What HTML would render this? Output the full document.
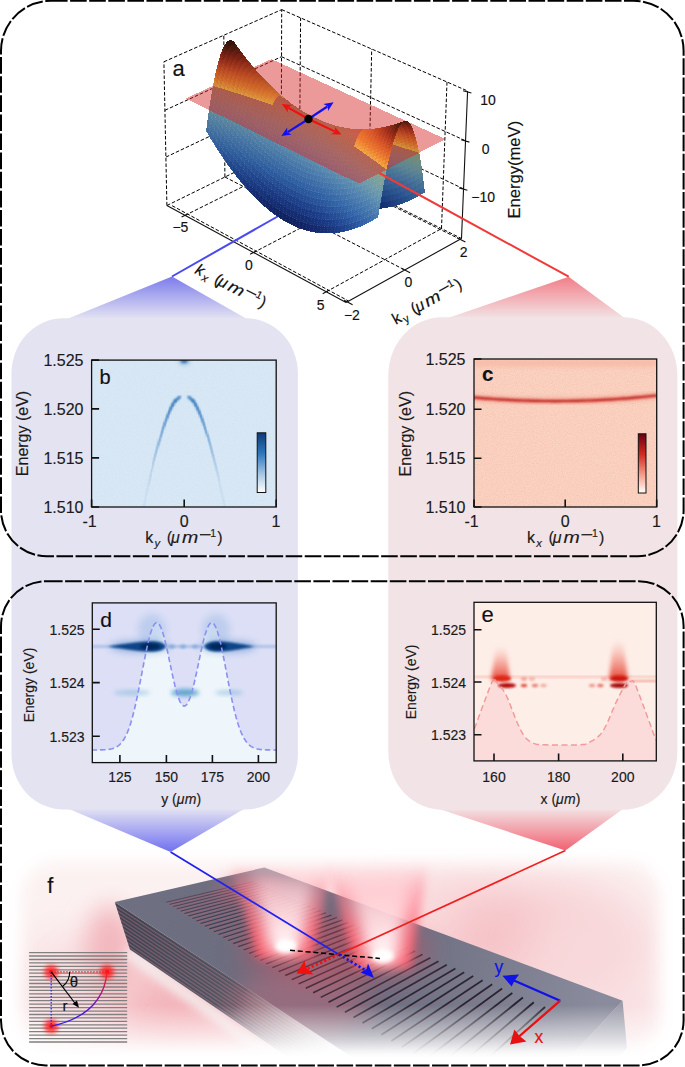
<!DOCTYPE html><html><head><meta charset="utf-8"><style>html,body{margin:0;padding:0;background:#fff;font-family:"Liberation Sans",sans-serif;}svg{display:block}</style></head><body>
<svg width="685" height="1067" viewBox="0 0 685 1067" style="font-family:&quot;Liberation Sans&quot;,sans-serif">
<defs>
<linearGradient id="gfunB1" x1="0" y1="276" x2="0" y2="319" gradientUnits="userSpaceOnUse">
 <stop offset="0" stop-color="#7a7aec"/><stop offset="1" stop-color="#e4e3f2"/></linearGradient>
<linearGradient id="gfunB2" x1="0" y1="852" x2="0" y2="808" gradientUnits="userSpaceOnUse">
 <stop offset="0" stop-color="#7070f0"/><stop offset="1" stop-color="#e4e3f2"/></linearGradient>
<linearGradient id="gfunR1" x1="0" y1="276" x2="0" y2="319" gradientUnits="userSpaceOnUse">
 <stop offset="0" stop-color="#f27c86"/><stop offset="1" stop-color="#f2e4e6"/></linearGradient>
<linearGradient id="gfunR2" x1="0" y1="851" x2="0" y2="808" gradientUnits="userSpaceOnUse">
 <stop offset="0" stop-color="#f26070"/><stop offset="1" stop-color="#f2e4e6"/></linearGradient>
<filter id="fb25" x="-50%" y="-50%" width="200%" height="200%"><feGaussianBlur stdDeviation="25"/></filter><filter id="fb12" x="-50%" y="-50%" width="200%" height="200%"><feGaussianBlur stdDeviation="12"/></filter><filter id="fb8" x="-50%" y="-50%" width="200%" height="200%"><feGaussianBlur stdDeviation="8"/></filter><filter id="fb4" x="-50%" y="-50%" width="200%" height="200%"><feGaussianBlur stdDeviation="4"/></filter><filter id="fb2" x="-50%" y="-50%" width="200%" height="200%"><feGaussianBlur stdDeviation="2"/></filter><filter id="fb1" x="-50%" y="-50%" width="200%" height="200%"><feGaussianBlur stdDeviation="0.8"/></filter><mask id="mf" maskUnits="userSpaceOnUse" x="0" y="820" width="685" height="247"><rect x="0" y="820" width="685" height="247" fill="#000"/><rect x="22" y="862" width="638" height="192" rx="34" fill="#fff" filter="url(#fb8)"/></mask><linearGradient id="gtop" gradientUnits="userSpaceOnUse" x1="150" y1="880" x2="600" y2="1010"><stop offset="0" stop-color="#6e6f80"/><stop offset="0.5" stop-color="#6a6b7e"/><stop offset="1" stop-color="#8a8b9c"/></linearGradient><linearGradient id="gfade" gradientUnits="userSpaceOnUse" x1="0" y1="1005" x2="0" y2="1058"><stop offset="0" stop-color="#fff" stop-opacity="0"/><stop offset="1" stop-color="#fff" stop-opacity="1"/></linearGradient><linearGradient id="gfadeL" gradientUnits="userSpaceOnUse" x1="120" y1="940" x2="330" y2="1060"><stop offset="0" stop-color="#fff" stop-opacity="0"/><stop offset="0.55" stop-color="#fff" stop-opacity="0.1"/><stop offset="1" stop-color="#fff" stop-opacity="0.95"/></linearGradient><linearGradient id="gbeamO" x1="0" y1="0" x2="0" y2="1"><stop offset="0" stop-color="#ffb0b8" stop-opacity="0.0"/><stop offset="0.3" stop-color="#ff8090" stop-opacity="0.5"/><stop offset="0.7" stop-color="#ff6070" stop-opacity="0.85"/><stop offset="1" stop-color="#ff5868" stop-opacity="0.95"/></linearGradient><linearGradient id="gbeamI" x1="0" y1="0" x2="0" y2="1"><stop offset="0" stop-color="#fff0f2" stop-opacity="0.15"/><stop offset="0.35" stop-color="#ffe0e4" stop-opacity="0.75"/><stop offset="0.8" stop-color="#fff4f6" stop-opacity="0.95"/><stop offset="1" stop-color="#ffffff" stop-opacity="1"/></linearGradient><filter id="noise" x="0" y="0" width="100%" height="100%">
<feTurbulence type="fractalNoise" baseFrequency="0.9" numOctaves="2" seed="3" result="t"/>
<feColorMatrix in="t" type="matrix" values="0 0 0 0 0  0 0 0 0 0  0 0 0 0 0  0 0 0 -1.2 0.75" result="a"/>
<feComposite in="SourceGraphic" in2="a" operator="in"/></filter><filter id="bl1" x="-50%" y="-50%" width="200%" height="200%"><feGaussianBlur stdDeviation="1.2"/></filter><filter id="bl2" x="-50%" y="-50%" width="200%" height="200%"><feGaussianBlur stdDeviation="2.2"/></filter><filter id="bl3" x="-50%" y="-50%" width="200%" height="200%"><feGaussianBlur stdDeviation="3.5"/></filter><filter id="bl5" x="-50%" y="-50%" width="200%" height="200%"><feGaussianBlur stdDeviation="5"/></filter><clipPath id="cpb"><rect x="91.6" y="360.1" width="184.6" height="146.9"/></clipPath><clipPath id="cpc"><rect x="474" y="359" width="182.7" height="148"/></clipPath><clipPath id="cpd"><rect x="92.3" y="602.9" width="183.9" height="159.7"/></clipPath><clipPath id="cpe"><rect x="474" y="602.3" width="182.3" height="158.6"/></clipPath><linearGradient id="cbB" x1="0" y1="0" x2="0" y2="1"><stop offset="0" stop-color="#0b3a78"/><stop offset="0.35" stop-color="#2f78bd"/><stop offset="0.7" stop-color="#a8c8e6"/><stop offset="1" stop-color="#ffffff"/></linearGradient><linearGradient id="cbR" x1="0" y1="0" x2="0" y2="1"><stop offset="0" stop-color="#6b0010"/><stop offset="0.35" stop-color="#d22a22"/><stop offset="0.7" stop-color="#f5a08a"/><stop offset="1" stop-color="#ffffff"/></linearGradient><linearGradient id="gplume" x1="0" y1="0" x2="0" y2="1"><stop offset="0" stop-color="#f8a090" stop-opacity="0"/><stop offset="0.5" stop-color="#f07060" stop-opacity="0.55"/><stop offset="1" stop-color="#e03020" stop-opacity="0.9"/></linearGradient></defs>
<g mask="url(#mf)"><rect x="0" y="840" width="685" height="227" fill="#fcf1f1"/><ellipse cx="180" cy="1010" rx="110" ry="55" fill="#f3b4ba" filter="url(#fb25)"/><ellipse cx="490" cy="935" rx="120" ry="50" fill="#f5c0c5" filter="url(#fb25)"/><ellipse cx="590" cy="950" rx="70" ry="60" fill="#f8d8da" filter="url(#fb25)"/><ellipse cx="380" cy="915" rx="90" ry="30" fill="#fae0e2" filter="url(#fb25)"/><ellipse cx="70" cy="990" rx="60" ry="50" fill="#f8dcdf" filter="url(#fb25)"/><ellipse cx="110" cy="950" rx="25" ry="45" fill="#f2b8be" filter="url(#fb12)"/><ellipse cx="620" cy="1030" rx="50" ry="30" fill="#f8d8dc" filter="url(#fb25)"/><path d="M121,955 L131,948 L305,1068 L285,1073 Z" fill="#f4eeee" opacity="0.85" filter="url(#fb4)"/><polygon points="114.8,901.9 402.0,1090.0 336.6,1090.0 130.0,949.5" fill="#50505f"/><path d="M116.2,906.4L376.2,1077.4M117.7,911.0L377.7,1082.5M119.1,915.5L379.1,1087.7M120.6,920.0L380.6,1092.8M122.0,924.6L382.0,1098.0M123.5,929.1L383.5,1103.1M124.9,933.6L384.9,1108.3M126.4,938.2L386.4,1113.4M127.8,942.7L387.8,1118.6M129.3,947.2L389.3,1123.7" stroke="#a06070" stroke-width="0.9" fill="none" opacity="0.6"/><path d="M115.6,904.4L375.6,1075.3M117.0,908.9L377.0,1080.5M118.5,913.5L378.5,1085.6M119.9,918.0L379.9,1090.8M121.4,922.5L381.4,1095.9M122.8,927.1L382.8,1101.1M124.3,931.6L384.3,1106.2M125.7,936.1L385.7,1111.4M127.2,940.7L387.2,1116.5M128.6,945.2L388.6,1121.7" stroke="#383844" stroke-width="1.0" fill="none" opacity="0.7"/><polygon points="622.6,1000.7 627.0,1048.0 590.0,1090.0 540.0,1090.0" fill="#9c9cab"/><polygon points="114.8,901.9 264.3,867.5 622.6,1000.7 540.0,1090.0 402.0,1090.0" fill="url(#gtop)"/><ellipse cx="300" cy="1005" rx="70" ry="35" fill="#e07080" opacity="0.35" filter="url(#fb12)"/><line x1="166.1" y1="903.5" x2="253.4" y2="882.8" stroke="#d85868" stroke-width="0.63" opacity="0.55"/><line x1="166.1" y1="902.3" x2="253.4" y2="881.6" stroke="rgb(80,62,82)" stroke-width="0.90" opacity="0.9"/><line x1="169.6" y1="905.6" x2="257.3" y2="884.5" stroke="#d85868" stroke-width="0.65" opacity="0.54"/><line x1="169.6" y1="904.4" x2="257.3" y2="883.3" stroke="rgb(78,61,80)" stroke-width="0.92" opacity="0.9"/><line x1="173.2" y1="907.9" x2="261.2" y2="886.2" stroke="#d85868" stroke-width="0.66" opacity="0.53"/><line x1="173.2" y1="906.6" x2="261.2" y2="885.0" stroke="rgb(77,60,79)" stroke-width="0.95" opacity="0.9"/><line x1="176.8" y1="910.2" x2="265.3" y2="888.0" stroke="#d85868" stroke-width="0.68" opacity="0.52"/><line x1="176.8" y1="908.9" x2="265.3" y2="886.7" stroke="rgb(76,59,78)" stroke-width="0.97" opacity="0.9"/><line x1="180.6" y1="912.5" x2="269.4" y2="889.8" stroke="#d85868" stroke-width="0.69" opacity="0.50"/><line x1="180.6" y1="911.2" x2="269.4" y2="888.5" stroke="rgb(74,58,77)" stroke-width="0.99" opacity="0.9"/><line x1="184.4" y1="914.9" x2="273.6" y2="891.6" stroke="#d85868" stroke-width="0.71" opacity="0.49"/><line x1="184.4" y1="913.5" x2="273.6" y2="890.3" stroke="rgb(73,57,76)" stroke-width="1.01" opacity="0.9"/><line x1="188.3" y1="917.3" x2="277.8" y2="893.5" stroke="#d85868" stroke-width="0.73" opacity="0.48"/><line x1="188.3" y1="916.0" x2="277.8" y2="892.1" stroke="rgb(72,56,75)" stroke-width="1.04" opacity="0.9"/><line x1="192.3" y1="919.8" x2="282.2" y2="895.4" stroke="#d85868" stroke-width="0.74" opacity="0.47"/><line x1="192.3" y1="918.4" x2="282.2" y2="894.0" stroke="rgb(71,56,74)" stroke-width="1.06" opacity="0.9"/><line x1="196.4" y1="922.3" x2="286.7" y2="897.3" stroke="#d85868" stroke-width="0.76" opacity="0.46"/><line x1="196.4" y1="920.9" x2="286.7" y2="895.9" stroke="rgb(70,55,73)" stroke-width="1.08" opacity="0.9"/><line x1="200.6" y1="925.0" x2="291.2" y2="899.3" stroke="#d85868" stroke-width="0.77" opacity="0.45"/><line x1="200.6" y1="923.5" x2="291.2" y2="897.9" stroke="rgb(68,54,72)" stroke-width="1.10" opacity="0.9"/><line x1="204.9" y1="927.6" x2="295.9" y2="901.3" stroke="#d85868" stroke-width="0.79" opacity="0.44"/><line x1="204.9" y1="926.2" x2="295.9" y2="899.9" stroke="rgb(67,53,71)" stroke-width="1.13" opacity="0.9"/><line x1="209.3" y1="930.4" x2="300.6" y2="903.4" stroke="#d85868" stroke-width="0.80" opacity="0.42"/><line x1="209.3" y1="928.9" x2="300.6" y2="901.9" stroke="rgb(66,52,70)" stroke-width="1.15" opacity="0.9"/><line x1="213.9" y1="933.2" x2="305.5" y2="905.5" stroke="#d85868" stroke-width="0.82" opacity="0.41"/><line x1="213.9" y1="931.7" x2="305.5" y2="904.0" stroke="rgb(65,51,69)" stroke-width="1.17" opacity="0.9"/><line x1="218.5" y1="936.1" x2="310.4" y2="907.7" stroke="#d85868" stroke-width="0.84" opacity="0.40"/><line x1="218.5" y1="934.5" x2="310.4" y2="906.1" stroke="rgb(63,51,68)" stroke-width="1.20" opacity="0.9"/><line x1="223.3" y1="939.0" x2="315.5" y2="909.9" stroke="#d85868" stroke-width="0.85" opacity="0.39"/><line x1="223.3" y1="937.5" x2="315.5" y2="908.3" stroke="rgb(62,50,67)" stroke-width="1.22" opacity="0.9"/><line x1="228.1" y1="942.1" x2="320.7" y2="912.1" stroke="#d85868" stroke-width="0.87" opacity="0.38"/><line x1="228.1" y1="940.5" x2="320.7" y2="910.5" stroke="rgb(61,49,65)" stroke-width="1.24" opacity="0.9"/><line x1="233.2" y1="945.2" x2="325.9" y2="914.4" stroke="#d85868" stroke-width="0.88" opacity="0.37"/><line x1="233.2" y1="943.6" x2="325.9" y2="912.8" stroke="rgb(60,48,64)" stroke-width="1.26" opacity="0.9"/><line x1="238.3" y1="948.4" x2="331.4" y2="916.8" stroke="#d85868" stroke-width="0.90" opacity="0.36"/><line x1="238.3" y1="946.7" x2="331.4" y2="915.1" stroke="rgb(58,47,63)" stroke-width="1.29" opacity="0.9"/><line x1="243.6" y1="951.7" x2="336.9" y2="919.2" stroke="#d85868" stroke-width="0.92" opacity="0.35"/><line x1="243.6" y1="950.0" x2="336.9" y2="917.5" stroke="rgb(57,46,62)" stroke-width="1.31" opacity="0.9"/><line x1="249.1" y1="955.1" x2="342.6" y2="921.7" stroke="#d85868" stroke-width="0.93" opacity="0.33"/><line x1="249.1" y1="953.3" x2="342.6" y2="919.9" stroke="rgb(56,46,61)" stroke-width="1.33" opacity="0.9"/><line x1="254.6" y1="958.5" x2="348.4" y2="924.2" stroke="#d85868" stroke-width="0.95" opacity="0.32"/><line x1="254.6" y1="956.8" x2="348.4" y2="922.4" stroke="rgb(55,45,60)" stroke-width="1.35" opacity="0.9"/><line x1="260.4" y1="962.1" x2="354.3" y2="926.8" stroke="#d85868" stroke-width="0.96" opacity="0.31"/><line x1="260.4" y1="960.3" x2="354.3" y2="925.0" stroke="rgb(53,44,59)" stroke-width="1.38" opacity="0.9"/><line x1="266.3" y1="965.8" x2="360.4" y2="929.4" stroke="#d85868" stroke-width="0.98" opacity="0.30"/><line x1="266.3" y1="963.9" x2="360.4" y2="927.6" stroke="rgb(52,43,58)" stroke-width="1.40" opacity="0.9"/><line x1="272.4" y1="969.5" x2="366.6" y2="932.1" stroke="#d85868" stroke-width="1.00" opacity="0.29"/><line x1="272.4" y1="967.7" x2="366.6" y2="930.3" stroke="rgb(51,42,57)" stroke-width="1.42" opacity="0.9"/><line x1="278.7" y1="973.4" x2="373.0" y2="934.9" stroke="#d85868" stroke-width="1.01" opacity="0.28"/><line x1="278.7" y1="971.6" x2="373.0" y2="933.0" stroke="rgb(50,41,56)" stroke-width="1.45" opacity="0.9"/><line x1="285.2" y1="977.4" x2="379.6" y2="937.8" stroke="#d85868" stroke-width="1.03" opacity="0.27"/><line x1="285.2" y1="975.5" x2="379.6" y2="935.9" stroke="rgb(48,40,55)" stroke-width="1.47" opacity="0.9"/><line x1="291.8" y1="981.6" x2="386.3" y2="940.7" stroke="#d85868" stroke-width="1.04" opacity="0.25"/><line x1="291.8" y1="979.6" x2="386.3" y2="938.7" stroke="rgb(47,40,54)" stroke-width="1.49" opacity="0.9"/><line x1="298.7" y1="985.8" x2="393.2" y2="943.7" stroke="#d85868" stroke-width="1.06" opacity="0.24"/><line x1="298.7" y1="983.9" x2="393.2" y2="941.7" stroke="rgb(46,39,53)" stroke-width="1.51" opacity="0.9"/><line x1="305.8" y1="990.2" x2="400.2" y2="946.7" stroke="#d85868" stroke-width="1.08" opacity="0.23"/><line x1="305.8" y1="988.2" x2="400.2" y2="944.7" stroke="rgb(45,38,52)" stroke-width="1.54" opacity="0.9"/><line x1="313.1" y1="994.8" x2="407.5" y2="949.9" stroke="#d85868" stroke-width="1.09" opacity="0.22"/><line x1="313.1" y1="992.7" x2="407.5" y2="947.9" stroke="rgb(43,37,51)" stroke-width="1.56" opacity="0.9"/><line x1="320.7" y1="999.4" x2="414.9" y2="953.1" stroke="#d85868" stroke-width="1.11" opacity="0.21"/><line x1="320.7" y1="997.4" x2="414.9" y2="951.1" stroke="rgb(42,36,49)" stroke-width="1.58" opacity="0.9"/><line x1="328.5" y1="1004.3" x2="422.6" y2="956.4" stroke="#d85868" stroke-width="1.12" opacity="0.20"/><line x1="328.5" y1="1002.2" x2="422.6" y2="954.4" stroke="rgb(41,35,48)" stroke-width="1.60" opacity="0.9"/><line x1="336.6" y1="1009.3" x2="430.4" y2="959.9" stroke="#d85868" stroke-width="1.14" opacity="0.19"/><line x1="336.6" y1="1007.1" x2="430.4" y2="957.7" stroke="rgb(40,35,47)" stroke-width="1.63" opacity="0.9"/><line x1="344.9" y1="1014.4" x2="438.5" y2="963.4" stroke="#d85868" stroke-width="1.15" opacity="0.17"/><line x1="344.9" y1="1012.3" x2="438.5" y2="961.2" stroke="rgb(38,34,46)" stroke-width="1.65" opacity="0.9"/><line x1="353.5" y1="1019.8" x2="446.8" y2="967.0" stroke="#d85868" stroke-width="1.17" opacity="0.16"/><line x1="353.5" y1="1017.6" x2="446.8" y2="964.8" stroke="rgb(37,33,45)" stroke-width="1.67" opacity="0.9"/><line x1="362.5" y1="1025.3" x2="455.4" y2="970.7" stroke="#d85868" stroke-width="1.19" opacity="0.15"/><line x1="362.5" y1="1023.1" x2="455.4" y2="968.5" stroke="rgb(36,32,44)" stroke-width="1.70" opacity="0.9"/><line x1="371.8" y1="1031.0" x2="464.2" y2="974.5" stroke="#d85868" stroke-width="1.20" opacity="0.14"/><line x1="371.8" y1="1028.8" x2="464.2" y2="972.2" stroke="rgb(35,31,43)" stroke-width="1.72" opacity="0.9"/><line x1="381.4" y1="1037.0" x2="473.2" y2="978.4" stroke="#d85868" stroke-width="1.22" opacity="0.13"/><line x1="381.4" y1="1034.7" x2="473.2" y2="976.1" stroke="rgb(33,30,42)" stroke-width="1.74" opacity="0.9"/><line x1="391.4" y1="1043.2" x2="482.6" y2="982.4" stroke="#d85868" stroke-width="1.23" opacity="0.12"/><line x1="391.4" y1="1040.9" x2="482.6" y2="980.2" stroke="rgb(32,30,41)" stroke-width="1.76" opacity="0.9"/><line x1="401.8" y1="1049.6" x2="492.2" y2="986.6" stroke="#d85868" stroke-width="1.25" opacity="0.11"/><line x1="401.8" y1="1047.3" x2="492.2" y2="984.3" stroke="rgb(31,29,40)" stroke-width="1.79" opacity="0.9"/><line x1="412.5" y1="1056.2" x2="502.1" y2="990.9" stroke="#d85868" stroke-width="1.27" opacity="0.10"/><line x1="412.5" y1="1053.9" x2="502.1" y2="988.5" stroke="rgb(30,28,39)" stroke-width="1.81" opacity="0.9"/><line x1="423.7" y1="1063.2" x2="512.3" y2="995.3" stroke="#d85868" stroke-width="1.28" opacity="0.08"/><line x1="423.7" y1="1060.8" x2="512.3" y2="992.9" stroke="rgb(28,27,38)" stroke-width="1.83" opacity="0.9"/><line x1="435.4" y1="1070.4" x2="522.9" y2="999.9" stroke="#d85868" stroke-width="1.30" opacity="0.07"/><line x1="435.4" y1="1067.9" x2="522.9" y2="997.5" stroke="rgb(27,26,37)" stroke-width="1.85" opacity="0.9"/><line x1="447.5" y1="1077.9" x2="533.8" y2="1004.6" stroke="#d85868" stroke-width="1.31" opacity="0.06"/><line x1="447.5" y1="1075.4" x2="533.8" y2="1002.2" stroke="rgb(26,25,36)" stroke-width="1.88" opacity="0.9"/><line x1="460.2" y1="1085.7" x2="545.0" y2="1009.5" stroke="#d85868" stroke-width="1.33" opacity="0.05"/><line x1="460.2" y1="1083.2" x2="545.0" y2="1007.0" stroke="rgb(25,25,35)" stroke-width="1.90" opacity="0.9"/><ellipse cx="335" cy="950" rx="95" ry="32" fill="#ff4050" opacity="0.30" filter="url(#fb12)"/><ellipse cx="252" cy="888" rx="36" ry="14" fill="#e86878" opacity="0.35" filter="url(#fb8)"/><path d="M258,958 L312,958 L334,858 L228,858 Z" fill="url(#gbeamO)" filter="url(#fb4)"/><path d="M356,968 L410,968 L430,856 L324,856 Z" fill="url(#gbeamO)" filter="url(#fb4)"/><path d="M270,953 L300,953 L318,866 L248,866 Z" fill="url(#gbeamI)" filter="url(#fb8)"/><path d="M368,963 L398,963 L414,864 L344,864 Z" fill="url(#gbeamI)" filter="url(#fb8)"/><ellipse cx="286" cy="946" rx="11" ry="7" fill="#ffffff" filter="url(#fb2)"/><ellipse cx="383" cy="956" rx="11" ry="7" fill="#ffffff" filter="url(#fb2)"/><rect x="0" y="1000" width="685" height="67" fill="url(#gfade)"/><polygon points="114.8,901.9 402.0,1090.0 336.6,1090.0 130.0,949.5" fill="url(#gfadeL)"/></g>
<line x1="170.6" y1="852" x2="338.8" y2="954.4" stroke="#2020f0" stroke-width="1.7"/>
<line x1="565.4" y1="850.6" x2="338.8" y2="954.4" stroke="#f02020" stroke-width="1.7"/>
<line x1="290" y1="950.2" x2="379.9" y2="958.5" stroke="#000" stroke-width="1.5" stroke-dasharray="5 2.8"/>
<line x1="338.8" y1="954.4" x2="308" y2="968.5" stroke="#f01010" stroke-width="2.6" stroke-dasharray="2.2 2.4"/>
<path d="M296.4,973.6 L304.5,960.5 L306,967.5 L313.5,974.5 Z" fill="#f01010"/>
<line x1="338.8" y1="954.4" x2="365" y2="970" stroke="#1010f0" stroke-width="2.6" stroke-dasharray="2.2 2.4"/>
<path d="M374,978 L360.5,972.5 L366.5,969 L368,963.5 Z" fill="#1010f0"/>
<line x1="560.2" y1="1000.7" x2="514" y2="980.5" stroke="#1010e8" stroke-width="2.3"/>
<path d="M502.5,975.7 L519,974.6 L514.5,980.8 L511.6,986.6 Z" fill="#1010e8"/>
<line x1="560.2" y1="1000.7" x2="519" y2="1036.5" stroke="#e81010" stroke-width="2.3"/>
<path d="M510,1044.6 L514.4,1029.6 L519.5,1036 L526.4,1041.6 Z" fill="#e81010"/>
<text x="494.5" y="972.5" font-size="17.5" fill="#1010e8" stroke="#1010e8" stroke-width="0.15">y</text>
<text x="534.5" y="1043" font-size="17.5" fill="#e81010" stroke="#e81010" stroke-width="0.15">x</text>
<text x="47.3" y="892.7" font-size="22" fill="#111" stroke="#111" stroke-width="0.15">f</text>
<path d="M29.1,952.6H127.2M29.1,956.0H127.2M29.1,959.5H127.2M29.1,962.9H127.2M29.1,966.4H127.2M29.1,969.8H127.2M29.1,973.2H127.2M29.1,976.7H127.2M29.1,980.1H127.2M29.1,983.5H127.2M29.1,987.0H127.2M29.1,990.4H127.2M29.1,993.9H127.2M29.1,997.3H127.2M29.1,1000.7H127.2M29.1,1004.2H127.2M29.1,1007.6H127.2M29.1,1011.1H127.2M29.1,1014.5H127.2M29.1,1017.9H127.2M29.1,1021.4H127.2M29.1,1024.8H127.2M29.1,1028.2H127.2M29.1,1031.7H127.2M29.1,1035.1H127.2M29.1,1038.6H127.2M29.1,1042.0H127.2" stroke="#808080" stroke-width="1.3" fill="none"/>
<circle cx="51.2" cy="971.9" r="7" fill="#ff2020" opacity="0.85" filter="url(#fb2)"/>
<circle cx="51.2" cy="971.9" r="2" fill="#ff1010"/>
<circle cx="107.1" cy="971.9" r="7" fill="#ff2020" opacity="0.85" filter="url(#fb2)"/>
<circle cx="107.1" cy="971.9" r="2" fill="#ff1010"/>
<circle cx="51.2" cy="1026.2" r="7" fill="#ff2020" opacity="0.85" filter="url(#fb2)"/>
<circle cx="51.2" cy="1026.2" r="2" fill="#ff1010"/>
<line x1="51.2" y1="971.9" x2="107.1" y2="971.9" stroke="#ff2020" stroke-width="1.2" stroke-dasharray="1.5 1.5"/>
<line x1="51.2" y1="971.9" x2="51.2" y2="1026.2" stroke="#2020ff" stroke-width="1.2" stroke-dasharray="1.5 1.5"/>
<defs><linearGradient id="gcur" x1="51" y1="1026" x2="107" y2="972" gradientUnits="userSpaceOnUse"><stop offset="0" stop-color="#2020ff"/><stop offset="0.55" stop-color="#6010d0"/><stop offset="1" stop-color="#ff2020"/></linearGradient></defs>
<path d="M51.2,1026.2 C80,1020 104,1005 107.1,971.9" stroke="url(#gcur)" stroke-width="1.3" fill="none"/>
<line x1="51.2" y1="971.9" x2="76" y2="1004.5" stroke="#000" stroke-width="1.2"/>
<path d="M79,1007.8 L72.5,1004 L77,1000.5 Z" fill="#000"/>
<path d="M69.7,971.9 A18.5,18.5 0 0 1 62.5,986.5" stroke="#000" stroke-width="1.1" fill="none"/>
<text x="69.8" y="987" font-size="15" fill="#111" stroke="#111" stroke-width="0.15">θ</text>
<text x="62.5" y="1011" font-size="15" fill="#111" stroke="#111" stroke-width="0.15">r</text>
<path d="M172,276.5 L67,319 L247,319 Z" fill="url(#gfunB1)"/>
<path d="M170.6,852 L69,809 L244,809 Z" fill="url(#gfunB2)"/>
<path d="M568.7,276.7 L445,319 L626,319 Z" fill="url(#gfunR1)"/>
<path d="M565.4,850.6 L439,809 L623,809 Z" fill="url(#gfunR2)"/>
<path d="M63.5,318.2 L245.89999999999998,318.2 A52,55 0 0 1 297.9,373.2 L297.9,754.5 A52,55 0 0 1 245.89999999999998,809.5 L63.5,809.5 A52,55 0 0 1 11.5,754.5 L11.5,373.2 A52,55 0 0 1 63.5,318.2 Z" fill="#e4e3f2"/>
<path d="M442.3,317.2 L623.4,317.2 A54,58 0 0 1 677.4,375.2 L677.4,751.7 A54,58 0 0 1 623.4,809.7 L442.3,809.7 A54,58 0 0 1 388.3,751.7 L388.3,375.2 A54,58 0 0 1 442.3,317.2 Z" fill="#f2e4e6"/>
<g clip-path="url(#cpb)">
<rect x="91.6" y="360.1" width="184.6" height="146.89999999999998" fill="#d9e8f5"/>
<rect x="91.6" y="360.1" width="184.6" height="146.89999999999998" fill="#c4dcf0" filter="url(#noise)" opacity="0.6"/>
<line x1="179.7" y1="397.0" x2="175.2" y2="400.9" stroke="#2a72bb" stroke-width="2.60" stroke-opacity="0.95" stroke-linecap="round" filter="url(#bl1)"/>
<line x1="175.2" y1="400.9" x2="172.7" y2="404.8" stroke="#2a72bb" stroke-width="2.57" stroke-opacity="0.90" stroke-linecap="round" filter="url(#bl1)"/>
<line x1="172.7" y1="404.8" x2="170.7" y2="408.7" stroke="#2a72bb" stroke-width="2.54" stroke-opacity="0.85" stroke-linecap="round" filter="url(#bl1)"/>
<line x1="170.7" y1="408.7" x2="169.0" y2="412.6" stroke="#2a72bb" stroke-width="2.52" stroke-opacity="0.80" stroke-linecap="round" filter="url(#bl1)"/>
<line x1="169.0" y1="412.6" x2="167.4" y2="416.5" stroke="#2a72bb" stroke-width="2.49" stroke-opacity="0.75" stroke-linecap="round" filter="url(#bl1)"/>
<line x1="167.4" y1="416.5" x2="165.9" y2="420.4" stroke="#2a72bb" stroke-width="2.46" stroke-opacity="0.70" stroke-linecap="round" filter="url(#bl1)"/>
<line x1="165.9" y1="420.4" x2="164.5" y2="424.3" stroke="#2a72bb" stroke-width="2.43" stroke-opacity="0.66" stroke-linecap="round" filter="url(#bl1)"/>
<line x1="164.5" y1="424.3" x2="163.2" y2="428.2" stroke="#2a72bb" stroke-width="2.41" stroke-opacity="0.61" stroke-linecap="round" filter="url(#bl1)"/>
<line x1="163.2" y1="428.2" x2="162.0" y2="432.1" stroke="#2a72bb" stroke-width="2.38" stroke-opacity="0.57" stroke-linecap="round" filter="url(#bl1)"/>
<line x1="162.0" y1="432.1" x2="160.8" y2="436.0" stroke="#2a72bb" stroke-width="2.35" stroke-opacity="0.52" stroke-linecap="round" filter="url(#bl1)"/>
<line x1="160.8" y1="436.0" x2="159.6" y2="439.9" stroke="#2a72bb" stroke-width="2.32" stroke-opacity="0.48" stroke-linecap="round" filter="url(#bl1)"/>
<line x1="159.6" y1="439.9" x2="158.5" y2="443.8" stroke="#2a72bb" stroke-width="2.30" stroke-opacity="0.44" stroke-linecap="round" filter="url(#bl1)"/>
<line x1="158.5" y1="443.8" x2="157.4" y2="447.7" stroke="#2a72bb" stroke-width="2.27" stroke-opacity="0.40" stroke-linecap="round" filter="url(#bl1)"/>
<line x1="157.4" y1="447.7" x2="156.4" y2="451.6" stroke="#2a72bb" stroke-width="2.24" stroke-opacity="0.37" stroke-linecap="round" filter="url(#bl1)"/>
<line x1="156.4" y1="451.6" x2="155.4" y2="455.4" stroke="#2a72bb" stroke-width="2.21" stroke-opacity="0.33" stroke-linecap="round" filter="url(#bl1)"/>
<line x1="155.4" y1="455.4" x2="154.4" y2="459.3" stroke="#2a72bb" stroke-width="2.19" stroke-opacity="0.30" stroke-linecap="round" filter="url(#bl1)"/>
<line x1="154.4" y1="459.3" x2="153.4" y2="463.2" stroke="#2a72bb" stroke-width="2.16" stroke-opacity="0.26" stroke-linecap="round" filter="url(#bl1)"/>
<line x1="153.4" y1="463.2" x2="152.5" y2="467.1" stroke="#2a72bb" stroke-width="2.13" stroke-opacity="0.23" stroke-linecap="round" filter="url(#bl1)"/>
<line x1="152.5" y1="467.1" x2="151.5" y2="471.0" stroke="#2a72bb" stroke-width="2.10" stroke-opacity="0.20" stroke-linecap="round" filter="url(#bl1)"/>
<line x1="151.5" y1="471.0" x2="150.6" y2="474.9" stroke="#2a72bb" stroke-width="2.08" stroke-opacity="0.17" stroke-linecap="round" filter="url(#bl1)"/>
<line x1="150.6" y1="474.9" x2="149.7" y2="478.8" stroke="#2a72bb" stroke-width="2.05" stroke-opacity="0.15" stroke-linecap="round" filter="url(#bl1)"/>
<line x1="149.7" y1="478.8" x2="148.9" y2="482.7" stroke="#2a72bb" stroke-width="2.02" stroke-opacity="0.12" stroke-linecap="round" filter="url(#bl1)"/>
<line x1="148.9" y1="482.7" x2="148.0" y2="486.6" stroke="#2a72bb" stroke-width="1.99" stroke-opacity="0.10" stroke-linecap="round" filter="url(#bl1)"/>
<line x1="148.0" y1="486.6" x2="147.1" y2="490.5" stroke="#2a72bb" stroke-width="1.97" stroke-opacity="0.08" stroke-linecap="round" filter="url(#bl1)"/>
<line x1="147.1" y1="490.5" x2="146.3" y2="494.4" stroke="#2a72bb" stroke-width="1.94" stroke-opacity="0.08" stroke-linecap="round" filter="url(#bl1)"/>
<line x1="146.3" y1="494.4" x2="145.5" y2="498.3" stroke="#2a72bb" stroke-width="1.91" stroke-opacity="0.08" stroke-linecap="round" filter="url(#bl1)"/>
<line x1="145.5" y1="498.3" x2="144.7" y2="502.2" stroke="#2a72bb" stroke-width="1.88" stroke-opacity="0.08" stroke-linecap="round" filter="url(#bl1)"/>
<line x1="144.7" y1="502.2" x2="143.9" y2="506.1" stroke="#2a72bb" stroke-width="1.86" stroke-opacity="0.08" stroke-linecap="round" filter="url(#bl1)"/>
<line x1="143.9" y1="506.1" x2="143.1" y2="510.0" stroke="#2a72bb" stroke-width="1.83" stroke-opacity="0.08" stroke-linecap="round" filter="url(#bl1)"/>
<line x1="188.7" y1="397.0" x2="193.2" y2="400.9" stroke="#2a72bb" stroke-width="2.60" stroke-opacity="0.95" stroke-linecap="round" filter="url(#bl1)"/>
<line x1="193.2" y1="400.9" x2="195.7" y2="404.8" stroke="#2a72bb" stroke-width="2.57" stroke-opacity="0.90" stroke-linecap="round" filter="url(#bl1)"/>
<line x1="195.7" y1="404.8" x2="197.7" y2="408.7" stroke="#2a72bb" stroke-width="2.54" stroke-opacity="0.85" stroke-linecap="round" filter="url(#bl1)"/>
<line x1="197.7" y1="408.7" x2="199.4" y2="412.6" stroke="#2a72bb" stroke-width="2.52" stroke-opacity="0.80" stroke-linecap="round" filter="url(#bl1)"/>
<line x1="199.4" y1="412.6" x2="201.0" y2="416.5" stroke="#2a72bb" stroke-width="2.49" stroke-opacity="0.75" stroke-linecap="round" filter="url(#bl1)"/>
<line x1="201.0" y1="416.5" x2="202.5" y2="420.4" stroke="#2a72bb" stroke-width="2.46" stroke-opacity="0.70" stroke-linecap="round" filter="url(#bl1)"/>
<line x1="202.5" y1="420.4" x2="203.9" y2="424.3" stroke="#2a72bb" stroke-width="2.43" stroke-opacity="0.66" stroke-linecap="round" filter="url(#bl1)"/>
<line x1="203.9" y1="424.3" x2="205.2" y2="428.2" stroke="#2a72bb" stroke-width="2.41" stroke-opacity="0.61" stroke-linecap="round" filter="url(#bl1)"/>
<line x1="205.2" y1="428.2" x2="206.4" y2="432.1" stroke="#2a72bb" stroke-width="2.38" stroke-opacity="0.57" stroke-linecap="round" filter="url(#bl1)"/>
<line x1="206.4" y1="432.1" x2="207.6" y2="436.0" stroke="#2a72bb" stroke-width="2.35" stroke-opacity="0.52" stroke-linecap="round" filter="url(#bl1)"/>
<line x1="207.6" y1="436.0" x2="208.8" y2="439.9" stroke="#2a72bb" stroke-width="2.32" stroke-opacity="0.48" stroke-linecap="round" filter="url(#bl1)"/>
<line x1="208.8" y1="439.9" x2="209.9" y2="443.8" stroke="#2a72bb" stroke-width="2.30" stroke-opacity="0.44" stroke-linecap="round" filter="url(#bl1)"/>
<line x1="209.9" y1="443.8" x2="211.0" y2="447.7" stroke="#2a72bb" stroke-width="2.27" stroke-opacity="0.40" stroke-linecap="round" filter="url(#bl1)"/>
<line x1="211.0" y1="447.7" x2="212.0" y2="451.6" stroke="#2a72bb" stroke-width="2.24" stroke-opacity="0.37" stroke-linecap="round" filter="url(#bl1)"/>
<line x1="212.0" y1="451.6" x2="213.0" y2="455.4" stroke="#2a72bb" stroke-width="2.21" stroke-opacity="0.33" stroke-linecap="round" filter="url(#bl1)"/>
<line x1="213.0" y1="455.4" x2="214.0" y2="459.3" stroke="#2a72bb" stroke-width="2.19" stroke-opacity="0.30" stroke-linecap="round" filter="url(#bl1)"/>
<line x1="214.0" y1="459.3" x2="215.0" y2="463.2" stroke="#2a72bb" stroke-width="2.16" stroke-opacity="0.26" stroke-linecap="round" filter="url(#bl1)"/>
<line x1="215.0" y1="463.2" x2="215.9" y2="467.1" stroke="#2a72bb" stroke-width="2.13" stroke-opacity="0.23" stroke-linecap="round" filter="url(#bl1)"/>
<line x1="215.9" y1="467.1" x2="216.9" y2="471.0" stroke="#2a72bb" stroke-width="2.10" stroke-opacity="0.20" stroke-linecap="round" filter="url(#bl1)"/>
<line x1="216.9" y1="471.0" x2="217.8" y2="474.9" stroke="#2a72bb" stroke-width="2.08" stroke-opacity="0.17" stroke-linecap="round" filter="url(#bl1)"/>
<line x1="217.8" y1="474.9" x2="218.7" y2="478.8" stroke="#2a72bb" stroke-width="2.05" stroke-opacity="0.15" stroke-linecap="round" filter="url(#bl1)"/>
<line x1="218.7" y1="478.8" x2="219.5" y2="482.7" stroke="#2a72bb" stroke-width="2.02" stroke-opacity="0.12" stroke-linecap="round" filter="url(#bl1)"/>
<line x1="219.5" y1="482.7" x2="220.4" y2="486.6" stroke="#2a72bb" stroke-width="1.99" stroke-opacity="0.10" stroke-linecap="round" filter="url(#bl1)"/>
<line x1="220.4" y1="486.6" x2="221.3" y2="490.5" stroke="#2a72bb" stroke-width="1.97" stroke-opacity="0.08" stroke-linecap="round" filter="url(#bl1)"/>
<line x1="221.3" y1="490.5" x2="222.1" y2="494.4" stroke="#2a72bb" stroke-width="1.94" stroke-opacity="0.08" stroke-linecap="round" filter="url(#bl1)"/>
<line x1="222.1" y1="494.4" x2="222.9" y2="498.3" stroke="#2a72bb" stroke-width="1.91" stroke-opacity="0.08" stroke-linecap="round" filter="url(#bl1)"/>
<line x1="222.9" y1="498.3" x2="223.7" y2="502.2" stroke="#2a72bb" stroke-width="1.88" stroke-opacity="0.08" stroke-linecap="round" filter="url(#bl1)"/>
<line x1="223.7" y1="502.2" x2="224.5" y2="506.1" stroke="#2a72bb" stroke-width="1.86" stroke-opacity="0.08" stroke-linecap="round" filter="url(#bl1)"/>
<line x1="224.5" y1="506.1" x2="225.3" y2="510.0" stroke="#2a72bb" stroke-width="1.83" stroke-opacity="0.08" stroke-linecap="round" filter="url(#bl1)"/>
<ellipse cx="184.2" cy="361" rx="6" ry="4" fill="#5a98d0" opacity="0.5" filter="url(#bl2)"/><ellipse cx="184.2" cy="361" rx="3.5" ry="2" fill="#2a70b0" opacity="0.85" filter="url(#bl1)"/>
</g>
<rect x="91.6" y="360.1" width="184.6" height="146.89999999999998" fill="none" stroke="#111" stroke-width="1.3"/>
<path d="M91.6,408.9h7.5M91.6,457.9h7.5M184.2,507.0v-7.5M91.6,360.1h7.5M91.6,507.0h7.5M91.6,507.0v-7.5M276.2,507.0v-7.5" stroke="#111" stroke-width="1.6" fill="none"/>
<rect x="257.2" y="432.8" width="8.6" height="59.7" fill="url(#cbB)" stroke="#111" stroke-width="1"/>
<text x="83.5" y="365.7" font-size="16" text-anchor="end" fill="#1a1a1a" stroke="#1a1a1a" stroke-width="0.15">1.525</text>
<text x="83.5" y="414.5" font-size="16" text-anchor="end" fill="#1a1a1a" stroke="#1a1a1a" stroke-width="0.15">1.520</text>
<text x="83.5" y="463.5" font-size="16" text-anchor="end" fill="#1a1a1a" stroke="#1a1a1a" stroke-width="0.15">1.515</text>
<text x="83.5" y="512.6" font-size="16" text-anchor="end" fill="#1a1a1a" stroke="#1a1a1a" stroke-width="0.15">1.510</text>
<text x="89.5" y="527.3" font-size="16" text-anchor="middle" fill="#1a1a1a" stroke="#1a1a1a" stroke-width="0.15">-1</text>
<text x="184.2" y="527.3" font-size="16" text-anchor="middle" fill="#1a1a1a" stroke="#1a1a1a" stroke-width="0.15">0</text>
<text x="276.0" y="527.3" font-size="16" text-anchor="middle" fill="#1a1a1a" stroke="#1a1a1a" stroke-width="0.15">1</text>
<text x="99.6" y="384.3" font-size="20" fill="#111" stroke="#111" stroke-width="0.15">b</text>
<text transform="translate(28.3,433.5) rotate(-90)" font-size="16" text-anchor="middle" fill="#1a1a1a" stroke="#1a1a1a" stroke-width="0.15">Energy (eV)</text>
<g transform="translate(146.3,543.3)" fill="#1a1a1a" stroke="#1a1a1a" stroke-width="0.15"><text x="-1.00" y="0" font-size="16">k</text><text x="8.30" y="3.40" font-size="11.20" font-style="italic">y</text><text x="20.40" y="0" font-size="16">(</text><text x="24.80" y="0" font-size="16" font-style="italic">μ</text><text transform="translate(35.60,0) scale(1.22,1)" font-size="16" font-style="italic">m</text><rect x="53.70" y="-9.20" width="10.60" height="1.15"/><text x="64.00" y="-6.40" font-size="10.50">1</text><text x="71.00" y="0" font-size="16">)</text></g>
<g clip-path="url(#cpc)">
<rect x="474.0" y="359.0" width="182.70000000000005" height="148.0" fill="#fbd3c2"/>
<rect x="474.0" y="359.0" width="182.70000000000005" height="148.0" fill="#f2b09c" filter="url(#noise)" opacity="0.7"/>
<rect x="474.0" y="359.0" width="182.70000000000005" height="8" fill="#f6b7a2" filter="url(#bl2)" opacity="0.7"/>
<polyline points="469.0,397.1 473.9,397.5 478.9,397.9 483.8,398.3 488.8,398.7 493.7,399.0 498.6,399.3 503.6,399.6 508.5,399.9 513.5,400.1 518.4,400.3 523.4,400.5 528.3,400.7 533.2,400.8 538.2,400.9 543.1,401.0 548.1,401.0 553.0,401.1 557.9,401.1 562.9,401.0 567.8,401.0 572.8,400.9 577.7,400.8 582.6,400.6 587.6,400.5 592.5,400.3 597.5,400.1 602.4,399.8 607.3,399.6 612.3,399.3 617.2,399.0 622.2,398.6 627.1,398.3 632.1,397.9 637.0,397.4 641.9,397.0 646.9,396.5 651.8,396.0 656.8,395.5 661.7,394.9" fill="none" stroke="#e86050" stroke-width="5" opacity="0.5" filter="url(#bl2)"/>
<polyline points="469.0,397.1 473.9,397.5 478.9,397.9 483.8,398.3 488.8,398.7 493.7,399.0 498.6,399.3 503.6,399.6 508.5,399.9 513.5,400.1 518.4,400.3 523.4,400.5 528.3,400.7 533.2,400.8 538.2,400.9 543.1,401.0 548.1,401.0 553.0,401.1 557.9,401.1 562.9,401.0 567.8,401.0 572.8,400.9 577.7,400.8 582.6,400.6 587.6,400.5 592.5,400.3 597.5,400.1 602.4,399.8 607.3,399.6 612.3,399.3 617.2,399.0 622.2,398.6 627.1,398.3 632.1,397.9 637.0,397.4 641.9,397.0 646.9,396.5 651.8,396.0 656.8,395.5 661.7,394.9" fill="none" stroke="#b81818" stroke-width="2.2" opacity="0.95" filter="url(#bl1)"/>
</g>
<rect x="474.0" y="359.0" width="182.70000000000005" height="148.0" fill="none" stroke="#111" stroke-width="1.3"/>
<path d="M474.0,409.3h7.5M474.0,458.3h7.5M565.2,507.0v-7.5M474.0,359.0h7.5M474.0,507.0h7.5M474.0,507.0v-7.5M656.7,507.0v-7.5" stroke="#111" stroke-width="1.6" fill="none"/>
<rect x="638.3" y="433.8" width="7.7" height="59.2" fill="url(#cbR)" stroke="#111" stroke-width="1"/>
<text x="465.5" y="364.6" font-size="16" text-anchor="end" fill="#1a1a1a" stroke="#1a1a1a" stroke-width="0.15">1.525</text>
<text x="465.5" y="414.9" font-size="16" text-anchor="end" fill="#1a1a1a" stroke="#1a1a1a" stroke-width="0.15">1.520</text>
<text x="465.5" y="463.9" font-size="16" text-anchor="end" fill="#1a1a1a" stroke="#1a1a1a" stroke-width="0.15">1.515</text>
<text x="465.5" y="512.6" font-size="16" text-anchor="end" fill="#1a1a1a" stroke="#1a1a1a" stroke-width="0.15">1.510</text>
<text x="471.5" y="527.3" font-size="16" text-anchor="middle" fill="#1a1a1a" stroke="#1a1a1a" stroke-width="0.15">-1</text>
<text x="565.2" y="527.3" font-size="16" text-anchor="middle" fill="#1a1a1a" stroke="#1a1a1a" stroke-width="0.15">0</text>
<text x="656.5" y="527.3" font-size="16" text-anchor="middle" fill="#1a1a1a" stroke="#1a1a1a" stroke-width="0.15">1</text>
<text x="482" y="381.4" font-size="20.5" font-weight="bold" fill="#111" stroke="#111" stroke-width="0.15">c</text>
<text transform="translate(410.5,433.7) rotate(-90)" font-size="16" text-anchor="middle" fill="#1a1a1a" stroke="#1a1a1a" stroke-width="0.15">Energy (eV)</text>
<g transform="translate(528.0,543.3)" fill="#1a1a1a" stroke="#1a1a1a" stroke-width="0.15"><text x="-1.00" y="0" font-size="16">k</text><text x="8.30" y="3.40" font-size="11.20" font-style="italic">x</text><text x="20.40" y="0" font-size="16">(</text><text x="24.80" y="0" font-size="16" font-style="italic">μ</text><text transform="translate(35.60,0) scale(1.22,1)" font-size="16" font-style="italic">m</text><rect x="53.70" y="-9.20" width="10.60" height="1.15"/><text x="64.00" y="-6.40" font-size="10.50">1</text><text x="71.00" y="0" font-size="16">)</text></g>
<g clip-path="url(#cpd)">
<rect x="92.3" y="602.9" width="183.89999999999998" height="159.70000000000005" fill="#dcdff6"/>
<polygon points="83.1,750.0 84.8,750.0 86.5,750.0 88.2,750.0 89.9,750.0 91.6,750.0 93.3,750.0 95.0,750.0 96.7,750.0 98.4,750.0 100.1,749.9 101.8,749.9 103.5,749.8 105.2,749.7 106.9,749.6 108.6,749.4 110.3,749.1 112.0,748.7 113.7,748.2 115.4,747.5 117.1,746.6 118.8,745.4 120.5,743.8 122.2,741.8 123.9,739.3 125.6,736.3 127.3,732.6 129.0,728.3 130.7,723.2 132.4,717.3 134.1,710.7 135.8,703.4 137.5,695.5 139.2,687.1 140.9,678.3 142.6,669.4 144.3,660.6 146.0,652.1 147.7,644.2 149.4,637.3 151.1,631.4 152.8,627.0 154.5,624.0 156.2,622.6 157.9,623.0 159.6,625.0 161.3,628.5 163.0,633.4 164.7,639.6 166.4,646.6 168.1,654.3 169.8,662.4 171.5,670.5 173.2,678.3 174.9,685.5 176.6,691.9 178.3,697.3 180.0,701.6 181.7,704.5 183.4,705.9 185.1,705.9 186.8,704.5 188.5,701.6 190.2,697.3 191.9,691.9 193.6,685.5 195.3,678.3 197.0,670.5 198.7,662.4 200.4,654.3 202.1,646.6 203.8,639.6 205.5,633.4 207.2,628.5 208.9,625.0 210.6,623.0 212.3,622.6 214.0,624.0 215.7,627.0 217.4,631.4 219.1,637.3 220.8,644.2 222.5,652.1 224.2,660.6 225.9,669.4 227.6,678.3 229.3,687.1 231.0,695.5 232.7,703.4 234.4,710.7 236.1,717.3 237.8,723.2 239.5,728.3 241.2,732.6 242.9,736.3 244.6,739.3 246.3,741.8 248.0,743.8 249.7,745.4 251.4,746.6 253.1,747.5 254.8,748.2 256.5,748.7 258.2,749.1 259.9,749.4 261.6,749.6 263.3,749.7 265.0,749.8 266.7,749.9 268.4,749.9 270.1,750.0 271.8,750.0 273.5,750.0 275.2,750.0 276.9,750.0 278.6,750.0 280.3,750.0 282.0,750.0 283.7,750.0 285.4,750.0 281.2,767.6 87.3,767.6" fill="#eef5fb"/>
<ellipse cx="152" cy="630" rx="14" ry="16" fill="#9ab8e4" opacity="0.45" filter="url(#bl3)"/>
<ellipse cx="216" cy="630" rx="14" ry="16" fill="#9ab8e4" opacity="0.45" filter="url(#bl3)"/>
<rect x="92" y="645" width="185" height="3" fill="#7aa0d8" opacity="0.45" filter="url(#bl1)"/>
<ellipse cx="140" cy="646.5" rx="30" ry="6" fill="#3a78c0" opacity="0.45" filter="url(#bl3)"/>
<ellipse cx="228" cy="646.5" rx="28" ry="6" fill="#3a78c0" opacity="0.45" filter="url(#bl3)"/>
<path d="M108,646.5 C125,644 140,641.5 152,641.3 C160,641.3 164.5,643.5 165.5,646.5 C164.5,649.5 160,651.7 152,651.7 C140,651.5 125,649 108,646.5 Z" fill="#0b4488" filter="url(#bl1)"/>
<ellipse cx="150" cy="646.5" rx="10" ry="3.3" fill="#05285c" filter="url(#bl1)"/>
<path d="M254,646.5 C240,644 228,641.5 217,641.3 C210,641.3 205.5,643.5 204.5,646.5 C205.5,649.5 210,651.7 217,651.7 C228,651.5 240,649 254,646.5 Z" fill="#0b4488" filter="url(#bl1)"/>
<ellipse cx="218" cy="646.5" rx="9" ry="3.3" fill="#05285c" filter="url(#bl1)"/>
<ellipse cx="172" cy="646.5" rx="3" ry="2" fill="#7aa6d6" opacity="0.7" filter="url(#bl1)"/>
<ellipse cx="183" cy="646.5" rx="3" ry="2" fill="#7aa6d6" opacity="0.7" filter="url(#bl1)"/>
<ellipse cx="195" cy="646.5" rx="3" ry="2" fill="#7aa6d6" opacity="0.7" filter="url(#bl1)"/>
<ellipse cx="185" cy="692.7" rx="14" ry="3.6" fill="#4a9cc8" opacity="0.85" filter="url(#bl2)"/>
<ellipse cx="132" cy="692.7" rx="18" ry="2.6" fill="#6aaed0" opacity="0.45" filter="url(#bl2)"/>
<ellipse cx="229" cy="692.7" rx="14" ry="2.6" fill="#6aaed0" opacity="0.45" filter="url(#bl2)"/>
<polyline points="83.1,750.0 84.8,750.0 86.5,750.0 88.2,750.0 89.9,750.0 91.6,750.0 93.3,750.0 95.0,750.0 96.7,750.0 98.4,750.0 100.1,749.9 101.8,749.9 103.5,749.8 105.2,749.7 106.9,749.6 108.6,749.4 110.3,749.1 112.0,748.7 113.7,748.2 115.4,747.5 117.1,746.6 118.8,745.4 120.5,743.8 122.2,741.8 123.9,739.3 125.6,736.3 127.3,732.6 129.0,728.3 130.7,723.2 132.4,717.3 134.1,710.7 135.8,703.4 137.5,695.5 139.2,687.1 140.9,678.3 142.6,669.4 144.3,660.6 146.0,652.1 147.7,644.2 149.4,637.3 151.1,631.4 152.8,627.0 154.5,624.0 156.2,622.6 157.9,623.0 159.6,625.0 161.3,628.5 163.0,633.4 164.7,639.6 166.4,646.6 168.1,654.3 169.8,662.4 171.5,670.5 173.2,678.3 174.9,685.5 176.6,691.9 178.3,697.3 180.0,701.6 181.7,704.5 183.4,705.9 185.1,705.9 186.8,704.5 188.5,701.6 190.2,697.3 191.9,691.9 193.6,685.5 195.3,678.3 197.0,670.5 198.7,662.4 200.4,654.3 202.1,646.6 203.8,639.6 205.5,633.4 207.2,628.5 208.9,625.0 210.6,623.0 212.3,622.6 214.0,624.0 215.7,627.0 217.4,631.4 219.1,637.3 220.8,644.2 222.5,652.1 224.2,660.6 225.9,669.4 227.6,678.3 229.3,687.1 231.0,695.5 232.7,703.4 234.4,710.7 236.1,717.3 237.8,723.2 239.5,728.3 241.2,732.6 242.9,736.3 244.6,739.3 246.3,741.8 248.0,743.8 249.7,745.4 251.4,746.6 253.1,747.5 254.8,748.2 256.5,748.7 258.2,749.1 259.9,749.4 261.6,749.6 263.3,749.7 265.0,749.8 266.7,749.9 268.4,749.9 270.1,750.0 271.8,750.0 273.5,750.0 275.2,750.0 276.9,750.0 278.6,750.0 280.3,750.0 282.0,750.0 283.7,750.0 285.4,750.0" fill="none" stroke="#8c90f0" stroke-width="1.6" stroke-dasharray="5.5 3"/>
</g>
<rect x="92.3" y="602.9" width="183.89999999999998" height="159.70000000000005" fill="none" stroke="#111" stroke-width="1.3"/>
<path d="M92.3,629.2h7.5M92.3,682.6h7.5M92.3,736.2h7.5M119.9,762.6v-7.5M166.4,762.6v-7.5M212.4,762.6v-7.5M258.4,762.6v-7.5" stroke="#111" stroke-width="1.6" fill="none"/>
<text x="84.6" y="634.8" font-size="14" text-anchor="end" fill="#1a1a1a" stroke="#1a1a1a" stroke-width="0.15">1.525</text>
<text x="84.6" y="688.2" font-size="14" text-anchor="end" fill="#1a1a1a" stroke="#1a1a1a" stroke-width="0.15">1.524</text>
<text x="84.6" y="741.8" font-size="14" text-anchor="end" fill="#1a1a1a" stroke="#1a1a1a" stroke-width="0.15">1.523</text>
<text x="119.9" y="782.1" font-size="14" text-anchor="middle" fill="#1a1a1a" stroke="#1a1a1a" stroke-width="0.15">125</text>
<text x="166.4" y="782.1" font-size="14" text-anchor="middle" fill="#1a1a1a" stroke="#1a1a1a" stroke-width="0.15">150</text>
<text x="212.4" y="782.1" font-size="14" text-anchor="middle" fill="#1a1a1a" stroke="#1a1a1a" stroke-width="0.15">175</text>
<text x="258.4" y="782.1" font-size="14" text-anchor="middle" fill="#1a1a1a" stroke="#1a1a1a" stroke-width="0.15">200</text>
<text x="100.2" y="626.8" font-size="21" fill="#111" stroke="#111" stroke-width="0.15">d</text>
<text transform="translate(33.6,685) rotate(-90)" font-size="14" text-anchor="middle" fill="#1a1a1a" stroke="#1a1a1a" stroke-width="0.15">Energy (eV)</text>
<text x="161.2" y="804.4" font-size="14" fill="#1a1a1a" stroke="#1a1a1a" stroke-width="0.15">y (<tspan font-style="italic">μ</tspan><tspan font-style="italic" dx="0.3">m</tspan>)</text>
<g clip-path="url(#cpe)">
<rect x="474.0" y="602.3" width="182.29999999999995" height="158.60000000000002" fill="#fdeee8"/>
<polygon points="470.0,737.0 470.2,736.7 470.4,736.6 470.6,736.6 470.9,736.3 471.3,735.7 471.9,734.5 472.8,732.5 474.0,729.6 475.7,725.2 477.9,719.3 480.4,712.5 483.1,705.1 485.8,697.9 488.3,691.2 490.5,685.6 492.2,681.6 493.3,679.2 494.0,677.9 494.4,677.5 494.6,677.8 494.8,678.5 495.0,679.5 495.3,680.6 496.0,681.6 496.9,682.5 498.0,683.7 499.2,685.0 500.5,686.6 501.9,688.3 503.3,690.3 504.7,692.6 506.0,695.0 507.4,697.9 508.8,701.2 510.3,704.9 511.7,708.7 513.2,712.6 514.6,716.3 516.0,719.7 517.2,722.6 518.3,725.1 519.4,727.3 520.3,729.3 521.2,731.1 522.2,732.8 523.1,734.3 524.0,735.7 525.0,737.0 526.0,738.2 527.1,739.3 528.1,740.2 529.2,741.0 530.3,741.7 531.4,742.3 532.6,742.9 533.8,743.4 534.9,743.8 535.9,744.1 536.8,744.4 537.8,744.5 539.0,744.6 540.5,744.7 542.4,744.7 545.0,744.8 548.4,744.9 552.7,745.0 557.5,745.0 562.6,745.1 567.7,745.1 572.4,745.0 576.7,744.9 580.0,744.8 582.4,744.6 584.2,744.5 585.4,744.3 586.4,744.1 587.1,743.8 587.9,743.3 588.8,742.8 590.0,742.0 591.5,741.2 593.0,740.3 594.6,739.3 596.2,738.2 597.9,736.9 599.6,735.3 601.3,733.4 603.0,731.0 604.7,728.0 606.5,724.4 608.4,720.4 610.2,716.2 612.0,711.8 613.8,707.7 615.4,703.8 617.0,700.4 618.5,697.4 619.9,694.5 621.3,691.8 622.6,689.3 623.9,687.0 625.0,685.0 626.1,683.4 627.0,682.0 627.8,681.1 628.4,680.6 628.9,680.4 629.4,680.5 629.8,680.8 630.1,681.1 630.5,681.4 631.0,681.6 631.4,681.6 631.8,681.3 632.1,681.0 632.5,680.7 632.9,680.7 633.4,681.2 634.1,682.2 635.0,684.0 636.2,686.7 637.6,690.4 639.2,694.6 641.0,699.3 642.7,704.1 644.5,708.8 646.1,713.2 647.5,717.0 648.8,720.4 649.9,723.6 651.0,726.6 652.0,729.5 653.0,732.2 654.0,734.7 654.9,736.9 655.8,739.0 656.7,740.8 657.6,742.4 658.6,743.7 659.4,744.9 660.2,745.9 660.9,746.7 661.5,747.4 662.0,748.0 662,770 470,770" fill="#fbdcda"/>
<rect x="474" y="676" width="183" height="1.6" fill="#f4a898" opacity="0.7" filter="url(#bl1)"/>
<path d="M491,680 L510,680 L506,646 L496,646 Z" fill="url(#gplume)" filter="url(#bl2)"/>
<path d="M609,680 L628,680 L623,640 L613,640 Z" fill="url(#gplume)" filter="url(#bl2)"/>
<ellipse cx="502" cy="678.5" rx="9" ry="3" fill="#e02818" filter="url(#bl1)"/>
<ellipse cx="507" cy="685.5" rx="9" ry="2.6" fill="#b81010" filter="url(#bl1)"/>
<ellipse cx="619" cy="678.5" rx="9" ry="3" fill="#d01810" filter="url(#bl1)"/>
<ellipse cx="619" cy="685.5" rx="9" ry="2.6" fill="#a80808" filter="url(#bl1)"/>
<ellipse cx="524" cy="685.5" rx="3.2" ry="1.8" fill="#e03a2a" opacity="0.85" filter="url(#bl1)"/>
<ellipse cx="535" cy="685.5" rx="3.2" ry="1.8" fill="#e03a2a" opacity="0.6" filter="url(#bl1)"/>
<ellipse cx="543.5" cy="685.5" rx="3.2" ry="1.8" fill="#e03a2a" opacity="0.35" filter="url(#bl1)"/>
<ellipse cx="524" cy="679" rx="3.2" ry="1.8" fill="#e03a2a" opacity="0.4" filter="url(#bl1)"/>
<ellipse cx="532" cy="679" rx="3.2" ry="1.8" fill="#e03a2a" opacity="0.3" filter="url(#bl1)"/>
<ellipse cx="592" cy="685.5" rx="3.2" ry="1.8" fill="#e03a2a" opacity="0.45" filter="url(#bl1)"/>
<ellipse cx="600.4" cy="685.5" rx="3.2" ry="1.8" fill="#e03a2a" opacity="0.65" filter="url(#bl1)"/>
<ellipse cx="604" cy="679" rx="3.2" ry="1.8" fill="#e03a2a" opacity="0.3" filter="url(#bl1)"/>
<rect x="630" y="680" width="26" height="2" fill="#f08878" opacity="0.7" filter="url(#bl1)"/>
<polyline points="470.0,737.0 470.2,736.7 470.4,736.6 470.6,736.6 470.9,736.3 471.3,735.7 471.9,734.5 472.8,732.5 474.0,729.6 475.7,725.2 477.9,719.3 480.4,712.5 483.1,705.1 485.8,697.9 488.3,691.2 490.5,685.6 492.2,681.6 493.3,679.2 494.0,677.9 494.4,677.5 494.6,677.8 494.8,678.5 495.0,679.5 495.3,680.6 496.0,681.6 496.9,682.5 498.0,683.7 499.2,685.0 500.5,686.6 501.9,688.3 503.3,690.3 504.7,692.6 506.0,695.0 507.4,697.9 508.8,701.2 510.3,704.9 511.7,708.7 513.2,712.6 514.6,716.3 516.0,719.7 517.2,722.6 518.3,725.1 519.4,727.3 520.3,729.3 521.2,731.1 522.2,732.8 523.1,734.3 524.0,735.7 525.0,737.0 526.0,738.2 527.1,739.3 528.1,740.2 529.2,741.0 530.3,741.7 531.4,742.3 532.6,742.9 533.8,743.4 534.9,743.8 535.9,744.1 536.8,744.4 537.8,744.5 539.0,744.6 540.5,744.7 542.4,744.7 545.0,744.8 548.4,744.9 552.7,745.0 557.5,745.0 562.6,745.1 567.7,745.1 572.4,745.0 576.7,744.9 580.0,744.8 582.4,744.6 584.2,744.5 585.4,744.3 586.4,744.1 587.1,743.8 587.9,743.3 588.8,742.8 590.0,742.0 591.5,741.2 593.0,740.3 594.6,739.3 596.2,738.2 597.9,736.9 599.6,735.3 601.3,733.4 603.0,731.0 604.7,728.0 606.5,724.4 608.4,720.4 610.2,716.2 612.0,711.8 613.8,707.7 615.4,703.8 617.0,700.4 618.5,697.4 619.9,694.5 621.3,691.8 622.6,689.3 623.9,687.0 625.0,685.0 626.1,683.4 627.0,682.0 627.8,681.1 628.4,680.6 628.9,680.4 629.4,680.5 629.8,680.8 630.1,681.1 630.5,681.4 631.0,681.6 631.4,681.6 631.8,681.3 632.1,681.0 632.5,680.7 632.9,680.7 633.4,681.2 634.1,682.2 635.0,684.0 636.2,686.7 637.6,690.4 639.2,694.6 641.0,699.3 642.7,704.1 644.5,708.8 646.1,713.2 647.5,717.0 648.8,720.4 649.9,723.6 651.0,726.6 652.0,729.5 653.0,732.2 654.0,734.7 654.9,736.9 655.8,739.0 656.7,740.8 657.6,742.4 658.6,743.7 659.4,744.9 660.2,745.9 660.9,746.7 661.5,747.4 662.0,748.0" fill="none" stroke="#f29a98" stroke-width="1.5" stroke-dasharray="6 3.5"/>
</g>
<rect x="474.0" y="602.3" width="182.29999999999995" height="158.60000000000002" fill="none" stroke="#111" stroke-width="1.3"/>
<path d="M474.0,629.7h7.5M474.0,682.0h7.5M474.0,734.7h7.5M494.0,760.9v-7.5M558.6,760.9v-7.5M622.8,760.9v-7.5" stroke="#111" stroke-width="1.6" fill="none"/>
<text x="466" y="635.3" font-size="14" text-anchor="end" fill="#1a1a1a" stroke="#1a1a1a" stroke-width="0.15">1.525</text>
<text x="466" y="687.6" font-size="14" text-anchor="end" fill="#1a1a1a" stroke="#1a1a1a" stroke-width="0.15">1.524</text>
<text x="466" y="740.3" font-size="14" text-anchor="end" fill="#1a1a1a" stroke="#1a1a1a" stroke-width="0.15">1.523</text>
<text x="494.0" y="782.1" font-size="14" text-anchor="middle" fill="#1a1a1a" stroke="#1a1a1a" stroke-width="0.15">160</text>
<text x="558.6" y="782.1" font-size="14" text-anchor="middle" fill="#1a1a1a" stroke="#1a1a1a" stroke-width="0.15">180</text>
<text x="622.8" y="782.1" font-size="14" text-anchor="middle" fill="#1a1a1a" stroke="#1a1a1a" stroke-width="0.15">200</text>
<text x="481.6" y="622.4" font-size="22" fill="#111" stroke="#111" stroke-width="0.15">e</text>
<text transform="translate(416.1,681.9) rotate(-90)" font-size="14" text-anchor="middle" fill="#1a1a1a" stroke="#1a1a1a" stroke-width="0.15">Energy (eV)</text>
<text x="540.5" y="804.4" font-size="14" fill="#1a1a1a" stroke="#1a1a1a" stroke-width="0.15">x (<tspan font-style="italic">μ</tspan><tspan font-style="italic" dx="0.3">m</tspan>)</text>
<path d="M51.0,0.8 L633.6,0.8 A50,50 0 0 1 683.6,50.8 L683.6,510.29999999999995 A46,46 0 0 1 637.6,556.3 L47.0,556.3 A46,46 0 0 1 1.0,510.29999999999995 L1.0,50.8 A50,50 0 0 1 51.0,0.8 Z" fill="none" stroke="#000" stroke-width="2" stroke-dasharray="16.6 2.5"/>
<path d="M46.0,581.2 L638.6,581.2 A45,45 0 0 1 683.6,626.2 L683.6,1020.4000000000001 A45,45 0 0 1 638.6,1065.4 L46.0,1065.4 A45,45 0 0 1 1.0,1020.4000000000001 L1.0,626.2 A45,45 0 0 1 46.0,581.2 Z" fill="none" stroke="#000" stroke-width="2" stroke-dasharray="16.6 2.5"/>
<path d="M163.9,61.8L281.7,9.6M166.9,205.5L163.9,61.8M281.2,149.4L281.7,9.6M165.9,157.1L281.4,102.3M164.9,110.3L281.5,56.7M224.9,177.0L223.8,35.2M281.7,9.6L467.6,91.0M281.4,102.3L463.6,188.9M281.5,56.7L465.6,140.8M299.5,158.5L300.6,17.8M368.6,192.6L371.7,49.0M441.5,228.6L447.0,82.0M166.9,205.5L281.2,149.4M281.2,149.4L461.5,238.5M185.0,215.4L299.5,158.5M253.6,252.5L368.6,192.6M326.2,291.8L441.5,228.6M224.9,177.0L404.8,270.0M279.8,150.1L460.1,239.3M172.1,205.7L348.7,301.1" fill="none" stroke="#000" stroke-width="1.0" stroke-dasharray="3.6 1.9"/>
<path d="M166.9,205.5L346.1,302.6M346.1,302.6L461.5,238.5M461.5,238.5L467.6,91.0M181.6,217.1L186.8,214.5M250.1,254.3L255.4,251.6M322.7,293.7L328.0,290.8M344.2,300.3L352.6,304.8M401.8,268.4L410.1,272.7M457.0,237.8L465.4,241.9M459.1,187.9L467.4,190.2M461.1,139.8L469.4,142.1M463.1,90.7L471.4,93.0" fill="none" stroke="#111" stroke-width="1.1"/>
<text x="180.4" y="231.5" font-size="14" text-anchor="middle" fill="#111" stroke="#111" stroke-width="0.15">−5</text>
<text x="249" y="269.5" font-size="14" text-anchor="middle" fill="#111" stroke="#111" stroke-width="0.15">0</text>
<text x="320.6" y="309.5" font-size="14" text-anchor="middle" fill="#111" stroke="#111" stroke-width="0.15">5</text>
<text x="351.9" y="320.2" font-size="14" text-anchor="middle" fill="#111" stroke="#111" stroke-width="0.15">−2</text>
<text x="408.4" y="287.4" font-size="14" text-anchor="middle" fill="#111" stroke="#111" stroke-width="0.15">0</text>
<text x="463.6" y="256.7" font-size="14" text-anchor="middle" fill="#111" stroke="#111" stroke-width="0.15">2</text>
<text x="488" y="105.30000000000001" font-size="14" text-anchor="middle" fill="#111" stroke="#111" stroke-width="0.15">10</text>
<text x="485.6" y="153.8" font-size="14" text-anchor="middle" fill="#111" stroke="#111" stroke-width="0.15">0</text>
<text x="483.2" y="201.6" font-size="14" text-anchor="middle" fill="#111" stroke="#111" stroke-width="0.15">−10</text>
<g transform="translate(195.0,273.5) rotate(27)" fill="#111" stroke="#111" stroke-width="0.15"><text x="-1.00" y="0" font-size="16" font-style="italic">k</text><text x="8.30" y="3.40" font-size="11.20" font-style="italic">x</text><text x="20.40" y="0" font-size="16">(</text><text x="24.80" y="0" font-size="16" font-style="italic">μ</text><text transform="translate(35.60,0) scale(1.22,1)" font-size="16" font-style="italic">m</text><rect x="53.70" y="-9.20" width="10.60" height="1.15"/><text x="64.00" y="-6.40" font-size="10.50">1</text><text x="71.00" y="0" font-size="16">)</text></g>
<g transform="translate(396.5,324.5) rotate(-29)" fill="#111" stroke="#111" stroke-width="0.15"><text x="-1.00" y="0" font-size="16">k</text><text x="8.30" y="3.40" font-size="11.20">y</text><text x="20.40" y="0" font-size="16">(</text><text x="24.80" y="0" font-size="16" font-style="italic">μ</text><text transform="translate(35.60,0) scale(1.22,1)" font-size="16" font-style="italic">m</text><rect x="53.70" y="-9.20" width="10.60" height="1.15"/><text x="64.00" y="-6.40" font-size="10.50">1</text><text x="71.00" y="0" font-size="16">)</text></g>
<text transform="translate(519.5,169.7) rotate(-90)" font-size="16.6" text-anchor="middle" fill="#111" stroke="#111" stroke-width="0.15">Energy(meV)</text>
<text x="172.6" y="75.5" font-size="22" fill="#111" stroke="#111" stroke-width="0.15">a</text>
<line x1="172" y1="276.5" x2="282" y2="214" stroke="#4a4af0" stroke-width="2"/>
<g shape-rendering="crispEdges">
<path d="M251.6,103.8L254.9,109.2L255.7,114.5L252.5,109.1Z" fill="#375c85"/>
<path d="M254.9,109.2L258.1,114.4L259.0,119.8L255.7,114.5Z" fill="#325884"/>
<path d="M258.1,114.4L261.4,119.5L262.2,125.0L259.0,119.8Z" fill="#2d5383"/>
<path d="M250.8,98.7L254.0,104.1L254.9,109.2L251.6,103.8Z" fill="#3e6487"/>
<path d="M261.4,119.5L264.6,124.4L265.5,129.9L262.2,125.0Z" fill="#294f82"/>
<path d="M254.0,104.1L257.3,109.2L258.1,114.4L254.9,109.2Z" fill="#395f86"/>
<path d="M264.6,124.4L267.9,129.2L268.7,134.8L265.5,129.9Z" fill="#254a80"/>
<path d="M257.3,109.2L260.5,114.2L261.4,119.5L258.1,114.4Z" fill="#355b85"/>
<path d="M249.9,93.9L253.2,99.1L254.0,104.1L250.8,98.7Z" fill="#466b85"/>
<path d="M267.9,129.2L271.1,133.8L272.0,139.5L268.7,134.8Z" fill="#22457d"/>
<path d="M260.5,114.2L263.8,119.1L264.6,124.4L261.4,119.5Z" fill="#305684"/>
<path d="M253.2,99.1L256.4,104.2L257.3,109.2L254.0,104.1Z" fill="#416687"/>
<path d="M271.1,133.8L274.4,138.3L275.2,144.0L272.0,139.5Z" fill="#1f4179"/>
<path d="M263.8,119.1L267.0,123.8L267.9,129.2L264.6,124.4Z" fill="#2c5284"/>
<path d="M256.4,104.2L259.7,109.2L260.5,114.2L257.3,109.2Z" fill="#3c6287"/>
<path d="M249.1,89.2L252.3,94.4L253.2,99.1L249.9,93.9Z" fill="#4e7182"/>
<path d="M274.4,138.3L277.7,142.7L278.5,148.4L275.2,144.0Z" fill="#1d3c76"/>
<path d="M267.0,123.8L270.3,128.4L271.1,133.8L267.9,129.2Z" fill="#284e83"/>
<path d="M259.7,109.2L262.9,114.0L263.8,119.1L260.5,114.2Z" fill="#385e86"/>
<path d="M252.3,94.4L255.6,99.5L256.4,104.2L253.2,99.1Z" fill="#496d84"/>
<path d="M277.7,142.7L280.9,146.8L281.8,152.6L278.5,148.4Z" fill="#1a3873"/>
<path d="M270.3,128.4L273.6,132.9L274.4,138.3L271.1,133.8Z" fill="#254a81"/>
<path d="M262.9,114.0L266.2,118.7L267.0,123.8L263.8,119.1Z" fill="#345a86"/>
<path d="M255.6,99.5L258.8,104.4L259.7,109.2L256.4,104.2Z" fill="#446986"/>
<path d="M248.2,84.7L251.4,89.9L252.3,94.4L249.1,89.2Z" fill="#56767e"/>
<path d="M273.6,132.9L276.8,137.1L277.7,142.7L274.4,138.3Z" fill="#22467d"/>
<path d="M266.2,118.7L269.5,123.2L270.3,128.4L267.0,123.8Z" fill="#305685"/>
<path d="M280.9,146.8L284.2,150.9L285.0,156.7L281.8,152.6Z" fill="#183470"/>
<path d="M258.8,104.4L262.1,109.1L262.9,114.0L259.7,109.2Z" fill="#3f6588"/>
<path d="M251.4,89.9L254.7,94.9L255.6,99.5L252.3,94.4Z" fill="#517482"/>
<path d="M262.1,109.1L265.3,113.7L266.2,118.7L262.9,114.0Z" fill="#3b6187"/>
<path d="M269.5,123.2L272.7,127.6L273.6,132.9L270.3,128.4Z" fill="#2c5284"/>
<path d="M254.7,94.9L258.0,99.7L258.8,104.4L255.6,99.5Z" fill="#4c7084"/>
<path d="M276.8,137.1L280.1,141.3L280.9,146.8L277.7,142.7Z" fill="#20427a"/>
<path d="M247.3,80.5L250.6,85.6L251.4,89.9L248.2,84.7Z" fill="#5b7877"/>
<path d="M284.2,150.9L287.5,154.8L288.3,160.6L285.0,156.7Z" fill="#16316d"/>
<path d="M258.0,99.7L261.2,104.4L262.1,109.1L258.8,104.4Z" fill="#476c86"/>
<path d="M250.6,85.6L253.8,90.5L254.7,94.9L251.4,89.9Z" fill="#57777d"/>
<path d="M265.3,113.7L268.6,118.2L269.5,123.2L266.2,118.7Z" fill="#375d87"/>
<path d="M272.7,127.6L276.0,131.8L276.8,137.1L273.6,132.9Z" fill="#284f84"/>
<path d="M280.1,141.3L283.4,145.3L284.2,150.9L280.9,146.8Z" fill="#1e3e78"/>
<path d="M287.5,154.8L290.8,158.5L291.6,164.4L288.3,160.6Z" fill="#152e6a"/>
<path d="M246.4,76.4L249.7,81.5L250.6,85.6L247.3,80.5Z" fill="#62786e"/>
<path d="M253.8,90.5L257.1,95.3L258.0,99.7L254.7,94.9Z" fill="#537682"/>
<path d="M261.2,104.4L264.5,109.0L265.3,113.7L262.1,109.1Z" fill="#426888"/>
<path d="M268.6,118.2L271.9,122.6L272.7,127.6L269.5,123.2Z" fill="#335a86"/>
<path d="M276.0,131.8L279.3,135.9L280.1,141.3L276.8,137.1Z" fill="#264b82"/>
<path d="M283.4,145.3L286.7,149.1L287.5,154.8L284.2,150.9Z" fill="#1c3b75"/>
<path d="M290.8,158.5L294.1,162.1L294.9,168.0L291.6,164.4Z" fill="#142b66"/>
<path d="M249.7,81.5L253.0,86.4L253.8,90.5L250.6,85.6Z" fill="#5d7975"/>
<path d="M257.1,95.3L260.4,100.0L261.2,104.4L258.0,99.7Z" fill="#4f7284"/>
<path d="M264.5,109.0L267.8,113.4L268.6,118.2L265.3,113.7Z" fill="#3e6589"/>
<path d="M271.9,122.6L275.2,126.8L276.0,131.8L272.7,127.6Z" fill="#305786"/>
<path d="M279.3,135.9L282.6,139.9L283.4,145.3L280.1,141.3Z" fill="#23487f"/>
<path d="M245.6,72.6L248.8,77.6L249.7,81.5L246.4,76.4Z" fill="#697663"/>
<path d="M286.7,149.1L290.0,152.8L290.8,158.5L287.5,154.8Z" fill="#1a3773"/>
<path d="M253.0,86.4L256.2,91.1L257.1,95.3L253.8,90.5Z" fill="#59787b"/>
<path d="M260.4,100.0L263.6,104.5L264.5,109.0L261.2,104.4Z" fill="#4a6f85"/>
<path d="M294.1,162.1L297.4,165.5L298.2,171.5L294.9,168.0Z" fill="#132963"/>
<path d="M267.8,113.4L271.0,117.7L271.9,122.6L268.6,118.2Z" fill="#3b6188"/>
<path d="M275.2,126.8L278.4,130.8L279.3,135.9L276.0,131.8Z" fill="#2d5385"/>
<path d="M248.8,77.6L252.1,82.4L253.0,86.4L249.7,81.5Z" fill="#64786c"/>
<path d="M282.6,139.9L285.9,143.7L286.7,149.1L283.4,145.3Z" fill="#21447d"/>
<path d="M256.2,91.1L259.5,95.7L260.4,100.0L257.1,95.3Z" fill="#567780"/>
<path d="M263.6,104.5L266.9,108.9L267.8,113.4L264.5,109.0Z" fill="#466b87"/>
<path d="M290.0,152.8L293.3,156.4L294.1,162.1L290.8,158.5Z" fill="#183470"/>
<path d="M271.0,117.7L274.3,121.9L275.2,126.8L271.9,122.6Z" fill="#375e88"/>
<path d="M246.9,72.4L248.0,73.9L248.8,77.6L245.6,72.6L245.2,71.1Z" fill="#707359"/>
<path d="M252.1,82.4L255.4,87.1L256.2,91.1L253.0,86.4Z" fill="#5f7a74"/>
<path d="M297.4,165.5L300.7,168.8L301.5,174.8L298.2,171.5Z" fill="#122760"/>
<path d="M278.4,130.8L281.7,134.7L282.6,139.9L279.3,135.9Z" fill="#2a5085"/>
<path d="M259.5,95.7L262.8,100.2L263.6,104.5L260.4,100.0Z" fill="#527583"/>
<path d="M285.9,143.7L289.2,147.4L290.0,152.8L286.7,149.1Z" fill="#1f417a"/>
<path d="M266.9,108.9L270.2,113.1L271.0,117.7L267.8,113.4Z" fill="#426889"/>
<path d="M248.0,73.9L251.2,78.7L252.1,82.4L248.8,77.6Z" fill="#6b7661"/>
<path d="M274.3,121.9L277.6,125.9L278.4,130.8L275.2,126.8Z" fill="#345b87"/>
<path d="M293.3,156.4L296.6,159.8L297.4,165.5L294.1,162.1Z" fill="#16316e"/>
<path d="M255.4,87.1L258.6,91.7L259.5,95.7L256.2,91.1Z" fill="#5b7979"/>
<path d="M247.7,72.9L248.0,73.9L246.9,72.4Z" fill="#786f52"/>
<path d="M281.7,134.7L285.0,138.5L285.9,143.7L282.6,139.9Z" fill="#274d84"/>
<path d="M262.8,100.2L266.1,104.6L266.9,108.9L263.6,104.5Z" fill="#4d7185"/>
<path d="M300.7,168.8L304.0,172.0L304.8,178.0L301.5,174.8Z" fill="#11255d"/>
<path d="M251.2,78.7L254.5,83.4L255.4,87.1L252.1,82.4Z" fill="#66786a"/>
<path d="M270.2,113.1L273.5,117.3L274.3,121.9L271.0,117.7Z" fill="#3e6589"/>
<path d="M289.2,147.4L292.5,150.9L293.3,156.4L290.0,152.8Z" fill="#1e3e78"/>
<path d="M258.6,91.7L261.9,96.1L262.8,100.2L259.5,95.7Z" fill="#58787e"/>
<path d="M277.6,125.9L280.9,129.8L281.7,134.7L278.4,130.8Z" fill="#315887"/>
<path d="M249.9,74.6L250.4,75.2L251.2,78.7L248.0,73.9L247.7,72.9Z" fill="#717357"/>
<path d="M296.6,159.8L299.9,163.0L300.7,168.8L297.4,165.5Z" fill="#152f6c"/>
<path d="M266.1,104.6L269.3,108.8L270.2,113.1L266.9,108.9Z" fill="#496e87"/>
<path d="M285.0,138.5L288.3,142.1L289.2,147.4L285.9,143.7Z" fill="#254a82"/>
<path d="M254.5,83.4L257.8,87.9L258.6,91.7L255.4,87.1Z" fill="#617a72"/>
<path d="M273.5,117.3L276.8,121.2L277.6,125.9L274.3,121.9Z" fill="#3b6289"/>
<path d="M304.0,172.0L307.4,174.9L308.1,181.0L304.8,178.0Z" fill="#10235b"/>
<path d="M261.9,96.1L265.2,100.4L266.1,104.6L262.8,100.2Z" fill="#557783"/>
<path d="M292.5,150.9L295.8,154.2L296.6,159.8L293.3,156.4Z" fill="#1c3b76"/>
<path d="M250.4,75.2L253.6,79.8L254.5,83.4L251.2,78.7Z" fill="#6d7660"/>
<path d="M280.9,129.8L284.2,133.5L285.0,138.5L281.7,134.7Z" fill="#2e5586"/>
<path d="M269.3,108.8L272.6,112.8L273.5,117.3L270.2,113.1Z" fill="#466b88"/>
<path d="M250.3,74.8L250.4,75.2L249.9,74.6Z" fill="#796f52"/>
<path d="M257.8,87.9L261.1,92.3L261.9,96.1L258.6,91.7Z" fill="#5d7a77"/>
<path d="M299.9,163.0L303.2,166.1L304.0,172.0L300.7,168.8Z" fill="#152d69"/>
<path d="M288.3,142.1L291.7,145.6L292.5,150.9L289.2,147.4Z" fill="#23477f"/>
<path d="M276.8,121.2L280.1,125.1L280.9,129.8L277.6,125.9Z" fill="#385f88"/>
<path d="M265.2,100.4L268.5,104.6L269.3,108.8L266.1,104.6Z" fill="#517485"/>
<path d="M253.6,79.8L256.9,84.3L257.8,87.9L254.5,83.4Z" fill="#687867"/>
<path d="M307.4,174.9L310.7,177.8L311.5,183.9L308.1,181.0Z" fill="#102259"/>
<path d="M252.8,76.7L253.6,79.8L250.4,75.2L250.3,74.8Z" fill="#737356"/>
<path d="M295.8,154.2L299.1,157.5L299.9,163.0L296.6,159.8Z" fill="#1b3974"/>
<path d="M284.2,133.5L287.5,137.1L288.3,142.1L285.0,138.5Z" fill="#2b5286"/>
<path d="M272.6,112.8L275.9,116.8L276.8,121.2L273.5,117.3Z" fill="#42688a"/>
<path d="M261.1,92.3L264.4,96.5L265.2,100.4L261.9,96.1Z" fill="#5a797c"/>
<path d="M303.2,166.1L306.6,169.1L307.4,174.9L304.0,172.0Z" fill="#142b67"/>
<path d="M291.7,145.6L295.0,149.0L295.8,154.2L292.5,150.9Z" fill="#22457d"/>
<path d="M280.1,125.1L283.4,128.8L284.2,133.5L280.9,129.8Z" fill="#355c88"/>
<path d="M256.9,84.3L260.2,88.6L261.1,92.3L257.8,87.9Z" fill="#637a6f"/>
<path d="M268.5,104.6L271.8,108.6L272.6,112.8L269.3,108.8Z" fill="#4d7186"/>
<path d="M253.0,76.8L256.1,80.9L256.9,84.3L253.6,79.8L252.8,76.7Z" fill="#6e755e"/>
<path d="M264.4,96.5L267.6,100.7L268.5,104.6L265.2,100.4Z" fill="#577981"/>
<path d="M275.9,116.8L279.2,120.6L280.1,125.1L276.8,121.2Z" fill="#3f668a"/>
<path d="M287.5,137.1L290.8,140.6L291.7,145.6L288.3,142.1Z" fill="#295085"/>
<path d="M299.1,157.5L302.4,160.6L303.2,166.1L299.9,163.0Z" fill="#193672"/>
<path d="M310.7,177.8L314.0,180.5L314.8,186.6L311.5,183.9Z" fill="#0f2057"/>
<path d="M260.2,88.6L263.5,92.9L264.4,96.5L261.1,92.3Z" fill="#5f7b75"/>
<path d="M271.8,108.6L275.1,112.6L275.9,116.8L272.6,112.8Z" fill="#496f88"/>
<path d="M283.4,128.8L286.7,132.3L287.5,137.1L284.2,133.5Z" fill="#335a88"/>
<path d="M295.0,149.0L298.3,152.2L299.1,157.5L295.8,154.2Z" fill="#20427c"/>
<path d="M306.6,169.1L309.9,171.9L310.7,177.8L307.4,174.9Z" fill="#132a65"/>
<path d="M256.1,80.9L259.3,85.2L260.2,88.6L256.9,84.3Z" fill="#6a7865"/>
<path d="M206.1,131.0L209.3,136.6L210.1,130.3L206.9,124.9Z" fill="#416e9e"/>
<path d="M267.6,100.7L270.9,104.7L271.8,108.6L268.5,104.6Z" fill="#547784"/>
<path d="M255.4,78.5L256.1,80.9L253.0,76.8Z" fill="#757356"/>
<path d="M279.2,120.6L282.6,124.2L283.4,128.8L280.1,125.1Z" fill="#3c638a"/>
<path d="M290.8,140.6L294.2,143.9L295.0,149.0L291.7,145.6Z" fill="#274e85"/>
<path d="M302.4,160.6L305.8,163.5L306.6,169.1L303.2,166.1Z" fill="#183471"/>
<path d="M263.5,92.9L266.8,97.0L267.6,100.7L264.4,96.5Z" fill="#5c7b7a"/>
<path d="M314.0,180.5L317.4,183.0L318.2,189.1L314.8,186.6Z" fill="#0f1f55"/>
<path d="M209.3,136.6L212.6,142.0L213.4,135.7L210.1,130.3Z" fill="#3b689d"/>
<path d="M275.1,112.6L278.4,116.3L279.2,120.6L275.9,116.8Z" fill="#466c89"/>
<path d="M286.7,132.3L290.0,135.8L290.8,140.6L287.5,137.1Z" fill="#305787"/>
<path d="M259.3,85.2L262.6,89.4L263.5,92.9L260.2,88.6Z" fill="#667a6c"/>
<path d="M298.3,152.2L301.6,155.2L302.4,160.6L299.1,157.5Z" fill="#1f407a"/>
<path d="M206.9,124.9L210.1,130.3L211.0,124.3L207.7,118.9Z" fill="#4a77a0"/>
<path d="M270.9,104.7L274.2,108.6L275.1,112.6L271.8,108.6Z" fill="#517486"/>
<path d="M309.9,171.9L313.3,174.6L314.0,180.5L310.7,177.8Z" fill="#132963"/>
<path d="M256.2,79.1L258.5,82.1L259.3,85.2L256.1,80.9L255.4,78.5Z" fill="#70755c"/>
<path d="M282.6,124.2L285.9,127.8L286.7,132.3L283.4,128.8Z" fill="#39618a"/>
<path d="M212.6,142.0L215.9,147.2L216.7,140.8L213.4,135.7Z" fill="#36639c"/>
<path d="M266.8,97.0L270.1,100.9L270.9,104.7L267.6,100.7Z" fill="#5a7a7f"/>
<path d="M294.2,143.9L297.5,147.1L298.3,152.2L295.0,149.0Z" fill="#254b83"/>
<path d="M210.1,130.3L213.4,135.7L214.2,129.6L211.0,124.3Z" fill="#44719f"/>
<path d="M305.8,163.5L309.1,166.3L309.9,171.9L306.6,169.1Z" fill="#173270"/>
<path d="M278.4,116.3L281.7,120.0L282.6,124.2L279.2,120.6Z" fill="#43698a"/>
<path d="M262.6,89.4L265.9,93.5L266.8,97.0L263.5,92.9Z" fill="#627c73"/>
<path d="M317.4,183.0L320.8,185.4L321.5,191.5L318.2,189.1Z" fill="#0e1e54"/>
<path d="M290.0,135.8L293.3,139.0L294.2,143.9L290.8,140.6Z" fill="#2e5587"/>
<path d="M207.7,118.9L211.0,124.3L211.8,118.5L208.5,113.2Z" fill="#537f9d"/>
<path d="M215.9,147.2L219.1,152.3L219.9,145.9L216.7,140.8Z" fill="#305e9b"/>
<path d="M258.5,82.1L261.8,86.2L262.6,89.4L259.3,85.2Z" fill="#6c7863"/>
<path d="M274.2,108.6L277.6,112.3L278.4,116.3L275.1,112.6Z" fill="#4d7287"/>
<path d="M301.6,155.2L305.0,158.1L305.8,163.5L302.4,160.6Z" fill="#1e3e79"/>
<path d="M258.0,80.4L258.5,82.1L256.2,79.1Z" fill="#777355"/>
<path d="M213.4,135.7L216.7,140.8L217.5,134.7L214.2,129.6Z" fill="#3f6c9e"/>
<path d="M285.9,127.8L289.2,131.2L290.0,135.8L286.7,132.3Z" fill="#375e89"/>
<path d="M270.1,100.9L273.4,104.8L274.2,108.6L270.9,104.7Z" fill="#577983"/>
<path d="M313.3,174.6L316.6,177.1L317.4,183.0L314.0,180.5Z" fill="#122861"/>
<path d="M211.0,124.3L214.2,129.6L215.0,123.7L211.8,118.5Z" fill="#4d7aa0"/>
<path d="M297.5,147.1L300.8,150.1L301.6,155.2L298.3,152.2Z" fill="#244981"/>
<path d="M219.1,152.3L222.4,157.2L223.2,150.7L219.9,145.9Z" fill="#2c5898"/>
<path d="M265.9,93.5L269.2,97.4L270.1,100.9L266.8,97.0Z" fill="#5f7c78"/>
<path d="M281.7,120.0L285.0,123.5L285.9,127.8L282.6,124.2Z" fill="#40678b"/>
<path d="M208.5,113.2L211.8,118.5L212.6,113.0L209.3,107.7Z" fill="#5d869b"/>
<path d="M309.1,166.3L312.5,169.0L313.3,174.6L309.9,171.9Z" fill="#16316e"/>
<path d="M261.8,86.2L265.1,90.2L265.9,93.5L262.6,89.4Z" fill="#687a6a"/>
<path d="M216.7,140.8L219.9,145.9L220.8,139.7L217.5,134.7Z" fill="#39679d"/>
<path d="M293.3,139.0L296.7,142.2L297.5,147.1L294.2,143.9Z" fill="#2c5387"/>
<path d="M277.6,112.3L280.9,115.9L281.7,120.0L278.4,116.3Z" fill="#4a7088"/>
<path d="M259.5,81.5L260.9,83.2L261.8,86.2L258.5,82.1L258.0,80.4Z" fill="#72755b"/>
<path d="M320.8,185.4L324.1,187.6L324.9,193.8L321.5,191.5Z" fill="#0e1d53"/>
<path d="M214.2,129.6L217.5,134.7L218.3,128.8L215.0,123.7Z" fill="#4775a0"/>
<path d="M305.0,158.1L308.3,160.9L309.1,166.3L305.8,163.5Z" fill="#1c3c77"/>
<path d="M273.4,104.8L276.7,108.5L277.6,112.3L274.2,108.6Z" fill="#547885"/>
<path d="M289.2,131.2L292.5,134.4L293.3,139.0L290.0,135.8Z" fill="#355c89"/>
<path d="M222.4,157.2L225.7,162.0L226.5,155.4L223.2,150.7Z" fill="#295294"/>
<path d="M211.8,118.5L215.0,123.7L215.9,118.1L212.6,113.0Z" fill="#57819d"/>
<path d="M269.2,97.4L272.6,101.2L273.4,104.8L270.1,100.9Z" fill="#5c7b7c"/>
<path d="M209.3,107.7L212.6,113.0L213.4,107.6L210.1,102.4Z" fill="#658c96"/>
<path d="M316.6,177.1L320.0,179.5L320.8,185.4L317.4,183.0Z" fill="#122760"/>
<path d="M219.9,145.9L223.2,150.7L224.0,144.5L220.8,139.7Z" fill="#34629c"/>
<path d="M285.0,123.5L288.4,126.8L289.2,131.2L285.9,127.8Z" fill="#3e658b"/>
<path d="M300.8,150.1L304.2,153.0L305.0,158.1L301.6,155.2Z" fill="#234780"/>
<path d="M265.1,90.2L268.4,94.2L269.2,97.4L265.9,93.5Z" fill="#647c70"/>
<path d="M217.5,134.7L220.8,139.7L221.6,133.7L218.3,128.8Z" fill="#42709f"/>
<path d="M260.9,83.2L264.2,87.2L265.1,90.2L261.8,86.2Z" fill="#6e7761"/>
<path d="M280.9,115.9L284.2,119.4L285.0,123.5L281.7,120.0Z" fill="#476d8a"/>
<path d="M260.6,82.3L260.9,83.2L259.5,81.5Z" fill="#797355"/>
<path d="M215.0,123.7L218.3,128.8L219.1,123.1L215.9,118.1Z" fill="#517d9f"/>
<path d="M312.5,169.0L315.8,171.5L316.6,177.1L313.3,174.6Z" fill="#16306d"/>
<path d="M296.7,142.2L300.0,145.2L300.8,150.1L297.5,147.1Z" fill="#2a5187"/>
<path d="M225.7,162.0L228.9,166.6L229.8,160.0L226.5,155.4Z" fill="#254d90"/>
<path d="M212.6,113.0L215.9,118.1L216.7,112.7L213.4,107.6Z" fill="#60899a"/>
<path d="M276.7,108.5L280.0,112.1L280.9,115.9L277.6,112.3Z" fill="#517587"/>
<path d="M210.1,102.4L213.4,107.6L214.2,102.4L211.0,97.3Z" fill="#6c8e8c"/>
<path d="M223.2,150.7L226.5,155.4L227.3,149.1L224.0,144.5Z" fill="#305d9c"/>
<path d="M292.5,134.4L295.9,137.6L296.7,142.2L293.3,139.0Z" fill="#335a89"/>
<path d="M324.1,187.6L327.5,189.7L328.3,195.9L324.9,193.8Z" fill="#0e1d53"/>
<path d="M308.3,160.9L311.7,163.5L312.5,169.0L309.1,166.3Z" fill="#1c3a76"/>
<path d="M272.6,101.2L275.9,104.9L276.7,108.5L273.4,104.8Z" fill="#5a7b80"/>
<path d="M220.8,139.7L224.0,144.5L224.9,138.4L221.6,133.7Z" fill="#3d6b9f"/>
<path d="M268.4,94.2L271.7,97.9L272.6,101.2L269.2,97.4Z" fill="#617d76"/>
<path d="M288.4,126.8L291.7,130.1L292.5,134.4L289.2,131.2Z" fill="#3c638b"/>
<path d="M218.3,128.8L221.6,133.7L222.4,127.9L219.1,123.1Z" fill="#4b78a1"/>
<path d="M304.2,153.0L307.5,155.7L308.3,160.9L305.0,158.1Z" fill="#22457f"/>
<path d="M264.2,87.2L267.5,91.1L268.4,94.2L265.1,90.2Z" fill="#6a7968"/>
<path d="M215.9,118.1L219.1,123.1L220.0,117.6L216.7,112.7Z" fill="#5a849d"/>
<path d="M228.9,166.6L232.2,171.1L233.1,164.4L229.8,160.0Z" fill="#22488c"/>
<path d="M320.0,179.5L323.4,181.7L324.1,187.6L320.8,185.4Z" fill="#12265f"/>
<path d="M213.4,107.6L216.7,112.7L217.5,107.4L214.2,102.4Z" fill="#688d94"/>
<path d="M211.0,97.3L214.2,102.4L215.1,97.5L211.8,92.4Z" fill="#748e82"/>
<path d="M284.2,119.4L287.5,122.7L288.4,126.8L285.0,123.5Z" fill="#456b8b"/>
<path d="M262.9,83.9L263.4,84.4L264.2,87.2L260.9,83.2L260.6,82.3Z" fill="#747559"/>
<path d="M226.5,155.4L229.8,160.0L230.6,153.6L227.3,149.1Z" fill="#2c5899"/>
<path d="M300.0,145.2L303.4,148.1L304.2,153.0L300.8,150.1Z" fill="#285087"/>
<path d="M280.0,112.1L283.4,115.5L284.2,119.4L280.9,115.9Z" fill="#4e7388"/>
<path d="M315.8,171.5L319.2,173.8L320.0,179.5L316.6,177.1Z" fill="#152f6c"/>
<path d="M224.0,144.5L227.3,149.1L228.1,143.0L224.9,138.4Z" fill="#39669e"/>
<path d="M221.6,133.7L224.9,138.4L225.7,132.6L222.4,127.9Z" fill="#4673a1"/>
<path d="M275.9,104.9L279.2,108.5L280.0,112.1L276.7,108.5Z" fill="#577a84"/>
<path d="M295.9,137.6L299.2,140.5L300.0,145.2L296.7,142.2Z" fill="#315989"/>
<path d="M219.1,123.1L222.4,127.9L223.2,122.4L220.0,117.6Z" fill="#54809f"/>
<path d="M216.7,112.7L220.0,117.6L220.8,112.3L217.5,107.4Z" fill="#638c9a"/>
<path d="M271.7,97.9L275.0,101.6L275.9,104.9L272.6,101.2Z" fill="#5f7c7a"/>
<path d="M211.8,92.4L215.1,97.5L215.9,92.8L212.6,87.7Z" fill="#7c8b75"/>
<path d="M214.2,102.4L217.5,107.4L218.3,102.5L215.1,97.5Z" fill="#6e8f8b"/>
<path d="M311.7,163.5L315.1,166.0L315.8,171.5L312.5,169.0Z" fill="#1b3975"/>
<path d="M232.2,171.1L235.5,175.4L236.3,168.7L233.1,164.4Z" fill="#1f4388"/>
<path d="M267.5,91.1L270.8,94.9L271.7,97.9L268.4,94.2Z" fill="#677b6e"/>
<path d="M291.7,130.1L295.0,133.2L295.9,137.6L292.5,134.4Z" fill="#3a618b"/>
<path d="M327.5,189.7L330.9,191.7L331.7,197.8L328.3,195.9Z" fill="#0e1c52"/>
<path d="M263.4,84.4L266.7,88.3L267.5,91.1L264.2,87.2Z" fill="#70775f"/>
<path d="M229.8,160.0L233.1,164.4L233.9,158.0L230.6,153.6Z" fill="#295395"/>
<path d="M263.3,84.1L263.4,84.4L262.9,83.9Z" fill="#7a7354"/>
<path d="M307.5,155.7L310.9,158.4L311.7,163.5L308.3,160.9Z" fill="#21447e"/>
<path d="M287.5,122.7L290.9,125.9L291.7,130.1L288.4,126.8Z" fill="#42698c"/>
<path d="M227.3,149.1L230.6,153.6L231.4,147.5L228.1,143.0Z" fill="#34629d"/>
<path d="M323.4,181.7L326.8,183.8L327.5,189.7L324.1,187.6Z" fill="#11255f"/>
<path d="M224.9,138.4L228.1,143.0L229.0,137.2L225.7,132.6Z" fill="#416fa0"/>
<path d="M212.6,87.7L215.9,92.8L216.7,88.3L215.7,86.7L213.0,85.9Z" fill="#848869"/>
<path d="M283.4,115.5L286.7,118.8L287.5,122.7L284.2,119.4Z" fill="#4c7189"/>
<path d="M222.4,127.9L225.7,132.6L226.5,127.0L223.2,122.4Z" fill="#4f7ba1"/>
<path d="M215.1,97.5L218.3,102.5L219.2,97.7L215.9,92.8Z" fill="#768e7f"/>
<path d="M220.0,117.6L223.2,122.4L224.1,117.1L220.8,112.3Z" fill="#5d879c"/>
<path d="M217.5,107.4L220.8,112.3L221.6,107.3L218.3,102.5Z" fill="#6a8e91"/>
<path d="M303.4,148.1L306.7,150.8L307.5,155.7L304.2,153.0Z" fill="#274e86"/>
<path d="M279.2,108.5L282.5,111.9L283.4,115.5L280.0,112.1Z" fill="#557986"/>
<path d="M235.5,175.4L238.8,179.5L239.6,172.8L236.3,168.7Z" fill="#1d3e85"/>
<path d="M319.2,173.8L322.6,176.0L323.4,181.7L320.0,179.5Z" fill="#152e6b"/>
<path d="M275.0,101.6L278.3,105.1L279.2,108.5L275.9,104.9Z" fill="#5c7c7e"/>
<path d="M265.9,86.0L266.7,88.3L263.4,84.4L263.3,84.1Z" fill="#767658"/>
<path d="M299.2,140.5L302.6,143.4L303.4,148.1L300.0,145.2Z" fill="#2f5789"/>
<path d="M270.8,94.9L274.2,98.5L275.0,101.6L271.7,97.9Z" fill="#647d73"/>
<path d="M233.1,164.4L236.3,168.7L237.2,162.2L233.9,158.0Z" fill="#264e92"/>
<path d="M266.7,88.3L270.0,92.0L270.8,94.9L267.5,91.1Z" fill="#6d7965"/>
<path d="M215.7,86.7L216.7,88.3L217.0,87.1Z" fill="#8d8361"/>
<path d="M230.6,153.6L233.9,158.0L234.7,151.8L231.4,147.5Z" fill="#305e9c"/>
<path d="M295.0,133.2L298.4,136.1L299.2,140.5L295.9,137.6Z" fill="#385f8b"/>
<path d="M315.1,166.0L318.4,168.4L319.2,173.8L315.8,171.5Z" fill="#1a3875"/>
<path d="M215.9,92.8L219.2,97.7L220.0,93.1L216.7,88.3Z" fill="#7e8b73"/>
<path d="M228.1,143.0L231.4,147.5L232.3,141.6L229.0,137.2Z" fill="#3d6b9f"/>
<path d="M218.3,102.5L221.6,107.3L222.5,102.4L219.2,97.7Z" fill="#709089"/>
<path d="M225.7,132.6L229.0,137.2L229.8,131.5L226.5,127.0Z" fill="#4a77a2"/>
<path d="M220.8,112.3L224.1,117.1L224.9,112.0L221.6,107.3Z" fill="#658d98"/>
<path d="M223.2,122.4L226.5,127.0L227.4,121.6L224.1,117.1Z" fill="#58839e"/>
<path d="M290.9,125.9L294.2,129.0L295.0,133.2L291.7,130.1Z" fill="#40688d"/>
<path d="M330.9,191.7L334.3,193.5L335.1,199.6L331.7,197.8Z" fill="#0e1c52"/>
<path d="M310.9,158.4L314.3,160.8L315.1,166.0L311.7,163.5Z" fill="#20427d"/>
<path d="M286.7,118.8L290.0,122.0L290.9,125.9L287.5,122.7Z" fill="#496f8a"/>
<path d="M238.8,179.5L242.1,183.5L242.9,176.8L239.6,172.8Z" fill="#1a3a82"/>
<path d="M282.5,111.9L285.9,115.2L286.7,118.8L283.4,115.5Z" fill="#527788"/>
<path d="M216.7,88.3L220.0,93.1L220.9,88.8L220.4,88.2L217.0,87.1Z" fill="#868867"/>
<path d="M306.7,150.8L310.1,153.4L310.9,158.4L307.5,155.7Z" fill="#264d85"/>
<path d="M326.8,183.8L330.2,185.7L330.9,191.7L327.5,189.7Z" fill="#11255e"/>
<path d="M236.3,168.7L239.6,172.8L240.5,166.3L237.2,162.2Z" fill="#244a8e"/>
<path d="M278.3,105.1L281.7,108.5L282.5,111.9L279.2,108.5Z" fill="#5a7b81"/>
<path d="M219.2,97.7L222.5,102.4L223.3,97.8L220.0,93.1Z" fill="#788e7d"/>
<path d="M274.2,98.5L277.5,102.0L278.3,105.1L275.0,101.6Z" fill="#617e78"/>
<path d="M233.9,158.0L237.2,162.2L238.0,156.0L234.7,151.8Z" fill="#2d5a9a"/>
<path d="M221.6,107.3L224.9,112.0L225.8,107.1L222.5,102.4Z" fill="#6c8f8f"/>
<path d="M270.0,92.0L273.3,95.6L274.2,98.5L270.8,94.9Z" fill="#6a7b6b"/>
<path d="M266.4,86.3L269.1,89.4L270.0,92.0L266.7,88.3L265.9,86.0Z" fill="#72775e"/>
<path d="M302.6,143.4L305.9,146.1L306.7,150.8L303.4,148.1Z" fill="#2e5689"/>
<path d="M231.4,147.5L234.7,151.8L235.6,145.9L232.3,141.6Z" fill="#39679f"/>
<path d="M224.1,117.1L227.4,121.6L228.2,116.5L224.9,112.0Z" fill="#618a9c"/>
<path d="M229.0,137.2L232.3,141.6L233.1,135.9L229.8,131.5Z" fill="#4573a1"/>
<path d="M226.5,127.0L229.8,131.5L230.7,126.1L227.4,121.6Z" fill="#537fa0"/>
<path d="M322.6,176.0L326.0,178.1L326.8,183.8L323.4,181.7Z" fill="#152e6a"/>
<path d="M298.4,136.1L301.7,139.0L302.6,143.4L299.2,140.5Z" fill="#365e8b"/>
<path d="M220.4,88.2L220.9,88.8L221.0,88.3Z" fill="#8f8360"/>
<path d="M318.4,168.4L321.8,170.6L322.6,176.0L319.2,173.8Z" fill="#1a3774"/>
<path d="M220.0,93.1L223.3,97.8L224.2,93.4L220.9,88.8Z" fill="#808a71"/>
<path d="M294.2,129.0L297.6,131.9L298.4,136.1L295.0,133.2Z" fill="#3e668d"/>
<path d="M242.1,183.5L245.4,187.4L246.2,180.6L242.9,176.8Z" fill="#19367d"/>
<path d="M222.5,102.4L225.8,107.1L226.6,102.4L223.3,97.8Z" fill="#739186"/>
<path d="M290.0,122.0L293.4,125.1L294.2,129.0L290.9,125.9Z" fill="#476e8b"/>
<path d="M314.3,160.8L317.6,163.2L318.4,168.4L315.1,166.0Z" fill="#20417c"/>
<path d="M239.6,172.8L242.9,176.8L243.8,170.2L240.5,166.3Z" fill="#21468b"/>
<path d="M224.9,112.0L228.2,116.5L229.0,111.6L225.8,107.1Z" fill="#688e95"/>
<path d="M285.9,115.2L289.2,118.4L290.0,122.0L286.7,118.8Z" fill="#507589"/>
<path d="M334.3,193.5L337.7,195.1L338.5,201.3L335.1,199.6Z" fill="#0e1c52"/>
<path d="M237.2,162.2L240.5,166.3L241.3,160.0L238.0,156.0Z" fill="#2a5597"/>
<path d="M227.4,121.6L230.7,126.1L231.5,120.9L228.2,116.5Z" fill="#5c869e"/>
<path d="M220.9,88.8L224.2,93.4L224.9,89.5L221.0,88.3Z" fill="#878765"/>
<path d="M281.7,108.5L285.0,111.8L285.9,115.2L282.5,111.9Z" fill="#587b85"/>
<path d="M234.7,151.8L238.0,156.0L238.9,150.0L235.6,145.9Z" fill="#35639e"/>
<path d="M229.8,131.5L233.1,135.9L234.0,130.4L230.7,126.1Z" fill="#4e7ba2"/>
<path d="M268.6,87.9L269.1,89.4L266.4,86.3Z" fill="#787657"/>
<path d="M232.3,141.6L235.6,145.9L236.4,140.1L233.1,135.9Z" fill="#416fa1"/>
<path d="M277.5,102.0L280.8,105.4L281.7,108.5L278.3,105.1Z" fill="#5f7d7b"/>
<path d="M273.3,95.6L276.6,99.1L277.5,102.0L274.2,98.5Z" fill="#677d70"/>
<path d="M269.1,89.4L272.5,93.0L273.3,95.6L270.0,92.0Z" fill="#6f7963"/>
<path d="M310.1,153.4L313.5,155.9L314.3,160.8L310.9,158.4Z" fill="#254c84"/>
<path d="M330.2,185.7L333.6,187.5L334.3,193.5L330.9,191.7Z" fill="#11255e"/>
<path d="M223.3,97.8L226.6,102.4L227.4,98.0L224.2,93.4Z" fill="#7a8d7a"/>
<path d="M305.9,146.1L309.3,148.7L310.1,153.4L306.7,150.8Z" fill="#2d5589"/>
<path d="M225.8,107.1L229.0,111.6L229.9,106.9L226.6,102.4Z" fill="#6e908d"/>
<path d="M301.7,139.0L305.1,141.7L305.9,146.1L302.6,143.4Z" fill="#355d8b"/>
<path d="M326.0,178.1L329.4,180.0L330.2,185.7L326.8,183.8Z" fill="#152d6a"/>
<path d="M228.2,116.5L231.5,120.9L232.3,115.9L229.0,111.6Z" fill="#648d9b"/>
<path d="M245.4,187.4L248.7,191.1L249.5,184.2L246.2,180.6Z" fill="#173379"/>
<path d="M297.6,131.9L300.9,134.8L301.7,139.0L298.4,136.1Z" fill="#3d658c"/>
<path d="M230.7,126.1L234.0,130.4L234.8,125.2L231.5,120.9Z" fill="#57839f"/>
<path d="M242.9,176.8L246.2,180.6L247.1,174.0L243.8,170.2Z" fill="#1f4288"/>
<path d="M224.2,93.4L227.4,98.0L228.3,93.8L225.3,89.7L224.9,89.5Z" fill="#828a6e"/>
<path d="M233.1,135.9L236.4,140.1L237.3,134.6L234.0,130.4Z" fill="#4a77a3"/>
<path d="M240.5,166.3L243.8,170.2L244.6,163.9L241.3,160.0Z" fill="#285194"/>
<path d="M293.4,125.1L296.7,128.0L297.6,131.9L294.2,129.0Z" fill="#456c8c"/>
<path d="M321.8,170.6L325.2,172.6L326.0,178.1L322.6,176.0Z" fill="#193674"/>
<path d="M235.6,145.9L238.9,150.0L239.7,144.2L236.4,140.1Z" fill="#3e6ca0"/>
<path d="M238.0,156.0L241.3,160.0L242.2,154.0L238.9,150.0Z" fill="#315f9d"/>
<path d="M289.2,118.4L292.6,121.4L293.4,125.1L290.0,122.0Z" fill="#4e738a"/>
<path d="M285.0,111.8L288.4,114.9L289.2,118.4L285.9,115.2Z" fill="#567a87"/>
<path d="M269.9,88.8L271.6,90.6L272.5,93.0L269.1,89.4L268.6,87.9Z" fill="#74785c"/>
<path d="M272.5,93.0L275.8,96.5L276.6,99.1L273.3,95.6Z" fill="#6c7b69"/>
<path d="M226.6,102.4L229.9,106.9L230.7,102.4L227.4,98.0Z" fill="#759083"/>
<path d="M280.8,105.4L284.2,108.6L285.0,111.8L281.7,108.5Z" fill="#5d7d7f"/>
<path d="M276.6,99.1L280.0,102.5L280.8,105.4L277.5,102.0Z" fill="#647e76"/>
<path d="M317.6,163.2L321.0,165.3L321.8,170.6L318.4,168.4Z" fill="#1f417c"/>
<path d="M229.0,111.6L232.3,115.9L233.2,111.2L229.9,106.9Z" fill="#6b8f93"/>
<path d="M313.5,155.9L316.9,158.2L317.6,163.2L314.3,160.8Z" fill="#254b84"/>
<path d="M225.3,89.7L228.3,93.8L228.9,90.8Z" fill="#898764"/>
<path d="M337.7,195.1L341.2,196.6L341.9,202.8L338.5,201.3Z" fill="#0e1d53"/>
<path d="M231.5,120.9L234.8,125.2L235.6,120.2L232.3,115.9Z" fill="#5f8a9d"/>
<path d="M309.3,148.7L312.7,151.1L313.5,155.9L310.1,153.4Z" fill="#2c5489"/>
<path d="M234.0,130.4L237.3,134.6L238.1,129.3L234.8,125.2Z" fill="#527fa1"/>
<path d="M227.4,98.0L230.7,102.4L231.6,98.2L228.3,93.8Z" fill="#7d8d77"/>
<path d="M248.7,191.1L252.0,194.7L252.9,187.8L249.5,184.2Z" fill="#163175"/>
<path d="M333.6,187.5L337.0,189.1L337.7,195.1L334.3,193.5Z" fill="#11255e"/>
<path d="M236.4,140.1L239.7,144.2L240.6,138.6L237.3,134.6Z" fill="#4674a2"/>
<path d="M305.1,141.7L308.5,144.2L309.3,148.7L305.9,146.1Z" fill="#345c8b"/>
<path d="M246.2,180.6L249.5,184.2L250.4,177.6L247.1,174.0Z" fill="#1d3e85"/>
<path d="M238.9,150.0L242.2,154.0L243.0,148.1L239.7,144.2Z" fill="#3a68a0"/>
<path d="M243.8,170.2L247.1,174.0L247.9,167.6L244.6,163.9Z" fill="#254d91"/>
<path d="M241.3,160.0L244.6,163.9L245.5,157.8L242.2,154.0Z" fill="#2e5c9d"/>
<path d="M300.9,134.8L304.3,137.4L305.1,141.7L301.7,139.0Z" fill="#3b638c"/>
<path d="M229.9,106.9L233.2,111.2L234.0,106.7L230.7,102.4Z" fill="#71918b"/>
<path d="M271.3,89.8L271.6,90.6L269.9,88.8Z" fill="#7a7657"/>
<path d="M329.4,180.0L332.8,181.8L333.6,187.5L330.2,185.7Z" fill="#152d6a"/>
<path d="M296.7,128.0L300.1,130.8L300.9,134.8L297.6,131.9Z" fill="#436b8d"/>
<path d="M271.6,90.6L274.9,94.1L275.8,96.5L272.5,93.0Z" fill="#727962"/>
<path d="M292.6,121.4L295.9,124.3L296.7,128.0L293.4,125.1Z" fill="#4c728b"/>
<path d="M275.8,96.5L279.1,99.8L280.0,102.5L276.6,99.1Z" fill="#6a7d6e"/>
<path d="M228.3,93.8L231.6,98.2L232.4,94.1L230.2,91.2L228.9,90.8Z" fill="#848a6c"/>
<path d="M232.3,115.9L235.6,120.2L236.5,115.4L233.2,111.2Z" fill="#678f98"/>
<path d="M288.4,114.9L291.7,118.0L292.6,121.4L289.2,118.4Z" fill="#547988"/>
<path d="M280.0,102.5L283.3,105.7L284.2,108.6L280.8,105.4Z" fill="#627f79"/>
<path d="M284.2,108.6L287.5,111.8L288.4,114.9L285.0,111.8Z" fill="#5c7d82"/>
<path d="M325.2,172.6L328.6,174.5L329.4,180.0L326.0,178.1Z" fill="#193674"/>
<path d="M234.8,125.2L238.1,129.3L238.9,124.3L235.6,120.2Z" fill="#5b869f"/>
<path d="M321.0,165.3L324.4,167.4L325.2,172.6L321.8,170.6Z" fill="#1f407c"/>
<path d="M230.7,102.4L234.0,106.7L234.9,102.4L231.6,98.2Z" fill="#788f80"/>
<path d="M237.3,134.6L240.6,138.6L241.4,133.3L238.1,129.3Z" fill="#4e7ca3"/>
<path d="M239.7,144.2L243.0,148.1L243.9,142.5L240.6,138.6Z" fill="#4270a2"/>
<path d="M316.9,158.2L320.3,160.4L321.0,165.3L317.6,163.2Z" fill="#244a83"/>
<path d="M230.2,91.2L232.4,94.1L232.9,92.0Z" fill="#8b8764"/>
<path d="M252.0,194.7L255.3,198.0L256.2,191.1L252.9,187.8Z" fill="#152e72"/>
<path d="M242.2,154.0L245.5,157.8L246.3,151.9L243.0,148.1Z" fill="#37659f"/>
<path d="M233.2,111.2L236.5,115.4L237.3,110.8L234.0,106.7Z" fill="#6d9190"/>
<path d="M249.5,184.2L252.9,187.8L253.7,181.1L250.4,177.6Z" fill="#1b3b83"/>
<path d="M244.6,163.9L247.9,167.6L248.8,161.5L245.5,157.8Z" fill="#2c589a"/>
<path d="M247.1,174.0L250.4,177.6L251.2,171.2L247.9,167.6Z" fill="#23498e"/>
<path d="M312.7,151.1L316.1,153.4L316.9,158.2L313.5,155.9Z" fill="#2b5389"/>
<path d="M341.2,196.6L344.6,197.9L345.3,204.1L341.9,202.8Z" fill="#0e1d53"/>
<path d="M231.6,98.2L234.9,102.4L235.7,98.4L232.4,94.1Z" fill="#7f8d75"/>
<path d="M273.5,91.3L274.1,91.9L274.9,94.1L271.6,90.6L271.3,89.8Z" fill="#76785b"/>
<path d="M308.5,144.2L311.9,146.6L312.7,151.1L309.3,148.7Z" fill="#335b8b"/>
<path d="M235.6,120.2L238.9,124.3L239.8,119.4L236.5,115.4Z" fill="#638d9c"/>
<path d="M274.9,94.1L278.3,97.4L279.1,99.8L275.8,96.5Z" fill="#6f7b67"/>
<path d="M304.3,137.4L307.7,140.0L308.5,144.2L305.1,141.7Z" fill="#3a628d"/>
<path d="M337.0,189.1L340.4,190.6L341.2,196.6L337.7,195.1Z" fill="#11255f"/>
<path d="M279.1,99.8L282.5,103.0L283.3,105.7L280.0,102.5Z" fill="#677e72"/>
<path d="M300.1,130.8L303.5,133.5L304.3,137.4L300.9,134.8Z" fill="#426a8e"/>
<path d="M238.1,129.3L241.4,133.3L242.3,128.2L238.9,124.3Z" fill="#5783a0"/>
<path d="M283.3,105.7L286.7,108.8L287.5,111.8L284.2,108.6Z" fill="#607e7c"/>
<path d="M295.9,124.3L299.3,127.1L300.1,130.8L296.7,128.0Z" fill="#4a718c"/>
<path d="M287.5,111.8L290.9,114.8L291.7,118.0L288.4,114.9Z" fill="#5a7c85"/>
<path d="M291.7,118.0L295.1,120.8L295.9,124.3L292.6,121.4Z" fill="#527789"/>
<path d="M234.0,106.7L237.3,110.8L238.2,106.5L234.9,102.4Z" fill="#739288"/>
<path d="M332.8,181.8L336.2,183.4L337.0,189.1L333.6,187.5Z" fill="#152d6a"/>
<path d="M240.6,138.6L243.9,142.5L244.7,137.2L241.4,133.3Z" fill="#4a78a4"/>
<path d="M232.4,94.1L235.7,98.4L236.6,94.5L235.2,92.8L232.9,92.0Z" fill="#868a6a"/>
<path d="M243.0,148.1L246.3,151.9L247.2,146.3L243.9,142.5Z" fill="#3f6da1"/>
<path d="M328.6,174.5L332.1,176.3L332.8,181.8L329.4,180.0Z" fill="#193674"/>
<path d="M236.5,115.4L239.8,119.4L240.7,114.9L237.3,110.8Z" fill="#6a9095"/>
<path d="M245.5,157.8L248.8,161.5L249.6,155.6L246.3,151.9Z" fill="#33629f"/>
<path d="M247.9,167.6L251.2,171.2L252.1,165.0L248.8,161.5Z" fill="#2a5597"/>
<path d="M255.3,198.0L258.6,201.3L259.5,194.3L256.2,191.1Z" fill="#142c6f"/>
<path d="M250.4,177.6L253.7,181.1L254.6,174.7L251.2,171.2Z" fill="#21468c"/>
<path d="M252.9,187.8L256.2,191.1L257.0,184.4L253.7,181.1Z" fill="#193880"/>
<path d="M324.4,167.4L327.9,169.3L328.6,174.5L325.2,172.6Z" fill="#1f407c"/>
<path d="M234.9,102.4L238.2,106.5L239.1,102.4L235.7,98.4Z" fill="#7a8f7d"/>
<path d="M274.0,91.6L274.1,91.9L273.5,91.3Z" fill="#7c7657"/>
<path d="M238.9,124.3L242.3,128.2L243.1,123.4L239.8,119.4Z" fill="#5f8a9e"/>
<path d="M274.1,91.9L277.4,95.2L278.3,97.4L274.9,94.1Z" fill="#747a60"/>
<path d="M235.2,92.8L236.6,94.5L236.9,93.3Z" fill="#8d8663"/>
<path d="M320.3,160.4L323.7,162.4L324.4,167.4L321.0,165.3Z" fill="#244983"/>
<path d="M278.3,97.4L281.6,100.6L282.5,103.0L279.1,99.8Z" fill="#6c7d6b"/>
<path d="M316.1,153.4L319.5,155.6L320.3,160.4L316.9,158.2Z" fill="#2a5289"/>
<path d="M241.4,133.3L244.7,137.2L245.6,132.1L242.3,128.2Z" fill="#5380a2"/>
<path d="M237.3,110.8L240.7,114.9L241.5,110.5L238.2,106.5Z" fill="#70928e"/>
<path d="M282.5,103.0L285.8,106.1L286.7,108.8L283.3,105.7Z" fill="#658077"/>
<path d="M311.9,146.6L315.3,148.9L316.1,153.4L312.7,151.1Z" fill="#325a8b"/>
<path d="M235.7,98.4L239.1,102.4L239.9,98.6L236.6,94.5Z" fill="#818c72"/>
<path d="M307.7,140.0L311.1,142.4L311.9,146.6L308.5,144.2Z" fill="#39618d"/>
<path d="M286.7,108.8L290.0,111.8L290.9,114.8L287.5,111.8Z" fill="#5f7e7f"/>
<path d="M243.9,142.5L247.2,146.3L248.0,140.9L244.7,137.2Z" fill="#4775a3"/>
<path d="M303.5,133.5L306.9,136.0L307.7,140.0L304.3,137.4Z" fill="#41698e"/>
<path d="M290.9,114.8L294.2,117.6L295.1,120.8L291.7,118.0Z" fill="#597c87"/>
<path d="M344.6,197.9L348.1,199.1L348.8,205.3L345.3,204.1Z" fill="#0e1e55"/>
<path d="M299.3,127.1L302.7,129.7L303.5,133.5L300.1,130.8Z" fill="#49708d"/>
<path d="M295.1,120.8L298.4,123.6L299.3,127.1L295.9,124.3Z" fill="#51768a"/>
<path d="M246.3,151.9L249.6,155.6L250.5,149.9L247.2,146.3Z" fill="#3c6aa1"/>
<path d="M239.8,119.4L243.1,123.4L244.0,118.7L240.7,114.9Z" fill="#678f9a"/>
<path d="M276.7,93.5L277.4,95.2L274.1,91.9L274.0,91.6Z" fill="#79795a"/>
<path d="M340.4,190.6L343.9,191.9L344.6,197.9L341.2,196.6Z" fill="#122660"/>
<path d="M248.8,161.5L252.1,165.0L253.0,159.1L249.6,155.6Z" fill="#305f9e"/>
<path d="M238.2,106.5L241.5,110.5L242.4,106.4L239.1,102.4Z" fill="#769184"/>
<path d="M236.6,94.5L239.9,98.6L240.8,95.0L240.3,94.4L236.9,93.3Z" fill="#888a68"/>
<path d="M251.2,171.2L254.6,174.7L255.4,168.4L252.1,165.0Z" fill="#285195"/>
<path d="M336.2,183.4L339.7,184.9L340.4,190.6L337.0,189.1Z" fill="#152e6b"/>
<path d="M253.7,181.1L257.0,184.4L257.9,177.9L254.6,174.7Z" fill="#1f438a"/>
<path d="M242.3,128.2L245.6,132.1L246.4,127.2L243.1,123.4Z" fill="#5b87a0"/>
<path d="M256.2,191.1L259.5,194.3L260.4,187.6L257.0,184.4Z" fill="#18367d"/>
<path d="M258.6,201.3L262.0,204.4L262.8,197.4L259.5,194.3Z" fill="#142a6c"/>
<path d="M277.4,95.2L280.8,98.4L281.6,100.6L278.3,97.4Z" fill="#717b65"/>
<path d="M332.1,176.3L335.5,177.9L336.2,183.4L332.8,181.8Z" fill="#193674"/>
<path d="M244.7,137.2L248.0,140.9L248.9,135.7L245.6,132.1Z" fill="#4f7da4"/>
<path d="M240.7,114.9L244.0,118.7L244.8,114.4L241.5,110.5Z" fill="#6d9192"/>
<path d="M239.1,102.4L242.4,106.4L243.2,102.5L239.9,98.6Z" fill="#7d8f7a"/>
<path d="M327.9,169.3L331.3,171.1L332.1,176.3L328.6,174.5Z" fill="#1e407c"/>
<path d="M281.6,100.6L285.0,103.7L285.8,106.1L282.5,103.0Z" fill="#6a7e70"/>
<path d="M240.3,94.4L240.8,95.0L240.9,94.6Z" fill="#8f8663"/>
<path d="M323.7,162.4L327.1,164.3L327.9,169.3L324.4,167.4Z" fill="#244983"/>
<path d="M247.2,146.3L250.5,149.9L251.4,144.5L248.0,140.9Z" fill="#4472a3"/>
<path d="M285.8,106.1L289.2,109.1L290.0,111.8L286.7,108.8Z" fill="#63807a"/>
<path d="M319.5,155.6L322.9,157.6L323.7,162.4L320.3,160.4Z" fill="#2a5289"/>
<path d="M290.0,111.8L293.4,114.7L294.2,117.6L290.9,114.8Z" fill="#5d7e82"/>
<path d="M243.1,123.4L246.4,127.2L247.3,122.5L244.0,118.7Z" fill="#638d9d"/>
<path d="M249.6,155.6L253.0,159.1L253.8,153.4L250.5,149.9Z" fill="#3967a1"/>
<path d="M315.3,148.9L318.7,151.1L319.5,155.6L316.1,153.4Z" fill="#31598b"/>
<path d="M294.2,117.6L297.6,120.4L298.4,123.6L295.1,120.8Z" fill="#577b89"/>
<path d="M239.9,98.6L243.2,102.5L244.1,98.9L240.8,95.0Z" fill="#838c70"/>
<path d="M311.1,142.4L314.5,144.7L315.3,148.9L311.9,146.6Z" fill="#38618d"/>
<path d="M298.4,123.6L301.8,126.2L302.7,129.7L299.3,127.1Z" fill="#4f758b"/>
<path d="M241.5,110.5L244.8,114.4L245.7,110.2L242.4,106.4Z" fill="#72938b"/>
<path d="M306.9,136.0L310.3,138.4L311.1,142.4L307.7,140.0Z" fill="#40688e"/>
<path d="M302.7,129.7L306.0,132.2L306.9,136.0L303.5,133.5Z" fill="#476f8d"/>
<path d="M252.1,165.0L255.4,168.4L256.3,162.5L253.0,159.1Z" fill="#2e5c9d"/>
<path d="M245.6,132.1L248.9,135.7L249.8,130.8L246.4,127.2Z" fill="#5884a1"/>
<path d="M254.6,174.7L257.9,177.9L258.8,171.7L255.4,168.4Z" fill="#264e93"/>
<path d="M277.2,93.9L279.9,96.4L280.8,98.4L277.4,95.2L276.7,93.5Z" fill="#767a5f"/>
<path d="M240.8,95.0L244.1,98.9L244.9,95.8L240.9,94.6Z" fill="#898967"/>
<path d="M257.0,184.4L260.4,187.6L261.2,181.1L257.9,177.9Z" fill="#1e4088"/>
<path d="M348.1,199.1L351.5,200.1L352.3,206.3L348.8,205.3Z" fill="#0f1f56"/>
<path d="M259.5,194.3L262.8,197.4L263.7,190.6L260.4,187.6Z" fill="#18347a"/>
<path d="M262.0,204.4L265.3,207.3L266.2,200.3L262.8,197.4Z" fill="#132869"/>
<path d="M244.0,118.7L247.3,122.5L248.2,118.1L244.8,114.4Z" fill="#6a9097"/>
<path d="M248.0,140.9L251.4,144.5L252.2,139.3L248.9,135.7Z" fill="#4c7aa5"/>
<path d="M280.8,98.4L284.1,101.5L285.0,103.7L281.6,100.6Z" fill="#6f7d69"/>
<path d="M242.4,106.4L245.7,110.2L246.6,106.3L243.2,102.5Z" fill="#799181"/>
<path d="M343.9,191.9L347.3,193.1L348.1,199.1L344.6,197.9Z" fill="#122661"/>
<path d="M285.0,103.7L288.3,106.6L289.2,109.1L285.8,106.1Z" fill="#688074"/>
<path d="M339.7,184.9L343.1,186.2L343.9,191.9L340.4,190.6Z" fill="#152e6c"/>
<path d="M250.5,149.9L253.8,153.4L254.7,147.9L251.4,144.5Z" fill="#4170a3"/>
<path d="M246.4,127.2L249.8,130.8L250.6,126.1L247.3,122.5Z" fill="#608a9f"/>
<path d="M335.5,177.9L338.9,179.4L339.7,184.9L336.2,183.4Z" fill="#193775"/>
<path d="M289.2,109.1L292.6,111.9L293.4,114.7L290.0,111.8Z" fill="#62807d"/>
<path d="M243.2,102.5L246.6,106.3L247.4,102.6L244.1,98.9Z" fill="#808e77"/>
<path d="M253.0,159.1L256.3,162.5L257.2,156.8L253.8,153.4Z" fill="#3665a0"/>
<path d="M244.8,114.4L248.2,118.1L249.0,113.9L245.7,110.2Z" fill="#6f9290"/>
<path d="M331.3,171.1L334.7,172.7L335.5,177.9L332.1,176.3Z" fill="#1f407c"/>
<path d="M293.4,114.7L296.8,117.4L297.6,120.4L294.2,117.6Z" fill="#5c7e84"/>
<path d="M279.4,95.4L279.9,96.4L277.2,93.9Z" fill="#7b795a"/>
<path d="M327.1,164.3L330.5,166.0L331.3,171.1L327.9,169.3Z" fill="#244983"/>
<path d="M297.6,120.4L301.0,123.0L301.8,126.2L298.4,123.6Z" fill="#567a8a"/>
<path d="M255.4,168.4L258.8,171.7L259.6,165.7L256.3,162.5Z" fill="#2c599b"/>
<path d="M248.9,135.7L252.2,139.3L253.1,134.3L249.8,130.8Z" fill="#5481a3"/>
<path d="M322.9,157.6L326.3,159.5L327.1,164.3L323.7,162.4Z" fill="#295289"/>
<path d="M301.8,126.2L305.2,128.7L306.0,132.2L302.7,129.7Z" fill="#4e748c"/>
<path d="M244.1,98.9L247.4,102.6L248.3,99.2L245.5,96.1L244.9,95.8Z" fill="#868c6e"/>
<path d="M318.7,151.1L322.1,153.1L322.9,157.6L319.5,155.6Z" fill="#31598b"/>
<path d="M306.0,132.2L309.4,134.6L310.3,138.4L306.9,136.0Z" fill="#466e8e"/>
<path d="M314.5,144.7L317.9,146.8L318.7,151.1L315.3,148.9Z" fill="#38608d"/>
<path d="M310.3,138.4L313.7,140.7L314.5,144.7L311.1,142.4Z" fill="#3f678f"/>
<path d="M257.9,177.9L261.2,181.1L262.1,174.8L258.8,171.7Z" fill="#244c91"/>
<path d="M279.9,96.4L283.3,99.5L284.1,101.5L280.8,98.4Z" fill="#747c63"/>
<path d="M247.3,122.5L250.6,126.1L251.5,121.7L248.2,118.1Z" fill="#67909c"/>
<path d="M260.4,187.6L263.7,190.6L264.6,184.1L261.2,181.1Z" fill="#1c3e86"/>
<path d="M245.7,110.2L249.0,113.9L249.9,110.0L246.6,106.3Z" fill="#759388"/>
<path d="M251.4,144.5L254.7,147.9L255.6,142.7L252.2,139.3Z" fill="#4977a5"/>
<path d="M262.8,197.4L266.2,200.3L267.0,193.5L263.7,190.6Z" fill="#173277"/>
<path d="M265.3,207.3L268.6,210.1L269.5,203.1L266.2,200.3Z" fill="#122667"/>
<path d="M284.1,101.5L287.5,104.4L288.3,106.6L285.0,103.7Z" fill="#6d7e6d"/>
<path d="M245.5,96.1L248.3,99.2L248.8,97.1Z" fill="#8c8966"/>
<path d="M253.8,153.4L257.2,156.8L258.0,151.3L254.7,147.9Z" fill="#3f6da2"/>
<path d="M249.8,130.8L253.1,134.3L253.9,129.6L250.6,126.1Z" fill="#5c88a0"/>
<path d="M288.3,106.6L291.7,109.4L292.6,111.9L289.2,109.1Z" fill="#668177"/>
<path d="M246.6,106.3L249.9,110.0L250.7,106.3L247.4,102.6Z" fill="#7c907e"/>
<path d="M351.5,200.1L355.0,201.0L355.7,207.1L352.3,206.3Z" fill="#0f2058"/>
<path d="M248.2,118.1L251.5,121.7L252.3,117.5L249.0,113.9Z" fill="#6d9294"/>
<path d="M256.3,162.5L259.6,165.7L260.5,160.0L257.2,156.8Z" fill="#3463a0"/>
<path d="M292.6,111.9L295.9,114.6L296.8,117.4L293.4,114.7Z" fill="#61807f"/>
<path d="M347.3,193.1L350.8,194.2L351.5,200.1L348.1,199.1Z" fill="#122762"/>
<path d="M281.0,96.5L282.4,97.8L283.3,99.5L279.9,96.4L279.4,95.4Z" fill="#797b5e"/>
<path d="M252.2,139.3L255.6,142.7L256.4,137.7L253.1,134.3Z" fill="#517fa4"/>
<path d="M296.8,117.4L300.2,120.0L301.0,123.0L297.6,120.4Z" fill="#5b7e87"/>
<path d="M343.1,186.2L346.6,187.4L347.3,193.1L343.9,191.9Z" fill="#152f6d"/>
<path d="M258.8,171.7L262.1,174.8L263.0,168.8L259.6,165.7Z" fill="#2b5799"/>
<path d="M247.4,102.6L250.7,106.3L251.6,102.8L248.3,99.2Z" fill="#828e74"/>
<path d="M338.9,179.4L342.4,180.7L343.1,186.2L339.7,184.9Z" fill="#1a3775"/>
<path d="M301.0,123.0L304.4,125.5L305.2,128.7L301.8,126.2Z" fill="#547a8b"/>
<path d="M250.6,126.1L253.9,129.6L254.8,125.2L251.5,121.7Z" fill="#648e9e"/>
<path d="M261.2,181.1L264.6,184.1L265.4,177.8L262.1,174.8Z" fill="#23498f"/>
<path d="M249.0,113.9L252.3,117.5L253.2,113.5L249.9,110.0Z" fill="#72948d"/>
<path d="M334.7,172.7L338.2,174.1L338.9,179.4L335.5,177.9Z" fill="#1f407c"/>
<path d="M283.3,99.5L286.6,102.4L287.5,104.4L284.1,101.5Z" fill="#727d67"/>
<path d="M305.2,128.7L308.6,131.1L309.4,134.6L306.0,132.2Z" fill="#4d738d"/>
<path d="M330.5,166.0L333.9,167.7L334.7,172.7L331.3,171.1Z" fill="#244983"/>
<path d="M309.4,134.6L312.8,136.9L313.7,140.7L310.3,138.4Z" fill="#456d8f"/>
<path d="M254.7,147.9L258.0,151.3L258.9,146.0L255.6,142.7Z" fill="#4675a4"/>
<path d="M248.3,99.2L251.6,102.8L252.5,99.6L250.8,97.8L248.8,97.1Z" fill="#888b6b"/>
<path d="M263.7,190.6L267.0,193.5L267.9,187.0L264.6,184.1Z" fill="#1b3c84"/>
<path d="M326.3,159.5L329.7,161.3L330.5,166.0L327.1,164.3Z" fill="#29528a"/>
<path d="M313.7,140.7L317.1,142.8L317.9,146.8L314.5,144.7Z" fill="#3e678f"/>
<path d="M322.1,153.1L325.5,155.0L326.3,159.5L322.9,157.6Z" fill="#30598b"/>
<path d="M317.9,146.8L321.3,148.8L322.1,153.1L318.7,151.1Z" fill="#37608d"/>
<path d="M266.2,200.3L269.5,203.1L270.4,196.2L267.0,193.5Z" fill="#163075"/>
<path d="M287.5,104.4L290.9,107.2L291.7,109.4L288.3,106.6Z" fill="#6b8071"/>
<path d="M268.6,210.1L272.0,212.7L272.9,205.7L269.5,203.1Z" fill="#122565"/>
<path d="M257.2,156.8L260.5,160.0L261.4,154.4L258.0,151.3Z" fill="#3c6ba2"/>
<path d="M253.1,134.3L256.4,137.7L257.3,133.0L253.9,129.6Z" fill="#5986a2"/>
<path d="M249.9,110.0L253.2,113.5L254.1,109.8L250.7,106.3Z" fill="#789284"/>
<path d="M251.5,121.7L254.8,125.2L255.7,120.9L252.3,117.5Z" fill="#6a9198"/>
<path d="M282.1,97.3L282.4,97.8L281.0,96.5Z" fill="#7d7a5a"/>
<path d="M291.7,109.4L295.1,112.2L295.9,114.6L292.6,111.9Z" fill="#65827b"/>
<path d="M250.8,97.8L252.5,99.6L252.8,98.4Z" fill="#8e8965"/>
<path d="M259.6,165.7L263.0,168.8L263.8,163.0L260.5,160.0Z" fill="#3260a0"/>
<path d="M295.9,114.6L299.3,117.2L300.2,120.0L296.8,117.4Z" fill="#608081"/>
<path d="M250.7,106.3L254.1,109.8L254.9,106.3L251.6,102.8Z" fill="#7f907a"/>
<path d="M282.4,97.8L285.8,100.7L286.6,102.4L283.3,99.5Z" fill="#777c62"/>
<path d="M255.6,142.7L258.9,146.0L259.8,141.0L256.4,137.7Z" fill="#4e7da5"/>
<path d="M262.1,174.8L265.4,177.8L266.3,171.8L263.0,168.8Z" fill="#295498"/>
<path d="M300.2,120.0L303.6,122.5L304.4,125.5L301.0,123.0Z" fill="#5a7e89"/>
<path d="M252.3,117.5L255.7,120.9L256.5,116.9L253.2,113.5Z" fill="#709391"/>
<path d="M253.9,129.6L257.3,133.0L258.2,128.5L254.8,125.2Z" fill="#618ca0"/>
<path d="M251.6,102.8L254.9,106.3L255.8,103.1L252.5,99.6Z" fill="#848d72"/>
<path d="M355.0,201.0L358.5,201.7L359.2,207.8L355.7,207.1Z" fill="#10215a"/>
<path d="M264.6,184.1L267.9,187.0L268.8,180.6L265.4,177.8Z" fill="#22478e"/>
<path d="M304.4,125.5L307.8,127.9L308.6,131.1L305.2,128.7Z" fill="#53798b"/>
<path d="M286.6,102.4L290.0,105.2L290.9,107.2L287.5,104.4Z" fill="#707e6b"/>
<path d="M258.0,151.3L261.4,154.4L262.2,149.2L258.9,146.0Z" fill="#4473a4"/>
<path d="M350.8,194.2L354.3,195.0L355.0,201.0L351.5,200.1Z" fill="#132964"/>
<path d="M308.6,131.1L312.0,133.4L312.8,136.9L309.4,134.6Z" fill="#4c738e"/>
<path d="M267.0,193.5L270.4,196.2L271.3,189.7L267.9,187.0Z" fill="#1a3a83"/>
<path d="M346.6,187.4L350.1,188.4L350.8,194.2L347.3,193.1Z" fill="#16306e"/>
<path d="M312.8,136.9L316.3,139.0L317.1,142.8L313.7,140.7Z" fill="#456d90"/>
<path d="M342.4,180.7L345.9,181.9L346.6,187.4L343.1,186.2Z" fill="#1a3876"/>
<path d="M253.2,113.5L256.5,116.9L257.4,113.2L254.1,109.8Z" fill="#75948a"/>
<path d="M252.5,99.6L255.8,103.1L256.7,100.1L256.1,99.5L252.8,98.4Z" fill="#898b6a"/>
<path d="M269.5,203.1L272.9,205.7L273.8,198.8L270.4,196.2Z" fill="#162f74"/>
<path d="M256.4,137.7L259.8,141.0L260.6,136.2L257.3,133.0Z" fill="#5783a3"/>
<path d="M290.9,107.2L294.2,109.9L295.1,112.2L291.7,109.4Z" fill="#6a8174"/>
<path d="M317.1,142.8L320.5,144.8L321.3,148.8L317.9,146.8Z" fill="#3e668f"/>
<path d="M338.2,174.1L341.6,175.5L342.4,180.7L338.9,179.4Z" fill="#1f417d"/>
<path d="M260.5,160.0L263.8,163.0L264.7,157.5L261.4,154.4Z" fill="#3a69a2"/>
<path d="M321.3,148.8L324.7,150.7L325.5,155.0L322.1,153.1Z" fill="#37608d"/>
<path d="M333.9,167.7L337.4,169.1L338.2,174.1L334.7,172.7Z" fill="#244a84"/>
<path d="M254.8,125.2L258.2,128.5L259.0,124.2L255.7,120.9Z" fill="#68919c"/>
<path d="M325.5,155.0L328.9,156.7L329.7,161.3L326.3,159.5Z" fill="#30598c"/>
<path d="M329.7,161.3L333.2,162.9L333.9,167.7L330.5,166.0Z" fill="#29528a"/>
<path d="M272.0,212.7L275.3,215.2L276.2,208.1L272.9,205.7Z" fill="#112464"/>
<path d="M284.8,99.1L284.9,99.2L285.8,100.7L282.4,97.8L282.1,97.3Z" fill="#7b7c5d"/>
<path d="M295.1,112.2L298.5,114.7L299.3,117.2L295.9,114.6Z" fill="#64827d"/>
<path d="M263.0,168.8L266.3,171.8L267.2,166.0L263.8,163.0Z" fill="#305fa0"/>
<path d="M254.1,109.8L257.4,113.2L258.3,109.7L254.9,106.3Z" fill="#7b9280"/>
<path d="M258.9,146.0L262.2,149.2L263.1,144.1L259.8,141.0Z" fill="#4c7aa6"/>
<path d="M285.8,100.7L289.2,103.5L290.0,105.2L286.6,102.4Z" fill="#757e65"/>
<path d="M256.1,99.5L256.7,100.1L256.8,99.7Z" fill="#8f8865"/>
<path d="M299.3,117.2L302.7,119.7L303.6,122.5L300.2,120.0Z" fill="#5f8083"/>
<path d="M255.7,120.9L259.0,124.2L259.9,120.2L256.5,116.9Z" fill="#6e9395"/>
<path d="M257.3,133.0L260.6,136.2L261.5,131.7L258.2,128.5Z" fill="#5e8aa1"/>
<path d="M265.4,177.8L268.8,180.6L269.7,174.6L266.3,171.8Z" fill="#285296"/>
<path d="M254.9,106.3L258.3,109.7L259.2,106.4L255.8,103.1Z" fill="#818f77"/>
<path d="M303.6,122.5L307.0,124.8L307.8,127.9L304.4,125.5Z" fill="#597e8a"/>
<path d="M261.4,154.4L264.7,157.5L265.6,152.2L262.2,149.2Z" fill="#4271a4"/>
<path d="M267.9,187.0L271.3,189.7L272.2,183.3L268.8,180.6Z" fill="#21458c"/>
<path d="M290.0,105.2L293.4,107.9L294.2,109.9L290.9,107.2Z" fill="#6f806e"/>
<path d="M255.8,103.1L259.2,106.4L260.0,103.4L256.7,100.1Z" fill="#878d6f"/>
<path d="M307.8,127.9L311.2,130.1L312.0,133.4L308.6,131.1Z" fill="#53788c"/>
<path d="M284.9,99.2L284.9,99.2L284.8,99.1Z" fill="#807b5b"/>
<path d="M256.5,116.9L259.9,120.2L260.8,116.4L257.4,113.2Z" fill="#73958e"/>
<path d="M270.4,196.2L273.8,198.8L274.6,192.2L271.3,189.7Z" fill="#1a3881"/>
<path d="M259.8,141.0L263.1,144.1L264.0,139.3L260.6,136.2Z" fill="#5481a4"/>
<path d="M256.7,100.1L260.0,103.4L260.8,101.0L256.8,99.7Z" fill="#8b8b68"/>
<path d="M312.0,133.4L315.4,135.5L316.3,139.0L312.8,136.9Z" fill="#4b738e"/>
<path d="M258.2,128.5L261.5,131.7L262.4,127.4L259.0,124.2Z" fill="#66909f"/>
<path d="M263.8,163.0L267.2,166.0L268.1,160.4L264.7,157.5Z" fill="#3867a2"/>
<path d="M294.2,109.9L297.6,112.5L298.5,114.7L295.1,112.2Z" fill="#698277"/>
<path d="M284.9,99.2L288.3,102.0L289.2,103.5L285.8,100.7Z" fill="#797d61"/>
<path d="M272.9,205.7L276.2,208.1L277.1,201.3L273.8,198.8Z" fill="#152e72"/>
<path d="M316.3,139.0L319.7,141.0L320.5,144.8L317.1,142.8Z" fill="#446d90"/>
<path d="M358.5,201.7L362.0,202.2L362.7,208.4L359.2,207.8Z" fill="#10235c"/>
<path d="M320.5,144.8L323.9,146.7L324.7,150.7L321.3,148.8Z" fill="#3e668f"/>
<path d="M275.3,215.2L278.7,217.5L279.6,210.4L276.2,208.1Z" fill="#112363"/>
<path d="M257.4,113.2L260.8,116.4L261.6,112.9L258.3,109.7Z" fill="#799486"/>
<path d="M354.3,195.0L357.8,195.7L358.5,201.7L355.0,201.0Z" fill="#132a66"/>
<path d="M324.7,150.7L328.2,152.5L328.9,156.7L325.5,155.0Z" fill="#37608e"/>
<path d="M350.1,188.4L353.6,189.3L354.3,195.0L350.8,194.2Z" fill="#163170"/>
<path d="M328.9,156.7L332.4,158.4L333.2,162.9L329.7,161.3Z" fill="#30598c"/>
<path d="M266.3,171.8L269.7,174.6L270.6,168.7L267.2,166.0Z" fill="#2e5d9f"/>
<path d="M345.9,181.9L349.3,183.0L350.1,188.4L346.6,187.4Z" fill="#1b3977"/>
<path d="M298.5,114.7L301.9,117.2L302.7,119.7L299.3,117.2Z" fill="#63827f"/>
<path d="M341.6,175.5L345.1,176.7L345.9,181.9L342.4,180.7Z" fill="#20427e"/>
<path d="M333.2,162.9L336.6,164.4L337.4,169.1L333.9,167.7Z" fill="#2a528b"/>
<path d="M262.2,149.2L265.6,152.2L266.5,147.1L263.1,144.1Z" fill="#4a79a6"/>
<path d="M337.4,169.1L340.9,170.5L341.6,175.5L338.2,174.1Z" fill="#254a85"/>
<path d="M259.0,124.2L262.4,127.4L263.2,123.4L259.9,120.2Z" fill="#6c9299"/>
<path d="M289.2,103.5L292.5,106.2L293.4,107.9L290.0,105.2Z" fill="#737f69"/>
<path d="M260.6,136.2L264.0,139.3L264.9,134.8L261.5,131.7Z" fill="#5c88a2"/>
<path d="M258.3,109.7L261.6,112.9L262.5,109.6L259.2,106.4Z" fill="#7e917d"/>
<path d="M302.7,119.7L306.1,122.1L307.0,124.8L303.6,122.5Z" fill="#5e8085"/>
<path d="M268.8,180.6L272.2,183.3L273.0,177.2L269.7,174.6Z" fill="#275095"/>
<path d="M284.1,98.0L287.4,100.8L288.3,102.0L284.9,99.2Z" fill="#7d7d5d"/>
<path d="M264.7,157.5L268.1,160.4L268.9,155.1L265.6,152.2Z" fill="#406fa4"/>
<path d="M259.2,106.4L262.5,109.6L263.4,106.6L260.0,103.4Z" fill="#848f75"/>
<path d="M307.0,124.8L310.4,127.1L311.2,130.1L307.8,127.9Z" fill="#597e8b"/>
<path d="M293.4,107.9L296.8,110.5L297.6,112.5L294.2,109.9Z" fill="#6e8171"/>
<path d="M271.3,189.7L274.6,192.2L275.5,185.9L272.2,183.3Z" fill="#20448b"/>
<path d="M259.9,120.2L263.2,123.4L264.1,119.6L260.8,116.4Z" fill="#719492"/>
<path d="M260.0,103.4L263.4,106.6L264.3,103.8L261.6,101.3L260.8,101.0Z" fill="#898d6d"/>
<path d="M263.1,144.1L266.5,147.1L267.3,142.3L264.0,139.3Z" fill="#5280a6"/>
<path d="M261.5,131.7L264.9,134.8L265.7,130.5L262.4,127.4Z" fill="#638ea0"/>
<path d="M311.2,130.1L314.6,132.2L315.4,135.5L312.0,133.4Z" fill="#52788d"/>
<path d="M273.8,198.8L277.1,201.3L278.0,194.7L274.6,192.2Z" fill="#193780"/>
<path d="M267.2,166.0L270.6,168.7L271.4,163.1L268.1,160.4Z" fill="#3665a2"/>
<path d="M288.3,102.0L291.7,104.7L292.5,106.2L289.2,103.5Z" fill="#787f64"/>
<path d="M297.6,112.5L301.0,114.9L301.9,117.2L298.5,114.7Z" fill="#67837a"/>
<path d="M315.4,135.5L318.9,137.5L319.7,141.0L316.3,139.0Z" fill="#4b728f"/>
<path d="M260.8,116.4L264.1,119.6L265.0,116.0L261.6,112.9Z" fill="#76958b"/>
<path d="M276.2,208.1L279.6,210.4L280.5,203.6L277.1,201.3Z" fill="#152d71"/>
<path d="M283.2,97.0L286.6,99.8L287.4,100.8L284.1,98.0Z" fill="#827c5c"/>
<path d="M261.6,101.3L264.3,103.8L264.8,102.3Z" fill="#8d8b68"/>
<path d="M319.7,141.0L323.1,142.9L323.9,146.7L320.5,144.8Z" fill="#446d91"/>
<path d="M265.6,152.2L268.9,155.1L269.8,150.0L266.5,147.1Z" fill="#4877a6"/>
<path d="M269.7,174.6L273.0,177.2L273.9,171.4L270.6,168.7Z" fill="#2d5b9e"/>
<path d="M278.7,217.5L282.1,219.7L283.0,212.6L279.6,210.4Z" fill="#102262"/>
<path d="M262.4,127.4L265.7,130.5L266.6,126.4L263.2,123.4Z" fill="#6a929c"/>
<path d="M323.9,146.7L327.4,148.4L328.2,152.5L324.7,150.7Z" fill="#3e6690"/>
<path d="M301.9,117.2L305.3,119.5L306.1,122.1L302.7,119.7Z" fill="#628281"/>
<path d="M261.6,112.9L265.0,116.0L265.9,112.8L262.5,109.6Z" fill="#7c9382"/>
<path d="M264.0,139.3L267.3,142.3L268.2,137.7L264.9,134.8Z" fill="#5a86a4"/>
<path d="M292.5,106.2L295.9,108.7L296.8,110.5L293.4,107.9Z" fill="#72806c"/>
<path d="M328.2,152.5L331.6,154.1L332.4,158.4L328.9,156.7Z" fill="#37608e"/>
<path d="M332.4,158.4L335.8,159.8L336.6,164.4L333.2,162.9Z" fill="#315a8d"/>
<path d="M336.6,164.4L340.1,165.7L340.9,170.5L337.4,169.1Z" fill="#2a538b"/>
<path d="M272.2,183.3L275.5,185.9L276.4,179.8L273.0,177.2Z" fill="#264f94"/>
<path d="M362.0,202.2L365.5,202.6L366.3,208.8L362.7,208.4Z" fill="#11255f"/>
<path d="M357.8,195.7L361.3,196.3L362.0,202.2L358.5,201.7Z" fill="#142b68"/>
<path d="M340.9,170.5L344.3,171.7L345.1,176.7L341.6,175.5Z" fill="#254b86"/>
<path d="M306.1,122.1L309.5,124.3L310.4,127.1L307.0,124.8Z" fill="#5d8087"/>
<path d="M353.6,189.3L357.1,190.0L357.8,195.7L354.3,195.0Z" fill="#173272"/>
<path d="M345.1,176.7L348.6,177.7L349.3,183.0L345.9,181.9Z" fill="#20437f"/>
<path d="M349.3,183.0L352.8,183.8L353.6,189.3L350.1,188.4Z" fill="#1b3b79"/>
<path d="M262.5,109.6L265.9,112.8L266.7,109.7L263.4,106.6Z" fill="#81917a"/>
<path d="M287.4,100.8L290.8,103.4L291.7,104.7L288.3,102.0Z" fill="#7c7e60"/>
<path d="M268.1,160.4L271.4,163.1L272.3,157.8L268.9,155.1Z" fill="#3e6ea4"/>
<path d="M282.3,96.3L285.7,99.1L286.6,99.8L283.2,97.0Z" fill="#877c5b"/>
<path d="M263.2,123.4L266.6,126.4L267.5,122.6L264.1,119.6Z" fill="#6f9495"/>
<path d="M296.8,110.5L300.2,112.9L301.0,114.9L297.6,112.5Z" fill="#6c8274"/>
<path d="M263.4,106.6L266.7,109.7L267.6,106.9L264.3,103.8Z" fill="#868f72"/>
<path d="M274.6,192.2L278.0,194.7L278.9,188.3L275.5,185.9Z" fill="#1f428a"/>
<path d="M310.4,127.1L313.8,129.2L314.6,132.2L311.2,130.1Z" fill="#587d8c"/>
<path d="M266.5,147.1L269.8,150.0L270.7,145.1L267.3,142.3Z" fill="#4f7ea7"/>
<path d="M264.9,134.8L268.2,137.7L269.1,133.4L265.7,130.5Z" fill="#618ca2"/>
<path d="M264.3,103.8L267.6,106.9L268.5,104.4L267.1,103.1L264.8,102.3Z" fill="#8b8d6c"/>
<path d="M270.6,168.7L273.9,171.4L274.8,165.8L271.4,163.1Z" fill="#3564a2"/>
<path d="M264.1,119.6L267.5,122.6L268.4,119.0L265.0,116.0Z" fill="#74968f"/>
<path d="M314.6,132.2L318.0,134.2L318.9,137.5L315.4,135.5Z" fill="#52788e"/>
<path d="M277.1,201.3L280.5,203.6L281.4,196.9L278.0,194.7Z" fill="#19377f"/>
<path d="M291.7,104.7L295.1,107.2L295.9,108.7L292.5,106.2Z" fill="#778067"/>
<path d="M281.5,95.8L284.9,98.6L285.7,99.1L282.3,96.3Z" fill="#8b7d5b"/>
<path d="M301.0,114.9L304.4,117.3L305.3,119.5L301.9,117.2Z" fill="#67847c"/>
<path d="M286.6,99.8L290.0,102.5L290.8,103.4L287.4,100.8Z" fill="#807e5e"/>
<path d="M318.9,137.5L322.3,139.3L323.1,142.9L319.7,141.0Z" fill="#4b728f"/>
<path d="M279.6,210.4L283.0,212.6L283.9,205.7L280.5,203.6Z" fill="#152c70"/>
<path d="M268.9,155.1L272.3,157.8L273.2,152.7L269.8,150.0Z" fill="#4675a6"/>
<path d="M265.7,130.5L269.1,133.4L270.0,129.3L266.6,126.4Z" fill="#68929f"/>
<path d="M265.0,116.0L268.4,119.0L269.2,115.7L265.9,112.8Z" fill="#799587"/>
<path d="M273.0,177.2L276.4,179.8L277.3,173.9L273.9,171.4Z" fill="#2c599d"/>
<path d="M267.3,142.3L270.7,145.1L271.6,140.5L268.2,137.7Z" fill="#5785a5"/>
<path d="M267.1,103.1L268.5,104.4L268.8,103.6Z" fill="#8f8b67"/>
<path d="M323.1,142.9L326.6,144.6L327.4,148.4L323.9,146.7Z" fill="#446d91"/>
<path d="M305.3,119.5L308.7,121.8L309.5,124.3L306.1,122.1Z" fill="#628282"/>
<path d="M282.1,219.7L285.5,221.7L286.4,214.6L283.0,212.6Z" fill="#102261"/>
<path d="M295.9,108.7L299.3,111.2L300.2,112.9L296.8,110.5Z" fill="#71816f"/>
<path d="M280.6,95.6L284.0,98.4L284.9,98.6L281.5,95.8Z" fill="#8f7e5b"/>
<path d="M327.4,148.4L330.8,150.0L331.6,154.1L328.2,152.5Z" fill="#3e6790"/>
<path d="M265.9,112.8L269.2,115.7L270.1,112.7L266.7,109.7Z" fill="#7f937f"/>
<path d="M275.5,185.9L278.9,188.3L279.8,182.2L276.4,179.8Z" fill="#254d93"/>
<path d="M290.8,103.4L294.2,106.0L295.1,107.2L291.7,104.7Z" fill="#7b8064"/>
<path d="M331.6,154.1L335.1,155.5L335.8,159.8L332.4,158.4Z" fill="#38618f"/>
<path d="M285.7,99.1L289.1,101.7L290.0,102.5L286.6,99.8Z" fill="#857e5d"/>
<path d="M266.6,126.4L270.0,129.3L270.8,125.5L267.5,122.6Z" fill="#6d9498"/>
<path d="M271.4,163.1L274.8,165.8L275.7,160.4L272.3,157.8Z" fill="#3d6ca4"/>
<path d="M309.5,124.3L313.0,126.4L313.8,129.2L310.4,127.1Z" fill="#5d8088"/>
<path d="M335.8,159.8L339.3,161.2L340.1,165.7L336.6,164.4Z" fill="#315a8d"/>
<path d="M266.7,109.7L270.1,112.7L271.0,109.9L267.6,106.9Z" fill="#849177"/>
<path d="M268.2,137.7L271.6,140.5L272.5,136.2L269.1,133.4Z" fill="#5f8ba3"/>
<path d="M269.8,150.0L273.2,152.7L274.1,147.8L270.7,145.1Z" fill="#4e7da8"/>
<path d="M340.1,165.7L343.6,166.9L344.3,171.7L340.9,170.5Z" fill="#2b548c"/>
<path d="M300.2,112.9L303.6,115.3L304.4,117.3L301.0,114.9Z" fill="#6c8377"/>
<path d="M279.7,95.6L283.1,98.4L284.0,98.4L280.6,95.6Z" fill="#927f5c"/>
<path d="M344.3,171.7L347.8,172.7L348.6,177.7L345.1,176.7Z" fill="#264c87"/>
<path d="M278.0,194.7L281.4,196.9L282.3,190.5L278.9,188.3Z" fill="#1e418a"/>
<path d="M267.6,106.9L271.0,109.9L271.9,107.3L268.5,104.4Z" fill="#888f70"/>
<path d="M348.6,177.7L352.1,178.6L352.8,183.8L349.3,183.0Z" fill="#214480"/>
<path d="M313.8,129.2L317.2,131.1L318.0,134.2L314.6,132.2Z" fill="#587d8c"/>
<path d="M352.8,183.8L356.3,184.6L357.1,190.0L353.6,189.3Z" fill="#1c3c7a"/>
<path d="M267.5,122.6L270.8,125.5L271.7,121.9L268.4,119.0Z" fill="#729692"/>
<path d="M357.1,190.0L360.6,190.6L361.3,196.3L357.8,195.7Z" fill="#183474"/>
<path d="M361.3,196.3L364.8,196.7L365.5,202.6L362.0,202.2Z" fill="#152d6b"/>
<path d="M365.5,202.6L369.1,202.9L369.8,209.0L366.3,208.8Z" fill="#122762"/>
<path d="M273.9,171.4L277.3,173.9L278.2,168.3L274.8,165.8Z" fill="#3463a2"/>
<path d="M295.1,107.2L298.5,109.7L299.3,111.2L295.9,108.7Z" fill="#76816a"/>
<path d="M268.5,104.4L271.9,107.3L272.7,105.0L272.6,104.9L268.8,103.6Z" fill="#8c8d6a"/>
<path d="M284.9,98.6L288.2,101.2L289.1,101.7L285.7,99.1Z" fill="#897f5d"/>
<path d="M280.5,203.6L283.9,205.7L284.8,199.0L281.4,196.9Z" fill="#19367e"/>
<path d="M278.9,95.9L282.3,98.7L283.1,98.4L279.7,95.6Z" fill="#95805d"/>
<path d="M290.0,102.5L293.4,105.0L294.2,106.0L290.8,103.4Z" fill="#7f8060"/>
<path d="M318.0,134.2L321.5,136.0L322.3,139.3L318.9,137.5Z" fill="#51788e"/>
<path d="M304.4,117.3L307.9,119.5L308.7,121.8L305.3,119.5Z" fill="#66847e"/>
<path d="M269.1,133.4L272.5,136.2L273.3,132.1L270.0,129.3Z" fill="#6691a1"/>
<path d="M272.3,157.8L275.7,160.4L276.6,155.3L273.2,152.7Z" fill="#4574a6"/>
<path d="M268.4,119.0L271.7,121.9L272.6,118.6L269.2,115.7Z" fill="#77968b"/>
<path d="M270.7,145.1L274.1,147.8L275.0,143.2L271.6,140.5Z" fill="#5683a6"/>
<path d="M276.4,179.8L279.8,182.2L280.7,176.3L277.3,173.9Z" fill="#2c589c"/>
<path d="M283.0,212.6L286.4,214.6L287.3,207.7L283.9,205.7Z" fill="#142c70"/>
<path d="M322.3,139.3L325.7,141.1L326.6,144.6L323.1,142.9Z" fill="#4b7390"/>
<path d="M278.0,96.5L281.4,99.2L282.3,98.7L278.9,95.9Z" fill="#97825e"/>
<path d="M284.0,98.4L287.4,101.0L288.2,101.2L284.9,98.6Z" fill="#8d805d"/>
<path d="M272.6,104.9L272.7,105.0L272.8,104.9Z" fill="#918b67"/>
<path d="M299.3,111.2L302.8,113.5L303.6,115.3L300.2,112.9Z" fill="#708371"/>
<path d="M308.7,121.8L312.1,123.9L313.0,126.4L309.5,124.3Z" fill="#628284"/>
<path d="M269.2,115.7L272.6,118.6L273.5,115.5L270.1,112.7Z" fill="#7d9483"/>
<path d="M326.6,144.6L330.0,146.2L330.8,150.0L327.4,148.4Z" fill="#446d92"/>
<path d="M285.5,221.7L288.9,223.5L289.8,216.4L286.4,214.6Z" fill="#102261"/>
<path d="M277.1,97.2L280.5,100.0L281.4,99.2L278.0,96.5Z" fill="#988460"/>
<path d="M270.0,129.3L273.3,132.1L274.2,128.3L270.8,125.5Z" fill="#6c949b"/>
<path d="M289.1,101.7L292.5,104.3L293.4,105.0L290.0,102.5Z" fill="#83805f"/>
<path d="M294.2,106.0L297.6,108.4L298.5,109.7L295.1,107.2Z" fill="#7a8166"/>
<path d="M274.8,165.8L278.2,168.3L279.1,162.9L275.7,160.4Z" fill="#3c6ba4"/>
<path d="M278.9,188.3L282.3,190.5L283.2,184.4L279.8,182.2Z" fill="#254c93"/>
<path d="M270.1,112.7L273.5,115.5L274.4,112.7L271.0,109.9Z" fill="#82927c"/>
<path d="M330.8,150.0L334.3,151.5L335.1,155.5L331.6,154.1Z" fill="#3e6791"/>
<path d="M276.2,98.3L279.6,101.1L280.5,100.0L277.1,97.2Z" fill="#988661"/>
<path d="M313.0,126.4L316.4,128.4L317.2,131.1L313.8,129.2Z" fill="#5d8189"/>
<path d="M271.6,140.5L275.0,143.2L275.8,138.9L272.5,136.2Z" fill="#5d8aa4"/>
<path d="M273.2,152.7L276.6,155.3L277.5,150.4L274.1,147.8Z" fill="#4c7ba8"/>
<path d="M283.1,98.4L286.5,101.1L287.4,101.0L284.0,98.4Z" fill="#91815e"/>
<path d="M271.0,109.9L274.4,112.7L275.2,110.1L271.9,107.3Z" fill="#879175"/>
<path d="M335.1,155.5L338.5,156.9L339.3,161.2L335.8,159.8Z" fill="#38618f"/>
<path d="M303.6,115.3L307.0,117.5L307.9,119.5L304.4,117.3Z" fill="#6b8479"/>
<path d="M275.4,99.6L278.8,102.4L279.6,101.1L276.2,98.3Z" fill="#978863"/>
<path d="M271.9,107.3L275.2,110.1L276.1,107.8L272.7,105.0Z" fill="#8b8f6f"/>
<path d="M270.8,125.5L274.2,128.3L275.1,124.7L271.7,121.9Z" fill="#719595"/>
<path d="M281.4,196.9L284.8,199.0L285.7,192.6L282.3,190.5Z" fill="#1e4189"/>
<path d="M274.5,101.1L277.9,103.9L278.8,102.4L275.4,99.6Z" fill="#958965"/>
<path d="M339.3,161.2L342.8,162.4L343.6,166.9L340.1,165.7Z" fill="#325b8e"/>
<path d="M272.7,105.0L276.1,107.8L277.0,105.7L273.6,102.9Z" fill="#8e8e6a"/>
<path d="M273.6,102.9L277.0,105.7L277.9,103.9L274.5,101.1Z" fill="#928b67"/>
<path d="M277.3,173.9L280.7,176.3L281.6,170.6L278.2,168.3Z" fill="#3362a2"/>
<path d="M317.2,131.1L320.7,133.0L321.5,136.0L318.0,134.2Z" fill="#587d8d"/>
<path d="M288.2,101.2L291.6,103.8L292.5,104.3L289.1,101.7Z" fill="#88815f"/>
<path d="M343.6,166.9L347.1,167.9L347.8,172.7L344.3,171.7Z" fill="#2c558c"/>
<path d="M298.5,109.7L301.9,112.0L302.8,113.5L299.3,111.2Z" fill="#75826d"/>
<path d="M282.3,98.7L285.6,101.3L286.5,101.1L283.1,98.4Z" fill="#94835f"/>
<path d="M293.4,105.0L296.8,107.4L297.6,108.4L294.2,106.0Z" fill="#7e8163"/>
<path d="M347.8,172.7L351.3,173.6L352.1,178.6L348.6,177.7Z" fill="#274e88"/>
<path d="M272.5,136.2L275.8,138.9L276.7,134.8L273.3,132.1Z" fill="#6490a2"/>
<path d="M271.7,121.9L275.1,124.7L276.0,121.3L272.6,118.6Z" fill="#76978f"/>
<path d="M283.9,205.7L287.3,207.7L288.2,201.0L284.8,199.0Z" fill="#18367d"/>
<path d="M307.9,119.5L311.3,121.6L312.1,123.9L308.7,121.8Z" fill="#66847f"/>
<path d="M352.1,178.6L355.6,179.4L356.3,184.6L352.8,183.8Z" fill="#224682"/>
<path d="M275.7,160.4L279.1,162.9L280.0,157.7L276.6,155.3Z" fill="#4473a6"/>
<path d="M321.5,136.0L324.9,137.8L325.7,141.1L322.3,139.3Z" fill="#51788f"/>
<path d="M274.1,147.8L277.5,150.4L278.3,145.8L275.0,143.2Z" fill="#5482a7"/>
<path d="M356.3,184.6L359.9,185.2L360.6,190.6L357.1,190.0Z" fill="#1e3e7c"/>
<path d="M281.4,99.2L284.8,101.9L285.6,101.3L282.3,98.7Z" fill="#968561"/>
<path d="M360.6,190.6L364.1,191.1L364.8,196.7L361.3,196.3Z" fill="#193676"/>
<path d="M279.8,182.2L283.2,184.4L284.1,178.5L280.7,176.3Z" fill="#2b579b"/>
<path d="M364.8,196.7L368.4,197.0L369.1,202.9L365.5,202.6Z" fill="#152f6e"/>
<path d="M272.6,118.6L276.0,121.3L276.9,118.2L273.5,115.5Z" fill="#7b9687"/>
<path d="M287.4,101.0L290.8,103.6L291.6,103.8L288.2,101.2Z" fill="#8c825f"/>
<path d="M369.1,202.9L372.6,202.9L373.3,209.0L369.8,209.0Z" fill="#132965"/>
<path d="M286.4,214.6L289.8,216.4L290.7,209.5L287.3,207.7Z" fill="#142c70"/>
<path d="M325.7,141.1L329.2,142.7L330.0,146.2L326.6,144.6Z" fill="#4b7390"/>
<path d="M302.8,113.5L306.2,115.7L307.0,117.5L303.6,115.3Z" fill="#708474"/>
<path d="M280.5,100.0L283.9,102.7L284.8,101.9L281.4,99.2Z" fill="#978762"/>
<path d="M273.3,132.1L276.7,134.8L277.6,130.9L274.2,128.3Z" fill="#6b949e"/>
<path d="M312.1,123.9L315.6,125.8L316.4,128.4L313.0,126.4Z" fill="#618385"/>
<path d="M273.5,115.5L276.9,118.2L277.8,115.4L274.4,112.7Z" fill="#80947f"/>
<path d="M292.5,104.3L295.9,106.7L296.8,107.4L293.4,105.0Z" fill="#828261"/>
<path d="M297.6,108.4L301.1,110.7L301.9,112.0L298.5,109.7Z" fill="#798269"/>
<path d="M278.2,168.3L281.6,170.6L282.5,165.2L279.1,162.9Z" fill="#3b6aa4"/>
<path d="M288.9,223.5L292.3,225.2L293.2,218.1L289.8,216.4Z" fill="#102261"/>
<path d="M279.6,101.1L283.0,103.7L283.9,102.7L280.5,100.0Z" fill="#978864"/>
<path d="M330.0,146.2L333.5,147.7L334.3,151.5L330.8,150.0Z" fill="#456e92"/>
<path d="M282.3,190.5L285.7,192.6L286.6,186.5L283.2,184.4Z" fill="#244c92"/>
<path d="M275.0,143.2L278.3,145.8L279.2,141.4L275.8,138.9Z" fill="#5c89a5"/>
<path d="M274.4,112.7L277.8,115.4L278.6,112.8L275.2,110.1Z" fill="#859279"/>
<path d="M286.5,101.1L289.9,103.6L290.8,103.6L287.4,101.0Z" fill="#8f8360"/>
<path d="M276.6,155.3L280.0,157.7L280.8,152.9L277.5,150.4Z" fill="#4b7aa8"/>
<path d="M278.8,102.4L282.1,105.0L283.0,103.7L279.6,101.1Z" fill="#958a65"/>
<path d="M275.2,110.1L278.6,112.8L279.5,110.5L276.1,107.8Z" fill="#899173"/>
<path d="M316.4,128.4L319.8,130.2L320.7,133.0L317.2,131.1Z" fill="#5d818a"/>
<path d="M274.2,128.3L277.6,130.9L278.5,127.3L275.1,124.7Z" fill="#709597"/>
<path d="M334.3,151.5L337.7,152.8L338.5,156.9L335.1,155.5Z" fill="#3f6891"/>
<path d="M277.9,103.9L281.3,106.6L282.1,105.0L278.8,102.4Z" fill="#938c67"/>
<path d="M307.0,117.5L310.5,119.5L311.3,121.6L307.9,119.5Z" fill="#6a857b"/>
<path d="M276.1,107.8L279.5,110.5L280.4,108.4L277.0,105.7Z" fill="#8d8f6d"/>
<path d="M277.0,105.7L280.4,108.4L281.3,106.6L277.9,103.9Z" fill="#908e69"/>
<path d="M284.8,199.0L288.2,201.0L289.1,194.6L285.7,192.6Z" fill="#1e4089"/>
<path d="M291.6,103.8L295.1,106.2L295.9,106.7L292.5,104.3Z" fill="#868361"/>
<path d="M338.5,156.9L342.0,158.1L342.8,162.4L339.3,161.2Z" fill="#396290"/>
<path d="M285.6,101.3L289.0,103.9L289.9,103.6L286.5,101.1Z" fill="#928561"/>
<path d="M280.7,176.3L284.1,178.5L285.0,172.8L281.6,170.6Z" fill="#3261a2"/>
<path d="M301.9,112.0L305.3,114.2L306.2,115.7L302.8,113.5Z" fill="#74836f"/>
<path d="M275.1,124.7L278.5,127.3L279.4,123.9L276.0,121.3Z" fill="#749791"/>
<path d="M296.8,107.4L300.2,109.7L301.1,110.7L297.6,108.4Z" fill="#7d8366"/>
<path d="M320.7,133.0L324.1,134.7L324.9,137.8L321.5,136.0Z" fill="#587d8e"/>
<path d="M275.8,138.9L279.2,141.4L280.1,137.3L276.7,134.8Z" fill="#638fa3"/>
<path d="M342.8,162.4L346.3,163.4L347.1,167.9L343.6,166.9Z" fill="#335c8e"/>
<path d="M279.1,162.9L282.5,165.2L283.4,160.1L280.0,157.7Z" fill="#4372a6"/>
<path d="M277.5,150.4L280.8,152.9L281.7,148.2L278.3,145.8Z" fill="#5381a7"/>
<path d="M311.3,121.6L314.7,123.5L315.6,125.8L312.1,123.9Z" fill="#668581"/>
<path d="M284.8,101.9L288.2,104.4L289.0,103.9L285.6,101.3Z" fill="#948763"/>
<path d="M287.3,207.7L290.7,209.5L291.6,202.9L288.2,201.0Z" fill="#18357d"/>
<path d="M347.1,167.9L350.6,168.8L351.3,173.6L347.8,172.7Z" fill="#2d568d"/>
<path d="M276.0,121.3L279.4,123.9L280.3,120.8L276.9,118.2Z" fill="#79978b"/>
<path d="M290.8,103.6L294.2,106.0L295.1,106.2L291.6,103.8Z" fill="#8b8461"/>
<path d="M324.9,137.8L328.4,139.4L329.2,142.7L325.7,141.1Z" fill="#52788f"/>
<path d="M283.2,184.4L286.6,186.5L287.5,180.6L284.1,178.5Z" fill="#2b579b"/>
<path d="M351.3,173.6L354.8,174.4L355.6,179.4L352.1,178.6Z" fill="#274f8a"/>
<path d="M283.9,102.7L287.3,105.2L288.2,104.4L284.8,101.9Z" fill="#958964"/>
<path d="M276.7,134.8L280.1,137.3L281.0,133.4L277.6,130.9Z" fill="#6a94a0"/>
<path d="M355.6,179.4L359.1,180.0L359.9,185.2L356.3,184.6Z" fill="#234884"/>
<path d="M306.2,115.7L309.6,117.8L310.5,119.5L307.0,117.5Z" fill="#6f8575"/>
<path d="M276.9,118.2L280.3,120.8L281.1,118.0L277.8,115.4Z" fill="#7f9583"/>
<path d="M289.8,216.4L293.2,218.1L294.1,211.2L290.7,209.5Z" fill="#142c70"/>
<path d="M295.9,106.7L299.3,109.0L300.2,109.7L296.8,107.4Z" fill="#818364"/>
<path d="M315.6,125.8L319.0,127.7L319.8,130.2L316.4,128.4Z" fill="#618386"/>
<path d="M359.9,185.2L363.4,185.6L364.1,191.1L360.6,190.6Z" fill="#1f407e"/>
<path d="M329.2,142.7L332.7,144.1L333.5,147.7L330.0,146.2Z" fill="#4c7391"/>
<path d="M301.1,110.7L304.5,112.9L305.3,114.2L301.9,112.0Z" fill="#79836b"/>
<path d="M283.0,103.7L286.4,106.3L287.3,105.2L283.9,102.7Z" fill="#958b66"/>
<path d="M281.6,170.6L285.0,172.8L285.9,167.4L282.5,165.2Z" fill="#3a69a4"/>
<path d="M277.8,115.4L281.1,118.0L282.0,115.4L278.6,112.8Z" fill="#83947c"/>
<path d="M364.1,191.1L367.7,191.3L368.4,197.0L364.8,196.7Z" fill="#1a3978"/>
<path d="M278.3,145.8L281.7,148.2L282.6,143.8L279.2,141.4Z" fill="#5b88a6"/>
<path d="M289.9,103.6L293.3,106.0L294.2,106.0L290.8,103.6Z" fill="#8e8562"/>
<path d="M282.1,105.0L285.5,107.6L286.4,106.3L283.0,103.7Z" fill="#948c68"/>
<path d="M280.0,157.7L283.4,160.1L284.2,155.2L280.8,152.9Z" fill="#4a7aa8"/>
<path d="M285.7,192.6L289.1,194.6L290.0,188.4L286.6,186.5Z" fill="#244b92"/>
<path d="M368.4,197.0L371.9,197.1L372.6,202.9L369.1,202.9Z" fill="#163171"/>
<path d="M278.6,112.8L282.0,115.4L282.9,113.1L279.5,110.5Z" fill="#889276"/>
<path d="M277.6,130.9L281.0,133.4L281.9,129.8L278.5,127.3Z" fill="#6f959a"/>
<path d="M281.3,106.6L284.7,109.2L285.5,107.6L282.1,105.0Z" fill="#918e69"/>
<path d="M292.3,225.2L295.7,226.8L296.6,219.6L293.2,218.1Z" fill="#102262"/>
<path d="M279.5,110.5L282.9,113.1L283.8,111.0L280.4,108.4Z" fill="#8b9171"/>
<path d="M372.6,202.9L376.2,202.9L376.9,208.9L373.3,209.0Z" fill="#142b68"/>
<path d="M280.4,108.4L283.8,111.0L284.7,109.2L281.3,106.6Z" fill="#8e906c"/>
<path d="M333.5,147.7L337.0,149.0L337.7,152.8L334.3,151.5Z" fill="#456e92"/>
<path d="M319.8,130.2L323.3,131.9L324.1,134.7L320.7,133.0Z" fill="#5d818b"/>
<path d="M310.5,119.5L313.9,121.5L314.7,123.5L311.3,121.6Z" fill="#6a867c"/>
<path d="M295.1,106.2L298.5,108.5L299.3,109.0L295.9,106.7Z" fill="#858463"/>
<path d="M289.0,103.9L292.5,106.3L293.3,106.0L289.9,103.6Z" fill="#918764"/>
<path d="M337.7,152.8L341.2,154.0L342.0,158.1L338.5,156.9Z" fill="#406992"/>
<path d="M284.1,178.5L287.5,180.6L288.4,174.9L285.0,172.8Z" fill="#3161a2"/>
<path d="M278.5,127.3L281.9,129.8L282.8,126.4L279.4,123.9Z" fill="#739794"/>
<path d="M288.2,201.0L291.6,202.9L292.5,196.4L289.1,194.6Z" fill="#1d4089"/>
<path d="M279.2,141.4L282.6,143.8L283.5,139.7L280.1,137.3Z" fill="#628ea4"/>
<path d="M305.3,114.2L308.8,116.3L309.6,117.8L306.2,115.7Z" fill="#748471"/>
<path d="M300.2,109.7L303.6,111.9L304.5,112.9L301.1,110.7Z" fill="#7d8468"/>
<path d="M342.0,158.1L345.5,159.1L346.3,163.4L342.8,162.4Z" fill="#3a6390"/>
<path d="M324.1,134.7L327.6,136.3L328.4,139.4L324.9,137.8Z" fill="#587e8e"/>
<path d="M288.2,104.4L291.6,106.8L292.5,106.3L289.0,103.9Z" fill="#938965"/>
<path d="M282.5,165.2L285.9,167.4L286.8,162.3L283.4,160.1Z" fill="#4271a6"/>
<path d="M280.8,152.9L284.2,155.2L285.1,150.5L281.7,148.2Z" fill="#5281a8"/>
<path d="M279.4,123.9L282.8,126.4L283.7,123.3L280.3,120.8Z" fill="#78988e"/>
<path d="M314.7,123.5L318.2,125.4L319.0,127.7L315.6,125.8Z" fill="#668582"/>
<path d="M294.2,106.0L297.6,108.3L298.5,108.5L295.1,106.2Z" fill="#8a8663"/>
<path d="M346.3,163.4L349.8,164.3L350.6,168.8L347.1,167.9Z" fill="#345d8f"/>
<path d="M290.7,209.5L294.1,211.2L295.0,204.5L291.6,202.9Z" fill="#18367e"/>
<path d="M287.3,105.2L290.7,107.6L291.6,106.8L288.2,104.4Z" fill="#948b66"/>
<path d="M280.1,137.3L283.5,139.7L284.4,135.8L281.0,133.4Z" fill="#6994a2"/>
<path d="M286.6,186.5L290.0,188.4L290.9,182.5L287.5,180.6Z" fill="#2a569b"/>
<path d="M280.3,120.8L283.7,123.3L284.5,120.5L281.1,118.0Z" fill="#7d9786"/>
<path d="M328.4,139.4L331.9,140.8L332.7,144.1L329.2,142.7Z" fill="#52798f"/>
<path d="M350.6,168.8L354.1,169.6L354.8,174.4L351.3,173.6Z" fill="#2e578d"/>
<path d="M309.6,117.8L313.0,119.7L313.9,121.5L310.5,119.5Z" fill="#6f8577"/>
<path d="M299.3,109.0L302.8,111.2L303.6,111.9L300.2,109.7Z" fill="#818566"/>
<path d="M286.4,106.3L289.8,108.7L290.7,107.6L287.3,105.2Z" fill="#948d68"/>
<path d="M281.1,118.0L284.5,120.5L285.4,117.9L282.0,115.4Z" fill="#829580"/>
<path d="M304.5,112.9L307.9,115.0L308.8,116.3L305.3,114.2Z" fill="#78846d"/>
<path d="M319.0,127.7L322.5,129.4L323.3,131.9L319.8,130.2Z" fill="#628386"/>
<path d="M293.3,106.0L296.7,108.3L297.6,108.3L294.2,106.0Z" fill="#8d8764"/>
<path d="M281.7,148.2L285.1,150.5L286.0,146.1L282.6,143.8Z" fill="#5987a6"/>
<path d="M354.8,174.4L358.4,175.0L359.1,180.0L355.6,179.4Z" fill="#29518b"/>
<path d="M285.0,172.8L288.4,174.9L289.3,169.5L285.9,167.4Z" fill="#3969a4"/>
<path d="M293.2,218.1L296.6,219.6L297.5,212.7L294.1,211.2Z" fill="#152c70"/>
<path d="M285.5,107.6L289.0,110.0L289.8,108.7L286.4,106.3Z" fill="#928e6a"/>
<path d="M282.0,115.4L285.4,117.9L286.3,115.5L282.9,113.1Z" fill="#869379"/>
<path d="M283.4,160.1L286.8,162.3L287.7,157.3L284.2,155.2Z" fill="#4979a8"/>
<path d="M332.7,144.1L336.2,145.5L337.0,149.0L333.5,147.7Z" fill="#4c7491"/>
<path d="M284.7,109.2L288.1,111.6L289.0,110.0L285.5,107.6Z" fill="#90906c"/>
<path d="M281.0,133.4L284.4,135.8L285.3,132.2L281.9,129.8Z" fill="#6e969c"/>
<path d="M282.9,113.1L286.3,115.5L287.2,113.4L283.8,111.0Z" fill="#8a9274"/>
<path d="M283.8,111.0L287.2,113.4L288.1,111.6L284.7,109.2Z" fill="#8d916f"/>
<path d="M359.1,180.0L362.7,180.4L363.4,185.6L359.9,185.2Z" fill="#244a86"/>
<path d="M289.1,194.6L292.5,196.4L293.4,190.3L290.0,188.4Z" fill="#244b92"/>
<path d="M363.4,185.6L366.9,185.9L367.7,191.3L364.1,191.1Z" fill="#204380"/>
<path d="M295.7,226.8L299.1,228.2L300.0,221.0L296.6,219.6Z" fill="#112363"/>
<path d="M292.5,106.3L295.9,108.6L296.7,108.3L293.3,106.0Z" fill="#908965"/>
<path d="M313.9,121.5L317.3,123.3L318.2,125.4L314.7,123.5Z" fill="#6a877d"/>
<path d="M298.5,108.5L301.9,110.7L302.8,111.2L299.3,109.0Z" fill="#858665"/>
<path d="M337.0,149.0L340.4,150.2L341.2,154.0L337.7,152.8Z" fill="#466f93"/>
<path d="M323.3,131.9L326.8,133.5L327.6,136.3L324.1,134.7Z" fill="#5d828c"/>
<path d="M281.9,129.8L285.3,132.2L286.2,128.8L282.8,126.4Z" fill="#739796"/>
<path d="M367.7,191.3L371.2,191.5L371.9,197.1L368.4,197.0Z" fill="#1c3b7a"/>
<path d="M282.6,143.8L286.0,146.1L286.9,142.0L283.5,139.7Z" fill="#618da5"/>
<path d="M287.5,180.6L290.9,182.5L291.8,176.8L288.4,174.9Z" fill="#3160a2"/>
<path d="M308.8,116.3L312.2,118.2L313.0,119.7L309.6,117.8Z" fill="#748572"/>
<path d="M303.6,111.9L307.1,114.0L307.9,115.0L304.5,112.9Z" fill="#7d856a"/>
<path d="M371.9,197.1L375.5,197.0L376.2,202.9L372.6,202.9Z" fill="#183474"/>
<path d="M291.6,202.9L295.0,204.5L295.9,198.1L292.5,196.4Z" fill="#1e4089"/>
<path d="M291.6,106.8L295.0,109.1L295.9,108.6L292.5,106.3Z" fill="#928b67"/>
<path d="M341.2,154.0L344.7,155.1L345.5,159.1L342.0,158.1Z" fill="#416a92"/>
<path d="M284.2,155.2L287.7,157.3L288.5,152.7L285.1,150.5Z" fill="#5180a9"/>
<path d="M376.2,202.9L379.8,202.6L380.5,208.7L376.9,208.9Z" fill="#152e6c"/>
<path d="M285.9,167.4L289.3,169.5L290.2,164.3L286.8,162.3Z" fill="#4171a7"/>
<path d="M282.8,126.4L286.2,128.8L287.1,125.7L283.7,123.3Z" fill="#779990"/>
<path d="M327.6,136.3L331.1,137.8L331.9,140.8L328.4,139.4Z" fill="#587e8e"/>
<path d="M297.6,108.3L301.0,110.5L301.9,110.7L298.5,108.5Z" fill="#898765"/>
<path d="M318.2,125.4L321.6,127.1L322.5,129.4L319.0,127.7Z" fill="#668682"/>
<path d="M290.7,107.6L294.1,110.0L295.0,109.1L291.6,106.8Z" fill="#938d68"/>
<path d="M345.5,159.1L349.0,160.1L349.8,164.3L346.3,163.4Z" fill="#3b6491"/>
<path d="M283.5,139.7L286.9,142.0L287.8,138.1L284.4,135.8Z" fill="#6893a3"/>
<path d="M283.7,123.3L287.1,125.7L288.0,122.8L284.5,120.5Z" fill="#7c9889"/>
<path d="M294.1,211.2L297.5,212.7L298.4,206.1L295.0,204.5Z" fill="#19367e"/>
<path d="M290.0,188.4L293.4,190.3L294.3,184.3L290.9,182.5Z" fill="#2a569b"/>
<path d="M289.8,108.7L293.2,111.0L294.1,110.0L290.7,107.6Z" fill="#938f6a"/>
<path d="M302.8,111.2L306.2,113.2L307.1,114.0L303.6,111.9Z" fill="#818668"/>
<path d="M284.5,120.5L288.0,122.8L288.8,120.2L285.4,117.9Z" fill="#819682"/>
<path d="M313.0,119.7L316.5,121.6L317.3,123.3L313.9,121.5Z" fill="#6f8678"/>
<path d="M349.8,164.3L353.3,165.1L354.1,169.6L350.6,168.8Z" fill="#355f90"/>
<path d="M331.9,140.8L335.4,142.2L336.2,145.5L332.7,144.1Z" fill="#537a90"/>
<path d="M289.0,110.0L292.4,112.3L293.2,111.0L289.8,108.7Z" fill="#91906c"/>
<path d="M307.9,115.0L311.4,116.9L312.2,118.2L308.8,116.3Z" fill="#78856f"/>
<path d="M296.7,108.3L300.2,110.5L301.0,110.5L297.6,108.3Z" fill="#8d8966"/>
<path d="M285.1,150.5L288.5,152.7L289.4,148.3L286.0,146.1Z" fill="#5987a7"/>
<path d="M285.4,117.9L288.8,120.2L289.7,117.9L286.3,115.5Z" fill="#86957c"/>
<path d="M288.4,174.9L291.8,176.8L292.7,171.4L289.3,169.5Z" fill="#3969a5"/>
<path d="M288.1,111.6L291.5,113.9L292.4,112.3L289.0,110.0Z" fill="#8f916e"/>
<path d="M286.3,115.5L289.7,117.9L290.6,115.8L287.2,113.4Z" fill="#899477"/>
<path d="M284.4,135.8L287.8,138.1L288.7,134.4L285.3,132.2Z" fill="#6d969e"/>
<path d="M287.2,113.4L290.6,115.8L291.5,113.9L288.1,111.6Z" fill="#8d9272"/>
<path d="M322.5,129.4L325.9,131.0L326.8,133.5L323.3,131.9Z" fill="#628487"/>
<path d="M286.8,162.3L290.2,164.3L291.1,159.4L287.7,157.3Z" fill="#4979a9"/>
<path d="M354.1,169.6L357.6,170.2L358.4,175.0L354.8,174.4Z" fill="#30598e"/>
<path d="M296.6,219.6L300.0,221.0L301.0,214.1L297.5,212.7Z" fill="#152d71"/>
<path d="M292.5,196.4L295.9,198.1L296.8,191.9L293.4,190.3Z" fill="#244b92"/>
<path d="M336.2,145.5L339.7,146.7L340.4,150.2L337.0,149.0Z" fill="#4d7591"/>
<path d="M295.9,108.6L299.3,110.8L300.2,110.5L296.7,108.3Z" fill="#908b67"/>
<path d="M358.4,175.0L361.9,175.5L362.7,180.4L359.1,180.0Z" fill="#2a538d"/>
<path d="M301.9,110.7L305.3,112.8L306.2,113.2L302.8,111.2Z" fill="#858767"/>
<path d="M285.3,132.2L288.7,134.4L289.6,131.0L286.2,128.8Z" fill="#729898"/>
<path d="M317.3,123.3L320.8,125.1L321.6,127.1L318.2,125.4Z" fill="#6a877e"/>
<path d="M286.0,146.1L289.4,148.3L290.3,144.1L286.9,142.0Z" fill="#608da5"/>
<path d="M362.7,180.4L366.2,180.7L366.9,185.9L363.4,185.6Z" fill="#264d88"/>
<path d="M326.8,133.5L330.2,135.0L331.1,137.8L327.6,136.3Z" fill="#5e828c"/>
<path d="M299.1,228.2L302.6,229.4L303.5,222.2L300.0,221.0Z" fill="#112364"/>
<path d="M307.1,114.0L310.5,115.9L311.4,116.9L307.9,115.0Z" fill="#7d866c"/>
<path d="M312.2,118.2L315.7,120.0L316.5,121.6L313.0,119.7Z" fill="#748674"/>
<path d="M290.9,182.5L294.3,184.3L295.2,178.6L291.8,176.8Z" fill="#3160a3"/>
<path d="M340.4,150.2L344.0,151.3L344.7,155.1L341.2,154.0Z" fill="#477093"/>
<path d="M295.0,109.1L298.4,111.3L299.3,110.8L295.9,108.6Z" fill="#928d69"/>
<path d="M286.2,128.8L289.6,131.0L290.5,127.9L287.1,125.7Z" fill="#779992"/>
<path d="M287.7,157.3L291.1,159.4L292.0,154.7L288.5,152.7Z" fill="#5080aa"/>
<path d="M366.9,185.9L370.5,186.1L371.2,191.5L367.7,191.3Z" fill="#224682"/>
<path d="M295.0,204.5L298.4,206.1L299.4,199.6L295.9,198.1Z" fill="#1e408a"/>
<path d="M289.3,169.5L292.7,171.4L293.6,166.2L290.2,164.3Z" fill="#4171a7"/>
<path d="M301.0,110.5L304.5,112.5L305.3,112.8L301.9,110.7Z" fill="#898966"/>
<path d="M294.1,110.0L297.5,112.1L298.4,111.3L295.0,109.1Z" fill="#938f6a"/>
<path d="M371.2,191.5L374.8,191.4L375.5,197.0L371.9,197.1Z" fill="#1e3f7d"/>
<path d="M287.1,125.7L290.5,127.9L291.4,125.0L288.0,122.8Z" fill="#7b998c"/>
<path d="M344.7,155.1L348.3,156.0L349.0,160.1L345.5,159.1Z" fill="#426b93"/>
<path d="M286.9,142.0L290.3,144.1L291.2,140.2L287.8,138.1Z" fill="#6793a4"/>
<path d="M331.1,137.8L334.5,139.1L335.4,142.2L331.9,140.8Z" fill="#597f8f"/>
<path d="M321.6,127.1L325.1,128.7L325.9,131.0L322.5,129.4Z" fill="#668683"/>
<path d="M293.2,111.0L296.7,113.2L297.5,112.1L294.1,110.0Z" fill="#92916c"/>
<path d="M375.5,197.0L379.1,196.8L379.8,202.6L376.2,202.9Z" fill="#1a3777"/>
<path d="M288.0,122.8L291.4,125.0L292.3,122.4L288.8,120.2Z" fill="#809785"/>
<path d="M306.2,113.2L309.6,115.2L310.5,115.9L307.1,114.0Z" fill="#81876a"/>
<path d="M293.4,190.3L296.8,191.9L297.7,186.0L294.3,184.3Z" fill="#2a569b"/>
<path d="M292.4,112.3L295.8,114.5L296.7,113.2L293.2,111.0Z" fill="#91926e"/>
<path d="M297.5,212.7L301.0,214.1L301.9,207.4L298.4,206.1Z" fill="#19377f"/>
<path d="M349.0,160.1L352.6,160.8L353.3,165.1L349.8,164.3Z" fill="#3c6692"/>
<path d="M316.5,121.6L320.0,123.3L320.8,125.1L317.3,123.3Z" fill="#6f8779"/>
<path d="M288.8,120.2L292.3,122.4L293.1,120.1L289.7,117.9Z" fill="#85967f"/>
<path d="M300.2,110.5L303.6,112.6L304.5,112.5L301.0,110.5Z" fill="#8d8b67"/>
<path d="M379.8,202.6L383.4,202.2L384.1,208.2L380.5,208.7Z" fill="#163171"/>
<path d="M288.5,152.7L292.0,154.7L292.9,150.3L289.4,148.3Z" fill="#5886a8"/>
<path d="M311.4,116.9L314.8,118.8L315.7,120.0L312.2,118.2Z" fill="#798670"/>
<path d="M291.5,113.9L294.9,116.1L295.8,114.5L292.4,112.3Z" fill="#8f9371"/>
<path d="M289.7,117.9L293.1,120.1L294.0,118.0L290.6,115.8Z" fill="#89957a"/>
<path d="M290.6,115.8L294.0,118.0L294.9,116.1L291.5,113.9Z" fill="#8c9475"/>
<path d="M287.8,138.1L291.2,140.2L292.1,136.6L288.7,134.4Z" fill="#6d969f"/>
<path d="M291.8,176.8L295.2,178.6L296.1,173.2L292.7,171.4Z" fill="#3969a5"/>
<path d="M335.4,142.2L338.8,143.4L339.7,146.7L336.2,145.5Z" fill="#547b90"/>
<path d="M290.2,164.3L293.6,166.2L294.5,161.3L291.1,159.4Z" fill="#4978a9"/>
<path d="M325.9,131.0L329.4,132.4L330.2,135.0L326.8,133.5Z" fill="#638487"/>
<path d="M353.3,165.1L356.9,165.7L357.6,170.2L354.1,169.6Z" fill="#376190"/>
<path d="M299.3,110.8L302.7,112.9L303.6,112.6L300.2,110.5Z" fill="#908d69"/>
<path d="M300.0,221.0L303.5,222.2L304.4,215.3L301.0,214.1Z" fill="#152e73"/>
<path d="M305.3,112.8L308.8,114.7L309.6,115.2L306.2,113.2Z" fill="#858869"/>
<path d="M288.7,134.4L292.1,136.6L293.0,133.2L289.6,131.0Z" fill="#729899"/>
<path d="M295.9,198.1L299.4,199.6L300.3,193.4L296.8,191.9Z" fill="#244c93"/>
<path d="M357.6,170.2L361.2,170.7L361.9,175.5L358.4,175.0Z" fill="#325b8f"/>
<path d="M339.7,146.7L343.2,147.8L344.0,151.3L340.4,150.2Z" fill="#4e7692"/>
<path d="M289.4,148.3L292.9,150.3L293.8,146.1L290.3,144.1Z" fill="#608da6"/>
<path d="M320.8,125.1L324.3,126.6L325.1,128.7L321.6,127.1Z" fill="#6b887f"/>
<path d="M298.4,111.3L301.9,113.4L302.7,112.9L299.3,110.8Z" fill="#928f6a"/>
<path d="M310.5,115.9L314.0,117.8L314.8,118.8L311.4,116.9Z" fill="#7d876d"/>
<path d="M315.7,120.0L319.1,121.8L320.0,123.3L316.5,121.6Z" fill="#748775"/>
<path d="M289.6,131.0L293.0,133.2L293.9,130.0L290.5,127.9Z" fill="#769a94"/>
<path d="M330.2,135.0L333.7,136.3L334.5,139.1L331.1,137.8Z" fill="#5f838c"/>
<path d="M294.3,184.3L297.7,186.0L298.7,180.3L295.2,178.6Z" fill="#3161a3"/>
<path d="M361.9,175.5L365.5,175.8L366.2,180.7L362.7,180.4Z" fill="#2c568e"/>
<path d="M291.1,159.4L294.5,161.3L295.4,156.6L292.0,154.7Z" fill="#5080aa"/>
<path d="M302.6,229.4L306.0,230.5L306.9,223.3L303.5,222.2Z" fill="#112466"/>
<path d="M292.7,171.4L296.1,173.2L297.0,168.0L293.6,166.2Z" fill="#4171a7"/>
<path d="M304.5,112.5L307.9,114.5L308.8,114.7L305.3,112.8Z" fill="#898a68"/>
<path d="M344.0,151.3L347.5,152.2L348.3,156.0L344.7,155.1Z" fill="#497193"/>
<path d="M297.5,112.1L301.0,114.2L301.9,113.4L298.4,111.3Z" fill="#92916c"/>
<path d="M298.4,206.1L301.9,207.4L302.8,201.0L299.4,199.6Z" fill="#1e418b"/>
<path d="M290.5,127.9L293.9,130.0L294.8,127.1L291.4,125.0Z" fill="#7b9a8e"/>
<path d="M290.3,144.1L293.8,146.1L294.7,142.2L291.2,140.2Z" fill="#6792a4"/>
<path d="M366.2,180.7L369.8,180.9L370.5,186.1L366.9,185.9Z" fill="#274f8a"/>
<path d="M296.7,113.2L300.1,115.3L301.0,114.2L297.5,112.1Z" fill="#92926d"/>
<path d="M291.4,125.0L294.8,127.1L295.7,124.5L292.3,122.4Z" fill="#809887"/>
<path d="M325.1,128.7L328.6,130.1L329.4,132.4L325.9,131.0Z" fill="#678783"/>
<path d="M334.5,139.1L338.0,140.3L338.8,143.4L335.4,142.2Z" fill="#5a808f"/>
<path d="M370.5,186.1L374.1,186.0L374.8,191.4L371.2,191.5Z" fill="#234985"/>
<path d="M295.8,114.5L299.2,116.6L300.1,115.3L296.7,113.2Z" fill="#919370"/>
<path d="M309.6,115.2L313.1,117.0L314.0,117.8L310.5,115.9Z" fill="#81886b"/>
<path d="M348.3,156.0L351.8,156.8L352.6,160.8L349.0,160.1Z" fill="#436d94"/>
<path d="M292.3,122.4L295.7,124.5L296.6,122.2L293.1,120.1Z" fill="#849781"/>
<path d="M303.6,112.6L307.0,114.5L307.9,114.5L304.5,112.5Z" fill="#8d8c69"/>
<path d="M294.9,116.1L298.3,118.2L299.2,116.6L295.8,114.5Z" fill="#8f9473"/>
<path d="M296.8,191.9L300.3,193.4L301.2,187.5L297.7,186.0Z" fill="#2b579c"/>
<path d="M293.1,120.1L296.6,122.2L297.5,120.0L294.0,118.0Z" fill="#88967c"/>
<path d="M292.0,154.7L295.4,156.6L296.3,152.2L292.9,150.3Z" fill="#5886a8"/>
<path d="M294.0,118.0L297.5,120.0L298.3,118.2L294.9,116.1Z" fill="#8c9577"/>
<path d="M320.0,123.3L323.4,124.9L324.3,126.6L320.8,125.1Z" fill="#70877a"/>
<path d="M291.2,140.2L294.7,142.2L295.6,138.6L292.1,136.6Z" fill="#6c96a0"/>
<path d="M314.8,118.8L318.3,120.5L319.1,121.8L315.7,120.0Z" fill="#798771"/>
<path d="M374.8,191.4L378.4,191.2L379.1,196.8L375.5,197.0Z" fill="#204280"/>
<path d="M301.0,214.1L304.4,215.3L305.3,208.7L301.9,207.4Z" fill="#193780"/>
<path d="M295.2,178.6L298.7,180.3L299.6,174.9L296.1,173.2Z" fill="#3969a5"/>
<path d="M293.6,166.2L297.0,168.0L297.9,163.1L294.5,161.3Z" fill="#4979a9"/>
<path d="M352.6,160.8L356.1,161.5L356.9,165.7L353.3,165.1Z" fill="#3e6893"/>
<path d="M338.8,143.4L342.4,144.5L343.2,147.8L339.7,146.7Z" fill="#557c90"/>
<path d="M379.1,196.8L382.7,196.4L383.4,202.2L379.8,202.6Z" fill="#1c3b7a"/>
<path d="M302.7,112.9L306.2,114.8L307.0,114.5L303.6,112.6Z" fill="#908e6a"/>
<path d="M329.4,132.4L332.9,133.8L333.7,136.3L330.2,135.0Z" fill="#638587"/>
<path d="M292.1,136.6L295.6,138.6L296.5,135.2L293.0,133.2Z" fill="#71989a"/>
<path d="M308.8,114.7L312.2,116.5L313.1,117.0L309.6,115.2Z" fill="#85896a"/>
<path d="M292.9,150.3L296.3,152.2L297.2,148.0L293.8,146.1Z" fill="#5f8da7"/>
<path d="M383.4,202.2L387.0,201.7L387.7,207.6L384.1,208.2Z" fill="#183475"/>
<path d="M356.9,165.7L360.4,166.2L361.2,170.7L357.6,170.2Z" fill="#396291"/>
<path d="M299.4,199.6L302.8,201.0L303.7,194.8L300.3,193.4Z" fill="#254d94"/>
<path d="M303.5,222.2L306.9,223.3L307.9,216.4L304.4,215.3Z" fill="#162f74"/>
<path d="M301.9,113.4L305.3,115.4L306.2,114.8L302.7,112.9Z" fill="#92906c"/>
<path d="M324.3,126.6L327.8,128.1L328.6,130.1L325.1,128.7Z" fill="#6b887f"/>
<path d="M293.0,133.2L296.5,135.2L297.3,132.0L293.9,130.0Z" fill="#769a95"/>
<path d="M314.0,117.8L317.4,119.5L318.3,120.5L314.8,118.8Z" fill="#7d886e"/>
<path d="M343.2,147.8L346.7,148.7L347.5,152.2L344.0,151.3Z" fill="#507792"/>
<path d="M319.1,121.8L322.6,123.3L323.4,124.9L320.0,123.3Z" fill="#758775"/>
<path d="M294.5,161.3L297.9,163.1L298.8,158.4L295.4,156.6Z" fill="#5080ab"/>
<path d="M297.7,186.0L301.2,187.5L302.1,181.8L298.7,180.3Z" fill="#3161a3"/>
<path d="M361.2,170.7L364.7,171.1L365.5,175.8L361.9,175.5Z" fill="#345d90"/>
<path d="M333.7,136.3L337.2,137.5L338.0,140.3L334.5,139.1Z" fill="#5f848c"/>
<path d="M301.0,114.2L304.4,116.2L305.3,115.4L301.9,113.4Z" fill="#92926d"/>
<path d="M307.9,114.5L311.4,116.3L312.2,116.5L308.8,114.7Z" fill="#898b6a"/>
<path d="M296.1,173.2L299.6,174.9L300.5,169.7L297.0,168.0Z" fill="#4171a8"/>
<path d="M293.9,130.0L297.3,132.0L298.2,129.1L294.8,127.1Z" fill="#7b9b90"/>
<path d="M293.8,146.1L297.2,148.0L298.1,144.1L294.7,142.2Z" fill="#6692a5"/>
<path d="M306.0,230.5L309.5,231.4L310.4,224.2L306.9,223.3Z" fill="#122668"/>
<path d="M300.1,115.3L303.5,117.2L304.4,116.2L301.0,114.2Z" fill="#92936f"/>
<path d="M301.9,207.4L305.3,208.7L306.3,202.2L302.8,201.0Z" fill="#1f428c"/>
<path d="M294.8,127.1L298.2,129.1L299.1,126.5L295.7,124.5Z" fill="#809989"/>
<path d="M347.5,152.2L351.0,153.0L351.8,156.8L348.3,156.0Z" fill="#4a7393"/>
<path d="M365.5,175.8L369.0,176.0L369.8,180.9L366.2,180.7Z" fill="#2e588f"/>
<path d="M299.2,116.6L302.7,118.6L303.5,117.2L300.1,115.3Z" fill="#919472"/>
<path d="M295.7,124.5L299.1,126.5L300.0,124.1L296.6,122.2Z" fill="#849883"/>
<path d="M328.6,130.1L332.1,131.5L332.9,133.8L329.4,132.4Z" fill="#688783"/>
<path d="M313.1,117.0L316.6,118.7L317.4,119.5L314.0,117.8Z" fill="#82896c"/>
<path d="M298.3,118.2L301.8,120.2L302.7,118.6L299.2,116.6Z" fill="#8f9575"/>
<path d="M307.0,114.5L310.5,116.3L311.4,116.3L307.9,114.5Z" fill="#8d8e6a"/>
<path d="M296.6,122.2L300.0,124.1L300.9,122.0L297.5,120.0Z" fill="#88977d"/>
<path d="M297.5,120.0L300.9,122.0L301.8,120.2L298.3,118.2Z" fill="#8c9679"/>
<path d="M338.0,140.3L341.6,141.4L342.4,144.5L338.8,143.4Z" fill="#5b818f"/>
<path d="M295.4,156.6L298.8,158.4L299.7,154.0L296.3,152.2Z" fill="#5886a9"/>
<path d="M294.7,142.2L298.1,144.1L299.0,140.4L295.6,138.6Z" fill="#6c96a1"/>
<path d="M369.8,180.9L373.4,180.9L374.1,186.0L370.5,186.1Z" fill="#29528d"/>
<path d="M300.3,193.4L303.7,194.8L304.6,188.9L301.2,187.5Z" fill="#2b589d"/>
<path d="M323.4,124.9L326.9,126.3L327.8,128.1L324.3,126.6Z" fill="#71887a"/>
<path d="M318.3,120.5L321.7,122.1L322.6,123.3L319.1,121.8Z" fill="#7a8872"/>
<path d="M351.8,156.8L355.3,157.5L356.1,161.5L352.6,160.8Z" fill="#456e95"/>
<path d="M297.0,168.0L300.5,169.7L301.4,164.7L297.9,163.1Z" fill="#4979aa"/>
<path d="M298.7,180.3L302.1,181.8L303.0,176.4L299.6,174.9Z" fill="#396aa6"/>
<path d="M304.4,215.3L307.9,216.4L308.8,209.7L305.3,208.7Z" fill="#1a3882"/>
<path d="M306.2,114.8L309.6,116.6L310.5,116.3L307.0,114.5Z" fill="#90906b"/>
<path d="M374.1,186.0L377.7,185.9L378.4,191.2L374.8,191.4Z" fill="#254c88"/>
<path d="M295.6,138.6L299.0,140.4L299.9,137.0L296.5,135.2Z" fill="#71989c"/>
<path d="M312.2,116.5L315.7,118.2L316.6,118.7L313.1,117.0Z" fill="#868a6b"/>
<path d="M332.9,133.8L336.4,135.0L337.2,137.5L333.7,136.3Z" fill="#648687"/>
<path d="M342.4,144.5L345.9,145.4L346.7,148.7L343.2,147.8Z" fill="#567d91"/>
<path d="M356.1,161.5L359.6,162.0L360.4,166.2L356.9,165.7Z" fill="#406993"/>
<path d="M296.3,152.2L299.7,154.0L300.6,149.8L297.2,148.0Z" fill="#5f8da7"/>
<path d="M378.4,191.2L382.0,190.9L382.7,196.4L379.1,196.8Z" fill="#224583"/>
<path d="M305.3,115.4L308.8,117.2L309.6,116.6L306.2,114.8Z" fill="#92926d"/>
<path d="M296.5,135.2L299.9,137.0L300.8,133.9L297.3,132.0Z" fill="#769a96"/>
<path d="M302.8,201.0L306.3,202.2L307.2,196.1L303.7,194.8Z" fill="#254e95"/>
<path d="M317.4,119.5L320.9,121.1L321.7,122.1L318.3,120.5Z" fill="#7e886f"/>
<path d="M327.8,128.1L331.2,129.5L332.1,131.5L328.6,130.1Z" fill="#6c897f"/>
<path d="M306.9,223.3L310.4,224.2L311.3,217.3L307.9,216.4Z" fill="#163076"/>
<path d="M382.7,196.4L386.3,195.9L387.0,201.7L383.4,202.2Z" fill="#1e3f7e"/>
<path d="M322.6,123.3L326.1,124.8L326.9,126.3L323.4,124.9Z" fill="#768875"/>
<path d="M297.9,163.1L301.4,164.7L302.3,160.0L298.8,158.4Z" fill="#5080ab"/>
<path d="M360.4,166.2L364.0,166.6L364.7,171.1L361.2,170.7Z" fill="#3b6592"/>
<path d="M304.4,116.2L307.9,118.0L308.8,117.2L305.3,115.4Z" fill="#93936e"/>
<path d="M311.4,116.3L314.8,118.0L315.7,118.2L312.2,116.5Z" fill="#8a8c6b"/>
<path d="M297.3,132.0L300.8,133.9L301.7,131.0L298.2,129.1Z" fill="#7b9c91"/>
<path d="M301.2,187.5L304.6,188.9L305.6,183.2L302.1,181.8Z" fill="#3262a4"/>
<path d="M346.7,148.7L350.2,149.5L351.0,153.0L347.5,152.2Z" fill="#517992"/>
<path d="M299.6,174.9L303.0,176.4L303.9,171.2L300.5,169.7Z" fill="#4272a8"/>
<path d="M297.2,148.0L300.6,149.8L301.5,145.8L298.1,144.1Z" fill="#6693a6"/>
<path d="M337.2,137.5L340.7,138.6L341.6,141.4L338.0,140.3Z" fill="#61848b"/>
<path d="M303.5,117.2L307.0,119.1L307.9,118.0L304.4,116.2Z" fill="#939571"/>
<path d="M387.0,201.7L390.7,200.9L391.3,206.9L387.7,207.6Z" fill="#1a3878"/>
<path d="M298.2,129.1L301.7,131.0L302.6,128.3L299.1,126.5Z" fill="#809a8a"/>
<path d="M364.7,171.1L368.3,171.3L369.0,176.0L365.5,175.8Z" fill="#366091"/>
<path d="M302.7,118.6L306.1,120.4L307.0,119.1L303.5,117.2Z" fill="#919573"/>
<path d="M299.1,126.5L302.6,128.3L303.5,126.0L300.0,124.1Z" fill="#849984"/>
<path d="M305.3,208.7L308.8,209.7L309.7,203.3L306.3,202.2Z" fill="#1f448d"/>
<path d="M301.8,120.2L305.2,122.0L306.1,120.4L302.7,118.6Z" fill="#8f9676"/>
<path d="M309.5,231.4L312.9,232.1L313.9,225.0L310.4,224.2Z" fill="#13276a"/>
<path d="M300.0,124.1L303.5,126.0L304.4,123.9L300.9,122.0Z" fill="#88987f"/>
<path d="M316.6,118.7L320.0,120.3L320.9,121.1L317.4,119.5Z" fill="#838a6d"/>
<path d="M310.5,116.3L314.0,118.1L314.8,118.0L311.4,116.3Z" fill="#8e8f6b"/>
<path d="M300.9,122.0L304.4,123.9L305.2,122.0L301.8,120.2Z" fill="#8c977a"/>
<path d="M351.0,153.0L354.5,153.7L355.3,157.5L351.8,156.8Z" fill="#4c7593"/>
<path d="M332.1,131.5L335.6,132.7L336.4,135.0L332.9,133.8Z" fill="#698883"/>
<path d="M298.1,144.1L301.5,145.8L302.4,142.2L299.0,140.4Z" fill="#6d97a2"/>
<path d="M298.8,158.4L302.3,160.0L303.2,155.6L299.7,154.0Z" fill="#5887a9"/>
<path d="M369.0,176.0L372.6,176.0L373.4,180.9L369.8,180.9Z" fill="#315a90"/>
<path d="M321.7,122.1L325.2,123.5L326.1,124.8L322.6,123.3Z" fill="#7a8872"/>
<path d="M326.9,126.3L330.4,127.7L331.2,129.5L327.8,128.1Z" fill="#72887a"/>
<path d="M341.6,141.4L345.1,142.4L345.9,145.4L342.4,144.5Z" fill="#5d8390"/>
<path d="M303.7,194.8L307.2,196.1L308.1,190.1L304.6,188.9Z" fill="#2c599e"/>
<path d="M300.5,169.7L303.9,171.2L304.8,166.2L301.4,164.7Z" fill="#4979aa"/>
<path d="M309.6,116.6L313.1,118.3L314.0,118.1L310.5,116.3Z" fill="#91916c"/>
<path d="M302.1,181.8L305.6,183.2L306.5,177.7L303.0,176.4Z" fill="#3a6aa6"/>
<path d="M299.0,140.4L302.4,142.2L303.3,138.8L299.9,137.0Z" fill="#72999c"/>
<path d="M355.3,157.5L358.9,158.0L359.6,162.0L356.1,161.5Z" fill="#477094"/>
<path d="M373.4,180.9L377.0,180.8L377.7,185.9L374.1,186.0Z" fill="#2c558e"/>
<path d="M315.7,118.2L319.2,119.8L320.0,120.3L316.6,118.7Z" fill="#878b6c"/>
<path d="M307.9,216.4L311.3,217.3L312.3,210.7L308.8,209.7Z" fill="#1a3a84"/>
<path d="M299.7,154.0L303.2,155.6L304.1,151.4L300.6,149.8Z" fill="#608da8"/>
<path d="M336.4,135.0L339.9,136.1L340.7,138.6L337.2,137.5Z" fill="#658787"/>
<path d="M308.8,117.2L312.2,118.9L313.1,118.3L309.6,116.6Z" fill="#93936e"/>
<path d="M299.9,137.0L303.3,138.8L304.2,135.6L300.8,133.9Z" fill="#769b97"/>
<path d="M345.9,145.4L349.4,146.2L350.2,149.5L346.7,148.7Z" fill="#587f91"/>
<path d="M377.7,185.9L381.3,185.6L382.0,190.9L378.4,191.2Z" fill="#274f8b"/>
<path d="M320.9,121.1L324.4,122.5L325.2,123.5L321.7,122.1Z" fill="#7f896f"/>
<path d="M359.6,162.0L363.2,162.4L364.0,166.6L360.4,166.2Z" fill="#426c94"/>
<path d="M306.3,202.2L309.7,203.3L310.7,197.1L307.2,196.1Z" fill="#264f96"/>
<path d="M331.2,129.5L334.8,130.7L335.6,132.7L332.1,131.5Z" fill="#6e897e"/>
<path d="M307.9,118.0L311.3,119.7L312.2,118.9L308.8,117.2Z" fill="#949470"/>
<path d="M301.4,164.7L304.8,166.2L305.8,161.5L302.3,160.0Z" fill="#5181ac"/>
<path d="M300.8,133.9L304.2,135.6L305.1,132.7L301.7,131.0Z" fill="#7b9c92"/>
<path d="M326.1,124.8L329.6,126.2L330.4,127.7L326.9,126.3Z" fill="#778875"/>
<path d="M314.8,118.0L318.3,119.6L319.2,119.8L315.7,118.2Z" fill="#8b8d6b"/>
<path d="M310.4,224.2L313.9,225.0L314.8,218.1L311.3,217.3Z" fill="#173178"/>
<path d="M300.6,149.8L304.1,151.4L305.0,147.5L301.5,145.8Z" fill="#6793a6"/>
<path d="M304.6,188.9L308.1,190.1L309.0,184.4L305.6,183.2Z" fill="#3363a4"/>
<path d="M307.0,119.1L310.5,120.8L311.3,119.7L307.9,118.0Z" fill="#939672"/>
<path d="M382.0,190.9L385.6,190.4L386.3,195.9L382.7,196.4Z" fill="#244986"/>
<path d="M303.0,176.4L306.5,177.7L307.4,172.5L303.9,171.2Z" fill="#4272a8"/>
<path d="M301.7,131.0L305.1,132.7L306.0,130.1L302.6,128.3Z" fill="#809b8b"/>
<path d="M350.2,149.5L353.8,150.2L354.5,153.7L351.0,153.0Z" fill="#537b92"/>
<path d="M340.7,138.6L344.3,139.6L345.1,142.4L341.6,141.4Z" fill="#62858b"/>
<path d="M364.0,166.6L367.6,166.8L368.3,171.3L364.7,171.1Z" fill="#3d6793"/>
<path d="M306.1,120.4L309.6,122.1L310.5,120.8L307.0,119.1Z" fill="#929674"/>
<path d="M302.6,128.3L306.0,130.1L306.9,127.7L303.5,126.0Z" fill="#859a85"/>
<path d="M305.2,122.0L308.7,123.7L309.6,122.1L306.1,120.4Z" fill="#909778"/>
<path d="M303.5,126.0L306.9,127.7L307.8,125.6L304.4,123.9Z" fill="#899980"/>
<path d="M304.4,123.9L307.8,125.6L308.7,123.7L305.2,122.0Z" fill="#8c987b"/>
<path d="M314.0,118.1L317.4,119.6L318.3,119.6L314.8,118.0Z" fill="#8f906c"/>
<path d="M320.0,120.3L323.5,121.8L324.4,122.5L320.9,121.1Z" fill="#848a6d"/>
<path d="M386.3,195.9L390.0,195.2L390.7,200.9L387.0,201.7Z" fill="#204381"/>
<path d="M301.5,145.8L305.0,147.5L305.9,143.8L302.4,142.2Z" fill="#6d97a3"/>
<path d="M308.8,209.7L312.3,210.7L313.2,204.3L309.7,203.3Z" fill="#20458e"/>
<path d="M302.3,160.0L305.8,161.5L306.7,157.1L303.2,155.6Z" fill="#5987aa"/>
<path d="M335.6,132.7L339.1,133.8L339.9,136.1L336.4,135.0Z" fill="#6a8983"/>
<path d="M368.3,171.3L371.9,171.3L372.6,176.0L369.0,176.0Z" fill="#386292"/>
<path d="M312.9,232.1L316.4,232.7L317.4,225.6L313.9,225.0Z" fill="#13296d"/>
<path d="M325.2,123.5L328.7,124.9L329.6,126.2L326.1,124.8Z" fill="#7c8972"/>
<path d="M354.5,153.7L358.1,154.2L358.9,158.0L355.3,157.5Z" fill="#4e7793"/>
<path d="M330.4,127.7L333.9,128.9L334.8,130.7L331.2,129.5Z" fill="#738979"/>
<path d="M390.7,200.9L394.3,200.1L395.0,206.0L391.3,206.9Z" fill="#1d3d7c"/>
<path d="M313.1,118.3L316.6,119.9L317.4,119.6L314.0,118.1Z" fill="#92926d"/>
<path d="M307.2,196.1L310.7,197.1L311.6,191.2L308.1,190.1Z" fill="#2c5a9f"/>
<path d="M345.1,142.4L348.6,143.2L349.4,146.2L345.9,145.4Z" fill="#5e848f"/>
<path d="M303.9,171.2L307.4,172.5L308.3,167.6L304.8,166.2Z" fill="#4a7aab"/>
<path d="M302.4,142.2L305.9,143.8L306.8,140.4L303.3,138.8Z" fill="#72999d"/>
<path d="M305.6,183.2L309.0,184.4L310.0,179.0L306.5,177.7Z" fill="#3b6ba7"/>
<path d="M319.2,119.8L322.7,121.3L323.5,121.8L320.0,120.3Z" fill="#888c6c"/>
<path d="M372.6,176.0L376.2,175.9L377.0,180.8L373.4,180.9Z" fill="#335d91"/>
<path d="M303.2,155.6L306.7,157.1L307.6,152.9L304.1,151.4Z" fill="#608ea8"/>
<path d="M312.2,118.9L315.7,120.5L316.6,119.9L313.1,118.3Z" fill="#94946f"/>
<path d="M311.3,217.3L314.8,218.1L315.8,211.4L312.3,210.7Z" fill="#1b3b86"/>
<path d="M303.3,138.8L306.8,140.4L307.7,137.2L304.2,135.6Z" fill="#779b97"/>
<path d="M358.9,158.0L362.4,158.4L363.2,162.4L359.6,162.0Z" fill="#497294"/>
<path d="M339.9,136.1L343.5,137.0L344.3,139.6L340.7,138.6Z" fill="#678786"/>
<path d="M324.4,122.5L327.9,123.9L328.7,124.9L325.2,123.5Z" fill="#808a6f"/>
<path d="M311.3,119.7L314.8,121.3L315.7,120.5L312.2,118.9Z" fill="#959570"/>
<path d="M377.0,180.8L380.6,180.5L381.3,185.6L377.7,185.9Z" fill="#2e588f"/>
<path d="M349.4,146.2L353.0,146.9L353.8,150.2L350.2,149.5Z" fill="#5a8091"/>
<path d="M304.2,135.6L307.7,137.2L308.6,134.3L305.1,132.7Z" fill="#7b9d92"/>
<path d="M318.3,119.6L321.8,121.1L322.7,121.3L319.2,119.8Z" fill="#8c8e6c"/>
<path d="M334.8,130.7L338.3,131.8L339.1,133.8L335.6,132.7Z" fill="#6f897e"/>
<path d="M304.8,166.2L308.3,167.6L309.2,162.9L305.8,161.5Z" fill="#5181ac"/>
<path d="M329.6,126.2L333.1,127.4L333.9,128.9L330.4,127.7Z" fill="#788975"/>
<path d="M309.7,203.3L313.2,204.3L314.1,198.1L310.7,197.1Z" fill="#275198"/>
<path d="M304.1,151.4L307.6,152.9L308.5,149.0L305.0,147.5Z" fill="#6794a6"/>
<path d="M310.5,120.8L313.9,122.4L314.8,121.3L311.3,119.7Z" fill="#949772"/>
<path d="M305.1,132.7L308.6,134.3L309.5,131.7L306.0,130.1Z" fill="#809b8c"/>
<path d="M363.2,162.4L366.8,162.6L367.6,166.8L364.0,166.6Z" fill="#446e95"/>
<path d="M306.5,177.7L310.0,179.0L310.9,173.8L307.4,172.5Z" fill="#4373a9"/>
<path d="M308.1,190.1L311.6,191.2L312.5,185.5L309.0,184.4Z" fill="#3464a5"/>
<path d="M309.6,122.1L313.1,123.7L313.9,122.4L310.5,120.8Z" fill="#939775"/>
<path d="M381.3,185.6L384.9,185.1L385.6,190.4L382.0,190.9Z" fill="#2a538e"/>
<path d="M306.0,130.1L309.5,131.7L310.4,129.3L306.9,127.7Z" fill="#859a86"/>
<path d="M313.9,225.0L317.4,225.6L318.3,218.7L314.8,218.1Z" fill="#18337b"/>
<path d="M308.7,123.7L312.2,125.3L313.1,123.7L309.6,122.1Z" fill="#909878"/>
<path d="M306.9,127.7L310.4,129.3L311.3,127.2L307.8,125.6Z" fill="#899980"/>
<path d="M307.8,125.6L311.3,127.2L312.2,125.3L308.7,123.7Z" fill="#8d997c"/>
<path d="M344.3,139.6L347.8,140.4L348.6,143.2L345.1,142.4Z" fill="#63868a"/>
<path d="M317.4,119.6L320.9,121.1L321.8,121.1L318.3,119.6Z" fill="#90906c"/>
<path d="M353.8,150.2L357.3,150.7L358.1,154.2L354.5,153.7Z" fill="#557d92"/>
<path d="M323.5,121.8L327.0,123.1L327.9,123.9L324.4,122.5Z" fill="#858b6d"/>
<path d="M305.0,147.5L308.5,149.0L309.4,145.3L305.9,143.8Z" fill="#6d98a3"/>
<path d="M367.6,166.8L371.1,166.9L371.9,171.3L368.3,171.3Z" fill="#3f6994"/>
<path d="M305.8,161.5L309.2,162.9L310.1,158.5L306.7,157.1Z" fill="#5988aa"/>
<path d="M385.6,190.4L389.3,189.7L390.0,195.2L386.3,195.9Z" fill="#264d89"/>
<path d="M339.1,133.8L342.6,134.8L343.5,137.0L339.9,136.1Z" fill="#6b8a82"/>
<path d="M312.3,210.7L315.8,211.4L316.7,205.0L313.2,204.3Z" fill="#224790"/>
<path d="M328.7,124.9L332.2,126.1L333.1,127.4L329.6,126.2Z" fill="#7d8971"/>
<path d="M316.6,119.9L320.1,121.4L320.9,121.1L317.4,119.6Z" fill="#93936d"/>
<path d="M333.9,128.9L337.4,130.0L338.3,131.8L334.8,130.7Z" fill="#748978"/>
<path d="M305.9,143.8L309.4,145.3L310.3,141.9L306.8,140.4Z" fill="#739a9d"/>
<path d="M307.4,172.5L310.9,173.8L311.8,168.8L308.3,167.6Z" fill="#4b7bab"/>
<path d="M316.4,232.7L319.9,233.1L320.9,226.0L317.4,225.6Z" fill="#142b70"/>
<path d="M310.7,197.1L314.1,198.1L315.1,192.1L311.6,191.2Z" fill="#2d5ca0"/>
<path d="M358.1,154.2L361.7,154.6L362.4,158.4L358.9,158.0Z" fill="#507993"/>
<path d="M390.0,195.2L393.6,194.4L394.3,200.1L390.7,200.9Z" fill="#234885"/>
<path d="M371.9,171.3L375.5,171.2L376.2,175.9L372.6,176.0Z" fill="#3b6593"/>
<path d="M322.7,121.3L326.2,122.7L327.0,123.1L323.5,121.8Z" fill="#898d6c"/>
<path d="M348.6,143.2L352.2,143.9L353.0,146.9L349.4,146.2Z" fill="#60858e"/>
<path d="M309.0,184.4L312.5,185.5L313.4,180.1L310.0,179.0Z" fill="#3c6ca7"/>
<path d="M315.7,120.5L319.2,122.0L320.1,121.4L316.6,119.9Z" fill="#95956f"/>
<path d="M306.7,157.1L310.1,158.5L311.1,154.3L307.6,152.9Z" fill="#618fa8"/>
<path d="M306.8,140.4L310.3,141.9L311.2,138.7L307.7,137.2Z" fill="#779c98"/>
<path d="M394.3,200.1L398.0,199.0L398.7,204.9L395.0,206.0Z" fill="#1f4280"/>
<path d="M314.8,121.3L318.3,122.8L319.2,122.0L315.7,120.5Z" fill="#969671"/>
<path d="M314.8,218.1L318.3,218.7L319.3,212.1L315.8,211.4Z" fill="#1c3d89"/>
<path d="M343.5,137.0L347.0,137.9L347.8,140.4L344.3,139.6Z" fill="#688885"/>
<path d="M327.9,123.9L331.4,125.1L332.2,126.1L328.7,124.9Z" fill="#828a6e"/>
<path d="M376.2,175.9L379.9,175.6L380.6,180.5L377.0,180.8Z" fill="#366092"/>
<path d="M307.7,137.2L311.2,138.7L312.1,135.8L308.6,134.3Z" fill="#7c9d92"/>
<path d="M362.4,158.4L366.0,158.6L366.8,162.6L363.2,162.4Z" fill="#4c7594"/>
<path d="M321.8,121.1L325.3,122.4L326.2,122.7L322.7,121.3Z" fill="#8e8f6c"/>
<path d="M308.3,167.6L311.8,168.8L312.7,164.1L309.2,162.9Z" fill="#5282ac"/>
<path d="M313.9,122.4L317.4,123.9L318.3,122.8L314.8,121.3Z" fill="#959773"/>
<path d="M338.3,131.8L341.8,132.7L342.6,134.8L339.1,133.8Z" fill="#71897c"/>
<path d="M333.1,127.4L336.6,128.5L337.4,130.0L333.9,128.9Z" fill="#798974"/>
<path d="M307.6,152.9L311.1,154.3L312.0,150.3L308.5,149.0Z" fill="#6895a7"/>
<path d="M353.0,146.9L356.5,147.4L357.3,150.7L353.8,150.2Z" fill="#5c8291"/>
<path d="M308.6,134.3L312.1,135.8L313.0,133.2L309.5,131.7Z" fill="#819c8c"/>
<path d="M313.2,204.3L316.7,205.0L317.6,198.9L314.1,198.1Z" fill="#285399"/>
<path d="M313.1,123.7L316.6,125.2L317.4,123.9L313.9,122.4Z" fill="#949875"/>
<path d="M309.5,131.7L313.0,133.2L313.9,130.8L310.4,129.3Z" fill="#869b86"/>
<path d="M310.0,179.0L313.4,180.1L314.4,174.9L310.9,173.8Z" fill="#4475aa"/>
<path d="M312.2,125.3L315.7,126.8L316.6,125.2L313.1,123.7Z" fill="#919978"/>
<path d="M380.6,180.5L384.2,180.0L384.9,185.1L381.3,185.6Z" fill="#325c91"/>
<path d="M311.6,191.2L315.1,192.1L316.0,186.5L312.5,185.5Z" fill="#3565a6"/>
<path d="M310.4,129.3L313.9,130.8L314.8,128.7L311.3,127.2Z" fill="#8a9a81"/>
<path d="M311.3,127.2L314.8,128.7L315.7,126.8L312.2,125.3Z" fill="#8e997c"/>
<path d="M320.9,121.1L324.4,122.5L325.3,122.4L321.8,121.1Z" fill="#91916c"/>
<path d="M366.8,162.6L370.4,162.7L371.1,166.9L367.6,166.8Z" fill="#477095"/>
<path d="M327.0,123.1L330.5,124.4L331.4,125.1L327.9,123.9Z" fill="#868b6c"/>
<path d="M308.5,149.0L312.0,150.3L312.9,146.7L309.4,145.3Z" fill="#6e98a3"/>
<path d="M317.4,225.6L320.9,226.0L321.8,219.2L318.3,218.7Z" fill="#18357e"/>
<path d="M347.8,140.4L351.4,141.1L352.2,143.9L348.6,143.2Z" fill="#658789"/>
<path d="M309.2,162.9L312.7,164.1L313.6,159.7L310.1,158.5Z" fill="#5a89aa"/>
<path d="M357.3,150.7L360.9,151.1L361.7,154.6L358.1,154.2Z" fill="#587f92"/>
<path d="M384.9,185.1L388.6,184.5L389.3,189.7L385.6,190.4Z" fill="#2d578f"/>
<path d="M320.1,121.4L323.6,122.8L324.4,122.5L320.9,121.1Z" fill="#95936e"/>
<path d="M332.2,126.1L335.8,127.2L336.6,128.5L333.1,127.4Z" fill="#7e8970"/>
<path d="M342.6,134.8L346.2,135.6L347.0,137.9L343.5,137.0Z" fill="#6d8a81"/>
<path d="M309.4,145.3L312.9,146.7L313.8,143.2L310.3,141.9Z" fill="#739b9d"/>
<path d="M315.8,211.4L319.3,212.1L320.2,205.7L316.7,205.0Z" fill="#234992"/>
<path d="M337.4,130.0L341.0,131.0L341.8,132.7L338.3,131.8Z" fill="#768977"/>
<path d="M371.1,166.9L374.8,166.8L375.5,171.2L371.9,171.3Z" fill="#426c95"/>
<path d="M310.9,173.8L314.4,174.9L315.3,169.9L311.8,168.8Z" fill="#4c7cac"/>
<path d="M326.2,122.7L329.7,123.9L330.5,124.4L327.0,123.1Z" fill="#8b8d6b"/>
<path d="M314.1,198.1L317.6,198.9L318.6,192.9L315.1,192.1Z" fill="#2e5ea2"/>
<path d="M319.2,122.0L322.7,123.3L323.6,122.8L320.1,121.4Z" fill="#97956f"/>
<path d="M389.3,189.7L392.9,188.9L393.6,194.4L390.0,195.2Z" fill="#29528d"/>
<path d="M312.5,185.5L316.0,186.5L316.9,181.0L313.4,180.1Z" fill="#3d6ea8"/>
<path d="M310.1,158.5L313.6,159.7L314.5,155.5L311.1,154.3Z" fill="#6290a9"/>
<path d="M319.9,233.1L323.4,233.4L324.4,226.3L320.9,226.0Z" fill="#152e73"/>
<path d="M310.3,141.9L313.8,143.2L314.7,140.1L311.2,138.7Z" fill="#789d98"/>
<path d="M352.2,143.9L355.7,144.4L356.5,147.4L353.0,146.9Z" fill="#62858c"/>
<path d="M361.7,154.6L365.3,154.9L366.0,158.6L362.4,158.4Z" fill="#537b93"/>
<path d="M375.5,171.2L379.1,171.0L379.9,175.6L376.2,175.9Z" fill="#3e6894"/>
<path d="M318.3,122.8L321.8,124.1L322.7,123.3L319.2,122.0Z" fill="#979771"/>
<path d="M311.2,138.7L314.7,140.1L315.6,137.2L312.1,135.8Z" fill="#7d9e92"/>
<path d="M331.4,125.1L334.9,126.2L335.8,127.2L332.2,126.1Z" fill="#838a6e"/>
<path d="M393.6,194.4L397.3,193.4L398.0,199.0L394.3,200.1Z" fill="#264c89"/>
<path d="M325.3,122.4L328.8,123.7L329.7,123.9L326.2,122.7Z" fill="#8f8f6b"/>
<path d="M347.0,137.9L350.5,138.6L351.4,141.1L347.8,140.4Z" fill="#6a8984"/>
<path d="M317.4,123.9L320.9,125.2L321.8,124.1L318.3,122.8Z" fill="#979873"/>
<path d="M318.3,218.7L321.8,219.2L322.8,212.5L319.3,212.1Z" fill="#1d408b"/>
<path d="M311.8,168.8L315.3,169.9L316.2,165.2L312.7,164.1Z" fill="#5484ac"/>
<path d="M312.1,135.8L315.6,137.2L316.5,134.5L313.0,133.2Z" fill="#829c8b"/>
<path d="M311.1,154.3L314.5,155.5L315.5,151.6L312.0,150.3Z" fill="#6996a7"/>
<path d="M336.6,128.5L340.1,129.4L341.0,131.0L337.4,130.0Z" fill="#7b8973"/>
<path d="M341.8,132.7L345.3,133.6L346.2,135.6L342.6,134.8Z" fill="#72897b"/>
<path d="M316.6,125.2L320.0,126.6L320.9,125.2L317.4,123.9Z" fill="#959975"/>
<path d="M366.0,158.6L369.6,158.7L370.4,162.7L366.8,162.6Z" fill="#4e7794"/>
<path d="M313.0,133.2L316.5,134.5L317.4,132.1L313.9,130.8Z" fill="#879b85"/>
<path d="M356.5,147.4L360.1,147.9L360.9,151.1L357.3,150.7Z" fill="#5e8490"/>
<path d="M315.7,126.8L319.2,128.2L320.0,126.6L316.6,125.2Z" fill="#939978"/>
<path d="M379.9,175.6L383.5,175.2L384.2,180.0L380.6,180.5Z" fill="#396393"/>
<path d="M313.9,130.8L317.4,132.1L318.3,130.0L314.8,128.7Z" fill="#8b9a80"/>
<path d="M314.8,128.7L318.3,130.0L319.2,128.2L315.7,126.8Z" fill="#8f9a7c"/>
<path d="M316.7,205.0L320.2,205.7L321.1,199.5L317.6,198.9Z" fill="#29559b"/>
<path d="M313.4,180.1L316.9,181.0L317.9,175.8L314.4,174.9Z" fill="#4576aa"/>
<path d="M398.0,199.0L401.7,197.8L402.4,203.6L398.7,204.9Z" fill="#224785"/>
<path d="M324.4,122.5L327.9,123.7L328.8,123.7L325.3,122.4Z" fill="#93926c"/>
<path d="M315.1,192.1L318.6,192.9L319.5,187.3L316.0,186.5Z" fill="#3667a6"/>
<path d="M312.0,150.3L315.5,151.6L316.4,147.9L312.9,146.7Z" fill="#6f99a3"/>
<path d="M330.5,124.4L334.1,125.5L334.9,126.2L331.4,125.1Z" fill="#888c6c"/>
<path d="M312.7,164.1L316.2,165.2L317.1,160.8L313.6,159.7Z" fill="#5c8aaa"/>
<path d="M351.4,141.1L354.9,141.7L355.7,144.4L352.2,143.9Z" fill="#678887"/>
<path d="M370.4,162.7L374.0,162.6L374.8,166.8L371.1,166.9Z" fill="#4a7395"/>
<path d="M384.2,180.0L387.9,179.4L388.6,184.5L384.9,185.1Z" fill="#355f92"/>
<path d="M320.9,226.0L324.4,226.3L325.4,219.5L321.8,219.2Z" fill="#193881"/>
<path d="M323.6,122.8L327.1,124.0L327.9,123.7L324.4,122.5Z" fill="#97946e"/>
<path d="M335.8,127.2L339.3,128.2L340.1,129.4L336.6,128.5Z" fill="#808a6f"/>
<path d="M312.9,146.7L316.4,147.9L317.3,144.5L313.8,143.2Z" fill="#749b9d"/>
<path d="M360.9,151.1L364.5,151.4L365.3,154.9L361.7,154.6Z" fill="#5a8192"/>
<path d="M346.2,135.6L349.7,136.3L350.5,138.6L347.0,137.9Z" fill="#6f8a7f"/>
<path d="M341.0,131.0L344.5,131.8L345.3,133.6L341.8,132.7Z" fill="#788975"/>
<path d="M314.4,174.9L317.9,175.8L318.8,170.9L315.3,169.9Z" fill="#4d7ead"/>
<path d="M329.7,123.9L333.2,125.0L334.1,125.5L330.5,124.4Z" fill="#8d8e6b"/>
<path d="M319.3,212.1L322.8,212.5L323.7,206.2L320.2,205.7Z" fill="#244c94"/>
<path d="M322.7,123.3L326.2,124.5L327.1,124.0L323.6,122.8Z" fill="#99966f"/>
<path d="M313.8,143.2L317.3,144.5L318.2,141.3L314.7,140.1Z" fill="#799d97"/>
<path d="M388.6,184.5L392.2,183.7L392.9,188.9L389.3,189.7Z" fill="#315b91"/>
<path d="M313.6,159.7L317.1,160.8L318.0,156.6L314.5,155.5Z" fill="#6391a9"/>
<path d="M316.0,186.5L319.5,187.3L320.4,181.8L316.9,181.0Z" fill="#3f6fa9"/>
<path d="M374.8,166.8L378.4,166.6L379.1,171.0L375.5,171.2Z" fill="#456f96"/>
<path d="M317.6,198.9L321.1,199.5L322.1,193.6L318.6,192.9Z" fill="#3060a4"/>
<path d="M321.8,124.1L325.3,125.4L326.2,124.5L322.7,123.3Z" fill="#999771"/>
<path d="M355.7,144.4L359.3,144.9L360.1,147.9L356.5,147.4Z" fill="#63878b"/>
<path d="M314.7,140.1L318.2,141.3L319.1,138.4L315.6,137.2Z" fill="#7e9e92"/>
<path d="M323.4,233.4L327.0,233.5L327.9,226.4L324.4,226.3Z" fill="#163077"/>
<path d="M365.3,154.9L368.9,155.0L369.6,158.7L366.0,158.6Z" fill="#567d93"/>
<path d="M334.9,126.2L338.4,127.2L339.3,128.2L335.8,127.2Z" fill="#858b6c"/>
<path d="M328.8,123.7L332.3,124.8L333.2,125.0L329.7,123.9Z" fill="#91906b"/>
<path d="M320.9,125.2L324.4,126.4L325.3,125.4L321.8,124.1Z" fill="#989972"/>
<path d="M315.6,137.2L319.1,138.4L320.0,135.8L316.5,134.5Z" fill="#839d8b"/>
<path d="M392.9,188.9L396.6,187.9L397.3,193.4L393.6,194.4Z" fill="#2c5690"/>
<path d="M314.5,155.5L318.0,156.6L319.0,152.7L315.5,151.6Z" fill="#6a97a7"/>
<path d="M315.3,169.9L318.8,170.9L319.7,166.2L316.2,165.2Z" fill="#5585ac"/>
<path d="M350.5,138.6L354.1,139.2L354.9,141.7L351.4,141.1Z" fill="#6b8a83"/>
<path d="M320.0,126.6L323.6,127.8L324.4,126.4L320.9,125.2Z" fill="#979975"/>
<path d="M379.1,171.0L382.8,170.6L383.5,175.2L379.9,175.6Z" fill="#416b95"/>
<path d="M316.5,134.5L320.0,135.8L320.9,133.4L317.4,132.1Z" fill="#889c85"/>
<path d="M340.1,129.4L343.7,130.3L344.5,131.8L341.0,131.0Z" fill="#7d8971"/>
<path d="M319.2,128.2L322.7,129.4L323.6,127.8L320.0,126.6Z" fill="#949a78"/>
<path d="M345.3,133.6L348.9,134.3L349.7,136.3L346.2,135.6Z" fill="#758979"/>
<path d="M317.4,132.1L320.9,133.4L321.8,131.3L318.3,130.0Z" fill="#8d9b80"/>
<path d="M321.8,219.2L325.4,219.5L326.3,212.9L322.8,212.5Z" fill="#1f438d"/>
<path d="M318.3,130.0L321.8,131.3L322.7,129.4L319.2,128.2Z" fill="#919a7b"/>
<path d="M327.9,123.7L331.5,124.8L332.3,124.8L328.8,123.7Z" fill="#96926c"/>
<path d="M316.9,181.0L320.4,181.8L321.4,176.6L317.9,175.8Z" fill="#4778ab"/>
<path d="M360.1,147.9L363.7,148.1L364.5,151.4L360.9,151.1Z" fill="#60858e"/>
<path d="M369.6,158.7L373.2,158.7L374.0,162.6L370.4,162.7Z" fill="#517a94"/>
<path d="M320.2,205.7L323.7,206.2L324.7,200.0L321.1,199.5Z" fill="#2b579d"/>
<path d="M397.3,193.4L401.0,192.2L401.7,197.8L398.0,199.0Z" fill="#28518d"/>
<path d="M315.5,151.6L319.0,152.7L319.9,149.0L316.4,147.9Z" fill="#709aa2"/>
<path d="M334.1,125.5L337.6,126.5L338.4,127.2L334.9,126.2Z" fill="#8a8c6a"/>
<path d="M318.6,192.9L322.1,193.6L323.0,187.9L319.5,187.3Z" fill="#3869a7"/>
<path d="M383.5,175.2L387.1,174.6L387.9,179.4L384.2,180.0Z" fill="#3d6794"/>
<path d="M316.2,165.2L319.7,166.2L320.6,161.8L317.1,160.8Z" fill="#5d8caa"/>
<path d="M327.1,124.0L330.6,125.1L331.5,124.8L327.9,123.7Z" fill="#99946e"/>
<path d="M354.9,141.7L358.5,142.1L359.3,144.9L355.7,144.4Z" fill="#698986"/>
<path d="M316.4,147.9L319.9,149.0L320.8,145.6L317.3,144.5Z" fill="#759c9c"/>
<path d="M339.3,128.2L342.8,129.0L343.7,130.3L340.1,129.4Z" fill="#828a6d"/>
<path d="M401.7,197.8L405.4,196.4L406.1,202.2L402.4,203.6Z" fill="#264c89"/>
<path d="M324.4,226.3L327.9,226.4L328.9,219.6L325.4,219.5Z" fill="#1a3a85"/>
<path d="M374.0,162.6L377.6,162.4L378.4,166.6L374.8,166.8Z" fill="#4d7695"/>
<path d="M349.7,136.3L353.3,136.9L354.1,139.2L350.5,138.6Z" fill="#718a7c"/>
<path d="M344.5,131.8L348.1,132.5L348.9,134.3L345.3,133.6Z" fill="#7a8974"/>
<path d="M333.2,125.0L336.7,126.0L337.6,126.5L334.1,125.5Z" fill="#8f8e6a"/>
<path d="M364.5,151.4L368.1,151.5L368.9,155.0L365.3,154.9Z" fill="#5d8391"/>
<path d="M326.2,124.5L329.7,125.7L330.6,125.1L327.1,124.0Z" fill="#9b966f"/>
<path d="M317.9,175.8L321.4,176.6L322.3,171.7L318.8,170.9Z" fill="#4f7fad"/>
<path d="M387.9,179.4L391.5,178.7L392.2,183.7L388.6,184.5Z" fill="#396393"/>
<path d="M317.3,144.5L320.8,145.6L321.7,142.4L318.2,141.3Z" fill="#7a9e97"/>
<path d="M317.1,160.8L320.6,161.8L321.6,157.6L318.0,156.6Z" fill="#6592a9"/>
<path d="M322.8,212.5L326.3,212.9L327.3,206.5L323.7,206.2Z" fill="#264f97"/>
<path d="M319.5,187.3L323.0,187.9L324.0,182.5L320.4,181.8Z" fill="#4171aa"/>
<path d="M325.3,125.4L328.8,126.5L329.7,125.7L326.2,124.5Z" fill="#9c9871"/>
<path d="M321.1,199.5L324.7,200.0L325.6,194.1L322.1,193.6Z" fill="#3162a6"/>
<path d="M318.2,141.3L321.7,142.4L322.6,139.5L319.1,138.4Z" fill="#809e90"/>
<path d="M359.3,144.9L362.9,145.2L363.7,148.1L360.1,147.9Z" fill="#668889"/>
<path d="M338.4,127.2L342.0,128.0L342.8,129.0L339.3,128.2Z" fill="#878b6b"/>
<path d="M332.3,124.8L335.9,125.8L336.7,126.0L333.2,125.0Z" fill="#94906b"/>
<path d="M324.4,126.4L328.0,127.6L328.8,126.5L325.3,125.4Z" fill="#9b9972"/>
<path d="M378.4,166.6L382.0,166.2L382.8,170.6L379.1,171.0Z" fill="#497296"/>
<path d="M319.1,138.4L322.6,139.5L323.5,136.9L320.0,135.8Z" fill="#859d8a"/>
<path d="M392.2,183.7L395.9,182.7L396.6,187.9L392.9,188.9Z" fill="#345f92"/>
<path d="M318.0,156.6L321.6,157.6L322.5,153.7L319.0,152.7Z" fill="#6c98a7"/>
<path d="M368.9,155.0L372.5,155.0L373.2,158.7L369.6,158.7Z" fill="#598092"/>
<path d="M323.6,127.8L327.1,128.9L328.0,127.6L324.4,126.4Z" fill="#999a74"/>
<path d="M327.0,233.5L330.5,233.4L331.5,226.4L327.9,226.4Z" fill="#17337b"/>
<path d="M320.0,135.8L323.5,136.9L324.4,134.5L320.9,133.4Z" fill="#8a9c84"/>
<path d="M318.8,170.9L322.3,171.7L323.2,167.0L319.7,166.2Z" fill="#5787ac"/>
<path d="M322.7,129.4L326.2,130.5L327.1,128.9L323.6,127.8Z" fill="#969a77"/>
<path d="M320.9,133.4L324.4,134.5L325.3,132.4L321.8,131.3Z" fill="#8f9b7f"/>
<path d="M354.1,139.2L357.7,139.6L358.5,142.1L354.9,141.7Z" fill="#6e8a80"/>
<path d="M343.7,130.3L347.2,131.0L348.1,132.5L344.5,131.8Z" fill="#7f896f"/>
<path d="M321.8,131.3L325.3,132.4L326.2,130.5L322.7,129.4Z" fill="#929a7a"/>
<path d="M348.9,134.3L352.5,134.9L353.3,136.9L349.7,136.3Z" fill="#778976"/>
<path d="M331.5,124.8L335.0,125.8L335.9,125.8L332.3,124.8Z" fill="#98926c"/>
<path d="M325.4,219.5L328.9,219.6L329.9,213.0L326.3,212.9Z" fill="#214690"/>
<path d="M320.4,181.8L324.0,182.5L324.9,177.3L321.4,176.6Z" fill="#497aac"/>
<path d="M382.8,170.6L386.4,170.0L387.1,174.6L383.5,175.2Z" fill="#446f96"/>
<path d="M319.0,152.7L322.5,153.7L323.4,150.0L319.9,149.0Z" fill="#729ba1"/>
<path d="M396.6,187.9L400.3,186.8L401.0,192.2L397.3,193.4Z" fill="#305b91"/>
<path d="M337.6,126.5L341.1,127.3L342.0,128.0L338.4,127.2Z" fill="#8c8c69"/>
<path d="M363.7,148.1L367.3,148.3L368.1,151.5L364.5,151.4Z" fill="#63868c"/>
<path d="M323.7,206.2L327.3,206.5L328.2,200.4L324.7,200.0Z" fill="#2c5aa0"/>
<path d="M322.1,193.6L325.6,194.1L326.6,188.4L323.0,187.9Z" fill="#3a6ba8"/>
<path d="M373.2,158.7L376.9,158.5L377.6,162.4L374.0,162.6Z" fill="#557d93"/>
<path d="M319.7,166.2L323.2,167.0L324.2,162.6L320.6,161.8Z" fill="#5f8daa"/>
<path d="M330.6,125.1L334.1,126.1L335.0,125.8L331.5,124.8Z" fill="#9c946d"/>
<path d="M319.9,149.0L323.4,150.0L324.3,146.6L320.8,145.6Z" fill="#779d9b"/>
<path d="M342.8,129.0L346.4,129.8L347.2,131.0L343.7,130.3Z" fill="#858a6b"/>
<path d="M358.5,142.1L362.1,142.4L362.9,145.2L359.3,144.9Z" fill="#6b8a84"/>
<path d="M401.0,192.2L404.7,190.8L405.4,196.4L401.7,197.8Z" fill="#2c5690"/>
<path d="M387.1,174.6L390.8,173.9L391.5,178.7L387.9,179.4Z" fill="#406b95"/>
<path d="M329.7,125.7L333.3,126.6L334.1,126.1L330.6,125.1Z" fill="#9e966f"/>
<path d="M336.7,126.0L340.3,126.8L341.1,127.3L337.6,126.5Z" fill="#928e69"/>
<path d="M348.1,132.5L351.6,133.1L352.5,134.9L348.9,134.3Z" fill="#7d8971"/>
<path d="M353.3,136.9L356.9,137.3L357.7,139.6L354.1,139.2Z" fill="#748a7a"/>
<path d="M320.8,145.6L324.3,146.6L325.2,143.4L321.7,142.4Z" fill="#7c9f96"/>
<path d="M321.4,176.6L324.9,177.3L325.8,172.4L322.3,171.7Z" fill="#5081ae"/>
<path d="M327.9,226.4L331.5,226.4L332.4,219.6L328.9,219.6Z" fill="#1c3d89"/>
<path d="M320.6,161.8L324.2,162.6L325.1,158.4L321.6,157.6Z" fill="#6794a9"/>
<path d="M368.1,151.5L371.7,151.5L372.5,155.0L368.9,155.0Z" fill="#608590"/>
<path d="M377.6,162.4L381.3,162.1L382.0,166.2L378.4,166.6Z" fill="#517994"/>
<path d="M328.8,126.5L332.4,127.5L333.3,126.6L329.7,125.7Z" fill="#9e9770"/>
<path d="M321.7,142.4L325.2,143.4L326.1,140.5L322.6,139.5Z" fill="#819e8f"/>
<path d="M323.0,187.9L326.6,188.4L327.5,183.0L324.0,182.5Z" fill="#4374aa"/>
<path d="M326.3,212.9L329.9,213.0L330.8,206.7L327.3,206.5Z" fill="#285299"/>
<path d="M405.4,196.4L409.1,194.9L409.8,200.6L406.1,202.2Z" fill="#29528e"/>
<path d="M324.7,200.0L328.2,200.4L329.2,194.5L325.6,194.1Z" fill="#3465a7"/>
<path d="M328.0,127.6L331.5,128.5L332.4,127.5L328.8,126.5Z" fill="#9d9971"/>
<path d="M391.5,178.7L395.2,177.8L395.9,182.7L392.2,183.7Z" fill="#3c6795"/>
<path d="M335.9,125.8L339.4,126.6L340.3,126.8L336.7,126.0Z" fill="#978f6a"/>
<path d="M342.0,128.0L345.6,128.8L346.4,129.8L342.8,129.0Z" fill="#8a8b69"/>
<path d="M322.6,139.5L326.1,140.5L327.0,137.9L323.5,136.9Z" fill="#879d88"/>
<path d="M327.1,128.9L330.6,129.9L331.5,128.5L328.0,127.6Z" fill="#9b9a73"/>
<path d="M321.6,157.6L325.1,158.4L326.0,154.5L322.5,153.7Z" fill="#6e99a6"/>
<path d="M362.9,145.2L366.5,145.3L367.3,148.3L363.7,148.1Z" fill="#688987"/>
<path d="M323.5,136.9L327.0,137.9L327.9,135.5L324.4,134.5Z" fill="#8c9c82"/>
<path d="M326.2,130.5L329.7,131.5L330.6,129.9L327.1,128.9Z" fill="#989a75"/>
<path d="M324.4,134.5L327.9,135.5L328.8,133.4L325.3,132.4Z" fill="#909b7d"/>
<path d="M322.3,171.7L325.8,172.4L326.8,167.7L323.2,167.0Z" fill="#5989ac"/>
<path d="M325.3,132.4L328.8,133.4L329.7,131.5L326.2,130.5Z" fill="#949b79"/>
<path d="M382.0,166.2L385.7,165.7L386.4,170.0L382.8,170.6Z" fill="#4c7695"/>
<path d="M347.2,131.0L350.8,131.6L351.6,133.1L348.1,132.5Z" fill="#82896d"/>
<path d="M372.5,155.0L376.1,154.8L376.9,158.5L373.2,158.7Z" fill="#5c8392"/>
<path d="M357.7,139.6L361.3,139.9L362.1,142.4L358.5,142.1Z" fill="#718a7d"/>
<path d="M330.5,233.4L334.1,233.2L335.0,226.2L331.5,226.4Z" fill="#193680"/>
<path d="M335.0,125.8L338.6,126.7L339.4,126.6L335.9,125.8Z" fill="#9b926b"/>
<path d="M352.5,134.9L356.1,135.3L356.9,137.3L353.3,136.9Z" fill="#7a8974"/>
<path d="M395.9,182.7L399.6,181.6L400.3,186.8L396.6,187.9Z" fill="#396394"/>
<path d="M322.5,153.7L326.0,154.5L326.9,150.8L323.4,150.0Z" fill="#739ca0"/>
<path d="M324.0,182.5L327.5,183.0L328.4,177.9L324.9,177.3Z" fill="#4b7cad"/>
<path d="M341.1,127.3L344.7,128.0L345.6,128.8L342.0,128.0Z" fill="#8f8c68"/>
<path d="M328.9,219.6L332.4,219.6L333.4,213.0L329.9,213.0Z" fill="#234a93"/>
<path d="M334.1,126.1L337.7,127.0L338.6,126.7L335.0,125.8Z" fill="#9f946d"/>
<path d="M323.2,167.0L326.8,167.7L327.7,163.3L324.2,162.6Z" fill="#618faa"/>
<path d="M325.6,194.1L329.2,194.5L330.1,188.8L326.6,188.4Z" fill="#3d6da9"/>
<path d="M327.3,206.5L330.8,206.7L331.8,200.5L328.2,200.4Z" fill="#2e5da2"/>
<path d="M367.3,148.3L370.9,148.3L371.7,151.5L368.1,151.5Z" fill="#65888a"/>
<path d="M386.4,170.0L390.1,169.3L390.8,173.9L387.1,174.6Z" fill="#487297"/>
<path d="M323.4,150.0L326.9,150.8L327.8,147.4L324.3,146.6Z" fill="#789e9a"/>
<path d="M376.9,158.5L380.5,158.2L381.3,162.1L377.6,162.4Z" fill="#588093"/>
<path d="M346.4,129.8L350.0,130.4L350.8,131.6L347.2,131.0Z" fill="#878a69"/>
<path d="M400.3,186.8L404.0,185.5L404.7,190.8L401.0,192.2Z" fill="#355f93"/>
<path d="M333.3,126.6L336.8,127.5L337.7,127.0L334.1,126.1Z" fill="#a1966e"/>
<path d="M340.3,126.8L343.8,127.6L344.7,128.0L341.1,127.3Z" fill="#958d68"/>
<path d="M362.1,142.4L365.7,142.6L366.5,145.3L362.9,145.2Z" fill="#6d8b81"/>
<path d="M324.3,146.6L327.8,147.4L328.8,144.3L325.2,143.4Z" fill="#7e9f94"/>
<path d="M351.6,133.1L355.2,133.6L356.1,135.3L352.5,134.9Z" fill="#7f896e"/>
<path d="M324.9,177.3L328.4,177.9L329.4,172.9L325.8,172.4Z" fill="#5383ae"/>
<path d="M356.9,137.3L360.5,137.7L361.3,139.9L357.7,139.6Z" fill="#778976"/>
<path d="M324.2,162.6L327.7,163.3L328.6,159.1L325.1,158.4Z" fill="#6996a9"/>
<path d="M332.4,127.5L335.9,128.3L336.8,127.5L333.3,126.6Z" fill="#a1976f"/>
<path d="M325.2,143.4L328.8,144.3L329.7,141.4L326.1,140.5Z" fill="#839e8d"/>
<path d="M390.8,173.9L394.5,173.0L395.2,177.8L391.5,178.7Z" fill="#446f97"/>
<path d="M331.5,226.4L335.0,226.2L336.0,219.4L332.4,219.6Z" fill="#1e418c"/>
<path d="M371.7,151.5L375.3,151.4L376.1,154.8L372.5,155.0Z" fill="#62868d"/>
<path d="M331.5,128.5L335.0,129.4L335.9,128.3L332.4,127.5Z" fill="#a09871"/>
<path d="M404.7,190.8L408.5,189.3L409.1,194.9L405.4,196.4Z" fill="#315b92"/>
<path d="M326.6,188.4L330.1,188.8L331.1,183.4L327.5,183.0Z" fill="#4576ab"/>
<path d="M326.1,140.5L329.7,141.4L330.6,138.7L327.0,137.9Z" fill="#899d86"/>
<path d="M339.4,126.6L343.0,127.4L343.8,127.6L340.3,126.8Z" fill="#9a8f69"/>
<path d="M381.3,162.1L384.9,161.6L385.7,165.7L382.0,166.2Z" fill="#547d94"/>
<path d="M345.6,128.8L349.1,129.4L350.0,130.4L346.4,129.8Z" fill="#8d8b67"/>
<path d="M329.9,213.0L333.4,213.0L334.4,206.7L330.8,206.7Z" fill="#2a559c"/>
<path d="M330.6,129.9L334.2,130.8L335.0,129.4L331.5,128.5Z" fill="#9e9972"/>
<path d="M328.2,200.4L331.8,200.5L332.7,194.7L329.2,194.5Z" fill="#3667a8"/>
<path d="M327.0,137.9L330.6,138.7L331.5,136.3L327.9,135.5Z" fill="#8e9c80"/>
<path d="M325.1,158.4L328.6,159.1L329.5,155.2L326.0,154.5Z" fill="#6f9aa5"/>
<path d="M329.7,131.5L333.3,132.4L334.2,130.8L330.6,129.9Z" fill="#9a9a73"/>
<path d="M327.9,135.5L331.5,136.3L332.4,134.2L328.8,133.4Z" fill="#939b7b"/>
<path d="M328.8,133.4L332.4,134.2L333.3,132.4L329.7,131.5Z" fill="#979b77"/>
<path d="M325.8,172.4L329.4,172.9L330.3,168.3L326.8,167.7Z" fill="#5b8bac"/>
<path d="M366.5,145.3L370.1,145.3L370.9,148.3L367.3,148.3Z" fill="#6b8a84"/>
<path d="M350.8,131.6L354.4,132.1L355.2,133.6L351.6,133.1Z" fill="#85896a"/>
<path d="M395.2,177.8L398.9,176.7L399.6,181.6L395.9,182.7Z" fill="#416b96"/>
<path d="M338.6,126.7L342.1,127.4L343.0,127.4L339.4,126.6Z" fill="#9e916a"/>
<path d="M409.1,194.9L412.9,193.1L413.6,198.8L409.8,200.6Z" fill="#2d5891"/>
<path d="M361.3,139.9L364.9,140.1L365.7,142.6L362.1,142.4Z" fill="#748a7a"/>
<path d="M356.1,135.3L359.7,135.7L360.5,137.7L356.9,137.3Z" fill="#7d8971"/>
<path d="M326.0,154.5L329.5,155.2L330.5,151.5L326.9,150.8Z" fill="#759c9e"/>
<path d="M376.1,154.8L379.8,154.5L380.5,158.2L376.9,158.5Z" fill="#608590"/>
<path d="M385.7,165.7L389.4,165.0L390.1,169.3L386.4,170.0Z" fill="#517995"/>
<path d="M344.7,128.0L348.3,128.7L349.1,129.4L345.6,128.8Z" fill="#938b67"/>
<path d="M327.5,183.0L331.1,183.4L332.0,178.3L328.4,177.9Z" fill="#4d7eae"/>
<path d="M334.1,233.2L337.6,232.8L338.6,225.8L335.0,226.2Z" fill="#1a3a84"/>
<path d="M337.7,127.0L341.2,127.7L342.1,127.4L338.6,126.7Z" fill="#a2936c"/>
<path d="M326.8,167.7L330.3,168.3L331.2,163.9L327.7,163.3Z" fill="#6391aa"/>
<path d="M326.9,150.8L330.5,151.5L331.4,148.1L327.8,147.4Z" fill="#7a9f99"/>
<path d="M332.4,219.6L336.0,219.4L337.0,212.9L333.4,213.0Z" fill="#254d96"/>
<path d="M329.2,194.5L332.7,194.7L333.7,189.0L330.1,188.8Z" fill="#3f70aa"/>
<path d="M399.6,181.6L403.4,180.4L404.0,185.5L400.3,186.8Z" fill="#3d6795"/>
<path d="M330.8,206.7L334.4,206.7L335.3,200.6L331.8,200.5Z" fill="#3061a5"/>
<path d="M370.9,148.3L374.6,148.2L375.3,151.4L371.7,151.5Z" fill="#688987"/>
<path d="M350.0,130.4L353.6,130.9L354.4,132.1L350.8,131.6Z" fill="#8a8967"/>
<path d="M336.8,127.5L340.4,128.3L341.2,127.7L337.7,127.0Z" fill="#a4956d"/>
<path d="M343.8,127.6L347.4,128.2L348.3,128.7L344.7,128.0Z" fill="#988d67"/>
<path d="M327.8,147.4L331.4,148.1L332.3,145.0L328.8,144.3Z" fill="#809f92"/>
<path d="M390.1,169.3L393.8,168.5L394.5,173.0L390.8,173.9Z" fill="#4d7696"/>
<path d="M380.5,158.2L384.2,157.7L384.9,161.6L381.3,162.1Z" fill="#5c8392"/>
<path d="M365.7,142.6L369.3,142.6L370.1,145.3L366.5,145.3Z" fill="#718a7d"/>
<path d="M355.2,133.6L358.8,133.9L359.7,135.7L356.1,135.3Z" fill="#82886b"/>
<path d="M327.7,163.3L331.2,163.9L332.2,159.7L328.6,159.1Z" fill="#6b98a9"/>
<path d="M335.9,128.3L339.5,129.1L340.4,128.3L336.8,127.5Z" fill="#a4976e"/>
<path d="M328.4,177.9L332.0,178.3L332.9,173.4L329.4,172.9Z" fill="#5586ae"/>
<path d="M360.5,137.7L364.1,137.9L364.9,140.1L361.3,139.9Z" fill="#7a8973"/>
<path d="M328.8,144.3L332.3,145.0L333.2,142.1L329.7,141.4Z" fill="#869e8a"/>
<path d="M404.0,185.5L407.8,184.0L408.5,189.3L404.7,190.8Z" fill="#396494"/>
<path d="M335.0,129.4L338.6,130.2L339.5,129.1L335.9,128.3Z" fill="#a39870"/>
<path d="M329.7,141.4L333.2,142.1L334.1,139.5L330.6,138.7Z" fill="#8b9c84"/>
<path d="M343.0,127.4L346.6,128.0L347.4,128.2L343.8,127.6Z" fill="#9d8f68"/>
<path d="M330.1,188.8L333.7,189.0L334.6,183.7L331.1,183.4Z" fill="#4879ac"/>
<path d="M334.2,130.8L337.7,131.5L338.6,130.2L335.0,129.4Z" fill="#a19971"/>
<path d="M349.1,129.4L352.7,129.9L353.6,130.9L350.0,130.4Z" fill="#908a66"/>
<path d="M330.6,138.7L334.1,139.5L335.0,137.1L331.5,136.3Z" fill="#909c7e"/>
<path d="M375.3,151.4L379.0,151.1L379.8,154.5L376.1,154.8Z" fill="#65888a"/>
<path d="M335.0,226.2L338.6,225.8L339.6,219.1L336.0,219.4Z" fill="#204590"/>
<path d="M333.3,132.4L336.8,133.1L337.7,131.5L334.2,130.8Z" fill="#9d9a72"/>
<path d="M328.6,159.1L332.2,159.7L333.1,155.8L329.5,155.2Z" fill="#719ba3"/>
<path d="M331.5,136.3L335.0,137.1L335.9,135.0L332.4,134.2Z" fill="#959b79"/>
<path d="M332.4,134.2L335.9,135.0L336.8,133.1L333.3,132.4Z" fill="#999a74"/>
<path d="M394.5,173.0L398.2,172.0L398.9,176.7L395.2,177.8Z" fill="#497397"/>
<path d="M331.8,200.5L335.3,200.6L336.3,194.7L332.7,194.7Z" fill="#396aa9"/>
<path d="M333.4,213.0L337.0,212.9L337.9,206.6L334.4,206.7Z" fill="#2c599f"/>
<path d="M384.9,161.6L388.6,160.9L389.4,165.0L385.7,165.7Z" fill="#598093"/>
<path d="M329.4,172.9L332.9,173.4L333.9,168.7L330.3,168.3Z" fill="#5e8dac"/>
<path d="M342.1,127.4L345.7,128.0L346.6,128.0L343.0,127.4Z" fill="#a29169"/>
<path d="M354.4,132.1L358.0,132.4L358.8,133.9L355.2,133.6Z" fill="#888967"/>
<path d="M370.1,145.3L373.8,145.2L374.6,148.2L370.9,148.3Z" fill="#6e8b81"/>
<path d="M408.5,189.3L412.2,187.7L412.9,193.1L409.1,194.9Z" fill="#366094"/>
<path d="M329.5,155.2L333.1,155.8L334.0,152.1L330.5,151.5Z" fill="#779d9d"/>
<path d="M359.7,135.7L363.3,135.9L364.1,137.9L360.5,137.7Z" fill="#80886d"/>
<path d="M364.9,140.1L368.5,140.1L369.3,142.6L365.7,142.6Z" fill="#778976"/>
<path d="M348.3,128.7L351.9,129.2L352.7,129.9L349.1,129.4Z" fill="#968b66"/>
<path d="M331.1,183.4L334.6,183.7L335.6,178.5L332.0,178.3Z" fill="#5081af"/>
<path d="M341.2,127.7L344.8,128.3L345.7,128.0L342.1,127.4Z" fill="#a5936b"/>
<path d="M398.9,176.7L402.7,175.5L403.4,180.4L399.6,181.6Z" fill="#457098"/>
<path d="M379.8,154.5L383.4,154.1L384.2,157.7L380.5,158.2Z" fill="#63878d"/>
<path d="M330.3,168.3L333.9,168.7L334.8,164.3L331.2,163.9Z" fill="#6694aa"/>
<path d="M330.5,151.5L334.0,152.1L334.9,148.7L331.4,148.1Z" fill="#7ca097"/>
<path d="M389.4,165.0L393.1,164.2L393.8,168.5L390.1,169.3Z" fill="#557d94"/>
<path d="M337.6,232.8L341.2,232.3L342.2,225.3L338.6,225.8Z" fill="#1c3d8a"/>
<path d="M412.9,193.1L416.7,191.2L417.3,196.9L413.6,198.8Z" fill="#325d93"/>
<path d="M332.7,194.7L336.3,194.7L337.2,189.1L333.7,189.0Z" fill="#4273ab"/>
<path d="M340.4,128.3L343.9,128.9L344.8,128.3L341.2,127.7Z" fill="#a8956c"/>
<path d="M353.6,130.9L357.2,131.2L358.0,132.4L354.4,132.1Z" fill="#8e8965"/>
<path d="M336.0,219.4L339.6,219.1L340.6,212.6L337.0,212.9Z" fill="#27529a"/>
<path d="M334.4,206.7L337.9,206.6L338.9,200.5L335.3,200.6Z" fill="#3364a7"/>
<path d="M347.4,128.2L351.0,128.7L351.9,129.2L348.3,128.7Z" fill="#9c8c66"/>
<path d="M331.4,148.1L334.9,148.7L335.9,145.6L332.3,145.0Z" fill="#829f8f"/>
<path d="M374.6,148.2L378.2,147.9L379.0,151.1L375.3,151.4Z" fill="#6b8a84"/>
<path d="M339.5,129.1L343.1,129.7L343.9,128.9L340.4,128.3Z" fill="#a8966d"/>
<path d="M331.2,163.9L334.8,164.3L335.7,160.1L332.2,159.7Z" fill="#6e9aa8"/>
<path d="M403.4,180.4L407.1,179.0L407.8,184.0L404.0,185.5Z" fill="#426c97"/>
<path d="M358.8,133.9L362.5,134.1L363.3,135.9L359.7,135.7Z" fill="#868868"/>
<path d="M332.3,145.0L335.9,145.6L336.8,142.7L333.2,142.1Z" fill="#889d88"/>
<path d="M332.0,178.3L335.6,178.5L336.5,173.6L332.9,173.4Z" fill="#5888ad"/>
<path d="M369.3,142.6L373.0,142.5L373.8,145.2L370.1,145.3Z" fill="#748979"/>
<path d="M364.1,137.9L367.7,137.9L368.5,140.1L364.9,140.1Z" fill="#7d886f"/>
<path d="M384.2,157.7L387.9,157.1L388.6,160.9L384.9,161.6Z" fill="#608690"/>
<path d="M338.6,130.2L342.2,130.8L343.1,129.7L339.5,129.1Z" fill="#a7976e"/>
<path d="M393.8,168.5L397.5,167.5L398.2,172.0L394.5,173.0Z" fill="#517a95"/>
<path d="M333.2,142.1L336.8,142.7L337.7,140.1L334.1,139.5Z" fill="#8e9c81"/>
<path d="M346.6,128.0L350.2,128.5L351.0,128.7L347.4,128.2Z" fill="#a18e67"/>
<path d="M337.7,131.5L341.3,132.1L342.2,130.8L338.6,130.2Z" fill="#a49870"/>
<path d="M334.1,139.5L337.7,140.1L338.6,137.7L335.0,137.1Z" fill="#939b7b"/>
<path d="M352.7,129.9L356.3,130.2L357.2,131.2L353.6,130.9Z" fill="#948964"/>
<path d="M336.8,133.1L340.4,133.7L341.3,132.1L337.7,131.5Z" fill="#a19971"/>
<path d="M335.0,137.1L338.6,137.7L339.5,135.6L335.9,135.0Z" fill="#989b76"/>
<path d="M333.7,189.0L337.2,189.1L338.2,183.8L334.6,183.7Z" fill="#4a7cad"/>
<path d="M335.9,135.0L339.5,135.6L340.4,133.7L336.8,133.1Z" fill="#9c9a73"/>
<path d="M332.2,159.7L335.7,160.1L336.7,156.2L333.1,155.8Z" fill="#749ca1"/>
<path d="M379.0,151.1L382.7,150.7L383.4,154.1L379.8,154.5Z" fill="#698987"/>
<path d="M407.8,184.0L411.5,182.4L412.2,187.7L408.5,189.3Z" fill="#3e6996"/>
<path d="M338.6,225.8L342.2,225.3L343.2,218.6L339.6,219.1Z" fill="#234a94"/>
<path d="M335.3,200.6L338.9,200.5L339.9,194.6L336.3,194.7Z" fill="#3c6daa"/>
<path d="M332.9,173.4L336.5,173.6L337.4,169.0L333.9,168.7Z" fill="#618fab"/>
<path d="M345.7,128.0L349.3,128.5L350.2,128.5L346.6,128.0Z" fill="#a69068"/>
<path d="M337.0,212.9L340.6,212.6L341.5,206.3L337.9,206.6Z" fill="#2e5da3"/>
<path d="M358.0,132.4L361.6,132.7L362.5,134.1L358.8,133.9Z" fill="#8c8865"/>
<path d="M398.2,172.0L401.9,170.8L402.7,175.5L398.9,176.7Z" fill="#4e7796"/>
<path d="M388.6,160.9L392.3,160.2L393.1,164.2L389.4,165.0Z" fill="#5d8493"/>
<path d="M333.1,155.8L336.7,156.2L337.6,152.6L334.0,152.1Z" fill="#799f9b"/>
<path d="M373.8,145.2L377.4,145.0L378.2,147.9L374.6,148.2Z" fill="#718a7c"/>
<path d="M351.9,129.2L355.5,129.5L356.3,130.2L352.7,129.9Z" fill="#9a8a64"/>
<path d="M363.3,135.9L366.9,136.0L367.7,137.9L364.1,137.9Z" fill="#838869"/>
<path d="M368.5,140.1L372.2,140.1L373.0,142.5L369.3,142.6Z" fill="#7b8872"/>
<path d="M344.8,128.3L348.4,128.8L349.3,128.5L345.7,128.0Z" fill="#a99269"/>
<path d="M334.6,183.7L338.2,183.8L339.1,178.6L335.6,178.5Z" fill="#5384af"/>
<path d="M334.0,152.1L337.6,152.6L338.5,149.2L334.9,148.7Z" fill="#7fa094"/>
<path d="M333.9,168.7L337.4,169.0L338.4,164.6L334.8,164.3Z" fill="#6996aa"/>
<path d="M412.2,187.7L416.0,185.8L416.7,191.2L412.9,193.1Z" fill="#3b6695"/>
<path d="M383.4,154.1L387.1,153.5L387.9,157.1L384.2,157.7Z" fill="#66888a"/>
<path d="M343.9,128.9L347.5,129.4L348.4,128.8L344.8,128.3Z" fill="#ab946b"/>
<path d="M357.2,131.2L360.8,131.4L361.6,132.7L358.0,132.4Z" fill="#928763"/>
<path d="M336.3,194.7L339.9,194.6L340.8,189.1L337.2,189.1Z" fill="#4576ac"/>
<path d="M351.0,128.7L354.6,129.0L355.5,129.5L351.9,129.2Z" fill="#a08b65"/>
<path d="M334.9,148.7L338.5,149.2L339.4,146.1L335.9,145.6Z" fill="#859e8c"/>
<path d="M402.7,175.5L406.4,174.1L407.1,179.0L403.4,180.4Z" fill="#4a7497"/>
<path d="M341.2,232.3L344.8,231.6L345.8,224.6L342.2,225.3Z" fill="#1f428e"/>
<path d="M393.1,164.2L396.8,163.3L397.5,167.5L393.8,168.5Z" fill="#5a8193"/>
<path d="M343.1,129.7L346.7,130.2L347.5,129.4L343.9,128.9Z" fill="#ac956c"/>
<path d="M337.9,206.6L341.5,206.3L342.5,200.2L338.9,200.5Z" fill="#3768a8"/>
<path d="M339.6,219.1L343.2,218.6L344.2,212.1L340.6,212.6Z" fill="#2a569d"/>
<path d="M378.2,147.9L381.9,147.5L382.7,150.7L379.0,151.1Z" fill="#6f8b80"/>
<path d="M335.9,145.6L339.4,146.1L340.4,143.2L336.8,142.7Z" fill="#8b9d84"/>
<path d="M334.8,164.3L338.4,164.6L339.3,160.4L335.7,160.1Z" fill="#709ba5"/>
<path d="M362.5,134.1L366.1,134.2L366.9,136.0L363.3,135.9Z" fill="#898765"/>
<path d="M335.6,178.5L339.1,178.6L340.1,173.8L336.5,173.6Z" fill="#5c8bad"/>
<path d="M342.2,130.8L345.8,131.3L346.7,130.2L343.1,129.7Z" fill="#ab966d"/>
<path d="M373.0,142.5L376.6,142.3L377.4,145.0L373.8,145.2Z" fill="#788974"/>
<path d="M336.8,142.7L340.4,143.2L341.3,140.5L337.7,140.1Z" fill="#919c7e"/>
<path d="M416.7,191.2L420.5,189.2L421.1,194.7L417.3,196.9Z" fill="#386395"/>
<path d="M367.7,137.9L371.4,137.9L372.2,140.1L368.5,140.1Z" fill="#81876b"/>
<path d="M350.2,128.5L353.8,128.8L354.6,129.0L351.0,128.7Z" fill="#a68d65"/>
<path d="M341.3,132.1L344.9,132.6L345.8,131.3L342.2,130.8Z" fill="#a8976e"/>
<path d="M337.7,140.1L341.3,140.5L342.2,138.2L338.6,137.7Z" fill="#969b78"/>
<path d="M340.4,133.7L344.0,134.2L344.9,132.6L341.3,132.1Z" fill="#a5986f"/>
<path d="M387.9,157.1L391.6,156.3L392.3,160.2L388.6,160.9Z" fill="#64878d"/>
<path d="M338.6,137.7L342.2,138.2L343.1,136.1L339.5,135.6Z" fill="#9b9a73"/>
<path d="M356.3,130.2L359.9,130.5L360.8,131.4L357.2,131.2Z" fill="#998863"/>
<path d="M339.5,135.6L343.1,136.1L344.0,134.2L340.4,133.7Z" fill="#a09971"/>
<path d="M407.1,179.0L410.9,177.4L411.5,182.4L407.8,184.0Z" fill="#477198"/>
<path d="M335.7,160.1L339.3,160.4L340.3,156.6L336.7,156.2Z" fill="#769d9f"/>
<path d="M397.5,167.5L401.2,166.4L401.9,170.8L398.2,172.0Z" fill="#567e94"/>
<path d="M337.2,189.1L340.8,189.1L341.8,183.7L338.2,183.8Z" fill="#4d7faf"/>
<path d="M349.3,128.5L352.9,128.9L353.8,128.8L350.2,128.5Z" fill="#aa8f66"/>
<path d="M336.5,173.6L340.1,173.8L341.0,169.1L337.4,169.0Z" fill="#6492ab"/>
<path d="M382.7,150.7L386.3,150.1L387.1,153.5L383.4,154.1Z" fill="#6c8b83"/>
<path d="M338.9,200.5L342.5,200.2L343.5,194.4L339.9,194.6Z" fill="#4071ab"/>
<path d="M361.6,132.7L365.3,132.8L366.1,134.2L362.5,134.1Z" fill="#908663"/>
<path d="M336.7,156.2L340.3,156.6L341.2,152.9L337.6,152.6Z" fill="#7ca098"/>
<path d="M342.2,225.3L345.8,224.6L346.8,217.9L343.2,218.6Z" fill="#264f98"/>
<path d="M340.6,212.6L344.2,212.1L345.1,205.8L341.5,206.3Z" fill="#3162a7"/>
<path d="M355.5,129.5L359.1,129.8L359.9,130.5L356.3,130.2Z" fill="#9f8863"/>
<path d="M348.4,128.8L352.0,129.2L352.9,128.9L349.3,128.5Z" fill="#ae9168"/>
<path d="M377.4,145.0L381.1,144.6L381.9,147.5L378.2,147.9Z" fill="#768977"/>
<path d="M366.9,136.0L370.5,135.9L371.4,137.9L367.7,137.9Z" fill="#878765"/>
<path d="M411.5,182.4L415.3,180.6L416.0,185.8L412.2,187.7Z" fill="#436e98"/>
<path d="M392.3,160.2L396.0,159.2L396.8,163.3L393.1,164.2Z" fill="#618690"/>
<path d="M372.2,140.1L375.8,139.9L376.6,142.3L373.0,142.5Z" fill="#7f876d"/>
<path d="M337.6,152.6L341.2,152.9L342.1,149.5L338.5,149.2Z" fill="#829f90"/>
<path d="M401.9,170.8L405.7,169.5L406.4,174.1L402.7,175.5Z" fill="#537c95"/>
<path d="M338.2,183.8L341.8,183.7L342.7,178.6L339.1,178.6Z" fill="#5687ae"/>
<path d="M337.4,169.0L341.0,169.1L342.0,164.7L338.4,164.6Z" fill="#6c99a9"/>
<path d="M347.5,129.4L351.1,129.8L352.0,129.2L348.4,128.8Z" fill="#b09269"/>
<path d="M338.5,149.2L342.1,149.5L343.0,146.4L339.4,146.1Z" fill="#889e88"/>
<path d="M354.6,129.0L358.2,129.3L359.1,129.8L355.5,129.5Z" fill="#a58a63"/>
<path d="M360.8,131.4L364.4,131.5L365.3,132.8L361.6,132.7Z" fill="#978662"/>
<path d="M387.1,153.5L390.8,152.8L391.6,156.3L387.9,157.1Z" fill="#6a8a86"/>
<path d="M339.9,194.6L343.5,194.4L344.4,188.8L340.8,189.1Z" fill="#487aad"/>
<path d="M346.7,130.2L350.3,130.6L351.1,129.8L347.5,129.4Z" fill="#b0946a"/>
<path d="M372.0,137.8L371.4,137.9L371.3,137.6Z" fill="#8c8563"/>
<path d="M339.4,146.1L343.0,146.4L343.9,143.5L340.4,143.2Z" fill="#8e9c81"/>
<path d="M338.4,164.6L342.0,164.7L342.9,160.6L339.3,160.4Z" fill="#739ca3"/>
<path d="M416.0,185.8L419.8,183.8L420.5,189.2L416.7,191.2Z" fill="#416b97"/>
<path d="M345.8,131.3L349.4,131.7L350.3,130.6L346.7,130.2Z" fill="#af956b"/>
<path d="M344.8,231.6L348.5,230.7L349.5,223.8L345.8,224.6Z" fill="#224892"/>
<path d="M341.5,206.3L345.1,205.8L346.1,199.8L342.5,200.2Z" fill="#3a6baa"/>
<path d="M396.8,163.3L400.5,162.2L401.2,166.4L397.5,167.5Z" fill="#5f8593"/>
<path d="M366.1,134.2L369.7,134.2L370.5,135.9L366.9,136.0Z" fill="#8e8663"/>
<path d="M381.9,147.5L385.6,147.0L386.3,150.1L382.7,150.7Z" fill="#738a7a"/>
<path d="M343.2,218.6L346.8,217.9L347.8,211.5L344.2,212.1Z" fill="#2d5ba1"/>
<path d="M371.4,137.9L372.0,137.8L375.5,139.0L375.8,139.9L372.2,140.1Z" fill="#858766"/>
<path d="M340.4,143.2L343.9,143.5L344.9,140.9L341.3,140.5Z" fill="#949b7a"/>
<path d="M339.1,178.6L342.7,178.6L343.7,173.7L340.1,173.8Z" fill="#5f8eac"/>
<path d="M406.4,174.1L410.2,172.6L410.9,177.4L407.1,179.0Z" fill="#507996"/>
<path d="M344.9,132.6L348.5,133.0L349.4,131.7L345.8,131.3Z" fill="#ad966c"/>
<path d="M353.8,128.8L357.4,129.1L358.2,129.3L354.6,129.0Z" fill="#aa8b63"/>
<path d="M341.3,140.5L344.9,140.9L345.8,138.5L342.2,138.2Z" fill="#999a74"/>
<path d="M376.6,142.3L380.3,141.9L381.1,144.6L377.4,145.0Z" fill="#7c886f"/>
<path d="M344.0,134.2L347.6,134.6L348.5,133.0L344.9,132.6Z" fill="#a9976e"/>
<path d="M342.2,138.2L345.8,138.5L346.7,136.4L343.1,136.1Z" fill="#9f9971"/>
<path d="M343.1,136.1L346.7,136.4L347.6,134.6L344.0,134.2Z" fill="#a4986f"/>
<path d="M359.9,130.5L363.6,130.6L364.4,131.5L360.8,131.4Z" fill="#9d8661"/>
<path d="M339.3,160.4L342.9,160.6L343.9,156.7L340.3,156.6Z" fill="#799f9c"/>
<path d="M391.6,156.3L395.3,155.4L396.0,159.2L392.3,160.2Z" fill="#678988"/>
<path d="M340.8,189.1L344.4,188.8L345.4,183.5L341.8,183.7Z" fill="#5182b0"/>
<path d="M352.9,128.9L356.5,129.1L357.4,129.1L353.8,128.8Z" fill="#ae8d64"/>
<path d="M420.5,189.2L424.3,186.9L424.9,192.4L421.1,194.7Z" fill="#3e6997"/>
<path d="M340.1,173.8L343.7,173.7L344.6,169.1L341.0,169.1Z" fill="#6895aa"/>
<path d="M401.2,166.4L405.0,165.1L405.7,169.5L401.9,170.8Z" fill="#5c8393"/>
<path d="M365.3,132.8L368.9,132.7L369.7,134.2L366.1,134.2Z" fill="#958561"/>
<path d="M410.9,177.4L414.6,175.7L415.3,180.6L411.5,182.4Z" fill="#4c7697"/>
<path d="M340.3,156.6L343.9,156.7L344.8,153.1L341.2,152.9Z" fill="#7ea095"/>
<path d="M342.5,200.2L346.1,199.8L347.1,194.0L343.5,194.4Z" fill="#4375ac"/>
<path d="M386.3,150.1L390.0,149.4L390.8,152.8L387.1,153.5Z" fill="#708a7e"/>
<path d="M359.1,129.8L362.7,129.9L363.6,130.6L359.9,130.5Z" fill="#a48761"/>
<path d="M352.0,129.2L355.6,129.4L356.5,129.1L352.9,128.9Z" fill="#b28f65"/>
<path d="M344.2,212.1L347.8,211.5L348.8,205.2L345.1,205.8Z" fill="#3566a8"/>
<path d="M345.8,224.6L349.5,223.8L350.4,217.1L346.8,217.9Z" fill="#29549c"/>
<path d="M381.1,144.6L384.8,144.1L385.6,147.0L381.9,147.5Z" fill="#7a8872"/>
<path d="M341.2,152.9L344.8,153.1L345.7,149.7L342.1,149.5Z" fill="#859e8c"/>
<path d="M377.7,139.7L375.8,139.9L375.5,139.0Z" fill="#8a8563"/>
<path d="M375.8,139.9L377.7,139.7L379.8,140.4L380.3,141.9L376.6,142.3Z" fill="#838768"/>
<path d="M341.0,169.1L344.6,169.1L345.6,164.8L342.0,164.7Z" fill="#6f9ba7"/>
<path d="M341.8,183.7L345.4,183.5L346.4,178.4L342.7,178.6Z" fill="#5a8aae"/>
<path d="M351.1,129.8L354.8,130.0L355.6,129.4L352.0,129.2Z" fill="#b49067"/>
<path d="M396.0,159.2L399.8,158.2L400.5,162.2L396.8,163.3Z" fill="#65888b"/>
<path d="M342.1,149.5L345.7,149.7L346.6,146.6L343.0,146.4Z" fill="#8c9d84"/>
<path d="M358.2,129.3L361.9,129.4L362.7,129.9L359.1,129.8Z" fill="#a98860"/>
<path d="M364.4,131.5L368.1,131.5L368.9,132.7L365.3,132.8Z" fill="#9c8560"/>
<path d="M405.7,169.5L409.5,168.0L410.2,172.6L406.4,174.1Z" fill="#598094"/>
<path d="M415.3,180.6L419.1,178.7L419.8,183.8L416.0,185.8Z" fill="#497498"/>
<path d="M350.3,130.6L353.9,130.8L354.8,130.0L351.1,129.8Z" fill="#b49268"/>
<path d="M343.0,146.4L346.6,146.6L347.6,143.7L343.9,143.5Z" fill="#929c7d"/>
<path d="M343.5,194.4L347.1,194.0L348.1,188.5L344.4,188.8Z" fill="#4c7daf"/>
<path d="M349.4,131.7L353.0,131.9L353.9,130.8L350.3,130.6Z" fill="#b49369"/>
<path d="M390.8,152.8L394.5,151.9L395.3,155.4L391.6,156.3Z" fill="#6e8b81"/>
<path d="M342.0,164.7L345.6,164.8L346.5,160.6L342.9,160.6Z" fill="#769da0"/>
<path d="M343.9,143.5L347.6,143.7L348.5,141.1L344.9,140.9Z" fill="#989a76"/>
<path d="M348.5,133.0L352.1,133.2L353.0,131.9L349.4,131.7Z" fill="#b1946a"/>
<path d="M342.7,178.6L346.4,178.4L347.3,173.6L343.7,173.7Z" fill="#6391ac"/>
<path d="M357.4,129.1L361.0,129.2L361.9,129.4L358.2,129.3Z" fill="#ae8961"/>
<path d="M345.1,205.8L348.8,205.2L349.7,199.2L346.1,199.8Z" fill="#3e6fab"/>
<path d="M344.9,140.9L348.5,141.1L349.4,138.8L345.8,138.5Z" fill="#9e9972"/>
<path d="M347.6,134.6L351.2,134.8L352.1,133.2L348.5,133.0Z" fill="#ae956c"/>
<path d="M385.6,147.0L389.3,146.3L390.0,149.4L386.3,150.1Z" fill="#788874"/>
<path d="M345.8,138.5L349.4,138.8L350.3,136.7L346.7,136.4Z" fill="#a4976f"/>
<path d="M346.7,136.4L350.3,136.7L351.2,134.8L347.6,134.6Z" fill="#a9966d"/>
<path d="M348.5,230.7L352.1,229.6L353.1,222.8L349.5,223.8Z" fill="#254d97"/>
<path d="M346.8,217.9L350.4,217.1L351.4,210.7L347.8,211.5Z" fill="#3060a6"/>
<path d="M400.5,162.2L404.2,160.9L405.0,165.1L401.2,166.4Z" fill="#63878e"/>
<path d="M363.6,130.6L367.2,130.6L368.1,131.5L364.4,131.5Z" fill="#a2855f"/>
<path d="M342.9,160.6L346.5,160.6L347.5,156.8L343.9,156.7Z" fill="#7ba099"/>
<path d="M419.8,183.8L423.6,181.6L424.3,186.9L420.5,189.2Z" fill="#467199"/>
<path d="M410.2,172.6L414.0,170.9L414.6,175.7L410.9,177.4Z" fill="#567e95"/>
<path d="M380.3,141.9L383.4,141.5L384.1,141.7L384.8,144.1L381.1,144.6Z" fill="#81876a"/>
<path d="M356.5,129.1L360.1,129.3L361.0,129.2L357.4,129.1Z" fill="#b28a62"/>
<path d="M383.4,141.5L380.3,141.9L379.8,140.4Z" fill="#888563"/>
<path d="M344.4,188.8L348.1,188.5L349.0,183.2L345.4,183.5Z" fill="#5586af"/>
<path d="M343.7,173.7L347.3,173.6L348.3,169.0L344.6,169.1Z" fill="#6b99aa"/>
<path d="M395.3,155.4L399.0,154.4L399.8,158.2L396.0,159.2Z" fill="#6b8b84"/>
<path d="M343.9,156.7L347.5,156.8L348.4,153.2L344.8,153.1Z" fill="#829f91"/>
<path d="M362.7,129.9L366.4,129.8L367.2,130.6L363.6,130.6Z" fill="#a8855e"/>
<path d="M355.6,129.4L359.3,129.6L360.1,129.3L356.5,129.1Z" fill="#b68c63"/>
<path d="M346.1,199.8L349.7,199.2L350.7,193.5L347.1,194.0Z" fill="#4779ad"/>
<path d="M405.0,165.1L408.7,163.6L409.5,168.0L405.7,169.5Z" fill="#618791"/>
<path d="M390.0,149.4L393.8,148.6L394.5,151.9L390.8,152.8Z" fill="#758977"/>
<path d="M344.8,153.1L348.4,153.2L349.3,149.8L345.7,149.7Z" fill="#899e88"/>
<path d="M414.6,175.7L418.4,173.7L419.1,178.7L415.3,180.6Z" fill="#537c96"/>
<path d="M347.8,211.5L351.4,210.7L352.4,204.5L348.8,205.2Z" fill="#396aaa"/>
<path d="M354.8,130.0L358.4,130.1L359.3,129.6L355.6,129.4Z" fill="#b88e64"/>
<path d="M384.8,144.1L388.5,143.4L389.3,146.3L385.6,147.0Z" fill="#7f876c"/>
<path d="M344.6,169.1L348.3,169.0L349.2,164.6L345.6,164.8Z" fill="#729ca4"/>
<path d="M349.5,223.8L353.1,222.8L354.1,216.1L350.4,217.1Z" fill="#2c5aa0"/>
<path d="M345.4,183.5L349.0,183.2L350.0,178.1L346.4,178.4Z" fill="#5e8dad"/>
<path d="M345.7,149.7L349.3,149.8L350.3,146.7L346.6,146.6Z" fill="#909c7f"/>
<path d="M361.9,129.4L365.5,129.4L366.4,129.8L362.7,129.9Z" fill="#ad855e"/>
<path d="M353.9,130.8L357.5,130.9L358.4,130.1L354.8,130.0Z" fill="#b88f65"/>
<path d="M399.8,158.2L403.5,156.9L404.2,160.9L400.5,162.2Z" fill="#698a87"/>
<path d="M346.6,146.6L350.3,146.7L351.2,143.8L347.6,143.7Z" fill="#969b78"/>
<path d="M353.0,131.9L356.6,132.0L357.5,130.9L353.9,130.8Z" fill="#b89166"/>
<path d="M345.6,164.8L349.2,164.6L350.2,160.5L346.5,160.6Z" fill="#799f9d"/>
<path d="M347.6,143.7L351.2,143.8L352.1,141.2L348.5,141.1Z" fill="#9c9972"/>
<path d="M347.1,194.0L350.7,193.5L351.7,188.0L348.1,188.5Z" fill="#5081b0"/>
<path d="M352.1,133.2L355.7,133.4L356.6,132.0L353.0,131.9Z" fill="#b69268"/>
<path d="M409.5,168.0L413.2,166.3L414.0,170.9L410.2,172.6Z" fill="#5e8593"/>
<path d="M361.0,129.2L364.7,129.2L365.5,129.4L361.9,129.4Z" fill="#b2865e"/>
<path d="M348.5,141.1L352.1,141.2L353.0,138.9L349.4,138.8Z" fill="#a3976f"/>
<path d="M351.2,134.8L354.8,134.9L355.7,133.4L352.1,133.2Z" fill="#b39369"/>
<path d="M394.5,151.9L398.3,150.9L399.0,154.4L395.3,155.4Z" fill="#738a7a"/>
<path d="M419.1,178.7L423.0,176.6L423.6,181.6L419.8,183.8Z" fill="#507997"/>
<path d="M349.4,138.8L353.0,138.9L353.9,136.8L350.3,136.7Z" fill="#a9966d"/>
<path d="M346.4,178.4L350.0,178.1L350.9,173.3L347.3,173.6Z" fill="#6795ab"/>
<path d="M350.3,136.7L353.9,136.8L354.8,134.9L351.2,134.8Z" fill="#ae956b"/>
<path d="M388.4,143.1L388.5,143.4L384.8,144.1L384.1,141.7Z" fill="#858564"/>
<path d="M348.8,205.2L352.4,204.5L353.4,198.5L349.7,199.2Z" fill="#4274ac"/>
<path d="M389.3,146.3L393.0,145.5L393.8,148.6L390.0,149.4Z" fill="#7d876e"/>
<path d="M346.5,160.6L350.2,160.5L351.1,156.7L347.5,156.8Z" fill="#7fa195"/>
<path d="M350.4,217.1L354.1,216.1L355.1,209.7L351.4,210.7Z" fill="#3465a8"/>
<path d="M352.1,229.6L355.8,228.4L356.8,221.6L353.1,222.8Z" fill="#28539b"/>
<path d="M360.1,129.3L363.8,129.3L364.7,129.2L361.0,129.2Z" fill="#b6885e"/>
<path d="M404.2,160.9L408.0,159.5L408.7,163.6L405.0,165.1Z" fill="#678989"/>
<path d="M348.1,188.5L351.7,188.0L352.7,182.7L349.0,183.2Z" fill="#5989ae"/>
<path d="M347.3,173.6L350.9,173.3L351.9,168.7L348.3,169.0Z" fill="#6f9ba8"/>
<path d="M347.5,156.8L351.1,156.7L352.0,153.1L348.4,153.2Z" fill="#869e8b"/>
<path d="M414.0,170.9L417.8,169.0L418.4,173.7L414.6,175.7Z" fill="#5c8394"/>
<path d="M359.3,129.6L362.9,129.6L363.8,129.3L360.1,129.3Z" fill="#ba895f"/>
<path d="M399.0,154.4L402.8,153.2L403.5,156.9L399.8,158.2Z" fill="#718a7e"/>
<path d="M389.0,143.3L388.5,143.4L388.4,143.1Z" fill="#8c8361"/>
<path d="M348.4,153.2L352.0,153.1L353.0,149.7L349.3,149.8Z" fill="#8d9d82"/>
<path d="M349.7,199.2L353.4,198.5L354.4,192.8L350.7,193.5Z" fill="#4b7daf"/>
<path d="M358.4,130.1L362.0,130.1L362.9,129.6L359.3,129.6Z" fill="#bc8b61"/>
<path d="M388.5,143.4L389.0,143.3L392.7,144.5L393.0,145.5L389.3,146.3Z" fill="#848665"/>
<path d="M393.8,148.6L397.5,147.6L398.3,150.9L394.5,151.9Z" fill="#7b8871"/>
<path d="M348.3,169.0L351.9,168.7L352.8,164.4L349.2,164.6Z" fill="#769ea0"/>
<path d="M349.3,149.8L353.0,149.7L353.9,146.6L350.3,146.7Z" fill="#949b7a"/>
<path d="M408.7,163.6L412.5,162.0L413.2,166.3L409.5,168.0Z" fill="#65888b"/>
<path d="M351.4,210.7L355.1,209.7L356.1,203.6L352.4,204.5Z" fill="#3d6fab"/>
<path d="M349.0,183.2L352.7,182.7L353.6,177.6L350.0,178.1Z" fill="#6291ac"/>
<path d="M357.5,130.9L361.2,130.9L362.0,130.1L358.4,130.1Z" fill="#bd8c62"/>
<path d="M353.1,222.8L356.8,221.6L357.8,215.0L354.1,216.1Z" fill="#2f5fa5"/>
<path d="M350.3,146.7L353.9,146.6L354.8,143.8L351.2,143.8Z" fill="#9a9a73"/>
<path d="M418.4,173.7L422.3,171.7L423.0,176.6L419.1,178.7Z" fill="#598195"/>
<path d="M356.6,132.0L360.3,132.0L361.2,130.9L357.5,130.9Z" fill="#bc8d63"/>
<path d="M351.2,143.8L354.8,143.8L355.7,141.2L352.1,141.2Z" fill="#a19770"/>
<path d="M349.2,164.6L352.8,164.4L353.8,160.3L350.2,160.5Z" fill="#7ca099"/>
<path d="M355.7,133.4L359.4,133.3L360.3,132.0L356.6,132.0Z" fill="#ba8f64"/>
<path d="M403.5,156.9L407.3,155.6L408.0,159.5L404.2,160.9Z" fill="#6e8b81"/>
<path d="M352.1,141.2L355.7,141.2L356.6,138.8L353.0,138.9Z" fill="#a8956d"/>
<path d="M354.8,134.9L358.5,134.9L359.4,133.3L355.7,133.4Z" fill="#b79066"/>
<path d="M350.7,193.5L354.4,192.8L355.3,187.3L351.7,188.0Z" fill="#5485b0"/>
<path d="M353.0,138.9L356.6,138.8L357.6,136.8L353.9,136.8Z" fill="#ae946a"/>
<path d="M353.9,136.8L357.6,136.8L358.5,134.9L354.8,134.9Z" fill="#b39268"/>
<path d="M350.0,178.1L353.6,177.6L354.6,172.8L350.9,173.3Z" fill="#6b99aa"/>
<path d="M398.3,150.9L402.0,149.7L402.8,153.2L399.0,154.4Z" fill="#788873"/>
<path d="M350.2,160.5L353.8,160.3L354.7,156.5L351.1,156.7Z" fill="#839f90"/>
<path d="M413.2,166.3L417.1,164.5L417.8,169.0L414.0,170.9Z" fill="#64888e"/>
<path d="M394.6,145.1L393.0,145.5L392.7,144.5Z" fill="#8a8361"/>
<path d="M352.4,204.5L356.1,203.6L357.1,197.6L353.4,198.5Z" fill="#4778ae"/>
<path d="M393.0,145.5L394.6,145.1L397.1,145.9L397.5,147.6L393.8,148.6Z" fill="#828667"/>
<path d="M354.1,216.1L357.8,215.0L358.8,208.6L355.1,209.7Z" fill="#396aaa"/>
<path d="M353.9,146.6L354.5,146.6L354.0,146.3Z" fill="#9f9870"/>
<path d="M351.1,156.7L354.7,156.5L355.7,152.9L352.0,153.1Z" fill="#8a9d86"/>
<path d="M355.8,228.4L359.4,227.0L360.4,220.2L356.8,221.6Z" fill="#2c59a1"/>
<path d="M350.9,173.3L354.6,172.8L355.5,168.3L351.9,168.7Z" fill="#739da4"/>
<path d="M351.7,188.0L355.3,187.3L356.3,182.1L352.7,182.7Z" fill="#5e8eae"/>
<path d="M408.0,159.5L411.8,157.9L412.5,162.0L408.7,163.6Z" fill="#6c8b84"/>
<path d="M352.0,153.1L355.7,152.9L356.6,149.5L353.0,149.7Z" fill="#919c7d"/>
<path d="M417.8,169.0L421.6,167.0L422.3,171.7L418.4,173.7Z" fill="#628790"/>
<path d="M402.8,153.2L406.5,151.9L407.3,155.6L403.5,156.9Z" fill="#768976"/>
<path d="M353.0,149.7L356.6,149.5L357.0,148.3L354.5,146.6L353.9,146.6Z" fill="#989a75"/>
<path d="M353.4,198.5L357.1,197.6L358.0,191.9L354.4,192.8Z" fill="#5081b0"/>
<path d="M351.9,168.7L355.5,168.3L356.5,164.0L352.8,164.4Z" fill="#799f9c"/>
<path d="M352.7,182.7L356.3,182.1L357.3,177.0L353.6,177.6Z" fill="#6795ab"/>
<path d="M397.5,147.6L400.1,146.8L401.4,147.3L402.0,149.7L398.3,150.9Z" fill="#808669"/>
<path d="M355.1,209.7L358.8,208.6L359.7,202.5L356.1,203.6Z" fill="#4274ad"/>
<path d="M400.1,146.8L397.5,147.6L397.1,145.9Z" fill="#888462"/>
<path d="M412.5,162.0L416.3,160.3L417.1,164.5L413.2,166.3Z" fill="#6a8b86"/>
<path d="M356.8,221.6L360.4,220.2L361.4,213.7L357.8,215.0Z" fill="#3465a9"/>
<path d="M352.8,164.4L356.5,164.0L357.4,159.9L353.8,160.3Z" fill="#80a094"/>
<path d="M354.4,192.8L358.0,191.9L359.0,186.5L355.3,187.3Z" fill="#598aaf"/>
<path d="M407.3,155.6L411.1,154.0L411.8,157.9L408.0,159.5Z" fill="#748979"/>
<path d="M353.6,177.6L357.3,177.0L358.3,172.3L354.6,172.8Z" fill="#709ca8"/>
<path d="M353.8,160.3L357.4,159.9L358.4,156.1L354.7,156.5Z" fill="#889e8a"/>
<path d="M356.1,203.6L359.7,202.5L360.7,196.6L357.1,197.6Z" fill="#4b7daf"/>
<path d="M356.6,149.5L358.5,149.4L357.0,148.3Z" fill="#9e9871"/>
<path d="M417.1,164.5L420.9,162.6L421.6,167.0L417.8,169.0Z" fill="#698a88"/>
<path d="M354.7,156.5L358.4,156.1L359.3,152.5L355.7,152.9Z" fill="#8f9c80"/>
<path d="M402.0,149.7L405.5,148.5L405.8,148.6L406.5,151.9L402.8,153.2Z" fill="#7e866b"/>
<path d="M354.6,172.8L358.3,172.3L359.2,167.7L355.5,168.3Z" fill="#769ea0"/>
<path d="M357.8,215.0L361.4,213.7L362.4,207.4L358.8,208.6Z" fill="#3e6fac"/>
<path d="M355.3,187.3L359.0,186.5L360.0,181.3L356.3,182.1Z" fill="#6392ad"/>
<path d="M405.5,148.5L402.0,149.7L401.4,147.3Z" fill="#868462"/>
<path d="M359.4,227.0L363.1,225.4L364.1,218.7L360.4,220.2Z" fill="#3060a6"/>
<path d="M355.7,152.9L359.3,152.5L359.9,150.4L358.5,149.4L356.6,149.5Z" fill="#969a77"/>
<path d="M411.8,157.9L415.6,156.2L416.3,160.3L412.5,162.0Z" fill="#728a7b"/>
<path d="M355.5,168.3L359.2,167.7L360.2,163.4L356.5,164.0Z" fill="#7da198"/>
<path d="M357.1,197.6L360.7,196.6L361.7,190.9L358.0,191.9Z" fill="#5586b0"/>
<path d="M406.5,151.9L410.3,150.4L411.1,154.0L407.3,155.6Z" fill="#7d876e"/>
<path d="M356.3,182.1L360.0,181.3L361.0,176.3L357.3,177.0Z" fill="#6c9aab"/>
<path d="M358.8,208.6L362.4,207.4L363.4,201.3L359.7,202.5Z" fill="#4779ae"/>
<path d="M356.5,164.0L360.2,163.4L361.1,159.4L357.4,159.9Z" fill="#859f8d"/>
<path d="M360.4,220.2L364.1,218.7L365.1,212.2L361.4,213.7Z" fill="#396bab"/>
<path d="M416.3,160.3L420.2,158.3L420.9,162.6L417.1,164.5Z" fill="#718b7e"/>
<path d="M358.0,191.9L361.7,190.9L362.7,185.5L359.0,186.5Z" fill="#5f8eae"/>
<path d="M357.3,177.0L361.0,176.3L361.9,171.5L358.3,172.3Z" fill="#749da3"/>
<path d="M357.4,159.9L361.1,159.4L362.1,155.6L358.4,156.1Z" fill="#8d9d83"/>
<path d="M410.3,150.0L410.3,150.4L406.5,151.9L405.8,148.6Z" fill="#848563"/>
<path d="M411.1,154.0L414.9,152.4L415.6,156.2L411.8,157.9Z" fill="#7b8770"/>
<path d="M359.3,152.5L362.4,152.1L359.9,150.4Z" fill="#9b9971"/>
<path d="M359.7,202.5L363.4,201.3L364.4,195.4L360.7,196.6Z" fill="#5082b1"/>
<path d="M358.3,172.3L361.9,171.5L362.9,167.0L359.2,167.7Z" fill="#7ba09b"/>
<path d="M358.4,156.1L362.1,155.6L362.9,152.5L362.4,152.1L359.3,152.5Z" fill="#949b79"/>
<path d="M359.0,186.5L362.7,185.5L363.7,180.3L360.0,181.3Z" fill="#6896ac"/>
<path d="M361.4,213.7L365.1,212.2L366.2,205.9L362.4,207.4Z" fill="#4375ad"/>
<path d="M363.1,225.4L366.8,223.6L367.9,217.0L364.1,218.7Z" fill="#3566aa"/>
<path d="M410.8,150.2L410.3,150.4L410.3,150.0Z" fill="#8d815f"/>
<path d="M359.2,167.7L362.9,167.0L363.9,162.8L360.2,163.4Z" fill="#82a092"/>
<path d="M415.6,156.2L419.5,154.3L420.2,158.3L416.3,160.3Z" fill="#798872"/>
<path d="M410.3,150.4L410.8,150.2L414.7,151.4L414.9,152.4L411.1,154.0Z" fill="#838565"/>
<path d="M360.7,196.6L364.4,195.4L365.4,189.8L361.7,190.9Z" fill="#5b8baf"/>
<path d="M360.0,181.3L363.7,180.3L364.7,175.4L361.0,176.3Z" fill="#719ca7"/>
<path d="M360.2,163.4L363.9,162.8L364.8,158.7L361.1,159.4Z" fill="#8a9e86"/>
<path d="M362.4,207.4L366.2,205.9L367.2,199.9L363.4,201.3Z" fill="#4d7eb0"/>
<path d="M361.1,159.4L364.8,158.7L365.8,155.0L362.1,155.6Z" fill="#929b7c"/>
<path d="M361.0,176.3L364.7,175.4L365.6,170.7L361.9,171.5Z" fill="#789f9e"/>
<path d="M364.1,218.7L367.9,217.0L368.9,210.5L365.1,212.2Z" fill="#3f71ac"/>
<path d="M361.7,190.9L365.4,189.8L366.4,184.4L362.7,185.5Z" fill="#6493ad"/>
<path d="M416.1,151.8L414.9,152.4L414.7,151.4Z" fill="#8b825f"/>
<path d="M414.9,152.4L416.1,151.8L419.1,152.7L419.5,154.3L415.6,156.2Z" fill="#828567"/>
<path d="M362.1,155.6L365.8,155.0L365.9,154.6L362.9,152.5Z" fill="#999972"/>
<path d="M363.4,201.3L367.2,199.9L368.1,194.1L364.4,195.4Z" fill="#5687b0"/>
<path d="M361.9,171.5L365.6,170.7L366.6,166.2L362.9,167.0Z" fill="#7fa196"/>
<path d="M362.7,185.5L366.4,184.4L367.4,179.2L363.7,180.3Z" fill="#6e9bab"/>
<path d="M365.1,212.2L368.9,210.5L369.9,204.3L366.2,205.9Z" fill="#497baf"/>
<path d="M362.9,167.0L366.6,166.2L367.6,161.9L363.9,162.8Z" fill="#889e8a"/>
<path d="M366.8,223.6L370.6,221.7L371.6,215.1L367.9,217.0Z" fill="#3b6dac"/>
<path d="M365.8,155.0L366.3,154.9L365.9,154.6Z" fill="#a0966f"/>
<path d="M364.4,195.4L368.1,194.1L369.1,188.5L365.4,189.8Z" fill="#6190ae"/>
<path d="M363.7,180.3L367.4,179.2L368.4,174.3L364.7,175.4Z" fill="#759ea2"/>
<path d="M363.9,162.8L367.6,161.9L368.5,157.9L364.8,158.7Z" fill="#909c7f"/>
<path d="M364.8,158.7L368.5,157.9L368.8,156.7L366.3,154.9L365.8,155.0Z" fill="#979a75"/>
<path d="M366.2,205.9L369.9,204.3L370.9,198.3L367.2,199.9Z" fill="#5284b2"/>
<path d="M364.7,175.4L368.4,174.3L369.3,169.6L365.6,170.7Z" fill="#7da199"/>
<path d="M365.4,189.8L369.1,188.5L370.1,183.1L366.4,184.4Z" fill="#6b98ac"/>
<path d="M367.9,217.0L371.6,215.1L372.6,208.7L368.9,210.5Z" fill="#4577ae"/>
<path d="M365.6,170.7L369.3,169.6L370.3,165.2L366.6,166.2Z" fill="#859f8e"/>
<path d="M367.2,199.9L370.9,198.3L371.9,192.6L368.1,194.1Z" fill="#5d8daf"/>
<path d="M366.4,184.4L370.1,183.1L371.1,178.0L367.4,179.2Z" fill="#739da5"/>
<path d="M368.5,157.9L370.1,157.5L368.8,156.7Z" fill="#9f976f"/>
<path d="M366.6,166.2L370.3,165.2L371.3,161.0L367.6,161.9Z" fill="#8d9d82"/>
<path d="M368.9,210.5L372.6,208.7L373.6,202.6L369.9,204.3Z" fill="#4f81b1"/>
<path d="M367.4,179.2L371.1,178.0L372.1,173.1L368.4,174.3Z" fill="#7aa09c"/>
<path d="M368.1,194.1L371.9,192.6L372.9,187.0L369.1,188.5Z" fill="#6795ad"/>
<path d="M370.6,221.7L374.3,219.6L375.4,213.1L371.6,215.1Z" fill="#4173ae"/>
<path d="M367.6,161.9L371.3,161.0L371.8,158.8L370.1,157.5L368.5,157.9Z" fill="#969a77"/>
<path d="M369.9,204.3L373.6,202.6L374.6,196.6L370.9,198.3Z" fill="#598ab0"/>
<path d="M368.4,174.3L372.1,173.1L373.1,168.5L369.3,169.6Z" fill="#82a092"/>
<path d="M369.1,188.5L372.9,187.0L373.9,181.7L370.1,183.1Z" fill="#709ca8"/>
<path d="M371.6,215.1L375.4,213.1L376.4,206.7L372.6,208.7Z" fill="#4b7db0"/>
<path d="M369.3,169.6L373.1,168.5L374.1,164.0L370.3,165.2Z" fill="#8b9d85"/>
<path d="M370.9,198.3L374.6,196.6L375.6,190.9L371.9,192.6Z" fill="#6493ae"/>
<path d="M371.3,161.0L373.8,160.2L371.8,158.8Z" fill="#9d9870"/>
<path d="M370.1,183.1L373.9,181.7L374.9,176.6L371.1,178.0Z" fill="#789f9f"/>
<path d="M370.3,165.2L374.1,164.0L374.8,160.9L373.8,160.2L371.3,161.0Z" fill="#949b79"/>
<path d="M372.6,208.7L376.4,206.7L377.4,200.6L373.6,202.6Z" fill="#5687b1"/>
<path d="M371.1,178.0L374.9,176.6L375.8,171.8L372.1,173.1Z" fill="#80a195"/>
<path d="M371.9,192.6L375.6,190.9L376.6,185.4L372.9,187.0Z" fill="#6e9bab"/>
<path d="M374.3,219.6L378.1,217.3L379.1,210.9L375.4,213.1Z" fill="#487ab0"/>
<path d="M372.1,173.1L375.8,171.8L376.8,167.1L373.1,168.5Z" fill="#899e88"/>
<path d="M373.6,202.6L377.4,200.6L378.4,194.7L374.6,196.6Z" fill="#6090af"/>
<path d="M372.9,187.0L376.6,185.4L377.6,180.1L373.9,181.7Z" fill="#769fa2"/>
<path d="M374.1,164.0L377.5,162.9L374.8,160.9Z" fill="#9b9871"/>
<path d="M375.4,213.1L379.1,210.9L380.2,204.6L376.4,206.7Z" fill="#5284b2"/>
<path d="M373.1,168.5L376.8,167.1L377.7,163.0L377.5,162.9L374.1,164.0Z" fill="#929b7c"/>
<path d="M373.9,181.7L377.6,180.1L378.6,175.1L374.9,176.6Z" fill="#7da199"/>
<path d="M374.6,196.6L378.4,194.7L379.4,189.0L375.6,190.9Z" fill="#6b99ac"/>
<path d="M376.4,206.7L380.2,204.6L381.2,198.5L377.4,200.6Z" fill="#5d8db0"/>
<path d="M374.9,176.6L378.6,175.1L379.6,170.3L375.8,171.8Z" fill="#879f8c"/>
<path d="M375.6,190.9L379.4,189.0L380.4,183.6L376.6,185.4Z" fill="#749ea5"/>
<path d="M375.8,171.8L379.6,170.3L380.6,165.7L376.8,167.1Z" fill="#909c7f"/>
<path d="M377.4,200.6L381.2,198.5L382.2,192.7L378.4,194.7Z" fill="#6896ad"/>
<path d="M376.6,185.4L380.4,183.6L381.4,178.4L377.6,180.1Z" fill="#7ca19b"/>
<path d="M376.8,167.1L380.6,165.7L380.7,165.2L377.7,163.0Z" fill="#999972"/>
<path d="M377.6,180.1L381.4,178.4L382.4,173.4L378.6,175.1Z" fill="#85a08f"/>
<path d="M378.4,194.7L382.2,192.7L383.2,187.0L379.4,189.0Z" fill="#729da8"/>
<path d="M380.6,165.7L381.1,165.5L380.7,165.2Z" fill="#a2956d"/>
<path d="M378.6,175.1L382.4,173.4L383.4,168.6L379.6,170.3Z" fill="#8e9c81"/>
<path d="M379.4,189.0L383.2,187.0L384.2,181.6L380.4,183.6Z" fill="#7aa09e"/>
<path d="M379.6,170.3L383.4,168.6L383.7,167.4L381.1,165.5L380.6,165.7Z" fill="#979975"/>
<path d="M380.4,183.6L384.2,181.6L385.2,176.5L381.4,178.4Z" fill="#82a192"/>
<path d="M381.4,178.4L385.2,176.5L386.2,171.5L382.4,173.4Z" fill="#8c9d84"/>
<path d="M383.4,168.6L384.6,168.0L383.7,167.4Z" fill="#a1966e"/>
<path d="M382.4,173.4L386.2,171.5L386.6,169.5L384.6,168.0L383.4,168.6Z" fill="#969a77"/>
<path d="M206.1,131.0L208.8,135.6L211.5,140.2L214.2,144.6L216.9,148.9L219.7,153.1L222.4,157.2L225.1,161.2L227.9,165.1L230.6,168.8L233.3,172.5L236.1,176.1L238.8,179.5L241.5,182.9L244.3,186.1L247.0,189.3L249.8,192.3L252.5,195.2L255.3,198.0L258.1,200.8L260.9,203.4L263.6,205.9L266.4,208.3L269.2,210.5L272.0,212.7L274.8,214.8L277.6,216.8L280.4,218.6L283.2,220.4L286.0,222.0L288.9,223.5L291.7,225.0L294.6,226.3L297.4,227.5L300.3,228.6L303.1,229.6L306.0,230.5L308.9,231.2L311.8,231.9L314.7,232.4L317.6,232.9L320.5,233.2L323.4,233.4L326.4,233.5L329.3,233.5L332.3,233.4L335.3,233.1L338.2,232.8L341.2,232.3L344.2,231.7L347.3,231.0L350.3,230.2L353.3,229.2L356.4,228.2L359.4,227.0L362.5,225.7L365.6,224.3L368.7,222.7L371.8,221.0L375.0,219.3L378.1,217.3M206.9,124.9L209.6,129.4L212.3,133.9L215.0,138.3L217.8,142.5L220.5,146.7L223.2,150.7L225.9,154.7L228.7,158.5L231.4,162.2L234.2,165.9L236.9,169.4L239.6,172.8L242.4,176.1L245.1,179.3L247.9,182.4L250.6,185.4L253.4,188.3L256.2,191.1L258.9,193.8L261.7,196.4L264.5,198.9L267.3,201.2L270.1,203.5L272.9,205.7L275.7,207.7L278.5,209.7L281.3,211.5L284.1,213.3L286.9,214.9L289.8,216.4L292.6,217.8L295.5,219.1L298.3,220.3L301.2,221.4L304.1,222.4L306.9,223.3L309.8,224.1L312.7,224.8L315.6,225.3L318.5,225.8L321.5,226.1L324.4,226.3L327.3,226.4L330.3,226.4L333.3,226.3L336.2,226.1L339.2,225.8L342.2,225.3L345.2,224.8L348.2,224.1L351.3,223.3L354.3,222.4L357.4,221.4L360.4,220.2L363.5,218.9L366.6,217.6L369.7,216.1L372.8,214.5L376.0,212.7L379.1,210.9M207.7,118.9L210.4,123.5L213.1,127.9L215.9,132.2L218.6,136.4L221.3,140.5L224.0,144.5L226.8,148.4L229.5,152.2L232.2,155.8L235.0,159.4L237.7,162.9L240.5,166.3L243.2,169.6L246.0,172.7L248.7,175.8L251.5,178.8L254.3,181.7L257.0,184.4L259.8,187.1L262.6,189.6L265.4,192.1L268.2,194.4L271.0,196.7L273.8,198.8L276.6,200.9L279.4,202.8L282.2,204.6L285.0,206.4L287.8,208.0L290.7,209.5L293.5,210.9L296.4,212.2L299.2,213.4L302.1,214.5L305.0,215.5L307.9,216.4L310.8,217.2L313.7,217.9L316.6,218.4L319.5,218.9L322.4,219.2L325.4,219.5L328.3,219.6L331.3,219.6L334.2,219.5L337.2,219.3L340.2,219.0L343.2,218.6L346.2,218.1L349.2,217.4L352.3,216.6L355.3,215.8L358.4,214.8L361.4,213.7L364.5,212.4L367.6,211.1L370.7,209.7L373.9,208.1L377.0,206.4L380.2,204.6M208.5,113.2L211.2,117.7L213.9,122.0L216.7,126.3L219.4,130.4L222.1,134.5L224.9,138.4L227.6,142.3L230.3,146.0L233.1,149.7L235.8,153.2L238.6,156.7L241.3,160.0L244.1,163.3L246.8,166.4L249.6,169.4L252.4,172.4L255.1,175.2L257.9,177.9L260.7,180.6L263.5,183.1L266.2,185.5L269.0,187.9L271.8,190.1L274.6,192.2L277.4,194.3L280.3,196.2L283.1,198.0L285.9,199.7L288.7,201.3L291.6,202.9L294.4,204.3L297.3,205.6L300.2,206.8L303.0,207.9L305.9,208.9L308.8,209.7L311.7,210.5L314.6,211.2L317.5,211.8L320.4,212.2L323.4,212.6L326.3,212.9L329.3,213.0L332.2,213.0L335.2,213.0L338.2,212.8L341.2,212.5L344.2,212.1L347.2,211.6L350.2,211.0L353.3,210.2L356.3,209.4L359.4,208.4L362.4,207.4L365.5,206.2L368.6,204.9L371.7,203.5L374.9,201.9L378.0,200.3L381.2,198.5M209.3,107.7L212.0,112.1L214.8,116.4L217.5,120.6L220.2,124.7L223.0,128.7L225.7,132.6L228.4,136.4L231.2,140.1L233.9,143.7L236.7,147.2L239.4,150.6L242.2,154.0L244.9,157.2L247.7,160.3L250.4,163.3L253.2,166.2L256.0,169.0L258.8,171.7L261.5,174.3L264.3,176.8L267.1,179.2L269.9,181.6L272.7,183.8L275.5,185.9L278.3,187.9L281.2,189.8L284.0,191.6L286.8,193.3L289.7,194.9L292.5,196.4L295.3,197.8L298.2,199.1L301.1,200.3L304.0,201.4L306.8,202.4L309.7,203.3L312.6,204.1L315.5,204.8L318.5,205.4L321.4,205.8L324.3,206.2L327.3,206.5L330.2,206.6L333.2,206.7L336.2,206.6L339.1,206.5L342.1,206.2L345.1,205.8L348.2,205.4L351.2,204.8L354.2,204.1L357.3,203.2L360.4,202.3L363.4,201.3L366.5,200.1L369.6,198.9L372.8,197.5L375.9,196.0L379.0,194.4L382.2,192.7M210.1,102.4L212.9,106.7L215.6,111.0L218.3,115.1L221.1,119.2L223.8,123.2L226.5,127.0L229.3,130.8L232.0,134.5L234.8,138.0L237.5,141.5L240.3,144.9L243.0,148.1L245.8,151.3L248.5,154.4L251.3,157.4L254.1,160.2L256.8,163.0L259.6,165.7L262.4,168.3L265.2,170.8L268.0,173.2L270.8,175.5L273.6,177.7L276.4,179.8L279.2,181.8L282.0,183.7L284.9,185.5L287.7,187.2L290.6,188.8L293.4,190.3L296.3,191.7L299.1,193.0L302.0,194.2L304.9,195.2L307.8,196.2L310.7,197.1L313.6,197.9L316.5,198.6L319.4,199.2L322.3,199.7L325.3,200.1L328.2,200.4L331.2,200.5L334.1,200.6L337.1,200.6L340.1,200.4L343.1,200.2L346.1,199.8L349.1,199.4L352.2,198.8L355.2,198.1L358.3,197.3L361.4,196.4L364.4,195.4L367.5,194.3L370.6,193.1L373.8,191.7L376.9,190.3L380.0,188.7L383.2,187.0M211.0,97.3L213.7,101.6L216.4,105.8L219.2,109.9L221.9,113.9L224.6,117.8L227.4,121.6L230.1,125.4L232.9,129.0L235.6,132.5L238.4,136.0L241.1,139.3L243.9,142.5L246.6,145.7L249.4,148.7L252.2,151.7L254.9,154.5L257.7,157.3L260.5,160.0L263.3,162.5L266.1,165.0L268.9,167.4L271.7,169.6L274.5,171.8L277.3,173.9L280.1,175.9L282.9,177.8L285.8,179.6L288.6,181.2L291.5,182.8L294.3,184.3L297.2,185.7L300.0,187.0L302.9,188.2L305.8,189.3L308.7,190.3L311.6,191.2L314.5,192.0L317.4,192.7L320.3,193.3L323.3,193.8L326.2,194.2L329.2,194.5L332.1,194.6L335.1,194.7L338.1,194.7L341.1,194.6L344.1,194.4L347.1,194.0L350.1,193.6L353.2,193.0L356.2,192.4L359.3,191.6L362.3,190.8L365.4,189.8L368.5,188.7L371.6,187.5L374.8,186.2L377.9,184.8L381.0,183.3L384.2,181.6M211.8,92.4L214.5,96.7L217.3,100.8L220.0,104.9L222.7,108.8L225.5,112.7L228.2,116.5L231.0,120.2L233.7,123.8L236.4,127.3L239.2,130.7L242.0,134.0L244.7,137.2L247.5,140.3L250.2,143.3L253.0,146.2L255.8,149.1L258.6,151.8L261.4,154.4L264.2,157.0L266.9,159.4L269.7,161.8L272.6,164.0L275.4,166.2L278.2,168.3L281.0,170.2L283.8,172.1L286.7,173.9L289.5,175.6L292.4,177.2L295.2,178.6L298.1,180.0L301.0,181.3L303.8,182.5L306.7,183.6L309.6,184.6L312.5,185.5L315.4,186.3L318.3,187.0L321.3,187.6L324.2,188.1L327.2,188.5L330.1,188.8L333.1,189.0L336.0,189.1L339.0,189.1L342.0,189.0L345.0,188.8L348.1,188.5L351.1,188.1L354.1,187.5L357.2,186.9L360.2,186.2L363.3,185.3L366.4,184.4L369.5,183.4L372.6,182.2L375.8,180.9L378.9,179.5L382.1,178.1L385.2,176.5M212.6,87.7L215.4,91.9L218.1,96.1L220.8,100.1L223.6,104.0L226.3,107.8L229.0,111.6L231.8,115.2L234.5,118.8L237.3,122.2L240.1,125.6L242.8,128.9L245.6,132.1L248.3,135.1L251.1,138.1L253.9,141.0L256.7,143.8L259.4,146.5L262.2,149.2L265.0,151.7L267.8,154.1L270.6,156.4L273.4,158.7L276.3,160.8L279.1,162.9L281.9,164.8L284.7,166.7L287.6,168.5L290.4,170.1L293.3,171.7L296.1,173.2L299.0,174.6L301.9,175.9L304.7,177.1L307.6,178.2L310.5,179.2L313.4,180.1L316.4,180.9L319.3,181.6L322.2,182.2L325.1,182.7L328.1,183.1L331.1,183.4L334.0,183.6L337.0,183.7L340.0,183.7L343.0,183.7L346.0,183.5L349.0,183.2L352.1,182.8L355.1,182.3L358.2,181.7L361.2,181.0L364.3,180.2L367.4,179.2L370.5,178.2L373.6,177.1L376.7,175.9L379.9,174.5L383.0,173.1L386.2,171.5M213.5,83.3L216.2,87.4L218.9,91.5L221.7,95.5L224.4,99.4L227.1,103.2L229.9,106.9L232.6,110.5L235.4,114.0L238.1,117.4L240.9,120.8L243.7,124.0L246.4,127.2L249.2,130.2L252.0,133.2L254.7,136.1L257.5,138.8L260.3,141.5L263.1,144.1L265.9,146.6L268.7,149.0L271.5,151.4L274.3,153.6L277.1,155.7L280.0,157.7L282.8,159.7L285.6,161.5L288.5,163.3L291.3,165.0L294.2,166.5L297.0,168.0L299.9,169.4L302.8,170.7L305.7,171.9L308.6,173.0L311.5,174.0L314.4,174.9L317.3,175.7L320.2,176.4L323.1,177.0L326.1,177.5L329.0,177.9L332.0,178.3L335.0,178.5L338.0,178.6L340.9,178.6L343.9,178.6L347.0,178.4L350.0,178.1L353.0,177.7L356.1,177.3L359.1,176.7L362.2,176.0L365.3,175.2L368.4,174.3L371.5,173.3L374.6,172.2L377.7,171.0L380.9,169.7L384.0,168.3L387.2,166.8M214.3,79.0L217.0,83.1L219.8,87.2L222.5,91.1L225.2,95.0L228.0,98.7L230.7,102.4L233.5,106.0L236.2,109.5L239.0,112.9L241.8,116.2L244.5,119.4L247.3,122.5L250.1,125.5L252.8,128.5L255.6,131.3L258.4,134.1L261.2,136.8L264.0,139.3L266.8,141.8L269.6,144.2L272.4,146.5L275.2,148.7L278.0,150.8L280.8,152.9L283.7,154.8L286.5,156.6L289.4,158.4L292.2,160.0L295.1,161.6L297.9,163.1L300.8,164.5L303.7,165.7L306.6,166.9L309.5,168.0L312.4,169.0L315.3,169.9L318.2,170.7L321.1,171.5L324.1,172.1L327.0,172.6L330.0,173.0L332.9,173.4L335.9,173.6L338.9,173.7L341.9,173.8L344.9,173.7L347.9,173.5L350.9,173.3L354.0,172.9L357.0,172.5L360.1,171.9L363.2,171.3L366.2,170.5L369.3,169.6L372.5,168.7L375.6,167.6L378.7,166.4L381.9,165.1L385.0,163.8L388.2,162.3M215.1,75.0L217.9,79.1L220.6,83.1L223.4,87.0L226.1,90.8L228.8,94.5L231.6,98.2L234.3,101.7L237.1,105.2L239.9,108.5L242.6,111.8L245.4,115.0L248.2,118.1L250.9,121.1L253.7,124.0L256.5,126.8L259.3,129.6L262.1,132.2L264.9,134.8L267.7,137.2L270.5,139.6L273.3,141.9L276.1,144.1L278.9,146.2L281.7,148.2L284.6,150.1L287.4,152.0L290.3,153.7L293.1,155.4L296.0,156.9L298.8,158.4L301.7,159.8L304.6,161.0L307.5,162.2L310.4,163.3L313.3,164.3L316.2,165.2L319.1,166.0L322.1,166.8L325.0,167.4L327.9,167.9L330.9,168.4L333.9,168.7L336.9,168.9L339.8,169.1L342.8,169.1L345.8,169.1L348.9,169.0L351.9,168.7L354.9,168.4L358.0,167.9L361.1,167.4L364.1,166.8L367.2,166.0L370.3,165.2L373.4,164.2L376.6,163.2L379.7,162.1L382.8,160.8L386.0,159.5L389.2,158.0M216.0,71.2L218.7,75.2L221.5,79.2L224.2,83.1L226.9,86.8L229.7,90.5L232.4,94.1L235.2,97.7L238.0,101.1L240.7,104.4L243.5,107.7L246.2,110.8L249.0,113.9L251.8,116.9L254.6,119.8L257.4,122.6L260.1,125.3L262.9,127.9L265.7,130.5L268.5,132.9L271.3,135.3L274.2,137.6L277.0,139.7L279.8,141.8L282.6,143.8L285.5,145.7L288.3,147.6L291.2,149.3L294.0,150.9L296.9,152.5L299.7,154.0L302.6,155.3L305.5,156.6L308.4,157.8L311.3,158.9L314.2,159.9L317.1,160.8L320.1,161.6L323.0,162.3L325.9,163.0L328.9,163.5L331.8,163.9L334.8,164.3L337.8,164.5L340.8,164.7L343.8,164.8L346.8,164.7L349.8,164.6L352.8,164.4L355.9,164.1L358.9,163.6L362.0,163.1L365.1,162.5L368.2,161.8L371.3,161.0L374.4,160.1L377.5,159.0L380.7,157.9L383.8,156.7L387.0,155.4L390.2,153.9M216.8,67.6L219.6,71.6L222.3,75.5L225.1,79.4L227.8,83.1L230.5,86.8L233.3,90.4L236.1,93.8L238.8,97.2L241.6,100.6L244.3,103.8L247.1,106.9L249.9,110.0L252.7,112.9L255.4,115.8L258.2,118.6L261.0,121.3L263.8,123.9L266.6,126.4L269.4,128.9L272.2,131.2L275.0,133.5L277.9,135.6L280.7,137.7L283.5,139.7L286.4,141.6L289.2,143.4L292.1,145.1L294.9,146.8L297.8,148.3L300.6,149.8L303.5,151.1L306.4,152.4L309.3,153.6L312.2,154.7L315.1,155.7L318.0,156.6L321.0,157.4L323.9,158.2L326.9,158.8L329.8,159.3L332.8,159.8L335.7,160.1L338.7,160.4L341.7,160.6L344.7,160.6L347.7,160.6L350.8,160.5L353.8,160.3L356.8,160.0L359.9,159.6L363.0,159.1L366.0,158.5L369.1,157.8L372.2,157.0L375.4,156.1L378.5,155.1L381.6,154.0L384.8,152.8L388.0,151.5L391.1,150.1M217.7,64.2L220.4,68.2L223.2,72.1L225.9,75.9L228.7,79.6L231.4,83.3L234.2,86.8L236.9,90.3L239.7,93.6L242.4,96.9L245.2,100.1L248.0,103.2L250.7,106.3L253.5,109.2L256.3,112.1L259.1,114.8L261.9,117.5L264.7,120.1L267.5,122.6L270.3,125.0L273.1,127.4L275.9,129.6L278.7,131.8L281.6,133.8L284.4,135.8L287.2,137.7L290.1,139.5L292.9,141.2L295.8,142.9L298.7,144.4L301.5,145.8L304.4,147.2L307.3,148.5L310.2,149.7L313.1,150.8L316.0,151.8L319.0,152.7L321.9,153.5L324.8,154.2L327.8,154.9L330.7,155.4L333.7,155.9L336.7,156.2L339.7,156.5L342.7,156.7L345.7,156.8L348.7,156.8L351.7,156.7L354.7,156.5L357.8,156.2L360.8,155.8L363.9,155.3L367.0,154.7L370.1,154.0L373.2,153.3L376.3,152.4L379.4,151.4L382.6,150.4L385.8,149.2L388.9,147.9L392.1,146.5M218.5,61.1L221.3,65.0L224.0,68.9L226.8,72.7L229.5,76.3L232.3,80.0L235.0,83.5L237.8,86.9L240.5,90.3L243.3,93.5L246.1,96.7L248.8,99.8L251.6,102.8L254.4,105.7L257.2,108.6L260.0,111.3L262.8,114.0L265.6,116.6L268.4,119.0L271.2,121.5L274.0,123.8L276.8,126.0L279.6,128.1L282.5,130.2L285.3,132.2L288.1,134.1L291.0,135.9L293.8,137.6L296.7,139.2L299.6,140.7L302.4,142.2L305.3,143.5L308.2,144.8L311.1,146.0L314.0,147.1L316.9,148.1L319.9,149.0L322.8,149.8L325.7,150.6L328.7,151.2L331.7,151.8L334.6,152.2L337.6,152.6L340.6,152.9L343.6,153.1L346.6,153.2L349.6,153.2L352.6,153.1L355.7,152.9L358.7,152.6L361.8,152.2L364.9,151.8L367.9,151.2L371.0,150.5L374.1,149.8L377.3,148.9L380.4,148.0L383.6,146.9L386.7,145.8L389.9,144.5L393.1,143.2M219.4,58.1L222.1,62.0L224.9,65.9L227.6,69.6L230.4,73.3L233.1,76.9L235.9,80.4L238.6,83.8L241.4,87.1L244.2,90.4L246.9,93.5L249.7,96.6L252.5,99.6L255.3,102.5L258.0,105.3L260.8,108.0L263.6,110.7L266.4,113.3L269.2,115.7L272.0,118.1L274.9,120.4L277.7,122.7L280.5,124.8L283.3,126.8L286.2,128.8L289.0,130.7L291.9,132.5L294.7,134.2L297.6,135.8L300.5,137.3L303.3,138.8L306.2,140.1L309.1,141.4L312.0,142.6L314.9,143.7L317.9,144.7L320.8,145.6L323.7,146.4L326.7,147.1L329.6,147.8L332.6,148.4L335.5,148.8L338.5,149.2L341.5,149.5L344.5,149.7L347.5,149.8L350.5,149.8L353.6,149.7L356.6,149.5L359.7,149.3L362.7,148.9L365.8,148.5L368.9,147.9L372.0,147.3L375.1,146.5L378.2,145.7L381.4,144.8L384.5,143.7L387.7,142.6L390.8,141.4L394.0,140.0M220.2,55.4L223.0,59.3L225.7,63.1L228.5,66.8L231.2,70.5L234.0,74.0L236.7,77.5L239.5,80.9L242.3,84.2L245.0,87.4L247.8,90.6L250.6,93.6L253.3,96.6L256.1,99.5L258.9,102.3L261.7,105.0L264.5,107.7L267.3,110.2L270.1,112.7L272.9,115.1L275.7,117.4L278.6,119.6L281.4,121.7L284.2,123.7L287.1,125.7L289.9,127.6L292.8,129.3L295.6,131.0L298.5,132.6L301.4,134.2L304.2,135.6L307.1,137.0L310.0,138.2L312.9,139.4L315.8,140.5L318.8,141.5L321.7,142.4L324.6,143.2L327.6,144.0L330.5,144.6L333.5,145.2L336.5,145.7L339.4,146.1L342.4,146.4L345.4,146.6L348.4,146.7L351.5,146.7L354.5,146.6L357.5,146.5L360.6,146.2L363.7,145.8L366.7,145.4L369.8,144.9L372.9,144.2L376.0,143.5L379.2,142.7L382.3,141.8L385.5,140.8L388.6,139.7L391.8,138.5L395.0,137.2M221.1,52.9L223.8,56.8L226.6,60.6L229.3,64.3L232.1,67.9L234.8,71.4L237.6,74.9L240.4,78.3L243.1,81.6L245.9,84.8L248.7,87.9L251.4,90.9L254.2,93.9L257.0,96.8L259.8,99.5L262.6,102.3L265.4,104.9L268.2,107.4L271.0,109.9L273.8,112.2L276.6,114.5L279.4,116.7L282.3,118.8L285.1,120.9L288.0,122.8L290.8,124.7L293.7,126.5L296.5,128.1L299.4,129.8L302.3,131.3L305.1,132.7L308.0,134.1L310.9,135.3L313.8,136.5L316.7,137.6L319.7,138.6L322.6,139.5L325.5,140.3L328.5,141.1L331.4,141.7L334.4,142.3L337.4,142.8L340.4,143.2L343.3,143.5L346.4,143.7L349.4,143.8L352.4,143.8L355.4,143.8L358.5,143.6L361.5,143.4L364.6,143.0L367.7,142.6L370.8,142.1L373.9,141.5L377.0,140.8L380.1,139.9L383.2,139.0L386.4,138.1L389.6,137.0L392.7,135.8L395.9,134.5M222.0,50.6L224.7,54.5L227.4,58.2L230.2,61.9L232.9,65.5L235.7,69.1L238.5,72.5L241.2,75.9L244.0,79.1L246.8,82.3L249.5,85.4L252.3,88.5L255.1,91.4L257.9,94.3L260.7,97.0L263.5,99.7L266.3,102.3L269.1,104.9L271.9,107.3L274.7,109.7L277.5,111.9L280.3,114.1L283.2,116.2L286.0,118.3L288.8,120.2L291.7,122.1L294.5,123.8L297.4,125.5L300.3,127.1L303.2,128.6L306.0,130.1L308.9,131.4L311.8,132.7L314.7,133.9L317.6,135.0L320.6,136.0L323.5,136.9L326.4,137.7L329.4,138.4L332.3,139.1L335.3,139.7L338.3,140.2L341.3,140.5L344.3,140.9L347.3,141.1L350.3,141.2L353.3,141.2L356.3,141.2L359.4,141.0L362.4,140.8L365.5,140.5L368.6,140.0L371.7,139.5L374.8,138.9L377.9,138.2L381.0,137.4L384.2,136.6L387.3,135.6L390.5,134.5L393.7,133.3L396.9,132.1M222.8,48.6L225.6,52.4L228.3,56.2L231.1,59.8L233.8,63.4L236.6,66.9L239.3,70.3L242.1,73.7L244.9,76.9L247.6,80.1L250.4,83.2L253.2,86.2L256.0,89.2L258.7,92.0L261.5,94.8L264.3,97.4L267.1,100.0L269.9,102.6L272.7,105.0L275.6,107.3L278.4,109.6L281.2,111.8L284.0,113.9L286.9,115.9L289.7,117.9L292.6,119.7L295.4,121.5L298.3,123.2L301.2,124.8L304.0,126.3L306.9,127.7L309.8,129.0L312.7,130.3L315.6,131.5L318.5,132.6L321.5,133.6L324.4,134.5L327.3,135.3L330.3,136.1L333.2,136.7L336.2,137.3L339.2,137.8L342.2,138.2L345.2,138.5L348.2,138.7L351.2,138.8L354.2,138.9L357.3,138.8L360.3,138.7L363.4,138.5L366.4,138.1L369.5,137.7L372.6,137.2L375.7,136.6L378.8,136.0L382.0,135.2L385.1,134.3L388.3,133.3L391.4,132.3L394.6,131.1L397.8,129.9M223.7,46.7L226.4,50.6L229.2,54.3L231.9,57.9L234.7,61.5L237.4,65.0L240.2,68.4L243.0,71.7L245.7,75.0L248.5,78.2L251.3,81.2L254.0,84.2L256.8,87.2L259.6,90.0L262.4,92.7L265.2,95.4L268.0,98.0L270.8,100.5L273.6,102.9L276.4,105.3L279.3,107.5L282.1,109.7L284.9,111.8L287.8,113.8L290.6,115.8L293.5,117.6L296.3,119.4L299.2,121.0L302.1,122.6L304.9,124.2L307.8,125.6L310.7,126.9L313.6,128.2L316.5,129.4L319.4,130.4L322.4,131.4L325.3,132.4L328.2,133.2L331.2,133.9L334.1,134.6L337.1,135.2L340.1,135.7L343.1,136.1L346.1,136.4L349.1,136.6L352.1,136.7L355.1,136.8L358.2,136.7L361.2,136.6L364.3,136.4L367.3,136.1L370.4,135.7L373.5,135.2L376.6,134.6L379.7,133.9L382.9,133.1L386.0,132.3L389.2,131.3L392.3,130.3L395.5,129.1L398.7,127.9M224.6,45.1L227.3,48.9L230.0,52.7L232.8,56.3L235.5,59.9L238.3,63.3L241.1,66.7L243.8,70.0L246.6,73.3L249.4,76.4L252.1,79.5L254.9,82.5L257.7,85.4L260.5,88.2L263.3,91.0L266.1,93.6L268.9,96.2L271.7,98.7L274.5,101.1L277.3,103.5L280.1,105.7L283.0,107.9L285.8,110.0L288.6,112.0L291.5,113.9L294.3,115.8L297.2,117.5L300.1,119.2L302.9,120.8L305.8,122.3L308.7,123.7L311.6,125.1L314.5,126.3L317.4,127.5L320.3,128.6L323.3,129.6L326.2,130.5L329.1,131.3L332.1,132.1L335.0,132.7L338.0,133.3L341.0,133.8L344.0,134.2L347.0,134.5L350.0,134.8L353.0,134.9L356.0,134.9L359.1,134.9L362.1,134.8L365.2,134.6L368.3,134.3L371.3,133.9L374.4,133.4L377.5,132.8L380.7,132.1L383.8,131.4L386.9,130.5L390.1,129.6L393.3,128.5L396.4,127.4L399.6,126.2M225.4,43.7L228.2,47.5L230.9,51.2L233.7,54.9L236.4,58.4L239.2,61.9L241.9,65.3L244.7,68.6L247.5,71.8L250.2,74.9L253.0,78.0L255.8,81.0L258.6,83.9L261.4,86.7L264.2,89.4L267.0,92.1L269.8,94.7L272.6,97.2L275.4,99.6L278.2,101.9L281.0,104.2L283.8,106.3L286.7,108.4L289.5,110.4L292.4,112.3L295.2,114.2L298.1,115.9L300.9,117.6L303.8,119.2L306.7,120.7L309.6,122.1L312.5,123.5L315.4,124.7L318.3,125.9L321.2,127.0L324.1,128.0L327.1,128.9L330.0,129.7L333.0,130.5L335.9,131.1L338.9,131.7L341.9,132.2L344.9,132.6L347.9,132.9L350.9,133.2L353.9,133.3L356.9,133.4L360.0,133.3L363.0,133.2L366.1,133.0L369.2,132.7L372.2,132.3L375.3,131.8L378.5,131.3L381.6,130.6L384.7,129.8L387.8,129.0L391.0,128.0L394.2,127.0L397.4,125.9L400.6,124.7M206.1,131.0L207.8,118.4L209.5,106.7L211.2,95.9L212.9,86.0L214.7,77.1L216.5,69.1L218.2,62.1L220.0,56.0L221.8,50.9L223.6,46.8L225.5,43.7M209.3,136.6L211.0,123.8L212.7,111.9L214.5,101.0L216.2,91.0L218.0,82.0L219.8,73.9L221.5,66.8L223.3,60.7L225.1,55.6L226.9,51.4L228.8,48.2M212.6,142.0L214.3,129.0L216.0,117.0L217.8,106.0L219.5,95.9L221.3,86.8L223.0,78.6L224.8,71.4L226.6,65.3L228.4,60.1L230.2,55.8L232.1,52.6M215.9,147.2L217.6,134.1L219.3,122.0L221.0,110.9L222.8,100.7L224.6,91.4L226.3,83.2L228.1,75.9L229.9,69.7L231.7,64.4L233.5,60.2L235.4,56.9M219.1,152.3L220.8,139.1L222.6,126.8L224.3,115.6L226.1,105.3L227.8,96.0L229.6,87.6L231.4,80.3L233.2,74.0L235.0,68.7L236.8,64.4L238.7,61.1M222.4,157.2L224.1,143.9L225.9,131.5L227.6,120.2L229.4,109.8L231.1,100.4L232.9,91.9L234.7,84.6L236.5,78.2L238.3,72.8L240.2,68.5L242.0,65.2M225.7,162.0L227.4,148.5L229.1,136.1L230.9,124.6L232.7,114.1L234.4,104.6L236.2,96.1L238.0,88.7L239.8,82.2L241.7,76.8L243.5,72.5L245.3,69.2M228.9,166.6L230.7,153.0L232.4,140.5L234.2,128.9L236.0,118.3L237.8,108.7L239.5,100.2L241.3,92.7L243.2,86.2L245.0,80.8L246.8,76.4L248.6,73.0M232.2,171.1L234.0,157.4L235.7,144.7L237.5,133.1L239.3,122.4L241.1,112.8L242.9,104.1L244.7,96.6L246.5,90.0L248.3,84.5L250.1,80.1L251.9,76.7M235.5,175.4L237.3,161.6L239.0,148.9L240.8,137.1L242.6,126.3L244.4,116.6L246.2,107.9L248.0,100.3L249.8,93.7L251.6,88.2L253.5,83.7L255.3,80.3M238.8,179.5L240.6,165.7L242.3,152.8L244.1,141.0L245.9,130.2L247.7,120.4L249.5,111.6L251.3,103.9L253.1,97.3L255.0,91.7L256.8,87.2L258.6,83.8M242.1,183.5L243.9,169.6L245.6,156.7L247.4,144.7L249.2,133.8L251.0,124.0L252.8,115.2L254.7,107.4L256.5,100.8L258.3,95.2L260.1,90.6L262.0,87.2M245.4,187.4L247.2,173.4L248.9,160.3L250.7,148.3L252.5,137.4L254.4,127.5L256.2,118.6L258.0,110.8L259.8,104.1L261.7,98.5L263.5,93.9L265.3,90.5M248.7,191.1L250.5,177.0L252.3,163.9L254.1,151.8L255.9,140.8L257.7,130.8L259.5,121.9L261.3,114.1L263.2,107.3L265.0,101.6L266.8,97.1L268.7,93.6M252.0,194.7L253.8,180.5L255.6,167.3L257.4,155.2L259.2,144.1L261.0,134.0L262.9,125.1L264.7,117.2L266.5,110.4L268.4,104.7L270.2,100.1L272.0,96.6M255.3,198.0L257.1,183.8L258.9,170.6L260.7,158.4L262.6,147.2L264.4,137.1L266.2,128.1L268.1,120.2L269.9,113.4L271.7,107.7L273.6,103.0L275.4,99.5M258.6,201.3L260.4,187.0L262.3,173.7L264.1,161.4L265.9,150.2L267.8,140.1L269.6,131.0L271.4,123.1L273.3,116.2L275.1,110.5L277.0,105.8L278.8,102.3M262.0,204.4L263.8,190.0L265.6,176.6L267.4,164.3L269.3,153.1L271.1,142.9L273.0,133.8L274.8,125.8L276.7,119.0L278.5,113.2L280.3,108.5L282.2,105.0M265.3,207.3L267.1,192.9L269.0,179.5L270.8,167.1L272.6,155.8L274.5,145.6L276.3,136.5L278.2,128.5L280.1,121.6L281.9,115.8L283.7,111.1L285.6,107.5M268.6,210.1L270.5,195.6L272.3,182.2L274.2,169.8L276.0,158.4L277.9,148.2L279.7,139.0L281.6,131.0L283.4,124.0L285.3,118.2L287.2,113.5L289.0,110.0M272.0,212.7L273.8,198.2L275.7,184.7L277.5,172.3L279.4,160.9L281.3,150.6L283.1,141.4L285.0,133.4L286.9,126.4L288.7,120.6L290.6,115.8L292.4,112.3M275.3,215.2L277.2,200.6L279.1,187.1L280.9,174.6L282.8,163.2L284.7,152.9L286.5,143.7L288.4,135.6L290.3,128.6L292.1,122.8L294.0,118.1L295.8,114.5M278.7,217.5L280.6,202.9L282.5,189.3L284.3,176.8L286.2,165.4L288.1,155.1L290.0,145.9L291.8,137.7L293.7,130.7L295.6,124.9L297.4,120.1L299.3,116.5M282.1,219.7L284.0,205.0L285.9,191.5L287.7,178.9L289.6,167.5L291.5,157.1L293.4,147.9L295.3,139.7L297.1,132.7L299.0,126.9L300.9,122.1L302.7,118.5M285.5,221.7L287.4,207.0L289.3,193.4L291.1,180.9L293.0,169.4L294.9,159.0L296.8,149.8L298.7,141.6L300.6,134.6L302.4,128.7L304.3,123.9L306.2,120.3M288.9,223.5L290.8,208.9L292.7,195.2L294.6,182.7L296.5,171.2L298.4,160.8L300.3,151.5L302.2,143.4L304.0,136.3L305.9,130.4L307.8,125.7L309.6,122.1M292.3,225.2L294.2,210.5L296.1,196.9L298.0,184.3L299.9,172.8L301.8,162.4L303.7,153.2L305.6,145.0L307.5,137.9L309.4,132.0L311.2,127.3L313.1,123.7M295.7,226.8L297.6,212.1L299.5,198.4L301.4,185.8L303.4,174.4L305.3,164.0L307.2,154.7L309.1,146.5L311.0,139.4L312.9,133.5L314.7,128.8L316.6,125.1M299.1,228.2L301.0,213.5L303.0,199.8L304.9,187.2L306.8,175.7L308.7,165.3L310.7,156.0L312.6,147.8L314.5,140.8L316.4,134.9L318.2,130.1L320.1,126.5M302.6,229.4L304.5,214.7L306.4,201.0L308.4,188.5L310.3,177.0L312.2,166.6L314.1,157.3L316.1,149.1L318.0,142.0L319.9,136.1L321.7,131.3L323.6,127.7M306.0,230.5L308.0,215.8L309.9,202.1L311.8,189.5L313.8,178.1L315.7,167.7L317.7,158.4L319.6,150.2L321.5,143.1L323.4,137.2L325.3,132.5L327.1,128.8M309.5,231.4L311.4,216.7L313.4,203.1L315.3,190.5L317.3,179.0L319.2,168.6L321.2,159.3L323.1,151.2L325.0,144.1L326.9,138.2L328.8,133.4L330.7,129.8M312.9,232.1L314.9,217.5L316.9,203.8L318.8,191.3L320.8,179.8L322.7,169.4L324.7,160.2L326.6,152.0L328.5,145.0L330.4,139.1L332.3,134.3L334.2,130.7M316.4,232.7L318.4,218.1L320.4,204.5L322.4,191.9L324.3,180.5L326.3,170.1L328.2,160.9L330.2,152.7L332.1,145.7L334.0,139.8L335.9,135.1L337.8,131.4M319.9,233.1L321.9,218.5L323.9,205.0L325.9,192.5L327.9,181.0L329.8,170.7L331.8,161.4L333.7,153.3L335.6,146.3L337.6,140.4L339.5,135.7L341.3,132.1M323.4,233.4L325.4,218.8L327.4,205.3L329.4,192.8L331.4,181.4L333.4,171.1L335.3,161.9L337.3,153.8L339.2,146.8L341.1,140.9L343.0,136.2L344.9,132.5M327.0,233.5L329.0,219.0L331.0,205.5L333.0,193.0L335.0,181.7L337.0,171.4L338.9,162.2L340.9,154.1L342.8,147.1L344.7,141.3L346.6,136.5L348.5,132.9M330.5,233.4L332.5,219.0L334.6,205.5L336.6,193.1L338.6,181.8L340.5,171.5L342.5,162.3L344.5,154.3L346.4,147.3L348.3,141.5L350.2,136.8L352.1,133.2M334.1,233.2L336.1,218.8L338.1,205.4L340.1,193.0L342.2,181.7L344.1,171.5L346.1,162.4L348.1,154.3L350.0,147.4L352.0,141.6L353.9,136.9L355.8,133.3M337.6,232.8L339.7,218.5L341.7,205.1L343.7,192.8L345.8,181.5L347.8,171.4L349.7,162.3L351.7,154.3L353.7,147.3L355.6,141.5L357.5,136.9L359.4,133.3M341.2,232.3L343.3,218.0L345.3,204.7L347.4,192.4L349.4,181.2L351.4,171.1L353.4,162.0L355.4,154.0L357.3,147.2L359.3,141.4L361.2,136.7L363.1,133.1M344.8,231.6L346.9,217.3L349.0,204.1L351.0,191.9L353.0,180.7L355.0,170.6L357.0,161.6L359.0,153.7L361.0,146.8L362.9,141.1L364.8,136.4L366.7,132.9M348.5,230.7L350.5,216.5L352.6,203.3L354.7,191.2L356.7,180.1L358.7,170.1L360.7,161.1L362.7,153.2L364.7,146.4L366.6,140.7L368.5,136.0L370.4,132.5M352.1,229.6L354.2,215.5L356.3,202.4L358.3,190.4L360.4,179.3L362.4,169.4L364.4,160.4L366.4,152.6L368.4,145.8L370.3,140.1L372.2,135.5L374.1,132.0M355.8,228.4L357.9,214.4L359.9,201.4L362.0,189.4L364.1,178.4L366.1,168.5L368.1,159.6L370.1,151.8L372.1,145.1L374.0,139.4L376.0,134.8L377.9,131.3M359.4,227.0L361.5,213.1L363.6,200.1L365.7,188.2L367.8,177.3L369.8,167.5L371.8,158.7L373.8,150.9L375.8,144.2L377.8,138.6L379.7,134.0L381.6,130.5M363.1,225.4L365.2,211.6L367.3,198.8L369.4,186.9L371.5,176.1L373.5,166.3L375.6,157.6L377.6,149.9L379.6,143.2L381.5,137.6L383.5,133.1L385.4,129.6M366.8,223.6L369.0,209.9L371.1,197.2L373.2,185.5L375.2,174.7L377.3,165.0L379.3,156.3L381.3,148.7L383.3,142.1L385.3,136.5L387.2,132.0L389.2,128.6M370.6,221.7L372.7,208.1L374.8,195.5L376.9,183.9L379.0,173.2L381.1,163.6L383.1,154.9L385.1,147.4L387.1,140.8L389.1,135.3L391.0,130.8L393.0,127.4M374.3,219.6L376.5,206.1L378.6,193.6L380.7,182.1L382.8,171.5L384.9,162.0L386.9,153.4L388.9,145.9L390.9,139.4L392.9,133.9L394.8,129.5L396.8,126.1M378.1,217.3L380.3,204.0L382.4,191.6L384.5,180.1L386.6,169.7L388.7,160.2L390.7,151.7L392.8,144.3L394.8,137.8L396.7,132.4L398.7,128.0L400.6,124.6" fill="none" stroke="#ffffff" stroke-width="0.5" stroke-opacity="0.16" stroke-dasharray="1 1.2"/>
<polygon points="185.7,98.4 271.4,59.1 445.5,139.1 359.1,183.7" fill="#d62728" fill-opacity="0.47"/>
</g><g shape-rendering="crispEdges">
<path d="M244.7,69.0L246.9,72.4L245.2,71.1Z" fill="#ac7e39"/>
<path d="M243.8,65.5L247.1,70.4L247.7,72.9L246.9,72.4L244.7,69.0Z" fill="#b3712d"/>
<path d="M247.1,70.4L249.9,74.6L247.7,72.9Z" fill="#b17e36"/>
<path d="M242.9,62.3L246.2,67.2L247.1,70.4L243.8,65.5Z" fill="#b05f26"/>
<path d="M246.2,67.2L249.5,71.9L250.3,74.8L249.9,74.6L247.1,70.4Z" fill="#b36f2c"/>
<path d="M242.1,59.3L245.3,64.1L246.2,67.2L242.9,62.3Z" fill="#aa5222"/>
<path d="M249.5,71.9L252.8,76.5L252.8,76.7L250.3,74.8Z" fill="#b67f32"/>
<path d="M245.3,64.1L248.6,68.8L249.5,71.9L246.2,67.2Z" fill="#b05e26"/>
<path d="M241.2,56.5L244.5,61.3L245.3,64.1L242.1,59.3Z" fill="#a34820"/>
<path d="M252.8,76.5L253.0,76.8L252.8,76.7Z" fill="#a38043"/>
<path d="M248.6,68.8L251.9,73.3L252.8,76.5L249.5,71.9Z" fill="#b46d2b"/>
<path d="M244.5,61.3L247.8,65.9L248.6,68.8L245.3,64.1Z" fill="#aa5222"/>
<path d="M240.3,54.0L243.6,58.7L244.5,61.3L241.2,56.5Z" fill="#9d3e1d"/>
<path d="M251.9,73.3L255.2,77.8L255.4,78.5L253.0,76.8L252.8,76.5Z" fill="#b77c31"/>
<path d="M247.8,65.9L251.0,70.5L251.9,73.3L248.6,68.8Z" fill="#b15d25"/>
<path d="M243.6,58.7L246.9,63.3L247.8,65.9L244.5,61.3Z" fill="#a44820"/>
<path d="M239.4,51.6L242.7,56.3L243.6,58.7L240.3,54.0Z" fill="#91351a"/>
<path d="M255.2,77.8L256.2,79.1L255.4,78.5Z" fill="#a9803f"/>
<path d="M251.0,70.5L254.3,74.8L255.2,77.8L251.9,73.3Z" fill="#b46c2b"/>
<path d="M246.9,63.3L250.2,67.8L251.0,70.5L247.8,65.9Z" fill="#ab5322"/>
<path d="M242.7,56.3L246.0,60.9L246.9,63.3L243.6,58.7Z" fill="#9e3f1e"/>
<path d="M238.6,49.5L241.8,54.1L242.7,56.3L239.4,51.6Z" fill="#852d17"/>
<path d="M254.3,74.8L257.6,79.1L258.0,80.4L256.2,79.1L255.2,77.8Z" fill="#b77a30"/>
<path d="M250.2,67.8L253.5,72.1L254.3,74.8L251.0,70.5Z" fill="#b15c25"/>
<path d="M246.0,60.9L249.3,65.3L250.2,67.8L246.9,63.3Z" fill="#a54920"/>
<path d="M241.8,54.1L245.1,58.7L246.0,60.9L242.7,56.3Z" fill="#94371b"/>
<path d="M237.7,47.6L241.0,52.2L241.8,54.1L238.6,49.5Z" fill="#7b2514"/>
<path d="M257.6,79.1L259.5,81.5L258.0,80.4Z" fill="#af813b"/>
<path d="M253.5,72.1L256.8,76.4L257.6,79.1L254.3,74.8Z" fill="#b56a2a"/>
<path d="M249.3,65.3L252.6,69.7L253.5,72.1L250.2,67.8Z" fill="#ac5323"/>
<path d="M245.1,58.7L248.4,63.1L249.3,65.3L246.0,60.9Z" fill="#a0401e"/>
<path d="M241.0,52.2L244.3,56.7L245.1,58.7L241.8,54.1Z" fill="#892f18"/>
<path d="M236.8,45.9L240.1,50.5L241.0,52.2L237.7,47.6Z" fill="#702012"/>
<path d="M256.8,76.4L260.1,80.5L260.6,82.3L259.5,81.5L257.6,79.1Z" fill="#b7772f"/>
<path d="M252.6,69.7L255.9,73.9L256.8,76.4L253.5,72.1Z" fill="#b25c25"/>
<path d="M248.4,63.1L251.7,67.4L252.6,69.7L249.3,65.3Z" fill="#a64a20"/>
<path d="M235.9,44.4L239.2,49.0L240.1,50.5L236.8,45.9Z" fill="#641d10"/>
<path d="M244.3,56.7L247.5,61.1L248.4,63.1L245.1,58.7Z" fill="#97381b"/>
<path d="M240.1,50.5L243.4,55.0L244.3,56.7L241.0,52.2Z" fill="#7f2815"/>
<path d="M235.0,43.1L238.3,47.7L239.2,49.0L235.9,44.4Z" fill="#591b0f"/>
<path d="M260.1,80.5L262.9,83.9L260.6,82.3Z" fill="#b58137"/>
<path d="M255.9,73.9L259.2,77.9L260.1,80.5L256.8,76.4Z" fill="#b5692a"/>
<path d="M239.2,49.0L242.5,53.4L243.4,55.0L240.1,50.5Z" fill="#772213"/>
<path d="M251.7,67.4L255.0,71.6L255.9,73.9L252.6,69.7Z" fill="#ac5323"/>
<path d="M243.4,55.0L246.7,59.3L247.5,61.1L244.3,56.7Z" fill="#8d3219"/>
<path d="M247.5,61.1L250.8,65.4L251.7,67.4L248.4,63.1Z" fill="#a1421e"/>
<path d="M234.2,42.0L237.5,46.6L238.3,47.7L235.0,43.1Z" fill="#4f190e"/>
<path d="M238.3,47.7L241.6,52.1L242.5,53.4L239.2,49.0Z" fill="#6c1f12"/>
<path d="M242.5,53.4L245.8,57.8L246.7,59.3L243.4,55.0Z" fill="#842b17"/>
<path d="M259.2,77.9L262.5,81.9L263.3,84.1L262.9,83.9L260.1,80.5Z" fill="#b8752e"/>
<path d="M246.7,59.3L250.0,63.6L250.8,65.4L247.5,61.1Z" fill="#9a3a1c"/>
<path d="M255.0,71.6L258.3,75.6L259.2,77.9L255.9,73.9Z" fill="#b25c25"/>
<path d="M250.8,65.4L254.1,69.5L255.0,71.6L251.7,67.4Z" fill="#a84b21"/>
<path d="M215.7,86.7L213.5,83.3L213.0,85.9Z" fill="#cb9543"/>
<path d="M233.3,41.2L236.6,45.8L237.5,46.6L234.2,42.0Z" fill="#47170d"/>
<path d="M237.5,46.6L240.8,51.0L241.6,52.1L238.3,47.7Z" fill="#631d10"/>
<path d="M241.6,52.1L244.9,56.5L245.8,57.8L242.5,53.4Z" fill="#7c2615"/>
<path d="M245.8,57.8L249.1,62.0L250.0,63.6L246.7,59.3Z" fill="#91341a"/>
<path d="M213.5,83.3L215.7,86.7L217.0,87.1L217.6,84.0L214.3,79.0Z" fill="#d38535"/>
<path d="M250.0,63.6L253.3,67.7L254.1,69.5L250.8,65.4Z" fill="#a3431f"/>
<path d="M232.4,40.6L235.7,45.1L236.6,45.8L233.3,41.2Z" fill="#40160c"/>
<path d="M254.1,69.5L257.5,73.6L258.3,75.6L255.0,71.6Z" fill="#ad5423"/>
<path d="M258.3,75.6L261.6,79.6L262.5,81.9L259.2,77.9Z" fill="#b66729"/>
<path d="M236.6,45.8L239.9,50.2L240.8,51.0L237.5,46.6Z" fill="#5b1b0f"/>
<path d="M262.5,81.9L265.8,85.7L265.9,86.0L263.3,84.1Z" fill="#bb8133"/>
<path d="M240.8,51.0L244.0,55.4L244.9,56.5L241.6,52.1Z" fill="#762113"/>
<path d="M214.3,79.0L217.6,84.0L218.4,79.9L215.1,75.0Z" fill="#cf702d"/>
<path d="M231.5,40.2L234.8,44.7L235.7,45.1L232.4,40.6Z" fill="#3b150b"/>
<path d="M244.9,56.5L248.2,60.7L249.1,62.0L245.8,57.8Z" fill="#892f18"/>
<path d="M220.4,88.2L217.6,84.0L217.0,87.1Z" fill="#d1953f"/>
<path d="M249.1,62.0L252.4,66.1L253.3,67.7L250.0,63.6Z" fill="#9e3d1d"/>
<path d="M235.7,45.1L239.0,49.6L239.9,50.2L236.6,45.8Z" fill="#541a0e"/>
<path d="M253.3,67.7L256.6,71.7L257.5,73.6L254.1,69.5Z" fill="#a94c21"/>
<path d="M257.5,73.6L260.8,77.5L261.6,79.6L258.3,75.6Z" fill="#b35c25"/>
<path d="M215.1,75.0L218.4,79.9L219.3,76.0L216.0,71.2Z" fill="#c76128"/>
<path d="M230.7,40.1L234.0,44.6L234.8,44.7L231.5,40.2Z" fill="#37140b"/>
<path d="M261.6,79.6L264.9,83.4L265.8,85.7L262.5,81.9Z" fill="#b9732e"/>
<path d="M265.8,85.7L266.4,86.3L265.9,86.0Z" fill="#ad8340"/>
<path d="M239.9,50.2L243.2,54.5L244.0,55.4L240.8,51.0Z" fill="#6d1f12"/>
<path d="M217.6,84.0L220.4,88.2L221.0,88.3L221.7,84.6L218.4,79.9Z" fill="#d38334"/>
<path d="M244.0,55.4L247.4,59.6L248.2,60.7L244.9,56.5Z" fill="#832a16"/>
<path d="M234.8,44.7L238.1,49.2L239.0,49.6L235.7,45.1Z" fill="#4f190e"/>
<path d="M216.0,71.2L219.3,76.0L220.1,72.4L216.8,67.6Z" fill="#bf5425"/>
<path d="M229.8,40.1L233.1,44.6L234.0,44.6L230.7,40.1Z" fill="#35140a"/>
<path d="M248.2,60.7L251.5,64.8L252.4,66.1L249.1,62.0Z" fill="#96371b"/>
<path d="M239.0,49.6L242.3,53.9L243.2,54.5L239.9,50.2Z" fill="#671e11"/>
<path d="M252.4,66.1L255.7,70.1L256.6,71.7L253.3,67.7Z" fill="#a5451f"/>
<path d="M218.4,79.9L221.7,84.6L222.6,80.7L219.3,76.0Z" fill="#cf6e2c"/>
<path d="M216.8,67.6L220.1,72.4L221.0,69.0L217.7,64.2Z" fill="#b74822"/>
<path d="M228.9,40.4L232.2,44.9L233.1,44.6L229.8,40.1Z" fill="#34130a"/>
<path d="M256.6,71.7L259.9,75.6L260.8,77.5L257.5,73.6Z" fill="#af5423"/>
<path d="M234.0,44.6L237.2,49.0L238.1,49.2L234.8,44.7Z" fill="#4b180d"/>
<path d="M260.8,77.5L264.1,81.3L264.9,83.4L261.6,79.6Z" fill="#b76729"/>
<path d="M243.2,54.5L246.5,58.7L247.4,59.6L244.0,55.4Z" fill="#7d2615"/>
<path d="M264.9,83.4L268.3,87.1L268.6,87.9L266.4,86.3L265.8,85.7Z" fill="#bb7f32"/>
<path d="M217.7,64.2L221.0,69.0L221.8,65.8L218.5,61.1Z" fill="#a93e1e"/>
<path d="M228.0,40.9L231.3,45.4L232.2,44.9L228.9,40.4Z" fill="#34140a"/>
<path d="M224.9,89.5L225.0,89.3L221.7,84.6L221.0,88.3Z" fill="#d6953b"/>
<path d="M219.3,76.0L222.6,80.7L223.4,77.1L220.1,72.4Z" fill="#c76128"/>
<path d="M238.1,49.2L241.4,53.4L242.3,53.9L239.0,49.6Z" fill="#611d10"/>
<path d="M247.4,59.6L250.7,63.6L251.5,64.8L248.2,60.7Z" fill="#8f3219"/>
<path d="M233.1,44.6L236.4,49.0L237.2,49.0L234.0,44.6Z" fill="#49180d"/>
<path d="M218.5,61.1L221.8,65.8L222.7,62.8L219.4,58.1Z" fill="#9b341b"/>
<path d="M227.2,41.6L230.5,46.1L231.3,45.4L228.0,40.9Z" fill="#36140b"/>
<path d="M251.5,64.8L254.8,68.7L255.7,70.1L252.4,66.1Z" fill="#a23f1e"/>
<path d="M221.7,84.6L225.0,89.3L225.8,85.3L222.6,80.7Z" fill="#d38133"/>
<path d="M242.3,53.9L245.6,58.0L246.5,58.7L243.2,54.5Z" fill="#792213"/>
<path d="M220.1,72.4L223.4,77.1L224.3,73.6L221.0,69.0Z" fill="#c05425"/>
<path d="M219.4,58.1L222.7,62.8L223.5,60.1L220.2,55.4Z" fill="#8e2b17"/>
<path d="M232.2,44.9L235.5,49.3L236.4,49.0L233.1,44.6Z" fill="#48180d"/>
<path d="M226.3,42.6L229.6,47.1L230.5,46.1L227.2,41.6Z" fill="#3a150b"/>
<path d="M255.7,70.1L259.0,74.0L259.9,75.6L256.6,71.7Z" fill="#ab4e22"/>
<path d="M237.2,49.0L240.6,53.3L241.4,53.4L238.1,49.2Z" fill="#5e1c10"/>
<path d="M225.3,89.7L225.0,89.3L224.9,89.5Z" fill="#c0974f"/>
<path d="M259.9,75.6L263.2,79.4L264.1,81.3L260.8,77.5Z" fill="#b45c25"/>
<path d="M220.2,55.4L223.5,60.1L224.4,57.5L221.1,52.9Z" fill="#812415"/>
<path d="M225.4,43.7L228.7,48.3L229.6,47.1L226.3,42.6Z" fill="#3f160c"/>
<path d="M246.5,58.7L249.8,62.7L250.7,63.6L247.4,59.6Z" fill="#8a2e18"/>
<path d="M221.0,69.0L224.3,73.6L225.1,70.4L221.8,65.8Z" fill="#b84922"/>
<path d="M264.1,81.3L267.4,84.9L268.3,87.1L264.9,83.4Z" fill="#b9722d"/>
<path d="M221.1,52.9L224.4,57.5L225.3,55.2L222.0,50.6Z" fill="#722113"/>
<path d="M224.6,45.1L227.8,49.7L228.7,48.3L225.4,43.7Z" fill="#46180d"/>
<path d="M231.3,45.4L234.6,49.8L235.5,49.3L232.2,44.9Z" fill="#49180d"/>
<path d="M222.6,80.7L225.8,85.3L226.7,81.6L223.4,77.1Z" fill="#cf6d2c"/>
<path d="M222.0,50.6L225.3,55.2L226.1,53.2L222.8,48.6Z" fill="#641e11"/>
<path d="M223.7,46.7L227.0,51.3L227.8,49.7L224.6,45.1Z" fill="#4f1a0e"/>
<path d="M222.8,48.6L226.1,53.2L227.0,51.3L223.7,46.7Z" fill="#591c0f"/>
<path d="M268.3,87.1L269.9,88.8L268.6,87.9Z" fill="#b3833b"/>
<path d="M241.4,53.4L244.7,57.6L245.6,58.0L242.3,53.9Z" fill="#742113"/>
<path d="M236.4,49.0L239.7,53.3L240.6,53.3L237.2,49.0Z" fill="#5c1c0f"/>
<path d="M250.7,63.6L254.0,67.6L254.8,68.7L251.5,64.8Z" fill="#9b3a1c"/>
<path d="M221.8,65.8L225.1,70.4L226.0,67.4L222.7,62.8Z" fill="#ab3f1f"/>
<path d="M230.5,46.1L233.8,50.5L234.6,49.8L231.3,45.4Z" fill="#4b190d"/>
<path d="M225.0,89.3L225.3,89.7L228.9,90.8L229.1,89.8L225.8,85.3Z" fill="#d7923a"/>
<path d="M223.4,77.1L226.7,81.6L227.6,78.1L224.3,73.6Z" fill="#c86028"/>
<path d="M254.8,68.7L258.2,72.6L259.0,74.0L255.7,70.1Z" fill="#a84820"/>
<path d="M222.7,62.8L226.0,67.4L226.8,64.6L223.5,60.1Z" fill="#9e361c"/>
<path d="M245.6,58.0L248.9,62.1L249.8,62.7L246.5,58.7Z" fill="#852b17"/>
<path d="M229.6,47.1L232.9,51.5L233.8,50.5L230.5,46.1Z" fill="#4f190e"/>
<path d="M235.5,49.3L238.8,53.6L239.7,53.3L236.4,49.0Z" fill="#5b1c0f"/>
<path d="M240.6,53.3L243.9,57.4L244.7,57.6L241.4,53.4Z" fill="#702012"/>
<path d="M223.5,60.1L226.8,64.6L227.7,62.1L224.4,57.5Z" fill="#922e19"/>
<path d="M259.0,74.0L262.4,77.7L263.2,79.4L259.9,75.6Z" fill="#b05524"/>
<path d="M228.7,48.3L232.0,52.7L232.9,51.5L229.6,47.1Z" fill="#541b0f"/>
<path d="M224.3,73.6L227.6,78.1L228.4,74.9L225.1,70.4Z" fill="#c05525"/>
<path d="M224.4,57.5L227.7,62.1L228.5,59.7L225.3,55.2Z" fill="#872716"/>
<path d="M227.8,49.7L231.1,54.1L232.0,52.7L228.7,48.3Z" fill="#5c1c10"/>
<path d="M225.8,85.3L229.1,89.8L230.0,86.1L226.7,81.6Z" fill="#d37e32"/>
<path d="M249.8,62.7L253.1,66.7L254.0,67.6L250.7,63.6Z" fill="#96361b"/>
<path d="M263.2,79.4L266.5,83.0L267.4,84.9L264.1,81.3Z" fill="#b86629"/>
<path d="M234.6,49.8L237.9,54.1L238.8,53.6L235.5,49.3Z" fill="#5c1c10"/>
<path d="M225.3,55.2L228.5,59.7L229.4,57.6L226.1,53.2Z" fill="#7b2314"/>
<path d="M227.0,51.3L230.3,55.8L231.1,54.1L227.8,49.7Z" fill="#641e11"/>
<path d="M226.1,53.2L229.4,57.6L230.3,55.8L227.0,51.3Z" fill="#6f2012"/>
<path d="M267.4,84.9L270.7,88.5L271.3,89.8L269.9,88.8L268.3,87.1Z" fill="#bc7d31"/>
<path d="M244.7,57.6L248.0,61.7L248.9,62.1L245.6,58.0Z" fill="#822816"/>
<path d="M239.7,53.3L243.0,57.5L243.9,57.4L240.6,53.3Z" fill="#6e2012"/>
<path d="M225.1,70.4L228.4,74.9L229.3,71.8L226.0,67.4Z" fill="#ba4b23"/>
<path d="M230.2,91.2L229.1,89.8L228.9,90.8Z" fill="#c7974a"/>
<path d="M233.8,50.5L237.1,54.8L237.9,54.1L234.6,49.8Z" fill="#5f1d10"/>
<path d="M254.0,67.6L257.3,71.5L258.2,72.6L254.8,68.7Z" fill="#a5421f"/>
<path d="M226.7,81.6L230.0,86.1L230.9,82.5L227.6,78.1Z" fill="#cf6c2b"/>
<path d="M226.0,67.4L229.3,71.8L230.1,69.0L226.8,64.6Z" fill="#ae4120"/>
<path d="M232.9,51.5L236.2,55.8L237.1,54.8L233.8,50.5Z" fill="#631e11"/>
<path d="M238.8,53.6L242.1,57.8L243.0,57.5L239.7,53.3Z" fill="#6e2012"/>
<path d="M258.2,72.6L261.5,76.3L262.4,77.7L259.0,74.0Z" fill="#ad4f22"/>
<path d="M248.9,62.1L252.2,66.0L253.1,66.7L249.8,62.7Z" fill="#91331a"/>
<path d="M226.8,64.6L230.1,69.0L231.0,66.5L227.7,62.1Z" fill="#a2391d"/>
<path d="M243.9,57.4L247.2,61.5L248.0,61.7L244.7,57.6Z" fill="#802615"/>
<path d="M232.0,52.7L235.3,57.0L236.2,55.8L232.9,51.5Z" fill="#691f11"/>
<path d="M227.6,78.1L230.9,82.5L231.7,79.2L228.4,74.9Z" fill="#c86028"/>
<path d="M227.7,62.1L231.0,66.5L231.8,64.1L228.5,59.7Z" fill="#97311a"/>
<path d="M231.1,54.1L234.4,58.4L235.3,57.0L232.0,52.7Z" fill="#702112"/>
<path d="M229.1,89.8L230.2,91.2L232.9,92.0L233.3,90.4L230.0,86.1Z" fill="#d78f38"/>
<path d="M262.4,77.7L265.7,81.4L266.5,83.0L263.2,79.4Z" fill="#b65d26"/>
<path d="M228.5,59.7L231.8,64.1L232.7,62.0L229.4,57.6Z" fill="#8d2b17"/>
<path d="M230.3,55.8L233.6,60.1L234.4,58.4L231.1,54.1Z" fill="#792314"/>
<path d="M229.4,57.6L232.7,62.0L233.6,60.1L230.3,55.8Z" fill="#842515"/>
<path d="M237.9,54.1L241.2,58.3L242.1,57.8L238.8,53.6Z" fill="#6f2012"/>
<path d="M253.1,66.7L256.4,70.5L257.3,71.5L254.0,67.6Z" fill="#a13e1e"/>
<path d="M266.5,83.0L269.9,86.6L270.7,88.5L267.4,84.9Z" fill="#ba712d"/>
<path d="M228.4,74.9L231.7,79.2L232.6,76.2L229.3,71.8Z" fill="#c15626"/>
<path d="M243.0,57.5L246.3,61.5L247.2,61.5L243.9,57.4Z" fill="#7f2515"/>
<path d="M248.0,61.7L251.4,65.6L252.2,66.0L248.9,62.1Z" fill="#8e3019"/>
<path d="M237.1,54.8L240.4,59.0L241.2,58.3L237.9,54.1Z" fill="#722113"/>
<path d="M270.7,88.5L273.5,91.3L271.3,89.8Z" fill="#b98438"/>
<path d="M230.0,86.1L233.3,90.4L234.2,86.8L230.9,82.5Z" fill="#d37c31"/>
<path d="M257.3,71.5L260.6,75.2L261.5,76.3L258.2,72.6Z" fill="#ab4a21"/>
<path d="M229.3,71.8L232.6,76.2L233.4,73.3L230.1,69.0Z" fill="#bb4c23"/>
<path d="M236.2,55.8L239.5,60.0L240.4,59.0L237.1,54.8Z" fill="#772213"/>
<path d="M242.1,57.8L245.4,61.8L246.3,61.5L243.0,57.5Z" fill="#7f2515"/>
<path d="M230.1,69.0L233.4,73.3L234.3,70.7L231.0,66.5Z" fill="#b14320"/>
<path d="M252.2,66.0L255.5,69.9L256.4,70.5L253.1,66.7Z" fill="#9d3b1d"/>
<path d="M235.3,57.0L238.6,61.2L239.5,60.0L236.2,55.8Z" fill="#7d2314"/>
<path d="M261.5,76.3L264.8,80.0L265.7,81.4L262.4,77.7Z" fill="#b35724"/>
<path d="M235.2,92.8L233.3,90.4L232.9,92.0Z" fill="#cd9745"/>
<path d="M247.2,61.5L250.5,65.4L251.4,65.6L248.0,61.7Z" fill="#8c2e18"/>
<path d="M230.9,82.5L234.2,86.8L235.0,83.5L231.7,79.2Z" fill="#cf6b2b"/>
<path d="M231.0,66.5L234.3,70.7L235.2,68.4L231.8,64.1Z" fill="#a63c1e"/>
<path d="M234.4,58.4L237.8,62.6L238.6,61.2L235.3,57.0Z" fill="#842515"/>
<path d="M231.8,64.1L235.2,68.4L236.0,66.2L232.7,62.0Z" fill="#9c351b"/>
<path d="M233.6,60.1L236.9,64.3L237.8,62.6L234.4,58.4Z" fill="#8b2a17"/>
<path d="M232.7,62.0L236.0,66.2L236.9,64.3L233.6,60.1Z" fill="#932f19"/>
<path d="M241.2,58.3L244.5,62.3L245.4,61.8L242.1,57.8Z" fill="#812515"/>
<path d="M265.7,81.4L269.0,84.9L269.9,86.6L266.5,83.0Z" fill="#b96629"/>
<path d="M231.7,79.2L235.0,83.5L235.9,80.4L232.6,76.2Z" fill="#c86028"/>
<path d="M256.4,70.5L259.7,74.3L260.6,75.2L257.3,71.5Z" fill="#a94620"/>
<path d="M246.3,61.5L249.6,65.5L250.5,65.4L247.2,61.5Z" fill="#8c2d18"/>
<path d="M240.4,59.0L243.7,63.1L244.5,62.3L241.2,58.3Z" fill="#842615"/>
<path d="M251.4,65.6L254.7,69.4L255.5,69.9L252.2,66.0Z" fill="#9a381c"/>
<path d="M269.9,86.6L273.2,90.0L274.0,91.6L273.5,91.3L270.7,88.5Z" fill="#bd7b31"/>
<path d="M233.3,90.4L235.2,92.8L236.9,93.3L237.5,90.9L234.2,86.8Z" fill="#d78c37"/>
<path d="M232.6,76.2L235.9,80.4L236.7,77.5L233.4,73.3Z" fill="#c25726"/>
<path d="M260.6,75.2L263.9,78.8L264.8,80.0L261.5,76.3Z" fill="#b05223"/>
<path d="M239.5,60.0L242.8,64.1L243.7,63.1L240.4,59.0Z" fill="#872816"/>
<path d="M233.4,73.3L236.7,77.5L237.6,74.9L234.3,70.7Z" fill="#bc4d24"/>
<path d="M245.4,61.8L248.7,65.7L249.6,65.5L246.3,61.5Z" fill="#8c2d18"/>
<path d="M238.6,61.2L241.9,65.3L242.8,64.1L239.5,60.0Z" fill="#8c2b17"/>
<path d="M234.2,86.8L237.5,90.9L238.3,87.6L235.0,83.5Z" fill="#d37a31"/>
<path d="M234.3,70.7L237.6,74.9L238.5,72.5L235.2,68.4Z" fill="#b54521"/>
<path d="M255.5,69.9L258.9,73.6L259.7,74.3L256.4,70.5Z" fill="#a8421f"/>
<path d="M250.5,65.4L253.8,69.2L254.7,69.4L251.4,65.6Z" fill="#98361b"/>
<path d="M237.8,62.6L241.1,66.7L241.9,65.3L238.6,61.2Z" fill="#922f19"/>
<path d="M235.2,68.4L238.5,72.5L239.3,70.3L236.0,66.2Z" fill="#aa3f1f"/>
<path d="M264.8,80.0L268.1,83.5L269.0,84.9L265.7,81.4Z" fill="#b85e26"/>
<path d="M236.9,64.3L240.2,68.4L241.1,66.7L237.8,62.6Z" fill="#99331a"/>
<path d="M236.0,66.2L239.3,70.3L240.2,68.4L236.9,64.3Z" fill="#a1381c"/>
<path d="M244.5,62.3L247.9,66.3L248.7,65.7L245.4,61.8Z" fill="#8e2e18"/>
<path d="M235.0,83.5L238.3,87.6L239.2,84.5L235.9,80.4Z" fill="#cf6b2b"/>
<path d="M269.0,84.9L272.4,88.3L273.2,90.0L269.9,86.6Z" fill="#bc702d"/>
<path d="M259.7,74.3L263.1,77.9L263.9,78.8L260.6,75.2Z" fill="#ae4d22"/>
<path d="M240.3,94.4L237.5,90.9L236.9,93.3Z" fill="#d49740"/>
<path d="M249.6,65.5L252.9,69.3L253.8,69.2L250.5,65.4Z" fill="#98351b"/>
<path d="M243.7,63.1L247.0,67.0L247.9,66.3L244.5,62.3Z" fill="#912f19"/>
<path d="M254.7,69.4L258.0,73.1L258.9,73.6L255.5,69.9Z" fill="#a5401e"/>
<path d="M235.9,80.4L239.2,84.5L240.0,81.6L236.7,77.5Z" fill="#c96128"/>
<path d="M242.8,64.1L246.1,68.0L247.0,67.0L243.7,63.1Z" fill="#95311a"/>
<path d="M236.7,77.5L240.0,81.6L240.9,78.9L237.6,74.9Z" fill="#c35826"/>
<path d="M263.9,78.8L267.3,82.3L268.1,83.5L264.8,80.0Z" fill="#b55925"/>
<path d="M248.7,65.7L252.1,69.6L252.9,69.3L249.6,65.5Z" fill="#99351b"/>
<path d="M273.2,90.0L276.6,93.3L276.7,93.5L274.0,91.6Z" fill="#bf8534"/>
<path d="M241.9,65.3L245.3,69.2L246.1,68.0L242.8,64.1Z" fill="#9a341b"/>
<path d="M237.6,74.9L240.9,78.9L241.8,76.5L238.5,72.5Z" fill="#bd4f24"/>
<path d="M237.5,90.9L240.3,94.4L240.9,94.6L241.6,91.6L238.3,87.6Z" fill="#d78936"/>
<path d="M241.1,66.7L244.4,70.7L245.3,69.2L241.9,65.3Z" fill="#a0381c"/>
<path d="M238.5,72.5L241.8,76.5L242.6,74.3L239.3,70.3Z" fill="#b84822"/>
<path d="M258.9,73.6L262.2,77.2L263.1,77.9L259.7,74.3Z" fill="#ad4a21"/>
<path d="M253.8,69.2L257.1,72.9L258.0,73.1L254.7,69.4Z" fill="#a43e1e"/>
<path d="M240.2,68.4L243.5,72.4L244.4,70.7L241.1,66.7Z" fill="#a73c1e"/>
<path d="M239.3,70.3L242.6,74.3L243.5,72.4L240.2,68.4Z" fill="#af4220"/>
<path d="M268.1,83.5L271.5,86.9L272.4,88.3L269.0,84.9Z" fill="#bb6729"/>
<path d="M247.9,66.3L251.2,70.1L252.1,69.6L248.7,65.7Z" fill="#9a361b"/>
<path d="M238.3,87.6L241.6,91.6L242.5,88.4L239.2,84.5Z" fill="#d47830"/>
<path d="M247.0,67.0L250.3,70.8L251.2,70.1L247.9,66.3Z" fill="#9d371c"/>
<path d="M263.1,77.9L266.4,81.3L267.3,82.3L263.9,78.8Z" fill="#b35524"/>
<path d="M252.9,69.3L256.3,73.0L257.1,72.9L253.8,69.2Z" fill="#a33d1e"/>
<path d="M272.4,88.3L275.7,91.6L276.6,93.3L273.2,90.0Z" fill="#be7a30"/>
<path d="M239.2,84.5L242.5,88.4L243.4,85.5L240.0,81.6Z" fill="#d06b2b"/>
<path d="M258.0,73.1L261.3,76.7L262.2,77.2L258.9,73.6Z" fill="#ad4721"/>
<path d="M276.6,93.3L277.2,93.9L276.7,93.5Z" fill="#b5863e"/>
<path d="M246.1,68.0L249.4,71.8L250.3,70.8L247.0,67.0Z" fill="#a23a1d"/>
<path d="M240.0,81.6L243.4,85.5L244.2,82.9L240.9,78.9Z" fill="#ca6129"/>
<path d="M245.3,69.2L248.6,73.1L249.4,71.8L246.1,68.0Z" fill="#a73d1e"/>
<path d="M252.1,69.6L255.4,73.3L256.3,73.0L252.9,69.3Z" fill="#a43d1e"/>
<path d="M240.9,78.9L244.2,82.9L245.1,80.4L241.8,76.5Z" fill="#c45927"/>
<path d="M267.3,82.3L270.6,85.7L271.5,86.9L268.1,83.5Z" fill="#ba6027"/>
<path d="M244.9,95.8L245.0,95.4L241.6,91.6L240.9,94.6Z" fill="#da973c"/>
<path d="M244.4,70.7L247.7,74.6L248.6,73.1L245.3,69.2Z" fill="#ad401f"/>
<path d="M241.8,76.5L245.1,80.4L246.0,78.2L242.6,74.3Z" fill="#bf5125"/>
<path d="M243.5,72.4L246.8,76.3L247.7,74.6L244.4,70.7Z" fill="#b44521"/>
<path d="M242.6,74.3L246.0,78.2L246.8,76.3L243.5,72.4Z" fill="#ba4b23"/>
<path d="M257.1,72.9L260.5,76.5L261.3,76.7L258.0,73.1Z" fill="#ad4520"/>
<path d="M262.2,77.2L265.5,80.7L266.4,81.3L263.1,77.9Z" fill="#b25123"/>
<path d="M251.2,70.1L254.5,73.8L255.4,73.3L252.1,69.6Z" fill="#a63e1e"/>
<path d="M241.6,91.6L245.0,95.4L245.8,92.3L242.5,88.4Z" fill="#d78635"/>
<path d="M271.5,86.9L274.8,90.1L275.7,91.6L272.4,88.3Z" fill="#bd702d"/>
<path d="M250.3,70.8L253.6,74.5L254.5,73.8L251.2,70.1Z" fill="#aa3f1f"/>
<path d="M242.5,88.4L245.8,92.3L246.7,89.3L243.4,85.5Z" fill="#d4772f"/>
<path d="M256.3,73.0L259.6,76.6L260.5,76.5L257.1,72.9Z" fill="#ae4520"/>
<path d="M266.4,81.3L269.8,84.7L270.6,85.7L267.3,82.3Z" fill="#b85b26"/>
<path d="M275.7,91.6L279.1,94.7L279.4,95.4L277.2,93.9L276.6,93.3Z" fill="#c08334"/>
<path d="M245.5,96.1L245.0,95.4L244.9,95.8Z" fill="#ca994a"/>
<path d="M261.3,76.7L264.7,80.2L265.5,80.7L262.2,77.2Z" fill="#b24f23"/>
<path d="M249.4,71.8L252.8,75.5L253.6,74.5L250.3,70.8Z" fill="#ae4220"/>
<path d="M243.4,85.5L246.7,89.3L247.6,86.7L244.2,82.9Z" fill="#d06a2b"/>
<path d="M248.6,73.1L251.9,76.8L252.8,75.5L249.4,71.8Z" fill="#b34521"/>
<path d="M244.2,82.9L247.6,86.7L248.4,84.2L245.1,80.4Z" fill="#ca6229"/>
<path d="M255.4,73.3L258.7,76.8L259.6,76.6L256.3,73.0Z" fill="#b04521"/>
<path d="M247.7,74.6L251.0,78.3L251.9,76.8L248.6,73.1Z" fill="#b94922"/>
<path d="M245.1,80.4L248.4,84.2L249.3,82.0L246.0,78.2Z" fill="#c55a27"/>
<path d="M270.6,85.7L274.0,88.9L274.8,90.1L271.5,86.9Z" fill="#bd682a"/>
<path d="M246.8,76.3L250.2,80.0L251.0,78.3L247.7,74.6Z" fill="#bc4e24"/>
<path d="M246.0,78.2L249.3,82.0L250.2,80.0L246.8,76.3Z" fill="#c15425"/>
<path d="M260.5,76.5L263.8,80.0L264.7,80.2L261.3,76.7Z" fill="#b24d22"/>
<path d="M245.0,95.4L245.5,96.1L248.8,97.1L249.1,96.0L245.8,92.3Z" fill="#da943a"/>
<path d="M265.5,80.7L268.9,84.0L269.8,84.7L266.4,81.3Z" fill="#b75825"/>
<path d="M254.5,73.8L257.9,77.4L258.7,76.8L255.4,73.3Z" fill="#b24621"/>
<path d="M274.8,90.1L278.2,93.3L279.1,94.7L275.7,91.6Z" fill="#c07930"/>
<path d="M245.8,92.3L249.1,96.0L250.0,93.0L246.7,89.3Z" fill="#d78434"/>
<path d="M253.6,74.5L257.0,78.1L257.9,77.4L254.5,73.8Z" fill="#b54722"/>
<path d="M259.6,76.6L262.9,80.0L263.8,80.0L260.5,76.5Z" fill="#b44c22"/>
<path d="M269.8,84.7L273.1,88.0L274.0,88.9L270.6,85.7Z" fill="#bd6227"/>
<path d="M246.7,89.3L250.0,93.0L250.9,90.3L247.6,86.7Z" fill="#d4762f"/>
<path d="M264.7,80.2L268.0,83.6L268.9,84.0L265.5,80.7Z" fill="#b75624"/>
<path d="M252.8,75.5L256.1,79.1L257.0,78.1L253.6,74.5Z" fill="#b84a22"/>
<path d="M279.1,94.7L281.0,96.5L279.4,95.4Z" fill="#bb873a"/>
<path d="M247.6,86.7L250.9,90.3L251.8,87.9L248.4,84.2Z" fill="#d16b2b"/>
<path d="M251.9,76.8L255.2,80.4L256.1,79.1L252.8,75.5Z" fill="#bb4d23"/>
<path d="M258.7,76.8L262.1,80.3L262.9,80.0L259.6,76.6Z" fill="#b64c23"/>
<path d="M248.4,84.2L251.8,87.9L252.6,85.6L249.3,82.0Z" fill="#cb6329"/>
<path d="M251.0,78.3L254.4,81.9L255.2,80.4L251.9,76.8Z" fill="#bf5125"/>
<path d="M250.8,97.8L249.1,96.0L248.8,97.1Z" fill="#d19945"/>
<path d="M249.3,82.0L252.6,85.6L253.5,83.6L250.2,80.0Z" fill="#c75c27"/>
<path d="M250.2,80.0L253.5,83.6L254.4,81.9L251.0,78.3Z" fill="#c35626"/>
<path d="M274.0,88.9L277.3,92.1L278.2,93.3L274.8,90.1Z" fill="#c0712d"/>
<path d="M263.8,80.0L267.2,83.3L268.0,83.6L264.7,80.2Z" fill="#b85424"/>
<path d="M268.9,84.0L272.2,87.3L273.1,88.0L269.8,84.7Z" fill="#bc5f27"/>
<path d="M257.9,77.4L261.2,80.8L262.1,80.3L258.7,76.8Z" fill="#b84d23"/>
<path d="M249.1,96.0L250.8,97.8L252.8,98.4L253.3,96.6L250.0,93.0Z" fill="#da9139"/>
<path d="M278.2,93.3L281.6,96.3L282.1,97.3L281.0,96.5L279.1,94.7Z" fill="#c28233"/>
<path d="M257.0,78.1L260.3,81.6L261.2,80.8L257.9,77.4Z" fill="#bb4f24"/>
<path d="M262.9,80.0L266.3,83.4L267.2,83.3L263.8,80.0Z" fill="#b95324"/>
<path d="M250.0,93.0L253.3,96.6L254.2,93.9L250.9,90.3Z" fill="#d78234"/>
<path d="M256.1,79.1L259.4,82.6L260.3,81.6L257.0,78.1Z" fill="#be5225"/>
<path d="M273.1,88.0L276.5,91.1L277.3,92.1L274.0,88.9Z" fill="#c06a2a"/>
<path d="M268.0,83.6L271.4,86.8L272.2,87.3L268.9,84.0Z" fill="#bc5c26"/>
<path d="M250.9,90.3L254.2,93.9L255.1,91.4L251.8,87.9Z" fill="#d5762f"/>
<path d="M255.2,80.4L258.6,83.9L259.4,82.6L256.1,79.1Z" fill="#c15526"/>
<path d="M251.8,87.9L255.1,91.4L256.0,89.2L252.6,85.6Z" fill="#d16b2b"/>
<path d="M262.1,80.3L265.4,83.7L266.3,83.4L262.9,80.0Z" fill="#bb5425"/>
<path d="M254.4,81.9L257.7,85.4L258.6,83.9L255.2,80.4Z" fill="#c55927"/>
<path d="M252.6,85.6L256.0,89.2L256.8,87.2L253.5,83.6Z" fill="#cd652a"/>
<path d="M253.5,83.6L256.8,87.2L257.7,85.4L254.4,81.9Z" fill="#c85f28"/>
<path d="M277.3,92.1L280.7,95.1L281.6,96.3L278.2,93.3Z" fill="#c27a30"/>
<path d="M267.2,83.3L270.5,86.6L271.4,86.8L268.0,83.6Z" fill="#bd5b26"/>
<path d="M261.2,80.8L264.5,84.2L265.4,83.7L262.1,80.3Z" fill="#be5525"/>
<path d="M272.2,87.3L275.6,90.4L276.5,91.1L273.1,88.0Z" fill="#c16528"/>
<path d="M256.1,99.5L253.3,96.6L252.8,98.4Z" fill="#d79941"/>
<path d="M260.3,81.6L263.7,85.0L264.5,84.2L261.2,80.8Z" fill="#c05726"/>
<path d="M281.6,96.3L284.8,99.1L282.1,97.3Z" fill="#c28837"/>
<path d="M266.3,83.4L269.6,86.6L270.5,86.6L267.2,83.3Z" fill="#be5a26"/>
<path d="M259.4,82.6L262.8,86.0L263.7,85.0L260.3,81.6Z" fill="#c35927"/>
<path d="M253.3,96.6L256.1,99.5L256.8,99.7L257.6,97.3L254.2,93.9Z" fill="#da8e38"/>
<path d="M276.5,91.1L279.8,94.1L280.7,95.1L277.3,92.1Z" fill="#c2732e"/>
<path d="M271.4,86.8L274.7,89.9L275.6,90.4L272.2,87.3Z" fill="#c16228"/>
<path d="M254.2,93.9L257.6,97.3L258.4,94.8L255.1,91.4Z" fill="#d88133"/>
<path d="M258.6,83.9L261.9,87.3L262.8,86.0L259.4,82.6Z" fill="#c75d28"/>
<path d="M255.1,91.4L258.4,94.8L259.3,92.6L256.0,89.2Z" fill="#d5762f"/>
<path d="M257.7,85.4L261.0,88.8L261.9,87.3L258.6,83.9Z" fill="#ca6129"/>
<path d="M265.4,83.7L268.8,86.9L269.6,86.6L266.3,83.4Z" fill="#c05a26"/>
<path d="M256.0,89.2L259.3,92.6L260.2,90.5L256.8,87.2Z" fill="#d26c2c"/>
<path d="M256.8,87.2L260.2,90.5L261.0,88.8L257.7,85.4Z" fill="#ce662a"/>
<path d="M270.5,86.6L273.9,89.7L274.7,89.9L271.4,86.8Z" fill="#c26128"/>
<path d="M264.5,84.2L267.9,87.4L268.8,86.9L265.4,83.7Z" fill="#c35c27"/>
<path d="M280.7,95.1L284.1,98.0L284.9,99.2L284.8,99.1L281.6,96.3Z" fill="#c48133"/>
<path d="M275.6,90.4L279.0,93.4L279.8,94.1L276.5,91.1Z" fill="#c36d2c"/>
<path d="M263.7,85.0L267.0,88.2L267.9,87.4L264.5,84.2Z" fill="#c65e28"/>
<path d="M269.6,86.6L273.0,89.7L273.9,89.7L270.5,86.6Z" fill="#c36128"/>
<path d="M260.8,101.0L260.9,100.6L257.6,97.3L256.8,99.7Z" fill="#dd993c"/>
<path d="M262.8,86.0L266.1,89.2L267.0,88.2L263.7,85.0Z" fill="#c96028"/>
<path d="M257.6,97.3L260.9,100.6L261.8,98.1L258.4,94.8Z" fill="#db8c37"/>
<path d="M261.9,87.3L265.3,90.5L266.1,89.2L262.8,86.0Z" fill="#cc6429"/>
<path d="M274.7,89.9L278.1,92.9L279.0,93.4L275.6,90.4Z" fill="#c5692a"/>
<path d="M279.8,94.1L283.2,97.0L284.1,98.0L280.7,95.1Z" fill="#c57b31"/>
<path d="M258.4,94.8L261.8,98.1L262.7,95.8L259.3,92.6Z" fill="#d88033"/>
<path d="M261.0,88.8L264.4,92.0L265.3,90.5L261.9,87.3Z" fill="#d0682b"/>
<path d="M259.3,92.6L262.7,95.8L263.5,93.8L260.2,90.5Z" fill="#d6762f"/>
<path d="M260.2,90.5L263.5,93.8L264.4,92.0L261.0,88.8Z" fill="#d46e2c"/>
<path d="M268.8,86.9L272.1,90.0L273.0,89.7L269.6,86.6Z" fill="#c56128"/>
<path d="M267.9,87.4L271.3,90.6L272.1,90.0L268.8,86.9Z" fill="#c86229"/>
<path d="M261.6,101.3L260.9,100.6L260.8,101.0Z" fill="#d19b48"/>
<path d="M273.9,89.7L277.2,92.7L278.1,92.9L274.7,89.9Z" fill="#c66729"/>
<path d="M279.0,93.4L282.3,96.3L283.2,97.0L279.8,94.1Z" fill="#c6752f"/>
<path d="M267.0,88.2L270.4,91.3L271.3,90.6L267.9,87.4Z" fill="#cb6429"/>
<path d="M273.0,89.7L276.4,92.7L277.2,92.7L273.9,89.7Z" fill="#c86729"/>
<path d="M266.1,89.2L269.5,92.4L270.4,91.3L267.0,88.2Z" fill="#ce672a"/>
<path d="M260.9,100.6L261.6,101.3L264.8,102.3L265.1,101.3L261.8,98.1Z" fill="#dd963b"/>
<path d="M265.3,90.5L268.6,93.7L269.5,92.4L266.1,89.2Z" fill="#d26b2b"/>
<path d="M278.1,92.9L281.5,95.8L282.3,96.3L279.0,93.4Z" fill="#c7712d"/>
<path d="M261.8,98.1L265.1,101.3L266.0,99.0L262.7,95.8Z" fill="#db8b37"/>
<path d="M264.4,92.0L267.8,95.2L268.6,93.7L265.3,90.5Z" fill="#d5702d"/>
<path d="M262.7,95.8L266.0,99.0L266.9,97.0L263.5,93.8Z" fill="#d98033"/>
<path d="M263.5,93.8L266.9,97.0L267.8,95.2L264.4,92.0Z" fill="#d77730"/>
<path d="M272.1,90.0L275.5,93.0L276.4,92.7L273.0,89.7Z" fill="#ca672a"/>
<path d="M271.3,90.6L274.6,93.6L275.5,93.0L272.1,90.0Z" fill="#cd692a"/>
<path d="M277.2,92.7L280.6,95.6L281.5,95.8L278.1,92.9Z" fill="#c96f2c"/>
<path d="M270.4,91.3L273.7,94.4L274.6,93.6L271.3,90.6Z" fill="#d06b2b"/>
<path d="M267.1,103.1L265.1,101.3L264.8,102.3Z" fill="#d89b43"/>
<path d="M276.4,92.7L279.7,95.6L280.6,95.6L277.2,92.7Z" fill="#cc6e2c"/>
<path d="M269.5,92.4L272.9,95.4L273.7,94.4L270.4,91.3Z" fill="#d36e2c"/>
<path d="M268.6,93.7L272.0,96.7L272.9,95.4L269.5,92.4Z" fill="#d6732e"/>
<path d="M265.1,101.3L267.1,103.1L268.8,103.6L269.4,102.1L266.0,99.0Z" fill="#de943a"/>
<path d="M267.8,95.2L271.1,98.2L272.0,96.7L268.6,93.7Z" fill="#d87930"/>
<path d="M266.0,99.0L269.4,102.1L270.2,100.0L266.9,97.0Z" fill="#dc8a37"/>
<path d="M266.9,97.0L270.2,100.0L271.1,98.2L267.8,95.2Z" fill="#da8133"/>
<path d="M275.5,93.0L278.9,95.9L279.7,95.6L276.4,92.7Z" fill="#cf6e2c"/>
<path d="M274.6,93.6L278.0,96.5L278.9,95.9L275.5,93.0Z" fill="#d16f2d"/>
<path d="M273.7,94.4L277.1,97.2L278.0,96.5L274.6,93.6Z" fill="#d4722e"/>
<path d="M272.9,95.4L276.2,98.3L277.1,97.2L273.7,94.4Z" fill="#d6762f"/>
<path d="M272.6,104.9L269.4,102.1L268.8,103.6Z" fill="#dd9b3f"/>
<path d="M272.0,96.7L275.4,99.6L276.2,98.3L272.9,95.4Z" fill="#d97b31"/>
<path d="M271.1,98.2L274.5,101.1L275.4,99.6L272.0,96.7Z" fill="#db8234"/>
<path d="M270.2,100.0L273.6,102.9L274.5,101.1L271.1,98.2Z" fill="#dc8a36"/>
<path d="M269.4,102.1L272.6,104.9L272.8,104.9L273.6,102.9L270.2,100.0Z" fill="#de933a"/>
<path d="M370.5,135.9L374.2,135.7L375.0,137.7L372.0,137.8L371.3,137.6Z" fill="#d58b37"/>
<path d="M372.0,137.8L375.0,137.7L375.5,139.0Z" fill="#d0943e"/>
<path d="M369.7,134.2L373.4,134.0L374.2,135.7L370.5,135.9Z" fill="#d68033"/>
<path d="M375.0,137.7L378.7,137.3L379.5,139.5L377.7,139.7L375.5,139.0Z" fill="#d58d38"/>
<path d="M377.7,139.7L379.5,139.5L379.8,140.4Z" fill="#c99343"/>
<path d="M368.9,132.7L372.6,132.6L373.4,134.0L369.7,134.2Z" fill="#d6762f"/>
<path d="M374.2,135.7L377.9,135.4L378.7,137.3L375.0,137.7Z" fill="#d48133"/>
<path d="M379.5,139.5L383.2,139.0L384.0,141.4L383.4,141.5L379.8,140.4Z" fill="#d49039"/>
<path d="M368.1,131.5L371.7,131.4L372.6,132.6L368.9,132.7Z" fill="#d76f2d"/>
<path d="M383.4,141.5L384.0,141.4L384.1,141.7Z" fill="#c39348"/>
<path d="M373.4,134.0L377.1,133.7L377.9,135.4L374.2,135.7Z" fill="#d5752f"/>
<path d="M367.2,130.6L370.9,130.4L371.7,131.4L368.1,131.5Z" fill="#d76b2c"/>
<path d="M378.7,137.3L382.4,136.9L383.2,139.0L379.5,139.5Z" fill="#d38233"/>
<path d="M384.0,141.4L387.7,140.8L388.4,143.1L384.1,141.7Z" fill="#d4933a"/>
<path d="M372.6,132.6L376.2,132.3L377.1,133.7L373.4,134.0Z" fill="#d46d2c"/>
<path d="M366.4,129.8L370.0,129.7L370.9,130.4L367.2,130.6Z" fill="#d8682b"/>
<path d="M377.9,135.4L381.6,134.9L382.4,136.9L378.7,137.3Z" fill="#d3752f"/>
<path d="M383.2,139.0L386.9,138.4L387.7,140.8L384.0,141.4Z" fill="#d38434"/>
<path d="M365.5,129.4L369.2,129.3L370.0,129.7L366.4,129.8Z" fill="#d9652b"/>
<path d="M371.7,131.4L375.4,131.1L376.2,132.3L372.6,132.6Z" fill="#d3682b"/>
<path d="M364.7,129.2L368.3,129.1L369.2,129.3L365.5,129.4Z" fill="#db642b"/>
<path d="M377.1,133.7L380.8,133.3L381.6,134.9L377.9,135.4Z" fill="#d26c2c"/>
<path d="M389.0,143.3L392.2,142.6L392.7,144.5Z" fill="#ce933e"/>
<path d="M370.9,130.4L374.6,130.1L375.4,131.1L371.7,131.4Z" fill="#d3642a"/>
<path d="M387.7,140.8L391.4,140.0L392.2,142.6L389.0,143.3L388.4,143.1Z" fill="#d28635"/>
<path d="M382.4,136.9L386.1,136.3L386.9,138.4L383.2,139.0Z" fill="#d2762f"/>
<path d="M363.8,129.3L367.5,129.1L368.3,129.1L364.7,129.2Z" fill="#de642c"/>
<path d="M362.9,129.6L366.6,129.4L367.5,129.1L363.8,129.3Z" fill="#e1642c"/>
<path d="M376.2,132.3L379.9,131.8L380.8,133.3L377.1,133.7Z" fill="#d0662a"/>
<path d="M370.0,129.7L373.7,129.4L374.6,130.1L370.9,130.4Z" fill="#d4602a"/>
<path d="M362.0,130.1L365.7,130.0L366.6,129.4L362.9,129.6Z" fill="#e3652c"/>
<path d="M381.6,134.9L385.3,134.4L386.1,136.3L382.4,136.9Z" fill="#d16b2b"/>
<path d="M361.2,130.9L364.8,130.8L365.7,130.0L362.0,130.1Z" fill="#e5672d"/>
<path d="M369.2,129.3L372.9,129.0L373.7,129.4L370.0,129.7Z" fill="#d55e29"/>
<path d="M354.5,146.6L357.5,146.5L358.5,143.6L354.8,143.8L354.0,146.3Z" fill="#f39e3e"/>
<path d="M386.9,138.4L390.6,137.7L391.4,140.0L387.7,140.8Z" fill="#d1772f"/>
<path d="M392.2,142.6L396.0,141.7L396.7,144.5L394.6,145.1L392.7,144.5Z" fill="#d28936"/>
<path d="M394.6,145.1L396.7,144.5L397.1,145.9Z" fill="#c89243"/>
<path d="M375.4,131.1L379.1,130.7L379.9,131.8L376.2,132.3Z" fill="#cf6029"/>
<path d="M360.3,132.0L363.9,131.9L364.8,130.8L361.2,130.9Z" fill="#e76a2e"/>
<path d="M354.8,143.8L358.5,143.6L359.4,141.0L355.7,141.2Z" fill="#f29139"/>
<path d="M359.4,133.3L363.0,133.2L363.9,131.9L360.3,132.0Z" fill="#e96d2e"/>
<path d="M357.0,148.3L357.5,146.5L354.5,146.6Z" fill="#eea947"/>
<path d="M355.7,141.2L359.4,141.0L360.3,138.7L356.6,138.8Z" fill="#f18535"/>
<path d="M358.5,134.9L362.1,134.8L363.0,133.2L359.4,133.3Z" fill="#eb712f"/>
<path d="M368.3,129.1L372.0,128.8L372.9,129.0L369.2,129.3Z" fill="#d75d29"/>
<path d="M356.6,138.8L360.3,138.7L361.2,136.6L357.6,136.8Z" fill="#ef7b32"/>
<path d="M357.6,136.8L361.2,136.6L362.1,134.8L358.5,134.9Z" fill="#ed7530"/>
<path d="M380.8,133.3L384.5,132.7L385.3,134.4L381.6,134.9Z" fill="#ce642a"/>
<path d="M374.6,130.1L378.3,129.7L379.1,130.7L375.4,131.1Z" fill="#cf5c28"/>
<path d="M367.5,129.1L371.1,128.9L372.0,128.8L368.3,129.1Z" fill="#da5c2a"/>
<path d="M386.1,136.3L389.8,135.5L390.6,137.7L386.9,138.4Z" fill="#d06b2b"/>
<path d="M391.4,140.0L395.2,139.1L396.0,141.7L392.2,142.6Z" fill="#d17930"/>
<path d="M396.7,144.5L400.5,143.4L401.3,146.5L400.1,146.8L397.1,145.9Z" fill="#d28c37"/>
<path d="M366.6,129.4L370.3,129.2L371.1,128.9L367.5,129.1Z" fill="#dc5d2a"/>
<path d="M400.1,146.8L401.3,146.5L401.4,147.3Z" fill="#c19248"/>
<path d="M373.7,129.4L377.4,129.0L378.3,129.7L374.6,130.1Z" fill="#d05928"/>
<path d="M379.9,131.8L383.6,131.3L384.5,132.7L380.8,133.3Z" fill="#cc5e28"/>
<path d="M365.7,130.0L369.4,129.7L370.3,129.2L366.6,129.4Z" fill="#df5e2a"/>
<path d="M385.3,134.4L389.0,133.6L389.8,135.5L386.1,136.3Z" fill="#cc6229"/>
<path d="M358.5,149.4L360.3,149.2L361.2,146.1L357.5,146.5L357.0,148.3Z" fill="#f3a140"/>
<path d="M364.8,130.8L368.5,130.6L369.4,129.7L365.7,130.0Z" fill="#e15f2b"/>
<path d="M372.9,129.0L376.6,128.6L377.4,129.0L373.7,129.4Z" fill="#d15628"/>
<path d="M357.5,146.5L361.2,146.1L362.1,143.3L358.5,143.6Z" fill="#f1923a"/>
<path d="M390.6,137.7L394.4,136.8L395.2,139.1L391.4,140.0Z" fill="#cf6a2b"/>
<path d="M379.1,130.7L382.8,130.1L383.6,131.3L379.9,131.8Z" fill="#cb5827"/>
<path d="M363.9,131.9L367.6,131.6L368.5,130.6L364.8,130.8Z" fill="#e3622c"/>
<path d="M396.0,141.7L399.7,140.6L400.5,143.4L396.7,144.5Z" fill="#d07a31"/>
<path d="M358.5,143.6L362.1,143.3L363.1,140.7L359.4,141.0Z" fill="#f08535"/>
<path d="M363.0,133.2L366.7,132.9L367.6,131.6L363.9,131.9Z" fill="#e4652c"/>
<path d="M359.9,150.4L360.3,149.2L358.5,149.4Z" fill="#e7a94d"/>
<path d="M359.4,141.0L363.1,140.7L364.0,138.4L360.3,138.7Z" fill="#ee7a31"/>
<path d="M362.1,134.8L365.8,134.5L366.7,132.9L363.0,133.2Z" fill="#e6692d"/>
<path d="M401.3,146.5L405.0,145.2L405.8,148.4L405.5,148.5L401.4,147.3Z" fill="#d28f38"/>
<path d="M372.0,128.8L375.7,128.4L376.6,128.6L372.9,129.0Z" fill="#d35528"/>
<path d="M360.3,138.7L364.0,138.4L364.9,136.3L361.2,136.6Z" fill="#eb7330"/>
<path d="M361.2,136.6L364.9,136.3L365.8,134.5L362.1,134.8Z" fill="#e86e2e"/>
<path d="M405.5,148.5L405.8,148.4L405.8,148.6Z" fill="#bb924d"/>
<path d="M384.5,132.7L388.2,132.0L389.0,133.6L385.3,134.4Z" fill="#c95b28"/>
<path d="M378.3,129.7L382.0,129.2L382.8,130.1L379.1,130.7Z" fill="#cb5426"/>
<path d="M371.1,128.9L374.8,128.5L375.7,128.4L372.0,128.8Z" fill="#d55428"/>
<path d="M389.8,135.5L393.6,134.7L394.4,136.8L390.6,137.7Z" fill="#cb6229"/>
<path d="M395.2,139.1L398.9,138.1L399.7,140.6L396.0,141.7Z" fill="#ce6b2b"/>
<path d="M370.3,129.2L374.0,128.8L374.8,128.5L371.1,128.9Z" fill="#d85428"/>
<path d="M400.5,143.4L404.3,142.2L405.0,145.2L401.3,146.5Z" fill="#d07c31"/>
<path d="M377.4,129.0L381.1,128.5L382.0,129.2L378.3,129.7Z" fill="#cb5026"/>
<path d="M383.6,131.3L387.4,130.6L388.2,132.0L384.5,132.7Z" fill="#c75526"/>
<path d="M405.8,148.4L409.6,147.0L410.3,150.0L405.8,148.6Z" fill="#d2923a"/>
<path d="M369.4,129.7L373.1,129.4L374.0,128.8L370.3,129.2Z" fill="#da5528"/>
<path d="M362.4,152.1L363.0,152.0L364.0,148.7L360.3,149.2L359.9,150.4Z" fill="#f3a541"/>
<path d="M360.3,149.2L364.0,148.7L364.9,145.7L361.2,146.1Z" fill="#f1943b"/>
<path d="M368.5,130.6L372.2,130.2L373.1,129.4L369.4,129.7Z" fill="#dc5729"/>
<path d="M389.0,133.6L392.8,132.8L393.6,134.7L389.8,135.5Z" fill="#c75927"/>
<path d="M376.6,128.6L380.3,128.1L381.1,128.5L377.4,129.0Z" fill="#ca4e25"/>
<path d="M361.2,146.1L364.9,145.7L365.8,142.9L362.1,143.3Z" fill="#f08535"/>
<path d="M367.6,131.6L371.3,131.2L372.2,130.2L368.5,130.6Z" fill="#de592a"/>
<path d="M382.8,130.1L386.5,129.4L387.4,130.6L383.6,131.3Z" fill="#c65025"/>
<path d="M394.4,136.8L398.1,135.7L398.9,138.1L395.2,139.1Z" fill="#ca6129"/>
<path d="M362.1,143.3L365.8,142.9L366.7,140.3L363.1,140.7Z" fill="#ed7931"/>
<path d="M366.7,132.9L370.4,132.5L371.3,131.2L367.6,131.6Z" fill="#df5c2a"/>
<path d="M362.9,152.5L363.0,152.0L362.4,152.1Z" fill="#e0a953"/>
<path d="M363.1,140.7L366.7,140.3L367.7,138.0L364.0,138.4Z" fill="#e9722f"/>
<path d="M365.8,134.5L369.5,134.1L370.4,132.5L366.7,132.9Z" fill="#e1602b"/>
<path d="M399.7,140.6L403.5,139.4L404.3,142.2L400.5,143.4Z" fill="#ce6b2b"/>
<path d="M405.0,145.2L408.8,143.8L409.6,147.0L405.8,148.4Z" fill="#d07f32"/>
<path d="M364.0,138.4L367.7,138.0L368.6,135.9L364.9,136.3Z" fill="#e66b2e"/>
<path d="M364.9,136.3L368.6,135.9L369.5,134.1L365.8,134.5Z" fill="#e3652c"/>
<path d="M375.7,128.4L379.4,127.9L380.3,128.1L376.6,128.6Z" fill="#ca4c25"/>
<path d="M388.2,132.0L391.9,131.2L392.8,132.8L389.0,133.6Z" fill="#c45225"/>
<path d="M382.0,129.2L385.7,128.5L386.5,129.4L382.8,130.1Z" fill="#c44b24"/>
<path d="M374.8,128.5L378.5,128.0L379.4,127.9L375.7,128.4Z" fill="#ca4c25"/>
<path d="M410.8,150.2L414.2,148.8L414.7,151.4Z" fill="#cd923e"/>
<path d="M393.6,134.7L397.3,133.7L398.1,135.7L394.4,136.8Z" fill="#c55827"/>
<path d="M409.6,147.0L413.4,145.4L414.2,148.8L410.8,150.2L410.3,150.0Z" fill="#d08133"/>
<path d="M374.0,128.8L377.7,128.3L378.5,128.0L374.8,128.5Z" fill="#cc4c25"/>
<path d="M365.9,154.6L366.7,151.4L363.0,152.0L362.9,152.5Z" fill="#f3a942"/>
<path d="M398.9,138.1L402.7,136.9L403.5,139.4L399.7,140.6Z" fill="#c96128"/>
<path d="M381.1,128.5L384.9,127.9L385.7,128.5L382.0,129.2Z" fill="#c04823"/>
<path d="M387.4,130.6L391.1,129.8L391.9,131.2L388.2,132.0Z" fill="#c24c24"/>
<path d="M404.3,142.2L408.1,140.8L408.8,143.8L405.0,145.2Z" fill="#ce6c2b"/>
<path d="M373.1,129.4L376.8,128.8L377.7,128.3L374.0,128.8Z" fill="#ce4c25"/>
<path d="M363.0,152.0L366.7,151.4L367.7,148.1L364.0,148.7Z" fill="#f1973c"/>
<path d="M372.2,130.2L375.9,129.7L376.8,128.8L373.1,129.4Z" fill="#d04e26"/>
<path d="M364.0,148.7L367.7,148.1L368.6,145.1L364.9,145.7Z" fill="#ef8636"/>
<path d="M380.3,128.1L384.0,127.4L384.9,127.9L381.1,128.5Z" fill="#be4522"/>
<path d="M392.8,132.8L396.5,131.8L397.3,133.7L393.6,134.7Z" fill="#c25025"/>
<path d="M371.3,131.2L375.0,130.7L375.9,129.7L372.2,130.2Z" fill="#d45027"/>
<path d="M364.9,145.7L368.6,145.1L369.5,142.3L365.8,142.9Z" fill="#ed7931"/>
<path d="M386.5,129.4L390.3,128.6L391.1,129.8L387.4,130.6Z" fill="#bc4722"/>
<path d="M370.4,132.5L374.1,132.0L375.0,130.7L371.3,131.2Z" fill="#d85328"/>
<path d="M365.8,142.9L369.5,142.3L370.4,139.7L366.7,140.3Z" fill="#e8702f"/>
<path d="M416.1,151.8L418.7,150.5L419.1,152.7Z" fill="#c89242"/>
<path d="M369.5,134.1L373.2,133.6L374.1,132.0L370.4,132.5Z" fill="#dc5729"/>
<path d="M366.7,140.3L370.4,139.7L371.4,137.4L367.7,138.0Z" fill="#e4692d"/>
<path d="M398.1,135.7L401.9,134.6L402.7,136.9L398.9,138.1Z" fill="#c45726"/>
<path d="M414.2,148.8L418.0,147.0L418.7,150.5L416.1,151.8L414.7,151.4Z" fill="#d08434"/>
<path d="M368.6,135.9L372.3,135.4L373.2,133.6L369.5,134.1Z" fill="#de5c2a"/>
<path d="M367.7,138.0L371.4,137.4L372.3,135.4L368.6,135.9Z" fill="#e1622b"/>
<path d="M379.4,127.9L383.1,127.3L384.0,127.4L380.3,128.1Z" fill="#bd4322"/>
<path d="M403.5,139.4L407.3,138.1L408.1,140.8L404.3,142.2Z" fill="#c86128"/>
<path d="M408.8,143.8L412.6,142.2L413.4,145.4L409.6,147.0Z" fill="#ce6e2c"/>
<path d="M391.9,131.2L395.7,130.2L396.5,131.8L392.8,132.8Z" fill="#bd4923"/>
<path d="M385.7,128.5L389.4,127.7L390.3,128.6L386.5,129.4Z" fill="#b74221"/>
<path d="M378.5,128.0L382.3,127.3L383.1,127.3L379.4,127.9Z" fill="#be4321"/>
<path d="M366.3,154.9L369.5,154.2L370.4,150.7L366.7,151.4L365.9,154.6Z" fill="#f19a3d"/>
<path d="M377.7,128.3L381.4,127.6L382.3,127.3L378.5,128.0Z" fill="#bf4322"/>
<path d="M397.3,133.7L401.1,132.5L401.9,134.6L398.1,135.7Z" fill="#c04e24"/>
<path d="M384.9,127.9L388.6,127.1L389.4,127.7L385.7,128.5Z" fill="#b33f20"/>
<path d="M368.8,156.7L369.5,154.2L366.3,154.9Z" fill="#eda948"/>
<path d="M402.7,136.9L406.5,135.5L407.3,138.1L403.5,139.4Z" fill="#c35626"/>
<path d="M391.1,129.8L394.9,128.8L395.7,130.2L391.9,131.2Z" fill="#b54321"/>
<path d="M376.8,128.8L380.5,128.2L381.4,127.6L377.7,128.3Z" fill="#c14322"/>
<path d="M366.7,151.4L370.4,150.7L371.4,147.4L367.7,148.1Z" fill="#ef8836"/>
<path d="M408.1,140.8L411.9,139.3L412.6,142.2L408.8,143.8Z" fill="#c86128"/>
<path d="M413.4,145.4L417.2,143.6L418.0,147.0L414.2,148.8Z" fill="#ce6f2c"/>
<path d="M375.9,129.7L379.6,129.0L380.5,128.2L376.8,128.8Z" fill="#c34522"/>
<path d="M367.7,148.1L371.4,147.4L372.3,144.4L368.6,145.1Z" fill="#ec7931"/>
<path d="M384.0,127.4L387.7,126.6L388.6,127.1L384.9,127.9Z" fill="#b13c1f"/>
<path d="M375.0,130.7L378.7,130.1L379.6,129.0L375.9,129.7Z" fill="#c74723"/>
<path d="M368.6,145.1L372.3,144.4L373.2,141.6L369.5,142.3Z" fill="#e76f2f"/>
<path d="M396.5,131.8L400.3,130.7L401.1,132.5L397.3,133.7Z" fill="#b84622"/>
<path d="M374.1,132.0L377.8,131.4L378.7,130.1L375.0,130.7Z" fill="#cb4a24"/>
<path d="M390.3,128.6L394.1,127.7L394.9,128.8L391.1,129.8Z" fill="#af3d1f"/>
<path d="M369.5,142.3L373.2,141.6L374.2,139.1L370.4,139.7Z" fill="#e2672c"/>
<path d="M373.2,133.6L376.9,132.9L377.8,131.4L374.1,132.0Z" fill="#d04e26"/>
<path d="M370.4,139.7L374.2,139.1L375.1,136.8L371.4,137.4Z" fill="#df5f2b"/>
<path d="M372.3,135.4L376.0,134.7L376.9,132.9L373.2,133.6Z" fill="#d65227"/>
<path d="M371.4,137.4L375.1,136.8L376.0,134.7L372.3,135.4Z" fill="#db5829"/>
<path d="M383.1,127.3L386.9,126.5L387.7,126.6L384.0,127.4Z" fill="#b03a1e"/>
<path d="M401.9,134.6L405.7,133.3L406.5,135.5L402.7,136.9Z" fill="#be4c24"/>
<path d="M407.3,138.1L411.1,136.6L411.9,139.3L408.1,140.8Z" fill="#c25526"/>
<path d="M412.6,142.2L416.5,140.5L417.2,143.6L413.4,145.4Z" fill="#c86128"/>
<path d="M382.3,127.3L386.0,126.5L386.9,126.5L383.1,127.3Z" fill="#b0391e"/>
<path d="M389.4,127.7L393.2,126.8L394.1,127.7L390.3,128.6Z" fill="#aa391d"/>
<path d="M395.7,130.2L399.5,129.1L400.3,130.7L396.5,131.8Z" fill="#af3f1f"/>
<path d="M370.1,157.5L372.2,157.0L373.2,153.3L369.5,154.2L368.8,156.7Z" fill="#f19d3e"/>
<path d="M381.4,127.6L385.1,126.9L386.0,126.5L382.3,127.3Z" fill="#b1391e"/>
<path d="M369.5,154.2L373.2,153.3L374.1,149.8L370.4,150.7Z" fill="#ef8a37"/>
<path d="M371.8,158.8L372.2,157.0L370.1,157.5Z" fill="#e6a94d"/>
<path d="M401.1,132.5L404.9,131.2L405.7,133.3L401.9,134.6Z" fill="#b44421"/>
<path d="M388.6,127.1L392.4,126.1L393.2,126.8L389.4,127.7Z" fill="#a6351c"/>
<path d="M380.5,128.2L384.3,127.4L385.1,126.9L381.4,127.6Z" fill="#b3391e"/>
<path d="M394.9,128.8L398.7,127.7L399.5,129.1L395.7,130.2Z" fill="#a8391d"/>
<path d="M370.4,150.7L374.1,149.8L375.1,146.5L371.4,147.4Z" fill="#ec7931"/>
<path d="M406.5,135.5L410.3,134.1L411.1,136.6L407.3,138.1Z" fill="#bc4b23"/>
<path d="M379.6,129.0L383.4,128.2L384.3,127.4L380.5,128.2Z" fill="#b53b1f"/>
<path d="M411.9,139.3L415.7,137.6L416.5,140.5L412.6,142.2Z" fill="#c15525"/>
<path d="M371.4,147.4L375.1,146.5L376.0,143.5L372.3,144.4Z" fill="#e66f2e"/>
<path d="M387.7,126.6L391.5,125.7L392.4,126.1L388.6,127.1Z" fill="#a3321b"/>
<path d="M378.7,130.1L382.5,129.3L383.4,128.2L379.6,129.0Z" fill="#b83d20"/>
<path d="M372.3,144.4L376.0,143.5L377.0,140.8L373.2,141.6Z" fill="#e1652c"/>
<path d="M400.3,130.7L404.1,129.4L404.9,131.2L401.1,132.5Z" fill="#aa3c1e"/>
<path d="M377.8,131.4L381.6,130.6L382.5,129.3L378.7,130.1Z" fill="#bd4021"/>
<path d="M373.2,141.6L377.0,140.8L377.9,138.2L374.2,139.1Z" fill="#dc5c2a"/>
<path d="M394.1,127.7L397.8,126.6L398.7,127.7L394.9,128.8Z" fill="#a1331b"/>
<path d="M376.9,132.9L380.7,132.1L381.6,130.6L377.8,131.4Z" fill="#c24422"/>
<path d="M374.2,139.1L377.9,138.2L378.8,136.0L375.1,136.8Z" fill="#d85428"/>
<path d="M376.0,134.7L379.7,133.9L380.7,132.1L376.9,132.9Z" fill="#c84824"/>
<path d="M375.1,136.8L378.8,136.0L379.7,133.9L376.0,134.7Z" fill="#d04e26"/>
<path d="M386.9,126.5L390.6,125.6L391.5,125.7L387.7,126.6Z" fill="#a2301b"/>
<path d="M405.7,133.3L409.5,131.8L410.3,134.1L406.5,135.5Z" fill="#b14120"/>
<path d="M373.8,160.2L375.0,159.9L376.0,155.9L372.2,157.0L371.8,158.8Z" fill="#f2a13f"/>
<path d="M386.0,126.5L389.8,125.6L390.6,125.6L386.9,126.5Z" fill="#a22f1a"/>
<path d="M411.1,136.6L414.9,134.9L415.7,137.6L411.9,139.3Z" fill="#bb4a23"/>
<path d="M393.2,126.8L397.0,125.7L397.8,126.6L394.1,127.7Z" fill="#9c2f1a"/>
<path d="M399.5,129.1L403.3,127.8L404.1,129.4L400.3,130.7Z" fill="#a1351c"/>
<path d="M372.2,157.0L376.0,155.9L376.9,152.2L373.2,153.3Z" fill="#ef8c38"/>
<path d="M374.8,160.9L375.0,159.9L373.8,160.2Z" fill="#dfa953"/>
<path d="M385.1,126.9L388.9,126.0L389.8,125.6L386.0,126.5Z" fill="#a22f1a"/>
<path d="M373.2,153.3L376.9,152.2L377.9,148.7L374.1,149.8Z" fill="#ec7a31"/>
<path d="M404.9,131.2L408.7,129.8L409.5,131.8L405.7,133.3Z" fill="#a5391d"/>
<path d="M392.4,126.1L396.1,125.1L397.0,125.7L393.2,126.8Z" fill="#972b18"/>
<path d="M384.3,127.4L388.0,126.5L388.9,126.0L385.1,126.9Z" fill="#a42f1a"/>
<path d="M374.1,149.8L377.9,148.7L378.8,145.5L375.1,146.5Z" fill="#e66e2e"/>
<path d="M398.7,127.7L402.5,126.5L403.3,127.8L399.5,129.1Z" fill="#992e19"/>
<path d="M383.4,128.2L387.1,127.3L388.0,126.5L384.3,127.4Z" fill="#a6301b"/>
<path d="M410.3,134.1L414.2,132.5L414.9,134.9L411.1,136.6Z" fill="#ae3f1f"/>
<path d="M375.1,146.5L378.8,145.5L379.8,142.5L376.0,143.5Z" fill="#e0642c"/>
<path d="M391.5,125.7L395.3,124.7L396.1,125.1L392.4,126.1Z" fill="#932a18"/>
<path d="M382.5,129.3L386.2,128.4L387.1,127.3L383.4,128.2Z" fill="#a9321c"/>
<path d="M376.0,143.5L379.8,142.5L380.7,139.8L377.0,140.8Z" fill="#db5a29"/>
<path d="M381.6,130.6L385.3,129.7L386.2,128.4L382.5,129.3Z" fill="#ae351d"/>
<path d="M377.0,140.8L380.7,139.8L381.7,137.3L377.9,138.2Z" fill="#d45127"/>
<path d="M404.1,129.4L407.9,128.0L408.7,129.8L404.9,131.2Z" fill="#9b311a"/>
<path d="M380.7,132.1L384.4,131.2L385.3,129.7L381.6,130.6Z" fill="#b3391e"/>
<path d="M397.8,126.6L401.6,125.4L402.5,126.5L398.7,127.7Z" fill="#922917"/>
<path d="M377.9,138.2L381.7,137.3L382.6,135.0L378.8,136.0Z" fill="#ca4a24"/>
<path d="M379.7,133.9L383.5,133.0L384.4,131.2L380.7,132.1Z" fill="#b93e20"/>
<path d="M378.8,136.0L382.6,135.0L383.5,133.0L379.7,133.9Z" fill="#c14422"/>
<path d="M377.5,162.9L377.8,162.8L378.8,158.6L375.0,159.9L374.8,160.9Z" fill="#f2a541"/>
<path d="M390.6,125.6L394.4,124.5L395.3,124.7L391.5,125.7Z" fill="#8f2917"/>
<path d="M375.0,159.9L378.8,158.6L379.7,154.7L376.0,155.9Z" fill="#ef8f39"/>
<path d="M409.5,131.8L413.4,130.2L414.2,132.5L410.3,134.1Z" fill="#a1361c"/>
<path d="M389.8,125.6L393.6,124.6L394.4,124.5L390.6,125.6Z" fill="#8d2917"/>
<path d="M397.0,125.7L400.8,124.5L401.6,125.4L397.8,126.6Z" fill="#892716"/>
<path d="M377.7,163.0L377.8,162.8L377.5,162.9Z" fill="#d8a959"/>
<path d="M403.3,127.8L407.1,126.5L407.9,128.0L404.1,129.4Z" fill="#922a18"/>
<path d="M376.0,155.9L379.7,154.7L380.7,151.0L376.9,152.2Z" fill="#ec7b31"/>
<path d="M388.9,126.0L392.7,124.9L393.6,124.6L389.8,125.6Z" fill="#8d2917"/>
<path d="M376.9,152.2L380.7,151.0L381.7,147.6L377.9,148.7Z" fill="#e56e2e"/>
<path d="M396.1,125.1L399.9,123.9L400.8,124.5L397.0,125.7Z" fill="#822615"/>
<path d="M388.0,126.5L391.8,125.5L392.7,124.9L388.9,126.0Z" fill="#8f2917"/>
<path d="M408.7,129.8L412.6,128.2L413.4,130.2L409.5,131.8Z" fill="#952e19"/>
<path d="M377.9,148.7L381.7,147.6L382.6,144.4L378.8,145.5Z" fill="#df632b"/>
<path d="M402.5,126.5L406.3,125.1L407.1,126.5L403.3,127.8Z" fill="#862616"/>
<path d="M387.1,127.3L390.9,126.3L391.8,125.5L388.0,126.5Z" fill="#912a18"/>
<path d="M378.8,145.5L382.6,144.4L383.6,141.4L379.8,142.5Z" fill="#d95829"/>
<path d="M380.7,165.2L381.6,161.3L377.8,162.8L377.7,163.0Z" fill="#f2a843"/>
<path d="M395.3,124.7L399.1,123.5L399.9,123.9L396.1,125.1Z" fill="#7d2515"/>
<path d="M386.2,128.4L390.0,127.3L390.9,126.3L387.1,127.3Z" fill="#962b18"/>
<path d="M379.8,142.5L383.6,141.4L384.5,138.7L380.7,139.8Z" fill="#d04f26"/>
<path d="M385.3,129.7L389.1,128.6L390.0,127.3L386.2,128.4Z" fill="#9c2c19"/>
<path d="M380.7,139.8L384.5,138.7L385.4,136.2L381.7,137.3Z" fill="#c44623"/>
<path d="M384.4,131.2L388.2,130.1L389.1,128.6L385.3,129.7Z" fill="#a32e1a"/>
<path d="M377.8,162.8L381.6,161.3L382.6,157.2L378.8,158.6Z" fill="#ef923a"/>
<path d="M381.7,137.3L385.4,136.2L386.4,133.9L382.6,135.0Z" fill="#ba3f20"/>
<path d="M383.5,133.0L387.3,131.9L388.2,130.1L384.4,131.2Z" fill="#a9331c"/>
<path d="M407.9,128.0L411.8,126.5L412.6,128.2L408.7,129.8Z" fill="#8a2716"/>
<path d="M382.6,135.0L386.4,133.9L387.3,131.9L383.5,133.0Z" fill="#b1381e"/>
<path d="M401.6,125.4L405.5,124.1L406.3,125.1L402.5,126.5Z" fill="#7c2414"/>
<path d="M394.4,124.5L398.2,123.4L399.1,123.5L395.3,124.7Z" fill="#792414"/>
<path d="M378.8,158.6L382.6,157.2L383.5,153.3L379.7,154.7Z" fill="#ec7c32"/>
<path d="M393.6,124.6L397.4,123.4L398.2,123.4L394.4,124.5Z" fill="#772414"/>
<path d="M400.8,124.5L404.6,123.2L405.5,124.1L401.6,125.4Z" fill="#732313"/>
<path d="M407.1,126.5L411.0,124.9L411.8,126.5L407.9,128.0Z" fill="#7c2414"/>
<path d="M379.7,154.7L383.5,153.3L384.5,149.7L380.7,151.0Z" fill="#e56f2e"/>
<path d="M392.7,124.9L396.5,123.8L397.4,123.4L393.6,124.6Z" fill="#762414"/>
<path d="M380.7,151.0L384.5,149.7L385.4,146.2L381.7,147.6Z" fill="#de622b"/>
<path d="M399.9,123.9L403.8,122.6L404.6,123.2L400.8,124.5Z" fill="#6b2112"/>
<path d="M391.8,125.5L395.6,124.3L396.5,123.8L392.7,124.9Z" fill="#772414"/>
<path d="M381.7,147.6L385.4,146.2L386.4,143.1L382.6,144.4Z" fill="#d75728"/>
<path d="M381.1,165.5L384.4,164.0L385.4,159.7L381.6,161.3L380.7,165.2Z" fill="#f0953b"/>
<path d="M406.3,125.1L410.1,123.6L411.0,124.9L407.1,126.5Z" fill="#6f2213"/>
<path d="M390.9,126.3L394.7,125.1L395.6,124.3L391.8,125.5Z" fill="#7a2515"/>
<path d="M382.6,144.4L386.4,143.1L387.3,140.1L383.6,141.4Z" fill="#cc4c25"/>
<path d="M383.7,167.4L384.4,164.0L381.1,165.5Z" fill="#eca848"/>
<path d="M390.0,127.3L393.8,126.2L394.7,125.1L390.9,126.3Z" fill="#7e2615"/>
<path d="M399.1,123.5L402.9,122.2L403.8,122.6L399.9,123.9Z" fill="#652012"/>
<path d="M383.6,141.4L387.3,140.1L388.3,137.4L384.5,138.7Z" fill="#bf4322"/>
<path d="M389.1,128.6L392.9,127.4L393.8,126.2L390.0,127.3Z" fill="#842716"/>
<path d="M384.5,138.7L388.3,137.4L389.2,134.9L385.4,136.2Z" fill="#b43b1f"/>
<path d="M388.2,130.1L392.0,129.0L392.9,127.4L389.1,128.6Z" fill="#8c2917"/>
<path d="M385.4,136.2L389.2,134.9L390.2,132.7L386.4,133.9Z" fill="#a9331c"/>
<path d="M387.3,131.9L391.1,130.7L392.0,129.0L388.2,130.1Z" fill="#952b18"/>
<path d="M386.4,133.9L390.2,132.7L391.1,130.7L387.3,131.9Z" fill="#a02d1a"/>
<path d="M381.6,161.3L385.4,159.7L386.4,155.6L382.6,157.2Z" fill="#ec7e32"/>
<path d="M405.5,124.1L409.3,122.6L410.1,123.6L406.3,125.1Z" fill="#641f11"/>
<path d="M398.2,123.4L402.1,122.0L402.9,122.2L399.1,123.5Z" fill="#611f11"/>
<path d="M382.6,157.2L386.4,155.6L387.3,151.8L383.5,153.3Z" fill="#e56f2e"/>
<path d="M397.4,123.4L401.2,122.1L402.1,122.0L398.2,123.4Z" fill="#5e1f11"/>
<path d="M404.6,123.2L408.5,121.7L409.3,122.6L405.5,124.1Z" fill="#5b1e10"/>
<path d="M383.5,153.3L387.3,151.8L388.3,148.2L384.5,149.7Z" fill="#dd622b"/>
<path d="M396.5,123.8L400.3,122.5L401.2,122.1L397.4,123.4Z" fill="#5e1f11"/>
<path d="M384.6,168.0L387.2,166.8L388.2,162.3L384.4,164.0L383.7,167.4Z" fill="#f0983c"/>
<path d="M384.5,149.7L388.3,148.2L389.2,144.8L385.4,146.2Z" fill="#d65528"/>
<path d="M395.6,124.3L399.4,123.0L400.3,122.5L396.5,123.8Z" fill="#5e1f11"/>
<path d="M403.8,122.6L407.6,121.1L408.5,121.7L404.6,123.2Z" fill="#531c0f"/>
<path d="M386.6,169.5L387.2,166.8L384.6,168.0Z" fill="#e7a94c"/>
<path d="M385.4,146.2L389.2,144.8L390.2,141.6L386.4,143.1Z" fill="#c84a24"/>
<path d="M394.7,125.1L398.5,123.8L399.4,123.0L395.6,124.3Z" fill="#612011"/>
<path d="M386.4,143.1L390.2,141.6L391.2,138.7L387.3,140.1Z" fill="#ba4021"/>
<path d="M393.8,126.2L397.6,124.8L398.5,123.8L394.7,125.1Z" fill="#652112"/>
<path d="M384.4,164.0L388.2,162.3L389.2,158.0L385.4,159.7Z" fill="#ed8033"/>
<path d="M402.9,122.2L406.8,120.7L407.6,121.1L403.8,122.6Z" fill="#4d1b0e"/>
<path d="M387.3,140.1L391.2,138.7L392.1,136.0L388.3,137.4Z" fill="#ae371d"/>
<path d="M392.9,127.4L396.7,126.1L397.6,124.8L393.8,126.2Z" fill="#6b2213"/>
<path d="M388.3,137.4L392.1,136.0L393.0,133.6L389.2,134.9Z" fill="#a22f1a"/>
<path d="M392.0,129.0L395.8,127.6L396.7,126.1L392.9,127.4Z" fill="#732414"/>
<path d="M389.2,134.9L393.0,133.6L394.0,131.4L390.2,132.7Z" fill="#952a18"/>
<path d="M391.1,130.7L394.9,129.4L395.8,127.6L392.0,129.0Z" fill="#7c2515"/>
<path d="M390.2,132.7L394.0,131.4L394.9,129.4L391.1,130.7Z" fill="#882816"/>
<path d="M385.4,159.7L389.2,158.0L390.2,153.9L386.4,155.6Z" fill="#e56f2e"/>
<path d="M402.1,122.0L405.9,120.6L406.8,120.7L402.9,122.2Z" fill="#481a0e"/>
<path d="M386.4,155.6L390.2,153.9L391.1,150.1L387.3,151.8Z" fill="#dd612b"/>
<path d="M401.2,122.1L405.0,120.7L405.9,120.6L402.1,122.0Z" fill="#451a0d"/>
<path d="M387.3,151.8L391.1,150.1L392.1,146.5L388.3,148.2Z" fill="#d55428"/>
<path d="M400.3,122.5L404.1,121.0L405.0,120.7L401.2,122.1Z" fill="#441a0d"/>
<path d="M388.3,148.2L392.1,146.5L393.1,143.2L389.2,144.8Z" fill="#c54823"/>
<path d="M399.4,123.0L403.3,121.6L404.1,121.0L400.3,122.5Z" fill="#451a0d"/>
<path d="M389.2,144.8L393.1,143.2L394.0,140.0L390.2,141.6Z" fill="#b63d20"/>
<path d="M398.5,123.8L402.4,122.4L403.3,121.6L399.4,123.0Z" fill="#471a0e"/>
<path d="M390.2,141.6L394.0,140.0L395.0,137.2L391.2,138.7Z" fill="#a8331c"/>
<path d="M397.6,124.8L401.5,123.4L402.4,122.4L398.5,123.8Z" fill="#4b1b0e"/>
<path d="M391.2,138.7L395.0,137.2L395.9,134.5L392.1,136.0Z" fill="#9a2b19"/>
<path d="M396.7,126.1L400.6,124.7L401.5,123.4L397.6,124.8Z" fill="#511c0f"/>
<path d="M392.1,136.0L395.9,134.5L396.9,132.1L393.0,133.6Z" fill="#892817"/>
<path d="M395.8,127.6L399.6,126.2L400.6,124.7L396.7,126.1Z" fill="#591e10"/>
<path d="M393.0,133.6L396.9,132.1L397.8,129.9L394.0,131.4Z" fill="#7b2515"/>
<path d="M394.9,129.4L398.7,127.9L399.6,126.2L395.8,127.6Z" fill="#622011"/>
<path d="M394.0,131.4L397.8,129.9L398.7,127.9L394.9,129.4Z" fill="#6d2213"/>
</g>
<line x1="308.5" y1="119.0" x2="288.2" y2="107.7" stroke="#f01010" stroke-width="2.1"/><path d="M281.7,104.0L292.0,105.0L287.8,107.4L287.9,112.3Z" fill="#f01010"/>
<line x1="308.5" y1="119.0" x2="334.7" y2="131.4" stroke="#f01010" stroke-width="2.1"/><path d="M341.5,134.6L331.1,134.3L335.2,131.6L334.7,126.7Z" fill="#f01010"/>
<line x1="308.5" y1="119.0" x2="327.4" y2="106.5" stroke="#1010f0" stroke-width="2.1"/><path d="M333.6,102.3L328.0,111.1L327.8,106.2L323.4,104.1Z" fill="#1010f0"/>
<line x1="308.5" y1="119.0" x2="287.7" y2="132.1" stroke="#1010f0" stroke-width="2.1"/><path d="M281.4,136.1L287.2,127.5L287.3,132.4L291.7,134.6Z" fill="#1010f0"/>
<circle cx="308.5" cy="119.0" r="4.2" fill="#000"/>
<line x1="379.3" y1="173" x2="568.7" y2="276.7" stroke="#f03a3a" stroke-width="2"/>
</svg></body></html>
